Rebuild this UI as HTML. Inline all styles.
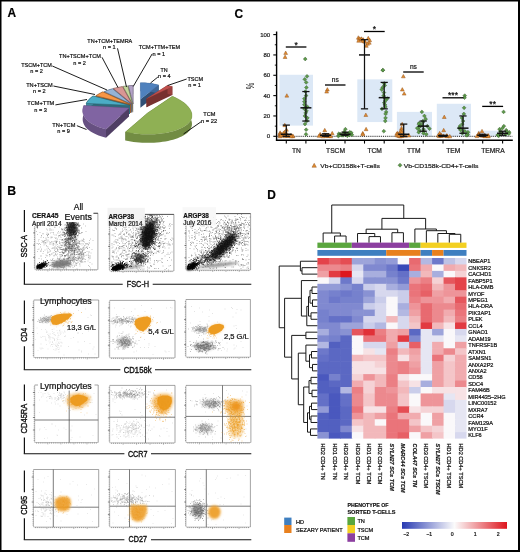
<!DOCTYPE html>
<html><head><meta charset="utf-8"><style>
html,body{margin:0;padding:0;background:#fff;width:520px;height:552px;overflow:hidden;font-family:"Liberation Sans",sans-serif;}
svg{display:block;will-change:transform}
</style></head><body>
<svg width="520" height="552" viewBox="0 0 520 552" font-family="Liberation Sans, sans-serif"><text x="7.5" y="17.4" font-size="11.9" font-weight="bold" fill="#000" stroke="#000" stroke-width="0.18">A</text>
<text x="7.3" y="195.1" font-size="12.3" font-weight="bold" fill="#000" stroke="#000" stroke-width="0.18">B</text>
<text x="234.6" y="17.9" font-size="11.9" font-weight="bold" fill="#000" stroke="#000" stroke-width="0.18">C</text>
<text x="267.3" y="199.2" font-size="11.9" font-weight="bold" fill="#000" stroke="#000" stroke-width="0.18">D</text>
<rect x="279.50" y="74.77" width="33.50" height="50.85" fill="#dce8f6"/>
<rect x="357.30" y="79.35" width="35.00" height="42.71" fill="#dce8f6"/>
<rect x="396.90" y="111.89" width="35.10" height="24.41" fill="#dce8f6"/>
<rect x="436.80" y="103.76" width="34.20" height="32.54" fill="#dce8f6"/>
<rect x="477.70" y="130.71" width="30.30" height="5.59" fill="#dce8f6"/>
<line x1="276.60" y1="136.30" x2="512.50" y2="136.30" stroke="#000" stroke-width="0.9" stroke-dasharray="1,0.9"/>
<line x1="276.60" y1="31.50" x2="276.60" y2="140.80" stroke="#000" stroke-width="1.4"/>
<line x1="273.30" y1="136.30" x2="276.60" y2="136.30" stroke="#000" stroke-width="1.1"/>
<text x="270.2" y="138.45000000000002" font-size="6" text-anchor="end" fill="#222" stroke="#222" stroke-width="0.22">0</text>
<line x1="273.30" y1="115.96" x2="276.60" y2="115.96" stroke="#000" stroke-width="1.1"/>
<text x="270.2" y="118.11000000000001" font-size="6" text-anchor="end" fill="#222" stroke="#222" stroke-width="0.22">20</text>
<line x1="273.30" y1="95.62" x2="276.60" y2="95.62" stroke="#000" stroke-width="1.1"/>
<text x="270.2" y="97.77000000000002" font-size="6" text-anchor="end" fill="#222" stroke="#222" stroke-width="0.22">40</text>
<line x1="273.30" y1="75.28" x2="276.60" y2="75.28" stroke="#000" stroke-width="1.1"/>
<text x="270.2" y="77.43000000000002" font-size="6" text-anchor="end" fill="#222" stroke="#222" stroke-width="0.22">60</text>
<line x1="273.30" y1="54.94" x2="276.60" y2="54.94" stroke="#000" stroke-width="1.1"/>
<text x="270.2" y="57.090000000000025" font-size="6" text-anchor="end" fill="#222" stroke="#222" stroke-width="0.22">80</text>
<line x1="273.30" y1="34.60" x2="276.60" y2="34.60" stroke="#000" stroke-width="1.1"/>
<text x="270.2" y="36.75000000000002" font-size="6" text-anchor="end" fill="#222" stroke="#222" stroke-width="0.22">100</text>
<line x1="274.80" y1="126.13" x2="276.60" y2="126.13" stroke="#000" stroke-width="0.9"/>
<line x1="274.80" y1="105.79" x2="276.60" y2="105.79" stroke="#000" stroke-width="0.9"/>
<line x1="274.80" y1="85.45" x2="276.60" y2="85.45" stroke="#000" stroke-width="0.9"/>
<line x1="274.80" y1="65.11" x2="276.60" y2="65.11" stroke="#000" stroke-width="0.9"/>
<line x1="274.80" y1="44.77" x2="276.60" y2="44.77" stroke="#000" stroke-width="0.9"/>
<text x="254.0" y="85.9" font-size="10.5" text-anchor="middle" textLength="6.6" lengthAdjust="spacingAndGlyphs" transform="rotate(-90 254.0 85.9)" fill="#222" stroke="#222" stroke-width="0.05">%</text>
<line x1="275.90" y1="140.30" x2="512.80" y2="140.30" stroke="#000" stroke-width="1.6"/>
<line x1="286.30" y1="140.30" x2="286.30" y2="143.60" stroke="#000" stroke-width="1.1"/>
<line x1="325.50" y1="140.30" x2="325.50" y2="143.60" stroke="#000" stroke-width="1.1"/>
<line x1="364.50" y1="140.30" x2="364.50" y2="143.60" stroke="#000" stroke-width="1.1"/>
<line x1="403.70" y1="140.30" x2="403.70" y2="143.60" stroke="#000" stroke-width="1.1"/>
<line x1="443.00" y1="140.30" x2="443.00" y2="143.60" stroke="#000" stroke-width="1.1"/>
<line x1="482.70" y1="140.30" x2="482.70" y2="143.60" stroke="#000" stroke-width="1.1"/>
<line x1="305.90" y1="140.30" x2="305.90" y2="143.60" stroke="#000" stroke-width="1.1"/>
<line x1="345.00" y1="140.30" x2="345.00" y2="143.60" stroke="#000" stroke-width="1.1"/>
<line x1="384.20" y1="140.30" x2="384.20" y2="143.60" stroke="#000" stroke-width="1.1"/>
<line x1="423.20" y1="140.30" x2="423.20" y2="143.60" stroke="#000" stroke-width="1.1"/>
<line x1="463.00" y1="140.30" x2="463.00" y2="143.60" stroke="#000" stroke-width="1.1"/>
<line x1="502.60" y1="140.30" x2="502.60" y2="143.60" stroke="#000" stroke-width="1.1"/>
<text x="296.40000000000003" y="153.2" font-size="6.7" text-anchor="middle" fill="#222" stroke="#222" stroke-width="0.22">TN</text>
<text x="335.55" y="153.2" font-size="6.7" text-anchor="middle" fill="#222" stroke="#222" stroke-width="0.22">TSCM</text>
<text x="374.65000000000003" y="153.2" font-size="6.7" text-anchor="middle" fill="#222" stroke="#222" stroke-width="0.22">TCM</text>
<text x="413.75" y="153.2" font-size="6.7" text-anchor="middle" fill="#222" stroke="#222" stroke-width="0.22">TTM</text>
<text x="453.3" y="153.2" font-size="6.7" text-anchor="middle" fill="#222" stroke="#222" stroke-width="0.22">TEM</text>
<text x="492.95" y="153.2" font-size="6.7" text-anchor="middle" fill="#222" stroke="#222" stroke-width="0.22">TEMRA</text>
<path d="M285.68,51.01L287.58,54.43L283.78,54.43Z" fill="#e08c30" stroke="#8f501c" stroke-width="0.45" fill-opacity="1"/>
<path d="M285.08,55.07L286.98,58.49L283.18,58.49Z" fill="#e08c30" stroke="#8f501c" stroke-width="0.45" fill-opacity="1"/>
<path d="M286.83,93.72L288.73,97.14L284.93,97.14Z" fill="#e08c30" stroke="#8f501c" stroke-width="0.45" fill-opacity="1"/>
<path d="M284.80,123.21L286.70,126.63L282.90,126.63Z" fill="#e08c30" stroke="#8f501c" stroke-width="0.45" fill-opacity="1"/>
<path d="M286.48,127.79L288.38,131.21L284.58,131.21Z" fill="#e08c30" stroke="#8f501c" stroke-width="0.45" fill-opacity="1"/>
<path d="M284.42,130.33L286.32,133.75L282.52,133.75Z" fill="#e08c30" stroke="#8f501c" stroke-width="0.45" fill-opacity="1"/>
<path d="M280.11,130.84L282.01,134.26L278.21,134.26Z" fill="#e08c30" stroke="#8f501c" stroke-width="0.45" fill-opacity="1"/>
<path d="M286.40,131.35L288.30,134.77L284.50,134.77Z" fill="#e08c30" stroke="#8f501c" stroke-width="0.45" fill-opacity="1"/>
<path d="M279.82,131.86L281.72,135.28L277.92,135.28Z" fill="#e08c30" stroke="#8f501c" stroke-width="0.45" fill-opacity="1"/>
<path d="M285.37,132.37L287.27,135.79L283.47,135.79Z" fill="#e08c30" stroke="#8f501c" stroke-width="0.45" fill-opacity="1"/>
<path d="M280.28,132.37L282.18,135.79L278.38,135.79Z" fill="#e08c30" stroke="#8f501c" stroke-width="0.45" fill-opacity="1"/>
<path d="M280.57,132.87L282.47,136.29L278.67,136.29Z" fill="#e08c30" stroke="#8f501c" stroke-width="0.45" fill-opacity="1"/>
<path d="M285.24,132.87L287.14,136.29L283.34,136.29Z" fill="#e08c30" stroke="#8f501c" stroke-width="0.45" fill-opacity="1"/>
<path d="M290.88,133.38L292.78,136.80L288.98,136.80Z" fill="#e08c30" stroke="#8f501c" stroke-width="0.45" fill-opacity="1"/>
<path d="M281.03,133.38L282.93,136.80L279.13,136.80Z" fill="#e08c30" stroke="#8f501c" stroke-width="0.45" fill-opacity="1"/>
<path d="M282.43,133.59L284.33,137.01L280.53,137.01Z" fill="#e08c30" stroke="#8f501c" stroke-width="0.45" fill-opacity="1"/>
<path d="M288.08,133.89L289.98,137.31L286.18,137.31Z" fill="#e08c30" stroke="#8f501c" stroke-width="0.45" fill-opacity="1"/>
<path d="M292.57,133.89L294.47,137.31L290.67,137.31Z" fill="#e08c30" stroke="#8f501c" stroke-width="0.45" fill-opacity="1"/>
<path d="M287.38,134.09L289.28,137.51L285.48,137.51Z" fill="#e08c30" stroke="#8f501c" stroke-width="0.45" fill-opacity="1"/>
<path d="M284.85,134.20L286.75,137.62L282.95,137.62Z" fill="#e08c30" stroke="#8f501c" stroke-width="0.45" fill-opacity="1"/>
<path d="M292.97,134.30L294.87,137.72L291.07,137.72Z" fill="#e08c30" stroke="#8f501c" stroke-width="0.45" fill-opacity="1"/>
<path d="M279.95,134.40L281.85,137.82L278.05,137.82Z" fill="#e08c30" stroke="#8f501c" stroke-width="0.45" fill-opacity="1"/>
<path d="M291.32,134.40L293.22,137.82L289.42,137.82Z" fill="#e08c30" stroke="#8f501c" stroke-width="0.45" fill-opacity="1"/>
<path d="M283.35,131.35L285.25,134.77L281.45,134.77Z" fill="#e08c30" stroke="#8f501c" stroke-width="0.45" fill-opacity="1"/>
<path d="M281.32,132.37L283.22,135.79L279.42,135.79Z" fill="#e08c30" stroke="#8f501c" stroke-width="0.45" fill-opacity="1"/>
<path d="M280.95,133.38L282.85,136.80L279.05,136.80Z" fill="#e08c30" stroke="#8f501c" stroke-width="0.45" fill-opacity="1"/>
<path d="M305.23,57.11L307.13,59.01L305.23,60.91L303.33,59.01Z" fill="#5c9a4a" stroke="#3a5a30" stroke-width="0.45" fill-opacity="1"/>
<path d="M307.01,74.40L308.91,76.30L307.01,78.20L305.11,76.30Z" fill="#5c9a4a" stroke="#3a5a30" stroke-width="0.45" fill-opacity="1"/>
<path d="M304.78,77.45L306.68,79.35L304.78,81.25L302.88,79.35Z" fill="#5c9a4a" stroke="#3a5a30" stroke-width="0.45" fill-opacity="1"/>
<path d="M306.19,80.50L308.09,82.40L306.19,84.30L304.29,82.40Z" fill="#5c9a4a" stroke="#3a5a30" stroke-width="0.45" fill-opacity="1"/>
<path d="M306.39,85.58L308.29,87.48L306.39,89.38L304.49,87.48Z" fill="#5c9a4a" stroke="#3a5a30" stroke-width="0.45" fill-opacity="1"/>
<path d="M305.45,89.65L307.35,91.55L305.45,93.45L303.55,91.55Z" fill="#5c9a4a" stroke="#3a5a30" stroke-width="0.45" fill-opacity="1"/>
<path d="M306.07,93.72L307.97,95.62L306.07,97.52L304.17,95.62Z" fill="#5c9a4a" stroke="#3a5a30" stroke-width="0.45" fill-opacity="1"/>
<path d="M304.37,96.77L306.27,98.67L304.37,100.57L302.47,98.67Z" fill="#5c9a4a" stroke="#3a5a30" stroke-width="0.45" fill-opacity="1"/>
<path d="M304.36,99.82L306.26,101.72L304.36,103.62L302.46,101.72Z" fill="#5c9a4a" stroke="#3a5a30" stroke-width="0.45" fill-opacity="1"/>
<path d="M304.43,102.87L306.33,104.77L304.43,106.67L302.53,104.77Z" fill="#5c9a4a" stroke="#3a5a30" stroke-width="0.45" fill-opacity="1"/>
<path d="M307.34,104.91L309.24,106.81L307.34,108.71L305.44,106.81Z" fill="#5c9a4a" stroke="#3a5a30" stroke-width="0.45" fill-opacity="1"/>
<path d="M305.43,105.92L307.33,107.82L305.43,109.72L303.53,107.82Z" fill="#5c9a4a" stroke="#3a5a30" stroke-width="0.45" fill-opacity="1"/>
<path d="M304.41,106.94L306.31,108.84L304.41,110.74L302.51,108.84Z" fill="#5c9a4a" stroke="#3a5a30" stroke-width="0.45" fill-opacity="1"/>
<path d="M306.46,108.98L308.36,110.88L306.46,112.78L304.56,110.88Z" fill="#5c9a4a" stroke="#3a5a30" stroke-width="0.45" fill-opacity="1"/>
<path d="M305.67,111.01L307.57,112.91L305.67,114.81L303.77,112.91Z" fill="#5c9a4a" stroke="#3a5a30" stroke-width="0.45" fill-opacity="1"/>
<path d="M304.90,114.06L306.80,115.96L304.90,117.86L303.00,115.96Z" fill="#5c9a4a" stroke="#3a5a30" stroke-width="0.45" fill-opacity="1"/>
<path d="M307.37,116.09L309.27,117.99L307.37,119.89L305.47,117.99Z" fill="#5c9a4a" stroke="#3a5a30" stroke-width="0.45" fill-opacity="1"/>
<path d="M306.60,119.15L308.50,121.05L306.60,122.95L304.70,121.05Z" fill="#5c9a4a" stroke="#3a5a30" stroke-width="0.45" fill-opacity="1"/>
<path d="M305.00,122.20L306.90,124.10L305.00,126.00L303.10,124.10Z" fill="#5c9a4a" stroke="#3a5a30" stroke-width="0.45" fill-opacity="1"/>
<path d="M306.16,127.79L308.06,129.69L306.16,131.59L304.26,129.69Z" fill="#5c9a4a" stroke="#3a5a30" stroke-width="0.45" fill-opacity="1"/>
<path d="M305.99,132.37L307.89,134.27L305.99,136.17L304.09,134.27Z" fill="#5c9a4a" stroke="#3a5a30" stroke-width="0.45" fill-opacity="1"/>
<path d="M327.38,87.62L329.28,91.04L325.48,91.04Z" fill="#e08c30" stroke="#8f501c" stroke-width="0.45" fill-opacity="1"/>
<path d="M326.65,89.65L328.55,93.07L324.75,93.07Z" fill="#e08c30" stroke="#8f501c" stroke-width="0.45" fill-opacity="1"/>
<path d="M324.76,128.30L326.66,131.72L322.86,131.72Z" fill="#e08c30" stroke="#8f501c" stroke-width="0.45" fill-opacity="1"/>
<path d="M332.22,131.35L334.12,134.77L330.32,134.77Z" fill="#e08c30" stroke="#8f501c" stroke-width="0.45" fill-opacity="1"/>
<path d="M320.15,132.37L322.05,135.79L318.25,135.79Z" fill="#e08c30" stroke="#8f501c" stroke-width="0.45" fill-opacity="1"/>
<path d="M324.35,132.87L326.25,136.29L322.45,136.29Z" fill="#e08c30" stroke="#8f501c" stroke-width="0.45" fill-opacity="1"/>
<path d="M329.10,133.38L331.00,136.80L327.20,136.80Z" fill="#e08c30" stroke="#8f501c" stroke-width="0.45" fill-opacity="1"/>
<path d="M320.63,133.38L322.53,136.80L318.73,136.80Z" fill="#e08c30" stroke="#8f501c" stroke-width="0.45" fill-opacity="1"/>
<path d="M325.35,133.59L327.25,137.01L323.45,137.01Z" fill="#e08c30" stroke="#8f501c" stroke-width="0.45" fill-opacity="1"/>
<path d="M319.05,133.89L320.95,137.31L317.15,137.31Z" fill="#e08c30" stroke="#8f501c" stroke-width="0.45" fill-opacity="1"/>
<path d="M327.86,133.89L329.76,137.31L325.96,137.31Z" fill="#e08c30" stroke="#8f501c" stroke-width="0.45" fill-opacity="1"/>
<path d="M329.20,134.09L331.10,137.51L327.30,137.51Z" fill="#e08c30" stroke="#8f501c" stroke-width="0.45" fill-opacity="1"/>
<path d="M326.52,134.20L328.42,137.62L324.62,137.62Z" fill="#e08c30" stroke="#8f501c" stroke-width="0.45" fill-opacity="1"/>
<path d="M330.76,134.30L332.66,137.72L328.86,137.72Z" fill="#e08c30" stroke="#8f501c" stroke-width="0.45" fill-opacity="1"/>
<path d="M322.89,134.40L324.79,137.82L320.99,137.82Z" fill="#e08c30" stroke="#8f501c" stroke-width="0.45" fill-opacity="1"/>
<path d="M328.23,133.79L330.13,137.21L326.33,137.21Z" fill="#e08c30" stroke="#8f501c" stroke-width="0.45" fill-opacity="1"/>
<path d="M326.82,133.18L328.72,136.60L324.92,136.60Z" fill="#e08c30" stroke="#8f501c" stroke-width="0.45" fill-opacity="1"/>
<path d="M345.40,127.28L347.30,129.18L345.40,131.08L343.50,129.18Z" fill="#5c9a4a" stroke="#3a5a30" stroke-width="0.45" fill-opacity="1"/>
<path d="M344.39,129.82L346.29,131.72L344.39,133.62L342.49,131.72Z" fill="#5c9a4a" stroke="#3a5a30" stroke-width="0.45" fill-opacity="1"/>
<path d="M349.76,130.33L351.66,132.23L349.76,134.13L347.86,132.23Z" fill="#5c9a4a" stroke="#3a5a30" stroke-width="0.45" fill-opacity="1"/>
<path d="M351.23,130.84L353.13,132.74L351.23,134.64L349.33,132.74Z" fill="#5c9a4a" stroke="#3a5a30" stroke-width="0.45" fill-opacity="1"/>
<path d="M344.64,131.35L346.54,133.25L344.64,135.15L342.74,133.25Z" fill="#5c9a4a" stroke="#3a5a30" stroke-width="0.45" fill-opacity="1"/>
<path d="M347.30,131.86L349.20,133.76L347.30,135.66L345.40,133.76Z" fill="#5c9a4a" stroke="#3a5a30" stroke-width="0.45" fill-opacity="1"/>
<path d="M338.85,131.86L340.75,133.76L338.85,135.66L336.95,133.76Z" fill="#5c9a4a" stroke="#3a5a30" stroke-width="0.45" fill-opacity="1"/>
<path d="M347.82,132.37L349.72,134.27L347.82,136.17L345.92,134.27Z" fill="#5c9a4a" stroke="#3a5a30" stroke-width="0.45" fill-opacity="1"/>
<path d="M347.06,132.37L348.96,134.27L347.06,136.17L345.16,134.27Z" fill="#5c9a4a" stroke="#3a5a30" stroke-width="0.45" fill-opacity="1"/>
<path d="M351.90,132.87L353.80,134.77L351.90,136.67L350.00,134.77Z" fill="#5c9a4a" stroke="#3a5a30" stroke-width="0.45" fill-opacity="1"/>
<path d="M349.51,132.87L351.41,134.77L349.51,136.67L347.61,134.77Z" fill="#5c9a4a" stroke="#3a5a30" stroke-width="0.45" fill-opacity="1"/>
<path d="M341.98,133.38L343.88,135.28L341.98,137.18L340.08,135.28Z" fill="#5c9a4a" stroke="#3a5a30" stroke-width="0.45" fill-opacity="1"/>
<path d="M343.40,133.38L345.30,135.28L343.40,137.18L341.50,135.28Z" fill="#5c9a4a" stroke="#3a5a30" stroke-width="0.45" fill-opacity="1"/>
<path d="M347.36,133.89L349.26,135.79L347.36,137.69L345.46,135.79Z" fill="#5c9a4a" stroke="#3a5a30" stroke-width="0.45" fill-opacity="1"/>
<path d="M338.32,134.09L340.22,135.99L338.32,137.89L336.42,135.99Z" fill="#5c9a4a" stroke="#3a5a30" stroke-width="0.45" fill-opacity="1"/>
<path d="M344.46,131.35L346.36,133.25L344.46,135.15L342.56,133.25Z" fill="#5c9a4a" stroke="#3a5a30" stroke-width="0.45" fill-opacity="1"/>
<path d="M340.35,132.37L342.25,134.27L340.35,136.17L338.45,134.27Z" fill="#5c9a4a" stroke="#3a5a30" stroke-width="0.45" fill-opacity="1"/>
<path d="M339.64,133.18L341.54,135.08L339.64,136.98L337.74,135.08Z" fill="#5c9a4a" stroke="#3a5a30" stroke-width="0.45" fill-opacity="1"/>
<path d="M358.33,35.75L360.23,39.17L356.43,39.17Z" fill="#e08c30" stroke="#8f501c" stroke-width="0.45" fill-opacity="1"/>
<path d="M368.26,36.26L370.16,39.68L366.36,39.68Z" fill="#e08c30" stroke="#8f501c" stroke-width="0.45" fill-opacity="1"/>
<path d="M359.31,36.77L361.21,40.19L357.41,40.19Z" fill="#e08c30" stroke="#8f501c" stroke-width="0.45" fill-opacity="1"/>
<path d="M360.97,37.28L362.87,40.70L359.07,40.70Z" fill="#e08c30" stroke="#8f501c" stroke-width="0.45" fill-opacity="1"/>
<path d="M362.97,37.79L364.87,41.21L361.07,41.21Z" fill="#e08c30" stroke="#8f501c" stroke-width="0.45" fill-opacity="1"/>
<path d="M369.70,38.29L371.60,41.71L367.80,41.71Z" fill="#e08c30" stroke="#8f501c" stroke-width="0.45" fill-opacity="1"/>
<path d="M358.63,38.80L360.53,42.22L356.73,42.22Z" fill="#e08c30" stroke="#8f501c" stroke-width="0.45" fill-opacity="1"/>
<path d="M363.79,39.31L365.69,42.73L361.89,42.73Z" fill="#e08c30" stroke="#8f501c" stroke-width="0.45" fill-opacity="1"/>
<path d="M365.19,39.82L367.09,43.24L363.29,43.24Z" fill="#e08c30" stroke="#8f501c" stroke-width="0.45" fill-opacity="1"/>
<path d="M369.29,40.84L371.19,44.26L367.39,44.26Z" fill="#e08c30" stroke="#8f501c" stroke-width="0.45" fill-opacity="1"/>
<path d="M367.53,41.85L369.43,45.27L365.63,45.27Z" fill="#e08c30" stroke="#8f501c" stroke-width="0.45" fill-opacity="1"/>
<path d="M366.32,43.89L368.22,47.31L364.42,47.31Z" fill="#e08c30" stroke="#8f501c" stroke-width="0.45" fill-opacity="1"/>
<path d="M361.40,36.77L363.30,40.19L359.50,40.19Z" fill="#e08c30" stroke="#8f501c" stroke-width="0.45" fill-opacity="1"/>
<path d="M363.31,37.79L365.21,41.21L361.41,41.21Z" fill="#e08c30" stroke="#8f501c" stroke-width="0.45" fill-opacity="1"/>
<path d="M362.52,38.80L364.42,42.22L360.62,42.22Z" fill="#e08c30" stroke="#8f501c" stroke-width="0.45" fill-opacity="1"/>
<path d="M365.84,113.04L367.74,116.46L363.94,116.46Z" fill="#e08c30" stroke="#8f501c" stroke-width="0.45" fill-opacity="1"/>
<path d="M366.10,127.28L368.00,130.70L364.20,130.70Z" fill="#e08c30" stroke="#8f501c" stroke-width="0.45" fill-opacity="1"/>
<path d="M362.75,131.35L364.65,134.77L360.85,134.77Z" fill="#e08c30" stroke="#8f501c" stroke-width="0.45" fill-opacity="1"/>
<path d="M362.88,132.37L364.78,135.79L360.98,135.79Z" fill="#e08c30" stroke="#8f501c" stroke-width="0.45" fill-opacity="1"/>
<path d="M382.86,68.30L384.76,70.20L382.86,72.10L380.96,70.20Z" fill="#5c9a4a" stroke="#3a5a30" stroke-width="0.45" fill-opacity="1"/>
<path d="M382.87,68.30L384.77,70.20L382.87,72.10L380.97,70.20Z" fill="#5c9a4a" stroke="#3a5a30" stroke-width="0.45" fill-opacity="1"/>
<path d="M384.12,81.52L386.02,83.42L384.12,85.32L382.22,83.42Z" fill="#5c9a4a" stroke="#3a5a30" stroke-width="0.45" fill-opacity="1"/>
<path d="M384.78,83.55L386.68,85.45L384.78,87.35L382.88,85.45Z" fill="#5c9a4a" stroke="#3a5a30" stroke-width="0.45" fill-opacity="1"/>
<path d="M382.66,85.58L384.56,87.48L382.66,89.38L380.76,87.48Z" fill="#5c9a4a" stroke="#3a5a30" stroke-width="0.45" fill-opacity="1"/>
<path d="M381.72,87.62L383.62,89.52L381.72,91.42L379.82,89.52Z" fill="#5c9a4a" stroke="#3a5a30" stroke-width="0.45" fill-opacity="1"/>
<path d="M383.92,90.67L385.82,92.57L383.92,94.47L382.02,92.57Z" fill="#5c9a4a" stroke="#3a5a30" stroke-width="0.45" fill-opacity="1"/>
<path d="M383.55,93.72L385.45,95.62L383.55,97.52L381.65,95.62Z" fill="#5c9a4a" stroke="#3a5a30" stroke-width="0.45" fill-opacity="1"/>
<path d="M384.63,95.75L386.53,97.65L384.63,99.55L382.73,97.65Z" fill="#5c9a4a" stroke="#3a5a30" stroke-width="0.45" fill-opacity="1"/>
<path d="M387.15,96.77L389.05,98.67L387.15,100.57L385.25,98.67Z" fill="#5c9a4a" stroke="#3a5a30" stroke-width="0.45" fill-opacity="1"/>
<path d="M385.44,98.81L387.34,100.71L385.44,102.61L383.54,100.71Z" fill="#5c9a4a" stroke="#3a5a30" stroke-width="0.45" fill-opacity="1"/>
<path d="M384.30,100.84L386.20,102.74L384.30,104.64L382.40,102.74Z" fill="#5c9a4a" stroke="#3a5a30" stroke-width="0.45" fill-opacity="1"/>
<path d="M384.96,102.87L386.86,104.77L384.96,106.67L383.06,104.77Z" fill="#5c9a4a" stroke="#3a5a30" stroke-width="0.45" fill-opacity="1"/>
<path d="M385.35,104.91L387.25,106.81L385.35,108.71L383.45,106.81Z" fill="#5c9a4a" stroke="#3a5a30" stroke-width="0.45" fill-opacity="1"/>
<path d="M381.97,106.94L383.87,108.84L381.97,110.74L380.07,108.84Z" fill="#5c9a4a" stroke="#3a5a30" stroke-width="0.45" fill-opacity="1"/>
<path d="M386.20,109.99L388.10,111.89L386.20,113.79L384.30,111.89Z" fill="#5c9a4a" stroke="#3a5a30" stroke-width="0.45" fill-opacity="1"/>
<path d="M385.60,112.03L387.50,113.93L385.60,115.83L383.70,113.93Z" fill="#5c9a4a" stroke="#3a5a30" stroke-width="0.45" fill-opacity="1"/>
<path d="M385.51,116.09L387.41,117.99L385.51,119.89L383.61,117.99Z" fill="#5c9a4a" stroke="#3a5a30" stroke-width="0.45" fill-opacity="1"/>
<path d="M385.24,119.15L387.14,121.05L385.24,122.95L383.34,121.05Z" fill="#5c9a4a" stroke="#3a5a30" stroke-width="0.45" fill-opacity="1"/>
<path d="M383.82,129.31L385.72,131.22L383.82,133.12L381.92,131.22Z" fill="#5c9a4a" stroke="#3a5a30" stroke-width="0.45" fill-opacity="1"/>
<path d="M403.35,74.40L405.25,77.82L401.45,77.82Z" fill="#e08c30" stroke="#8f501c" stroke-width="0.45" fill-opacity="1"/>
<path d="M402.31,87.62L404.21,91.04L400.41,91.04Z" fill="#e08c30" stroke="#8f501c" stroke-width="0.45" fill-opacity="1"/>
<path d="M404.17,91.69L406.07,95.11L402.27,95.11Z" fill="#e08c30" stroke="#8f501c" stroke-width="0.45" fill-opacity="1"/>
<path d="M402.17,122.20L404.07,125.62L400.27,125.62Z" fill="#e08c30" stroke="#8f501c" stroke-width="0.45" fill-opacity="1"/>
<path d="M401.54,126.26L403.44,129.68L399.64,129.68Z" fill="#e08c30" stroke="#8f501c" stroke-width="0.45" fill-opacity="1"/>
<path d="M401.37,128.30L403.27,131.72L399.47,131.72Z" fill="#e08c30" stroke="#8f501c" stroke-width="0.45" fill-opacity="1"/>
<path d="M400.49,129.31L402.39,132.74L398.59,132.74Z" fill="#e08c30" stroke="#8f501c" stroke-width="0.45" fill-opacity="1"/>
<path d="M401.70,130.33L403.60,133.75L399.80,133.75Z" fill="#e08c30" stroke="#8f501c" stroke-width="0.45" fill-opacity="1"/>
<path d="M397.44,131.35L399.34,134.77L395.54,134.77Z" fill="#e08c30" stroke="#8f501c" stroke-width="0.45" fill-opacity="1"/>
<path d="M396.70,131.86L398.60,135.28L394.80,135.28Z" fill="#e08c30" stroke="#8f501c" stroke-width="0.45" fill-opacity="1"/>
<path d="M398.82,132.37L400.72,135.79L396.92,135.79Z" fill="#e08c30" stroke="#8f501c" stroke-width="0.45" fill-opacity="1"/>
<path d="M398.12,132.87L400.02,136.29L396.22,136.29Z" fill="#e08c30" stroke="#8f501c" stroke-width="0.45" fill-opacity="1"/>
<path d="M401.79,133.38L403.69,136.80L399.89,136.80Z" fill="#e08c30" stroke="#8f501c" stroke-width="0.45" fill-opacity="1"/>
<path d="M397.06,133.38L398.96,136.80L395.16,136.80Z" fill="#e08c30" stroke="#8f501c" stroke-width="0.45" fill-opacity="1"/>
<path d="M408.94,133.59L410.84,137.01L407.04,137.01Z" fill="#e08c30" stroke="#8f501c" stroke-width="0.45" fill-opacity="1"/>
<path d="M405.30,133.89L407.20,137.31L403.40,137.31Z" fill="#e08c30" stroke="#8f501c" stroke-width="0.45" fill-opacity="1"/>
<path d="M398.78,134.09L400.68,137.51L396.88,137.51Z" fill="#e08c30" stroke="#8f501c" stroke-width="0.45" fill-opacity="1"/>
<path d="M400.23,134.40L402.13,137.82L398.33,137.82Z" fill="#e08c30" stroke="#8f501c" stroke-width="0.45" fill-opacity="1"/>
<path d="M401.56,134.20L403.46,137.62L399.66,137.62Z" fill="#e08c30" stroke="#8f501c" stroke-width="0.45" fill-opacity="1"/>
<path d="M401.80,133.79L403.70,137.21L399.90,137.21Z" fill="#e08c30" stroke="#8f501c" stroke-width="0.45" fill-opacity="1"/>
<path d="M421.88,109.99L423.78,111.89L421.88,113.79L419.98,111.89Z" fill="#5c9a4a" stroke="#3a5a30" stroke-width="0.45" fill-opacity="1"/>
<path d="M424.42,114.06L426.32,115.96L424.42,117.86L422.52,115.96Z" fill="#5c9a4a" stroke="#3a5a30" stroke-width="0.45" fill-opacity="1"/>
<path d="M425.67,117.11L427.57,119.01L425.67,120.91L423.77,119.01Z" fill="#5c9a4a" stroke="#3a5a30" stroke-width="0.45" fill-opacity="1"/>
<path d="M422.93,119.15L424.83,121.05L422.93,122.95L421.03,121.05Z" fill="#5c9a4a" stroke="#3a5a30" stroke-width="0.45" fill-opacity="1"/>
<path d="M423.07,120.16L424.97,122.06L423.07,123.96L421.17,122.06Z" fill="#5c9a4a" stroke="#3a5a30" stroke-width="0.45" fill-opacity="1"/>
<path d="M419.27,121.18L421.17,123.08L419.27,124.98L417.37,123.08Z" fill="#5c9a4a" stroke="#3a5a30" stroke-width="0.45" fill-opacity="1"/>
<path d="M418.82,122.20L420.72,124.10L418.82,126.00L416.92,124.10Z" fill="#5c9a4a" stroke="#3a5a30" stroke-width="0.45" fill-opacity="1"/>
<path d="M421.47,123.21L423.37,125.11L421.47,127.01L419.57,125.11Z" fill="#5c9a4a" stroke="#3a5a30" stroke-width="0.45" fill-opacity="1"/>
<path d="M420.26,124.23L422.16,126.13L420.26,128.03L418.36,126.13Z" fill="#5c9a4a" stroke="#3a5a30" stroke-width="0.45" fill-opacity="1"/>
<path d="M427.31,124.23L429.21,126.13L427.31,128.03L425.41,126.13Z" fill="#5c9a4a" stroke="#3a5a30" stroke-width="0.45" fill-opacity="1"/>
<path d="M418.97,125.25L420.87,127.15L418.97,129.05L417.07,127.15Z" fill="#5c9a4a" stroke="#3a5a30" stroke-width="0.45" fill-opacity="1"/>
<path d="M417.24,126.26L419.14,128.16L417.24,130.06L415.34,128.16Z" fill="#5c9a4a" stroke="#3a5a30" stroke-width="0.45" fill-opacity="1"/>
<path d="M429.51,126.77L431.41,128.67L429.51,130.57L427.61,128.67Z" fill="#5c9a4a" stroke="#3a5a30" stroke-width="0.45" fill-opacity="1"/>
<path d="M423.51,127.28L425.41,129.18L423.51,131.08L421.61,129.18Z" fill="#5c9a4a" stroke="#3a5a30" stroke-width="0.45" fill-opacity="1"/>
<path d="M419.31,128.30L421.21,130.20L419.31,132.10L417.41,130.20Z" fill="#5c9a4a" stroke="#3a5a30" stroke-width="0.45" fill-opacity="1"/>
<path d="M423.67,129.31L425.57,131.22L423.67,133.12L421.77,131.22Z" fill="#5c9a4a" stroke="#3a5a30" stroke-width="0.45" fill-opacity="1"/>
<path d="M418.71,130.33L420.61,132.23L418.71,134.13L416.81,132.23Z" fill="#5c9a4a" stroke="#3a5a30" stroke-width="0.45" fill-opacity="1"/>
<path d="M423.42,131.35L425.32,133.25L423.42,135.15L421.52,133.25Z" fill="#5c9a4a" stroke="#3a5a30" stroke-width="0.45" fill-opacity="1"/>
<path d="M426.31,132.37L428.21,134.27L426.31,136.17L424.41,134.27Z" fill="#5c9a4a" stroke="#3a5a30" stroke-width="0.45" fill-opacity="1"/>
<path d="M444.27,115.08L446.17,118.50L442.37,118.50Z" fill="#e08c30" stroke="#8f501c" stroke-width="0.45" fill-opacity="1"/>
<path d="M443.69,128.30L445.59,131.72L441.79,131.72Z" fill="#e08c30" stroke="#8f501c" stroke-width="0.45" fill-opacity="1"/>
<path d="M439.66,131.35L441.56,134.77L437.76,134.77Z" fill="#e08c30" stroke="#8f501c" stroke-width="0.45" fill-opacity="1"/>
<path d="M441.13,132.87L443.03,136.29L439.23,136.29Z" fill="#e08c30" stroke="#8f501c" stroke-width="0.45" fill-opacity="1"/>
<path d="M438.34,133.38L440.24,136.80L436.44,136.80Z" fill="#e08c30" stroke="#8f501c" stroke-width="0.45" fill-opacity="1"/>
<path d="M446.81,133.59L448.71,137.01L444.91,137.01Z" fill="#e08c30" stroke="#8f501c" stroke-width="0.45" fill-opacity="1"/>
<path d="M443.46,133.89L445.36,137.31L441.56,137.31Z" fill="#e08c30" stroke="#8f501c" stroke-width="0.45" fill-opacity="1"/>
<path d="M446.91,133.99L448.81,137.41L445.01,137.41Z" fill="#e08c30" stroke="#8f501c" stroke-width="0.45" fill-opacity="1"/>
<path d="M440.62,134.09L442.52,137.51L438.72,137.51Z" fill="#e08c30" stroke="#8f501c" stroke-width="0.45" fill-opacity="1"/>
<path d="M439.12,134.20L441.02,137.62L437.22,137.62Z" fill="#e08c30" stroke="#8f501c" stroke-width="0.45" fill-opacity="1"/>
<path d="M447.36,134.30L449.26,137.72L445.46,137.72Z" fill="#e08c30" stroke="#8f501c" stroke-width="0.45" fill-opacity="1"/>
<path d="M449.79,134.40L451.69,137.82L447.89,137.82Z" fill="#e08c30" stroke="#8f501c" stroke-width="0.45" fill-opacity="1"/>
<path d="M464.76,93.72L466.66,95.62L464.76,97.52L462.86,95.62Z" fill="#5c9a4a" stroke="#3a5a30" stroke-width="0.45" fill-opacity="1"/>
<path d="M464.53,95.75L466.43,97.65L464.53,99.55L462.63,97.65Z" fill="#5c9a4a" stroke="#3a5a30" stroke-width="0.45" fill-opacity="1"/>
<path d="M464.11,105.92L466.01,107.82L464.11,109.72L462.21,107.82Z" fill="#5c9a4a" stroke="#3a5a30" stroke-width="0.45" fill-opacity="1"/>
<path d="M463.84,112.03L465.74,113.93L463.84,115.83L461.94,113.93Z" fill="#5c9a4a" stroke="#3a5a30" stroke-width="0.45" fill-opacity="1"/>
<path d="M462.04,116.09L463.94,117.99L462.04,119.89L460.14,117.99Z" fill="#5c9a4a" stroke="#3a5a30" stroke-width="0.45" fill-opacity="1"/>
<path d="M463.06,119.15L464.96,121.05L463.06,122.95L461.16,121.05Z" fill="#5c9a4a" stroke="#3a5a30" stroke-width="0.45" fill-opacity="1"/>
<path d="M462.28,122.20L464.18,124.10L462.28,126.00L460.38,124.10Z" fill="#5c9a4a" stroke="#3a5a30" stroke-width="0.45" fill-opacity="1"/>
<path d="M459.94,124.23L461.84,126.13L459.94,128.03L458.04,126.13Z" fill="#5c9a4a" stroke="#3a5a30" stroke-width="0.45" fill-opacity="1"/>
<path d="M459.22,126.26L461.12,128.16L459.22,130.06L457.32,128.16Z" fill="#5c9a4a" stroke="#3a5a30" stroke-width="0.45" fill-opacity="1"/>
<path d="M461.24,127.28L463.14,129.18L461.24,131.08L459.34,129.18Z" fill="#5c9a4a" stroke="#3a5a30" stroke-width="0.45" fill-opacity="1"/>
<path d="M460.71,128.30L462.61,130.20L460.71,132.10L458.81,130.20Z" fill="#5c9a4a" stroke="#3a5a30" stroke-width="0.45" fill-opacity="1"/>
<path d="M464.83,129.31L466.73,131.22L464.83,133.12L462.93,131.22Z" fill="#5c9a4a" stroke="#3a5a30" stroke-width="0.45" fill-opacity="1"/>
<path d="M468.02,130.33L469.92,132.23L468.02,134.13L466.12,132.23Z" fill="#5c9a4a" stroke="#3a5a30" stroke-width="0.45" fill-opacity="1"/>
<path d="M462.42,131.35L464.32,133.25L462.42,135.15L460.52,133.25Z" fill="#5c9a4a" stroke="#3a5a30" stroke-width="0.45" fill-opacity="1"/>
<path d="M467.15,132.37L469.05,134.27L467.15,136.17L465.25,134.27Z" fill="#5c9a4a" stroke="#3a5a30" stroke-width="0.45" fill-opacity="1"/>
<path d="M467.64,132.87L469.54,134.77L467.64,136.67L465.74,134.77Z" fill="#5c9a4a" stroke="#3a5a30" stroke-width="0.45" fill-opacity="1"/>
<path d="M466.64,133.38L468.54,135.28L466.64,137.18L464.74,135.28Z" fill="#5c9a4a" stroke="#3a5a30" stroke-width="0.45" fill-opacity="1"/>
<path d="M482.02,129.31L483.92,132.74L480.12,132.74Z" fill="#e08c30" stroke="#8f501c" stroke-width="0.45" fill-opacity="1"/>
<path d="M478.79,131.35L480.69,134.77L476.89,134.77Z" fill="#e08c30" stroke="#8f501c" stroke-width="0.45" fill-opacity="1"/>
<path d="M478.88,132.37L480.78,135.79L476.98,135.79Z" fill="#e08c30" stroke="#8f501c" stroke-width="0.45" fill-opacity="1"/>
<path d="M478.45,132.87L480.35,136.29L476.55,136.29Z" fill="#e08c30" stroke="#8f501c" stroke-width="0.45" fill-opacity="1"/>
<path d="M478.56,133.38L480.46,136.80L476.66,136.80Z" fill="#e08c30" stroke="#8f501c" stroke-width="0.45" fill-opacity="1"/>
<path d="M484.44,133.38L486.34,136.80L482.54,136.80Z" fill="#e08c30" stroke="#8f501c" stroke-width="0.45" fill-opacity="1"/>
<path d="M488.30,133.59L490.20,137.01L486.40,137.01Z" fill="#e08c30" stroke="#8f501c" stroke-width="0.45" fill-opacity="1"/>
<path d="M487.47,133.79L489.37,137.21L485.57,137.21Z" fill="#e08c30" stroke="#8f501c" stroke-width="0.45" fill-opacity="1"/>
<path d="M482.41,133.89L484.31,137.31L480.51,137.31Z" fill="#e08c30" stroke="#8f501c" stroke-width="0.45" fill-opacity="1"/>
<path d="M484.84,133.99L486.74,137.41L482.94,137.41Z" fill="#e08c30" stroke="#8f501c" stroke-width="0.45" fill-opacity="1"/>
<path d="M486.90,134.09L488.80,137.51L485.00,137.51Z" fill="#e08c30" stroke="#8f501c" stroke-width="0.45" fill-opacity="1"/>
<path d="M476.89,134.20L478.79,137.62L474.99,137.62Z" fill="#e08c30" stroke="#8f501c" stroke-width="0.45" fill-opacity="1"/>
<path d="M484.95,134.30L486.85,137.72L483.05,137.72Z" fill="#e08c30" stroke="#8f501c" stroke-width="0.45" fill-opacity="1"/>
<path d="M488.44,134.40L490.34,137.82L486.54,137.82Z" fill="#e08c30" stroke="#8f501c" stroke-width="0.45" fill-opacity="1"/>
<path d="M503.59,109.99L505.49,111.89L503.59,113.79L501.69,111.89Z" fill="#5c9a4a" stroke="#3a5a30" stroke-width="0.45" fill-opacity="1"/>
<path d="M503.85,124.23L505.75,126.13L503.85,128.03L501.95,126.13Z" fill="#5c9a4a" stroke="#3a5a30" stroke-width="0.45" fill-opacity="1"/>
<path d="M502.42,126.26L504.32,128.16L502.42,130.06L500.52,128.16Z" fill="#5c9a4a" stroke="#3a5a30" stroke-width="0.45" fill-opacity="1"/>
<path d="M499.55,127.28L501.45,129.18L499.55,131.08L497.65,129.18Z" fill="#5c9a4a" stroke="#3a5a30" stroke-width="0.45" fill-opacity="1"/>
<path d="M506.21,128.30L508.11,130.20L506.21,132.10L504.31,130.20Z" fill="#5c9a4a" stroke="#3a5a30" stroke-width="0.45" fill-opacity="1"/>
<path d="M500.26,129.31L502.16,131.22L500.26,133.12L498.36,131.22Z" fill="#5c9a4a" stroke="#3a5a30" stroke-width="0.45" fill-opacity="1"/>
<path d="M506.81,129.82L508.71,131.72L506.81,133.62L504.91,131.72Z" fill="#5c9a4a" stroke="#3a5a30" stroke-width="0.45" fill-opacity="1"/>
<path d="M509.20,130.33L511.10,132.23L509.20,134.13L507.30,132.23Z" fill="#5c9a4a" stroke="#3a5a30" stroke-width="0.45" fill-opacity="1"/>
<path d="M501.14,130.84L503.04,132.74L501.14,134.64L499.24,132.74Z" fill="#5c9a4a" stroke="#3a5a30" stroke-width="0.45" fill-opacity="1"/>
<path d="M501.22,131.35L503.12,133.25L501.22,135.15L499.32,133.25Z" fill="#5c9a4a" stroke="#3a5a30" stroke-width="0.45" fill-opacity="1"/>
<path d="M508.86,131.86L510.76,133.76L508.86,135.66L506.96,133.76Z" fill="#5c9a4a" stroke="#3a5a30" stroke-width="0.45" fill-opacity="1"/>
<path d="M505.75,132.37L507.65,134.27L505.75,136.17L503.85,134.27Z" fill="#5c9a4a" stroke="#3a5a30" stroke-width="0.45" fill-opacity="1"/>
<path d="M497.98,132.87L499.88,134.77L497.98,136.67L496.08,134.77Z" fill="#5c9a4a" stroke="#3a5a30" stroke-width="0.45" fill-opacity="1"/>
<path d="M497.94,133.38L499.84,135.28L497.94,137.18L496.04,135.28Z" fill="#5c9a4a" stroke="#3a5a30" stroke-width="0.45" fill-opacity="1"/>
<path d="M498.76,133.89L500.66,135.79L498.76,137.69L496.86,135.79Z" fill="#5c9a4a" stroke="#3a5a30" stroke-width="0.45" fill-opacity="1"/>
<line x1="286.30" y1="125.11" x2="286.30" y2="136.30" stroke="#111" stroke-width="1.25"/>
<line x1="282.70" y1="125.11" x2="289.90" y2="125.11" stroke="#111" stroke-width="1.25"/>
<line x1="282.70" y1="136.30" x2="289.90" y2="136.30" stroke="#111" stroke-width="1.25"/>
<line x1="280.80" y1="134.27" x2="291.80" y2="134.27" stroke="#111" stroke-width="1.5"/>
<line x1="305.90" y1="91.55" x2="305.90" y2="121.05" stroke="#111" stroke-width="1.25"/>
<line x1="302.30" y1="91.55" x2="309.50" y2="91.55" stroke="#111" stroke-width="1.25"/>
<line x1="302.30" y1="121.05" x2="309.50" y2="121.05" stroke="#111" stroke-width="1.25"/>
<line x1="300.40" y1="107.82" x2="311.40" y2="107.82" stroke="#111" stroke-width="1.5"/>
<line x1="325.50" y1="133.76" x2="325.50" y2="136.30" stroke="#111" stroke-width="1.25"/>
<line x1="321.90" y1="133.76" x2="329.10" y2="133.76" stroke="#111" stroke-width="1.25"/>
<line x1="321.90" y1="136.30" x2="329.10" y2="136.30" stroke="#111" stroke-width="1.25"/>
<line x1="320.00" y1="135.28" x2="331.00" y2="135.28" stroke="#111" stroke-width="1.5"/>
<line x1="345.00" y1="132.23" x2="345.00" y2="135.28" stroke="#111" stroke-width="1.25"/>
<line x1="341.40" y1="132.23" x2="348.60" y2="132.23" stroke="#111" stroke-width="1.25"/>
<line x1="341.40" y1="135.28" x2="348.60" y2="135.28" stroke="#111" stroke-width="1.25"/>
<line x1="339.50" y1="134.27" x2="350.50" y2="134.27" stroke="#111" stroke-width="1.5"/>
<line x1="364.50" y1="39.69" x2="364.50" y2="108.84" stroke="#111" stroke-width="1.25"/>
<line x1="360.90" y1="39.69" x2="368.10" y2="39.69" stroke="#111" stroke-width="1.25"/>
<line x1="360.90" y1="108.84" x2="368.10" y2="108.84" stroke="#111" stroke-width="1.25"/>
<line x1="359.00" y1="54.94" x2="370.00" y2="54.94" stroke="#111" stroke-width="1.5"/>
<line x1="384.20" y1="82.40" x2="384.20" y2="108.84" stroke="#111" stroke-width="1.25"/>
<line x1="380.60" y1="82.40" x2="387.80" y2="82.40" stroke="#111" stroke-width="1.25"/>
<line x1="380.60" y1="108.84" x2="387.80" y2="108.84" stroke="#111" stroke-width="1.25"/>
<line x1="378.70" y1="97.65" x2="389.70" y2="97.65" stroke="#111" stroke-width="1.5"/>
<line x1="403.70" y1="124.10" x2="403.70" y2="136.30" stroke="#111" stroke-width="1.25"/>
<line x1="400.10" y1="124.10" x2="407.30" y2="124.10" stroke="#111" stroke-width="1.25"/>
<line x1="400.10" y1="136.30" x2="407.30" y2="136.30" stroke="#111" stroke-width="1.25"/>
<line x1="398.20" y1="134.27" x2="409.20" y2="134.27" stroke="#111" stroke-width="1.5"/>
<line x1="423.20" y1="121.05" x2="423.20" y2="131.22" stroke="#111" stroke-width="1.25"/>
<line x1="419.60" y1="121.05" x2="426.80" y2="121.05" stroke="#111" stroke-width="1.25"/>
<line x1="419.60" y1="131.22" x2="426.80" y2="131.22" stroke="#111" stroke-width="1.25"/>
<line x1="417.70" y1="126.13" x2="428.70" y2="126.13" stroke="#111" stroke-width="1.5"/>
<line x1="443.00" y1="135.28" x2="443.00" y2="136.30" stroke="#111" stroke-width="1.25"/>
<line x1="439.00" y1="135.28" x2="447.00" y2="135.28" stroke="#111" stroke-width="1.25"/>
<line x1="439.00" y1="136.30" x2="447.00" y2="136.30" stroke="#111" stroke-width="1.25"/>
<line x1="438.00" y1="135.79" x2="448.00" y2="135.79" stroke="#111" stroke-width="1.5"/>
<line x1="463.00" y1="115.96" x2="463.00" y2="133.25" stroke="#111" stroke-width="1.25"/>
<line x1="459.40" y1="115.96" x2="466.60" y2="115.96" stroke="#111" stroke-width="1.25"/>
<line x1="459.40" y1="133.25" x2="466.60" y2="133.25" stroke="#111" stroke-width="1.25"/>
<line x1="457.50" y1="128.16" x2="468.50" y2="128.16" stroke="#111" stroke-width="1.5"/>
<line x1="482.70" y1="134.27" x2="482.70" y2="136.30" stroke="#111" stroke-width="1.25"/>
<line x1="479.10" y1="134.27" x2="486.30" y2="134.27" stroke="#111" stroke-width="1.25"/>
<line x1="479.10" y1="136.30" x2="486.30" y2="136.30" stroke="#111" stroke-width="1.25"/>
<line x1="477.20" y1="135.28" x2="488.20" y2="135.28" stroke="#111" stroke-width="1.5"/>
<line x1="502.60" y1="131.22" x2="502.60" y2="135.28" stroke="#111" stroke-width="1.25"/>
<line x1="499.00" y1="131.22" x2="506.20" y2="131.22" stroke="#111" stroke-width="1.25"/>
<line x1="499.00" y1="135.28" x2="506.20" y2="135.28" stroke="#111" stroke-width="1.25"/>
<line x1="497.10" y1="133.25" x2="508.10" y2="133.25" stroke="#111" stroke-width="1.5"/>
<line x1="285.80" y1="47.00" x2="306.40" y2="47.00" stroke="#000" stroke-width="1.3"/>
<text x="296.1" y="47.6" font-size="8.5" text-anchor="middle" fill="#111" stroke="#111" stroke-width="0.22">*</text>
<line x1="325.00" y1="85.00" x2="345.50" y2="85.00" stroke="#000" stroke-width="1.3"/>
<text x="335.25" y="81.7" font-size="6.6" text-anchor="middle" fill="#222" stroke="#222" stroke-width="0.22">ns</text>
<line x1="364.00" y1="31.50" x2="384.70" y2="31.50" stroke="#000" stroke-width="1.3"/>
<text x="374.35" y="32.1" font-size="8.5" text-anchor="middle" fill="#111" stroke="#111" stroke-width="0.22">*</text>
<line x1="403.20" y1="72.00" x2="423.70" y2="72.00" stroke="#000" stroke-width="1.3"/>
<text x="413.45" y="68.7" font-size="6.6" text-anchor="middle" fill="#222" stroke="#222" stroke-width="0.22">ns</text>
<line x1="442.50" y1="97.80" x2="463.50" y2="97.80" stroke="#000" stroke-width="1.3"/>
<text x="453.0" y="98.39999999999999" font-size="8.5" text-anchor="middle" fill="#111" stroke="#111" stroke-width="0.22">***</text>
<line x1="482.20" y1="106.40" x2="503.10" y2="106.40" stroke="#000" stroke-width="1.3"/>
<text x="492.65" y="107.0" font-size="8.5" text-anchor="middle" fill="#111" stroke="#111" stroke-width="0.22">**</text>
<path d="M314.20,163.30L316.40,167.26L312.00,167.26Z" fill="#e08c30" stroke="#8f501c" stroke-width="0.45" fill-opacity="1"/>
<text x="320.3" y="167.6" font-size="6.2" textLength="59.5" lengthAdjust="spacingAndGlyphs" fill="#222" stroke="#222" stroke-width="0.22">Vb+CD158k+T-cells</text>
<path d="M400.00,163.20L402.00,165.20L400.00,167.20L398.00,165.20Z" fill="#5c9a4a" stroke="#3a5a30" stroke-width="0.45" fill-opacity="1"/>
<text x="403.8" y="167.6" font-size="6.2" textLength="74.5" lengthAdjust="spacingAndGlyphs" fill="#222" stroke="#222" stroke-width="0.22">Vb-CD158k-CD4+T-cells</text>
<rect x="317.40" y="258.00" width="12.07" height="7.05" fill="#e4434a"/>
<rect x="328.87" y="258.00" width="12.07" height="7.05" fill="#e76066"/>
<rect x="340.34" y="258.00" width="12.07" height="7.05" fill="#e54d53"/>
<rect x="351.81" y="258.00" width="12.07" height="7.05" fill="#9da4da"/>
<rect x="363.28" y="258.00" width="12.07" height="7.05" fill="#9da4da"/>
<rect x="374.75" y="258.00" width="12.07" height="7.05" fill="#8992d3"/>
<rect x="386.22" y="258.00" width="12.07" height="7.05" fill="#939bd7"/>
<rect x="397.68" y="258.00" width="12.07" height="7.05" fill="#faf8fa"/>
<rect x="409.15" y="258.00" width="12.07" height="7.05" fill="#e86a70"/>
<rect x="420.62" y="258.00" width="12.07" height="7.05" fill="#b3b8e2"/>
<rect x="432.09" y="258.00" width="12.07" height="7.05" fill="#6d78ca"/>
<rect x="443.56" y="258.00" width="12.07" height="7.05" fill="#bec2e5"/>
<rect x="455.03" y="258.00" width="11.47" height="7.05" fill="#d7d8ee"/>
<rect x="317.40" y="264.45" width="12.07" height="7.05" fill="#ec898e"/>
<rect x="328.87" y="264.45" width="12.07" height="7.05" fill="#ec898e"/>
<rect x="340.34" y="264.45" width="12.07" height="7.05" fill="#eb7f84"/>
<rect x="351.81" y="264.45" width="12.07" height="7.05" fill="#d7d8ee"/>
<rect x="363.28" y="264.45" width="12.07" height="7.05" fill="#8089d0"/>
<rect x="374.75" y="264.45" width="12.07" height="7.05" fill="#8089d0"/>
<rect x="386.22" y="264.45" width="12.07" height="7.05" fill="#6d78ca"/>
<rect x="397.68" y="264.45" width="12.07" height="7.05" fill="#3949b8"/>
<rect x="409.15" y="264.45" width="12.07" height="7.05" fill="#ea747a"/>
<rect x="420.62" y="264.45" width="12.07" height="7.05" fill="#f1abaf"/>
<rect x="432.09" y="264.45" width="12.07" height="7.05" fill="#faf8fa"/>
<rect x="443.56" y="264.45" width="12.07" height="7.05" fill="#f1abaf"/>
<rect x="455.03" y="264.45" width="11.47" height="7.05" fill="#f2b8bb"/>
<rect x="317.40" y="270.90" width="12.07" height="7.05" fill="#efa0a4"/>
<rect x="328.87" y="270.90" width="12.07" height="7.05" fill="#e23a41"/>
<rect x="340.34" y="270.90" width="12.07" height="7.05" fill="#de161e"/>
<rect x="351.81" y="270.90" width="12.07" height="7.05" fill="#e6e6f3"/>
<rect x="363.28" y="270.90" width="12.07" height="7.05" fill="#a8aede"/>
<rect x="374.75" y="270.90" width="12.07" height="7.05" fill="#a8aede"/>
<rect x="386.22" y="270.90" width="12.07" height="7.05" fill="#7681cd"/>
<rect x="397.68" y="270.90" width="12.07" height="7.05" fill="#6470c7"/>
<rect x="409.15" y="270.90" width="12.07" height="7.05" fill="#a8aede"/>
<rect x="420.62" y="270.90" width="12.07" height="7.05" fill="#f2b8bb"/>
<rect x="432.09" y="270.90" width="12.07" height="7.05" fill="#a8aede"/>
<rect x="443.56" y="270.90" width="12.07" height="7.05" fill="#faf8fa"/>
<rect x="455.03" y="270.90" width="11.47" height="7.05" fill="#f5d2d5"/>
<rect x="317.40" y="277.35" width="12.07" height="7.05" fill="#faf8fa"/>
<rect x="328.87" y="277.35" width="12.07" height="7.05" fill="#d7d8ee"/>
<rect x="340.34" y="277.35" width="12.07" height="7.05" fill="#6d78ca"/>
<rect x="351.81" y="277.35" width="12.07" height="7.05" fill="#d7d8ee"/>
<rect x="363.28" y="277.35" width="12.07" height="7.05" fill="#8992d3"/>
<rect x="374.75" y="277.35" width="12.07" height="7.05" fill="#8992d3"/>
<rect x="386.22" y="277.35" width="12.07" height="7.05" fill="#8992d3"/>
<rect x="397.68" y="277.35" width="12.07" height="7.05" fill="#6d78ca"/>
<rect x="409.15" y="277.35" width="12.07" height="7.05" fill="#ee9499"/>
<rect x="420.62" y="277.35" width="12.07" height="7.05" fill="#eb7f84"/>
<rect x="432.09" y="277.35" width="12.07" height="7.05" fill="#f5d2d5"/>
<rect x="443.56" y="277.35" width="12.07" height="7.05" fill="#e6565d"/>
<rect x="455.03" y="277.35" width="11.47" height="7.05" fill="#e4434a"/>
<rect x="317.40" y="283.80" width="12.07" height="7.05" fill="#939bd7"/>
<rect x="328.87" y="283.80" width="12.07" height="7.05" fill="#939bd7"/>
<rect x="340.34" y="283.80" width="12.07" height="7.05" fill="#8992d3"/>
<rect x="351.81" y="283.80" width="12.07" height="7.05" fill="#7681cd"/>
<rect x="363.28" y="283.80" width="12.07" height="7.05" fill="#cacdea"/>
<rect x="374.75" y="283.80" width="12.07" height="7.05" fill="#d7d8ee"/>
<rect x="386.22" y="283.80" width="12.07" height="7.05" fill="#a8aede"/>
<rect x="397.68" y="283.80" width="12.07" height="7.05" fill="#939bd7"/>
<rect x="409.15" y="283.80" width="12.07" height="7.05" fill="#ea747a"/>
<rect x="420.62" y="283.80" width="12.07" height="7.05" fill="#e86a70"/>
<rect x="432.09" y="283.80" width="12.07" height="7.05" fill="#f2b8bb"/>
<rect x="443.56" y="283.80" width="12.07" height="7.05" fill="#ee9499"/>
<rect x="455.03" y="283.80" width="11.47" height="7.05" fill="#e4434a"/>
<rect x="317.40" y="290.25" width="12.07" height="7.05" fill="#8089d0"/>
<rect x="328.87" y="290.25" width="12.07" height="7.05" fill="#7681cd"/>
<rect x="340.34" y="290.25" width="12.07" height="7.05" fill="#6d78ca"/>
<rect x="351.81" y="290.25" width="12.07" height="7.05" fill="#7681cd"/>
<rect x="363.28" y="290.25" width="12.07" height="7.05" fill="#8992d3"/>
<rect x="374.75" y="290.25" width="12.07" height="7.05" fill="#d7d8ee"/>
<rect x="386.22" y="290.25" width="12.07" height="7.05" fill="#d7d8ee"/>
<rect x="397.68" y="290.25" width="12.07" height="7.05" fill="#cacdea"/>
<rect x="409.15" y="290.25" width="12.07" height="7.05" fill="#ea747a"/>
<rect x="420.62" y="290.25" width="12.07" height="7.05" fill="#e76066"/>
<rect x="432.09" y="290.25" width="12.07" height="7.05" fill="#efa0a4"/>
<rect x="443.56" y="290.25" width="12.07" height="7.05" fill="#ee9499"/>
<rect x="455.03" y="290.25" width="11.47" height="7.05" fill="#ee9499"/>
<rect x="317.40" y="296.70" width="12.07" height="7.05" fill="#8089d0"/>
<rect x="328.87" y="296.70" width="12.07" height="7.05" fill="#6d78ca"/>
<rect x="340.34" y="296.70" width="12.07" height="7.05" fill="#7681cd"/>
<rect x="351.81" y="296.70" width="12.07" height="7.05" fill="#7681cd"/>
<rect x="363.28" y="296.70" width="12.07" height="7.05" fill="#9da4da"/>
<rect x="374.75" y="296.70" width="12.07" height="7.05" fill="#cacdea"/>
<rect x="386.22" y="296.70" width="12.07" height="7.05" fill="#faf8fa"/>
<rect x="397.68" y="296.70" width="12.07" height="7.05" fill="#cacdea"/>
<rect x="409.15" y="296.70" width="12.07" height="7.05" fill="#eb7f84"/>
<rect x="420.62" y="296.70" width="12.07" height="7.05" fill="#ee9499"/>
<rect x="432.09" y="296.70" width="12.07" height="7.05" fill="#ee9499"/>
<rect x="443.56" y="296.70" width="12.07" height="7.05" fill="#f1abaf"/>
<rect x="455.03" y="296.70" width="11.47" height="7.05" fill="#e6565d"/>
<rect x="317.40" y="303.15" width="12.07" height="7.05" fill="#8089d0"/>
<rect x="328.87" y="303.15" width="12.07" height="7.05" fill="#8089d0"/>
<rect x="340.34" y="303.15" width="12.07" height="7.05" fill="#8089d0"/>
<rect x="351.81" y="303.15" width="12.07" height="7.05" fill="#8089d0"/>
<rect x="363.28" y="303.15" width="12.07" height="7.05" fill="#cacdea"/>
<rect x="374.75" y="303.15" width="12.07" height="7.05" fill="#d7d8ee"/>
<rect x="386.22" y="303.15" width="12.07" height="7.05" fill="#faf8fa"/>
<rect x="397.68" y="303.15" width="12.07" height="7.05" fill="#a8aede"/>
<rect x="409.15" y="303.15" width="12.07" height="7.05" fill="#ee9499"/>
<rect x="420.62" y="303.15" width="12.07" height="7.05" fill="#e86a70"/>
<rect x="432.09" y="303.15" width="12.07" height="7.05" fill="#ec898e"/>
<rect x="443.56" y="303.15" width="12.07" height="7.05" fill="#ec898e"/>
<rect x="455.03" y="303.15" width="11.47" height="7.05" fill="#e86a70"/>
<rect x="317.40" y="309.60" width="12.07" height="7.05" fill="#7681cd"/>
<rect x="328.87" y="309.60" width="12.07" height="7.05" fill="#8089d0"/>
<rect x="340.34" y="309.60" width="12.07" height="7.05" fill="#8089d0"/>
<rect x="351.81" y="309.60" width="12.07" height="7.05" fill="#8992d3"/>
<rect x="363.28" y="309.60" width="12.07" height="7.05" fill="#8992d3"/>
<rect x="374.75" y="309.60" width="12.07" height="7.05" fill="#d7d8ee"/>
<rect x="386.22" y="309.60" width="12.07" height="7.05" fill="#faf8fa"/>
<rect x="397.68" y="309.60" width="12.07" height="7.05" fill="#b3b8e2"/>
<rect x="409.15" y="309.60" width="12.07" height="7.05" fill="#efa0a4"/>
<rect x="420.62" y="309.60" width="12.07" height="7.05" fill="#e86a70"/>
<rect x="432.09" y="309.60" width="12.07" height="7.05" fill="#ec898e"/>
<rect x="443.56" y="309.60" width="12.07" height="7.05" fill="#f1abaf"/>
<rect x="455.03" y="309.60" width="11.47" height="7.05" fill="#ea747a"/>
<rect x="317.40" y="316.05" width="12.07" height="7.05" fill="#7681cd"/>
<rect x="328.87" y="316.05" width="12.07" height="7.05" fill="#6470c7"/>
<rect x="340.34" y="316.05" width="12.07" height="7.05" fill="#6470c7"/>
<rect x="351.81" y="316.05" width="12.07" height="7.05" fill="#8089d0"/>
<rect x="363.28" y="316.05" width="12.07" height="7.05" fill="#d7d8ee"/>
<rect x="374.75" y="316.05" width="12.07" height="7.05" fill="#d7d8ee"/>
<rect x="386.22" y="316.05" width="12.07" height="7.05" fill="#f2b8bb"/>
<rect x="397.68" y="316.05" width="12.07" height="7.05" fill="#d7d8ee"/>
<rect x="409.15" y="316.05" width="12.07" height="7.05" fill="#f2b8bb"/>
<rect x="420.62" y="316.05" width="12.07" height="7.05" fill="#e86a70"/>
<rect x="432.09" y="316.05" width="12.07" height="7.05" fill="#ec898e"/>
<rect x="443.56" y="316.05" width="12.07" height="7.05" fill="#f2b8bb"/>
<rect x="455.03" y="316.05" width="11.47" height="7.05" fill="#eb7f84"/>
<rect x="317.40" y="322.50" width="12.07" height="7.05" fill="#8089d0"/>
<rect x="328.87" y="322.50" width="12.07" height="7.05" fill="#8089d0"/>
<rect x="340.34" y="322.50" width="12.07" height="7.05" fill="#9da4da"/>
<rect x="351.81" y="322.50" width="12.07" height="7.05" fill="#9da4da"/>
<rect x="363.28" y="322.50" width="12.07" height="7.05" fill="#cacdea"/>
<rect x="374.75" y="322.50" width="12.07" height="7.05" fill="#b3b8e2"/>
<rect x="386.22" y="322.50" width="12.07" height="7.05" fill="#faf8fa"/>
<rect x="397.68" y="322.50" width="12.07" height="7.05" fill="#d7d8ee"/>
<rect x="409.15" y="322.50" width="12.07" height="7.05" fill="#f4c5c8"/>
<rect x="420.62" y="322.50" width="12.07" height="7.05" fill="#e23a41"/>
<rect x="432.09" y="322.50" width="12.07" height="7.05" fill="#f2b8bb"/>
<rect x="443.56" y="322.50" width="12.07" height="7.05" fill="#f7e2e5"/>
<rect x="455.03" y="322.50" width="11.47" height="7.05" fill="#e23a41"/>
<rect x="317.40" y="328.95" width="12.07" height="7.05" fill="#a8aede"/>
<rect x="328.87" y="328.95" width="12.07" height="7.05" fill="#8089d0"/>
<rect x="340.34" y="328.95" width="12.07" height="7.05" fill="#8992d3"/>
<rect x="351.81" y="328.95" width="12.07" height="7.05" fill="#e6565d"/>
<rect x="363.28" y="328.95" width="12.07" height="7.05" fill="#e13138"/>
<rect x="374.75" y="328.95" width="12.07" height="7.05" fill="#eb7f84"/>
<rect x="386.22" y="328.95" width="12.07" height="7.05" fill="#f1abaf"/>
<rect x="397.68" y="328.95" width="12.07" height="7.05" fill="#efa0a4"/>
<rect x="409.15" y="328.95" width="12.07" height="7.05" fill="#5b68c3"/>
<rect x="420.62" y="328.95" width="12.07" height="7.05" fill="#e6e6f3"/>
<rect x="432.09" y="328.95" width="12.07" height="7.05" fill="#9da4da"/>
<rect x="443.56" y="328.95" width="12.07" height="7.05" fill="#faf8fa"/>
<rect x="455.03" y="328.95" width="11.47" height="7.05" fill="#d7d8ee"/>
<rect x="317.40" y="335.40" width="12.07" height="7.05" fill="#8089d0"/>
<rect x="328.87" y="335.40" width="12.07" height="7.05" fill="#7681cd"/>
<rect x="340.34" y="335.40" width="12.07" height="7.05" fill="#5b68c3"/>
<rect x="351.81" y="335.40" width="12.07" height="7.05" fill="#faf8fa"/>
<rect x="363.28" y="335.40" width="12.07" height="7.05" fill="#ea747a"/>
<rect x="374.75" y="335.40" width="12.07" height="7.05" fill="#ea747a"/>
<rect x="386.22" y="335.40" width="12.07" height="7.05" fill="#f1abaf"/>
<rect x="397.68" y="335.40" width="12.07" height="7.05" fill="#e23a41"/>
<rect x="409.15" y="335.40" width="12.07" height="7.05" fill="#8089d0"/>
<rect x="420.62" y="335.40" width="12.07" height="7.05" fill="#e6e6f3"/>
<rect x="432.09" y="335.40" width="12.07" height="7.05" fill="#e6e6f3"/>
<rect x="443.56" y="335.40" width="12.07" height="7.05" fill="#faf8fa"/>
<rect x="455.03" y="335.40" width="11.47" height="7.05" fill="#e6e6f3"/>
<rect x="317.40" y="341.85" width="12.07" height="7.05" fill="#b3b8e2"/>
<rect x="328.87" y="341.85" width="12.07" height="7.05" fill="#5260c0"/>
<rect x="340.34" y="341.85" width="12.07" height="7.05" fill="#5b68c3"/>
<rect x="351.81" y="341.85" width="12.07" height="7.05" fill="#faf8fa"/>
<rect x="363.28" y="341.85" width="12.07" height="7.05" fill="#d7d8ee"/>
<rect x="374.75" y="341.85" width="12.07" height="7.05" fill="#d7d8ee"/>
<rect x="386.22" y="341.85" width="12.07" height="7.05" fill="#efa0a4"/>
<rect x="397.68" y="341.85" width="12.07" height="7.05" fill="#d7d8ee"/>
<rect x="409.15" y="341.85" width="12.07" height="7.05" fill="#e76066"/>
<rect x="420.62" y="341.85" width="12.07" height="7.05" fill="#e6e6f3"/>
<rect x="432.09" y="341.85" width="12.07" height="7.05" fill="#f1abaf"/>
<rect x="443.56" y="341.85" width="12.07" height="7.05" fill="#faf8fa"/>
<rect x="455.03" y="341.85" width="11.47" height="7.05" fill="#efa0a4"/>
<rect x="317.40" y="348.30" width="12.07" height="7.05" fill="#6d78ca"/>
<rect x="328.87" y="348.30" width="12.07" height="7.05" fill="#5b68c3"/>
<rect x="340.34" y="348.30" width="12.07" height="7.05" fill="#5b68c3"/>
<rect x="351.81" y="348.30" width="12.07" height="7.05" fill="#faf8fa"/>
<rect x="363.28" y="348.30" width="12.07" height="7.05" fill="#f7e2e5"/>
<rect x="374.75" y="348.30" width="12.07" height="7.05" fill="#e6e6f3"/>
<rect x="386.22" y="348.30" width="12.07" height="7.05" fill="#eb7f84"/>
<rect x="397.68" y="348.30" width="12.07" height="7.05" fill="#f2b8bb"/>
<rect x="409.15" y="348.30" width="12.07" height="7.05" fill="#efa0a4"/>
<rect x="420.62" y="348.30" width="12.07" height="7.05" fill="#e6e6f3"/>
<rect x="432.09" y="348.30" width="12.07" height="7.05" fill="#f1abaf"/>
<rect x="443.56" y="348.30" width="12.07" height="7.05" fill="#ec898e"/>
<rect x="455.03" y="348.30" width="11.47" height="7.05" fill="#f4c5c8"/>
<rect x="317.40" y="354.75" width="12.07" height="7.05" fill="#6470c7"/>
<rect x="328.87" y="354.75" width="12.07" height="7.05" fill="#5b68c3"/>
<rect x="340.34" y="354.75" width="12.07" height="7.05" fill="#5b68c3"/>
<rect x="351.81" y="354.75" width="12.07" height="7.05" fill="#f2b8bb"/>
<rect x="363.28" y="354.75" width="12.07" height="7.05" fill="#f4c5c8"/>
<rect x="374.75" y="354.75" width="12.07" height="7.05" fill="#f4c5c8"/>
<rect x="386.22" y="354.75" width="12.07" height="7.05" fill="#ec898e"/>
<rect x="397.68" y="354.75" width="12.07" height="7.05" fill="#f7e2e5"/>
<rect x="409.15" y="354.75" width="12.07" height="7.05" fill="#f1abaf"/>
<rect x="420.62" y="354.75" width="12.07" height="7.05" fill="#e6e6f3"/>
<rect x="432.09" y="354.75" width="12.07" height="7.05" fill="#ea747a"/>
<rect x="443.56" y="354.75" width="12.07" height="7.05" fill="#f5d2d5"/>
<rect x="455.03" y="354.75" width="11.47" height="7.05" fill="#f1abaf"/>
<rect x="317.40" y="361.20" width="12.07" height="7.05" fill="#5b68c3"/>
<rect x="328.87" y="361.20" width="12.07" height="7.05" fill="#5b68c3"/>
<rect x="340.34" y="361.20" width="12.07" height="7.05" fill="#5b68c3"/>
<rect x="351.81" y="361.20" width="12.07" height="7.05" fill="#f7e2e5"/>
<rect x="363.28" y="361.20" width="12.07" height="7.05" fill="#f7e2e5"/>
<rect x="374.75" y="361.20" width="12.07" height="7.05" fill="#f5d2d5"/>
<rect x="386.22" y="361.20" width="12.07" height="7.05" fill="#ec898e"/>
<rect x="397.68" y="361.20" width="12.07" height="7.05" fill="#eb7f84"/>
<rect x="409.15" y="361.20" width="12.07" height="7.05" fill="#efa0a4"/>
<rect x="420.62" y="361.20" width="12.07" height="7.05" fill="#e6e6f3"/>
<rect x="432.09" y="361.20" width="12.07" height="7.05" fill="#efa0a4"/>
<rect x="443.56" y="361.20" width="12.07" height="7.05" fill="#f4c5c8"/>
<rect x="455.03" y="361.20" width="11.47" height="7.05" fill="#f1abaf"/>
<rect x="317.40" y="367.65" width="12.07" height="7.05" fill="#5b68c3"/>
<rect x="328.87" y="367.65" width="12.07" height="7.05" fill="#5b68c3"/>
<rect x="340.34" y="367.65" width="12.07" height="7.05" fill="#5b68c3"/>
<rect x="351.81" y="367.65" width="12.07" height="7.05" fill="#f7e2e5"/>
<rect x="363.28" y="367.65" width="12.07" height="7.05" fill="#f7e2e5"/>
<rect x="374.75" y="367.65" width="12.07" height="7.05" fill="#f7e2e5"/>
<rect x="386.22" y="367.65" width="12.07" height="7.05" fill="#ec898e"/>
<rect x="397.68" y="367.65" width="12.07" height="7.05" fill="#eb7f84"/>
<rect x="409.15" y="367.65" width="12.07" height="7.05" fill="#ee9499"/>
<rect x="420.62" y="367.65" width="12.07" height="7.05" fill="#e6e6f3"/>
<rect x="432.09" y="367.65" width="12.07" height="7.05" fill="#efa0a4"/>
<rect x="443.56" y="367.65" width="12.07" height="7.05" fill="#f4c5c8"/>
<rect x="455.03" y="367.65" width="11.47" height="7.05" fill="#f1abaf"/>
<rect x="317.40" y="374.10" width="12.07" height="7.05" fill="#4a58be"/>
<rect x="328.87" y="374.10" width="12.07" height="7.05" fill="#7681cd"/>
<rect x="340.34" y="374.10" width="12.07" height="7.05" fill="#5b68c3"/>
<rect x="351.81" y="374.10" width="12.07" height="7.05" fill="#f5d2d5"/>
<rect x="363.28" y="374.10" width="12.07" height="7.05" fill="#ee9499"/>
<rect x="374.75" y="374.10" width="12.07" height="7.05" fill="#f2b8bb"/>
<rect x="386.22" y="374.10" width="12.07" height="7.05" fill="#eb7f84"/>
<rect x="397.68" y="374.10" width="12.07" height="7.05" fill="#f7e2e5"/>
<rect x="409.15" y="374.10" width="12.07" height="7.05" fill="#faf8fa"/>
<rect x="420.62" y="374.10" width="12.07" height="7.05" fill="#faf8fa"/>
<rect x="432.09" y="374.10" width="12.07" height="7.05" fill="#efa0a4"/>
<rect x="443.56" y="374.10" width="12.07" height="7.05" fill="#f4c5c8"/>
<rect x="455.03" y="374.10" width="11.47" height="7.05" fill="#f1abaf"/>
<rect x="317.40" y="380.55" width="12.07" height="7.05" fill="#5260c0"/>
<rect x="328.87" y="380.55" width="12.07" height="7.05" fill="#5b68c3"/>
<rect x="340.34" y="380.55" width="12.07" height="7.05" fill="#5b68c3"/>
<rect x="351.81" y="380.55" width="12.07" height="7.05" fill="#f1abaf"/>
<rect x="363.28" y="380.55" width="12.07" height="7.05" fill="#f5d2d5"/>
<rect x="374.75" y="380.55" width="12.07" height="7.05" fill="#f2b8bb"/>
<rect x="386.22" y="380.55" width="12.07" height="7.05" fill="#eb7f84"/>
<rect x="397.68" y="380.55" width="12.07" height="7.05" fill="#f4c5c8"/>
<rect x="409.15" y="380.55" width="12.07" height="7.05" fill="#f7e2e5"/>
<rect x="420.62" y="380.55" width="12.07" height="7.05" fill="#a8aede"/>
<rect x="432.09" y="380.55" width="12.07" height="7.05" fill="#efa0a4"/>
<rect x="443.56" y="380.55" width="12.07" height="7.05" fill="#f4c5c8"/>
<rect x="455.03" y="380.55" width="11.47" height="7.05" fill="#ec898e"/>
<rect x="317.40" y="387.00" width="12.07" height="7.05" fill="#5260c0"/>
<rect x="328.87" y="387.00" width="12.07" height="7.05" fill="#5260c0"/>
<rect x="340.34" y="387.00" width="12.07" height="7.05" fill="#b3b8e2"/>
<rect x="351.81" y="387.00" width="12.07" height="7.05" fill="#eb7f84"/>
<rect x="363.28" y="387.00" width="12.07" height="7.05" fill="#f5d2d5"/>
<rect x="374.75" y="387.00" width="12.07" height="7.05" fill="#ec898e"/>
<rect x="386.22" y="387.00" width="12.07" height="7.05" fill="#ee9499"/>
<rect x="397.68" y="387.00" width="12.07" height="7.05" fill="#f2b8bb"/>
<rect x="409.15" y="387.00" width="12.07" height="7.05" fill="#cacdea"/>
<rect x="420.62" y="387.00" width="12.07" height="7.05" fill="#faf8fa"/>
<rect x="432.09" y="387.00" width="12.07" height="7.05" fill="#f7e2e5"/>
<rect x="443.56" y="387.00" width="12.07" height="7.05" fill="#f7e2e5"/>
<rect x="455.03" y="387.00" width="11.47" height="7.05" fill="#f7e2e5"/>
<rect x="317.40" y="393.45" width="12.07" height="7.05" fill="#6470c7"/>
<rect x="328.87" y="393.45" width="12.07" height="7.05" fill="#4a58be"/>
<rect x="340.34" y="393.45" width="12.07" height="7.05" fill="#6470c7"/>
<rect x="351.81" y="393.45" width="12.07" height="7.05" fill="#ec898e"/>
<rect x="363.28" y="393.45" width="12.07" height="7.05" fill="#f4c5c8"/>
<rect x="374.75" y="393.45" width="12.07" height="7.05" fill="#ec898e"/>
<rect x="386.22" y="393.45" width="12.07" height="7.05" fill="#ec898e"/>
<rect x="397.68" y="393.45" width="12.07" height="7.05" fill="#f4c5c8"/>
<rect x="409.15" y="393.45" width="12.07" height="7.05" fill="#faf8fa"/>
<rect x="420.62" y="393.45" width="12.07" height="7.05" fill="#ee9499"/>
<rect x="432.09" y="393.45" width="12.07" height="7.05" fill="#ee9499"/>
<rect x="443.56" y="393.45" width="12.07" height="7.05" fill="#e6e6f3"/>
<rect x="455.03" y="393.45" width="11.47" height="7.05" fill="#f7e2e5"/>
<rect x="317.40" y="399.90" width="12.07" height="7.05" fill="#6470c7"/>
<rect x="328.87" y="399.90" width="12.07" height="7.05" fill="#4a58be"/>
<rect x="340.34" y="399.90" width="12.07" height="7.05" fill="#6470c7"/>
<rect x="351.81" y="399.90" width="12.07" height="7.05" fill="#ec898e"/>
<rect x="363.28" y="399.90" width="12.07" height="7.05" fill="#f4c5c8"/>
<rect x="374.75" y="399.90" width="12.07" height="7.05" fill="#ec898e"/>
<rect x="386.22" y="399.90" width="12.07" height="7.05" fill="#ec898e"/>
<rect x="397.68" y="399.90" width="12.07" height="7.05" fill="#f4c5c8"/>
<rect x="409.15" y="399.90" width="12.07" height="7.05" fill="#faf8fa"/>
<rect x="420.62" y="399.90" width="12.07" height="7.05" fill="#ee9499"/>
<rect x="432.09" y="399.90" width="12.07" height="7.05" fill="#ee9499"/>
<rect x="443.56" y="399.90" width="12.07" height="7.05" fill="#d7d8ee"/>
<rect x="455.03" y="399.90" width="11.47" height="7.05" fill="#e6e6f3"/>
<rect x="317.40" y="406.35" width="12.07" height="7.05" fill="#939bd7"/>
<rect x="328.87" y="406.35" width="12.07" height="7.05" fill="#4a58be"/>
<rect x="340.34" y="406.35" width="12.07" height="7.05" fill="#5b68c3"/>
<rect x="351.81" y="406.35" width="12.07" height="7.05" fill="#ea747a"/>
<rect x="363.28" y="406.35" width="12.07" height="7.05" fill="#f7e2e5"/>
<rect x="374.75" y="406.35" width="12.07" height="7.05" fill="#f7e2e5"/>
<rect x="386.22" y="406.35" width="12.07" height="7.05" fill="#eb7f84"/>
<rect x="397.68" y="406.35" width="12.07" height="7.05" fill="#e54d53"/>
<rect x="409.15" y="406.35" width="12.07" height="7.05" fill="#f7e2e5"/>
<rect x="420.62" y="406.35" width="12.07" height="7.05" fill="#f5d2d5"/>
<rect x="432.09" y="406.35" width="12.07" height="7.05" fill="#f5d2d5"/>
<rect x="443.56" y="406.35" width="12.07" height="7.05" fill="#d7d8ee"/>
<rect x="455.03" y="406.35" width="11.47" height="7.05" fill="#e6e6f3"/>
<rect x="317.40" y="412.80" width="12.07" height="7.05" fill="#5260c0"/>
<rect x="328.87" y="412.80" width="12.07" height="7.05" fill="#4a58be"/>
<rect x="340.34" y="412.80" width="12.07" height="7.05" fill="#5b68c3"/>
<rect x="351.81" y="412.80" width="12.07" height="7.05" fill="#ee9499"/>
<rect x="363.28" y="412.80" width="12.07" height="7.05" fill="#f2b8bb"/>
<rect x="374.75" y="412.80" width="12.07" height="7.05" fill="#efa0a4"/>
<rect x="386.22" y="412.80" width="12.07" height="7.05" fill="#ea747a"/>
<rect x="397.68" y="412.80" width="12.07" height="7.05" fill="#f1abaf"/>
<rect x="409.15" y="412.80" width="12.07" height="7.05" fill="#f1abaf"/>
<rect x="420.62" y="412.80" width="12.07" height="7.05" fill="#faf8fa"/>
<rect x="432.09" y="412.80" width="12.07" height="7.05" fill="#efa0a4"/>
<rect x="443.56" y="412.80" width="12.07" height="7.05" fill="#faf8fa"/>
<rect x="455.03" y="412.80" width="11.47" height="7.05" fill="#e6e6f3"/>
<rect x="317.40" y="419.25" width="12.07" height="7.05" fill="#5260c0"/>
<rect x="328.87" y="419.25" width="12.07" height="7.05" fill="#5260c0"/>
<rect x="340.34" y="419.25" width="12.07" height="7.05" fill="#5b68c3"/>
<rect x="351.81" y="419.25" width="12.07" height="7.05" fill="#f4c5c8"/>
<rect x="363.28" y="419.25" width="12.07" height="7.05" fill="#f2b8bb"/>
<rect x="374.75" y="419.25" width="12.07" height="7.05" fill="#faf8fa"/>
<rect x="386.22" y="419.25" width="12.07" height="7.05" fill="#ea747a"/>
<rect x="397.68" y="419.25" width="12.07" height="7.05" fill="#ea747a"/>
<rect x="409.15" y="419.25" width="12.07" height="7.05" fill="#f4c5c8"/>
<rect x="420.62" y="419.25" width="12.07" height="7.05" fill="#faf8fa"/>
<rect x="432.09" y="419.25" width="12.07" height="7.05" fill="#efa0a4"/>
<rect x="443.56" y="419.25" width="12.07" height="7.05" fill="#faf8fa"/>
<rect x="455.03" y="419.25" width="11.47" height="7.05" fill="#e6e6f3"/>
<rect x="317.40" y="425.70" width="12.07" height="7.05" fill="#5260c0"/>
<rect x="328.87" y="425.70" width="12.07" height="7.05" fill="#5260c0"/>
<rect x="340.34" y="425.70" width="12.07" height="7.05" fill="#8089d0"/>
<rect x="351.81" y="425.70" width="12.07" height="7.05" fill="#f7e2e5"/>
<rect x="363.28" y="425.70" width="12.07" height="7.05" fill="#f2b8bb"/>
<rect x="374.75" y="425.70" width="12.07" height="7.05" fill="#f2b8bb"/>
<rect x="386.22" y="425.70" width="12.07" height="7.05" fill="#ea747a"/>
<rect x="397.68" y="425.70" width="12.07" height="7.05" fill="#ea747a"/>
<rect x="409.15" y="425.70" width="12.07" height="7.05" fill="#efa0a4"/>
<rect x="420.62" y="425.70" width="12.07" height="7.05" fill="#f4c5c8"/>
<rect x="432.09" y="425.70" width="12.07" height="7.05" fill="#f5d2d5"/>
<rect x="443.56" y="425.70" width="12.07" height="7.05" fill="#faf8fa"/>
<rect x="455.03" y="425.70" width="11.47" height="7.05" fill="#e6e6f3"/>
<rect x="317.40" y="432.15" width="12.07" height="6.45" fill="#8992d3"/>
<rect x="328.87" y="432.15" width="12.07" height="6.45" fill="#4a58be"/>
<rect x="340.34" y="432.15" width="12.07" height="6.45" fill="#5260c0"/>
<rect x="351.81" y="432.15" width="12.07" height="6.45" fill="#faf8fa"/>
<rect x="363.28" y="432.15" width="12.07" height="6.45" fill="#f2b8bb"/>
<rect x="374.75" y="432.15" width="12.07" height="6.45" fill="#f2b8bb"/>
<rect x="386.22" y="432.15" width="12.07" height="6.45" fill="#ea747a"/>
<rect x="397.68" y="432.15" width="12.07" height="6.45" fill="#e76066"/>
<rect x="409.15" y="432.15" width="12.07" height="6.45" fill="#faf8fa"/>
<rect x="420.62" y="432.15" width="12.07" height="6.45" fill="#efa0a4"/>
<rect x="432.09" y="432.15" width="12.07" height="6.45" fill="#f4c5c8"/>
<rect x="443.56" y="432.15" width="12.07" height="6.45" fill="#faf8fa"/>
<rect x="455.03" y="432.15" width="11.47" height="6.45" fill="#d7d8ee"/>
<rect x="317.40" y="242.60" width="34.41" height="5.30" fill="#5aa63e"/>
<rect x="351.81" y="242.60" width="57.35" height="5.30" fill="#8c3fa0"/>
<rect x="409.15" y="242.60" width="11.47" height="5.30" fill="#5aa63e"/>
<rect x="420.62" y="242.60" width="45.88" height="5.30" fill="#f3d022"/>
<rect x="317.40" y="250.00" width="68.82" height="5.80" fill="#3f7fc0"/>
<rect x="386.22" y="250.00" width="34.41" height="5.80" fill="#e8801e"/>
<rect x="420.62" y="250.00" width="11.47" height="5.80" fill="#3f7fc0"/>
<rect x="432.09" y="250.00" width="11.47" height="5.80" fill="#e8801e"/>
<rect x="443.56" y="250.00" width="22.94" height="5.80" fill="#3f7fc0"/>
<text x="468.3" y="263.32500000000005" font-size="5.6" fill="#111" stroke="#111" stroke-width="0.22">NBEAP1</text>
<text x="468.3" y="269.77500000000003" font-size="5.6" fill="#111" stroke="#111" stroke-width="0.22">CNKSR2</text>
<text x="468.3" y="276.225" font-size="5.6" fill="#111" stroke="#111" stroke-width="0.22">CACHD1</text>
<text x="468.3" y="282.675" font-size="5.6" fill="#111" stroke="#111" stroke-width="0.22">FABP5P1</text>
<text x="468.3" y="289.125" font-size="5.6" fill="#111" stroke="#111" stroke-width="0.22">HLA-DMB</text>
<text x="468.3" y="295.57500000000005" font-size="5.6" fill="#111" stroke="#111" stroke-width="0.22">MYOF</text>
<text x="468.3" y="302.02500000000003" font-size="5.6" fill="#111" stroke="#111" stroke-width="0.22">MPEG1</text>
<text x="468.3" y="308.475" font-size="5.6" fill="#111" stroke="#111" stroke-width="0.22">HLA-DRA</text>
<text x="468.3" y="314.925" font-size="5.6" fill="#111" stroke="#111" stroke-width="0.22">PIK3AP1</text>
<text x="468.3" y="321.37500000000006" font-size="5.6" fill="#111" stroke="#111" stroke-width="0.22">PLEK</text>
<text x="468.3" y="327.82500000000005" font-size="5.6" fill="#111" stroke="#111" stroke-width="0.22">CCL4</text>
<text x="468.3" y="334.27500000000003" font-size="5.6" fill="#111" stroke="#111" stroke-width="0.22">GNAO1</text>
<text x="468.3" y="340.725" font-size="5.6" fill="#111" stroke="#111" stroke-width="0.22">ADAM19</text>
<text x="468.3" y="347.17500000000007" font-size="5.6" fill="#111" stroke="#111" stroke-width="0.22">TNFRSF1B</text>
<text x="468.3" y="353.62500000000006" font-size="5.6" fill="#111" stroke="#111" stroke-width="0.22">ATXN1</text>
<text x="468.3" y="360.07500000000005" font-size="5.6" fill="#111" stroke="#111" stroke-width="0.22">SAMSN1</text>
<text x="468.3" y="366.52500000000003" font-size="5.6" fill="#111" stroke="#111" stroke-width="0.22">ANXA2P2</text>
<text x="468.3" y="372.975" font-size="5.6" fill="#111" stroke="#111" stroke-width="0.22">ANXA2</text>
<text x="468.3" y="379.42500000000007" font-size="5.6" fill="#111" stroke="#111" stroke-width="0.22">CD58</text>
<text x="468.3" y="385.87500000000006" font-size="5.6" fill="#111" stroke="#111" stroke-width="0.22">SDC4</text>
<text x="468.3" y="392.32500000000005" font-size="5.6" fill="#111" stroke="#111" stroke-width="0.22">FAM46B</text>
<text x="468.3" y="398.77500000000003" font-size="5.6" fill="#111" stroke="#111" stroke-width="0.22">MIR4435–2HG</text>
<text x="468.3" y="405.225" font-size="5.6" fill="#111" stroke="#111" stroke-width="0.22">LINC00152</text>
<text x="468.3" y="411.67500000000007" font-size="5.6" fill="#111" stroke="#111" stroke-width="0.22">MXRA7</text>
<text x="468.3" y="418.12500000000006" font-size="5.6" fill="#111" stroke="#111" stroke-width="0.22">CCR4</text>
<text x="468.3" y="424.57500000000005" font-size="5.6" fill="#111" stroke="#111" stroke-width="0.22">FAM129A</text>
<text x="468.3" y="431.0250000000001" font-size="5.6" fill="#111" stroke="#111" stroke-width="0.22">MYO1F</text>
<text x="468.3" y="437.475" font-size="5.6" fill="#111" stroke="#111" stroke-width="0.22">KLF6</text>
<text x="321.13461538461536" y="443.6" font-size="5.6" transform="rotate(90 321.13461538461536 443.6)" fill="#111" stroke="#111" stroke-width="0.22">HD2 CD4+ TN</text>
<text x="332.6038461538461" y="443.6" font-size="5.6" transform="rotate(90 332.6038461538461 443.6)" fill="#111" stroke="#111" stroke-width="0.22">HD1 CD4+ TN</text>
<text x="344.0730769230769" y="443.6" font-size="5.6" transform="rotate(90 344.0730769230769 443.6)" fill="#111" stroke="#111" stroke-width="0.22">HD3 CD4+ TN</text>
<text x="355.54230769230765" y="443.6" font-size="5.6" transform="rotate(90 355.54230769230765 443.6)" fill="#111" stroke="#111" stroke-width="0.22">HD3 CD4+ TCM</text>
<text x="367.01153846153846" y="443.6" font-size="5.6" transform="rotate(90 367.01153846153846 443.6)" fill="#111" stroke="#111" stroke-width="0.22">HD1 CD4+ TCM</text>
<text x="378.4807692307692" y="443.6" font-size="5.6" transform="rotate(90 378.4807692307692 443.6)" fill="#111" stroke="#111" stroke-width="0.22">HD2 CD4+ TCM</text>
<text x="389.95" y="443.6" font-size="5.6" font-weight="bold" font-style="italic" transform="rotate(90 389.95 443.6)" fill="#111" stroke="#111" stroke-width="0.18">SYLN27 SCs TCM</text>
<text x="401.41923076923075" y="443.6" font-size="5.6" font-weight="bold" font-style="italic" transform="rotate(90 401.41923076923075 443.6)" fill="#111" stroke="#111" stroke-width="0.18">MARC44 SCs TCM</text>
<text x="412.8884615384615" y="443.6" font-size="5.6" font-weight="bold" font-style="italic" transform="rotate(90 412.8884615384615 443.6)" fill="#111" stroke="#111" stroke-width="0.18">COLA47 SCs TN</text>
<text x="424.35769230769233" y="443.6" font-size="5.6" transform="rotate(90 424.35769230769233 443.6)" fill="#111" stroke="#111" stroke-width="0.22">HD3 CD4+ TSCM</text>
<text x="435.8269230769231" y="443.6" font-size="5.6" font-weight="bold" font-style="italic" transform="rotate(90 435.8269230769231 443.6)" fill="#111" stroke="#111" stroke-width="0.18">SYLN27 SCs TSCM</text>
<text x="447.29615384615386" y="443.6" font-size="5.6" transform="rotate(90 447.29615384615386 443.6)" fill="#111" stroke="#111" stroke-width="0.22">HD1 CD4+ TSCM</text>
<text x="458.7653846153846" y="443.6" font-size="5.6" transform="rotate(90 458.7653846153846 443.6)" fill="#111" stroke="#111" stroke-width="0.22">HD2 CD4+ TSCM</text>
<line x1="334.60" y1="242.60" x2="334.60" y2="236.00" stroke="#1a1a1a" stroke-width="1.0"/>
<line x1="346.07" y1="242.60" x2="346.07" y2="236.00" stroke="#1a1a1a" stroke-width="1.0"/>
<line x1="334.60" y1="236.00" x2="346.07" y2="236.00" stroke="#1a1a1a" stroke-width="1.0"/>
<line x1="323.13" y1="242.60" x2="323.13" y2="233.00" stroke="#1a1a1a" stroke-width="1.0"/>
<line x1="340.34" y1="236.00" x2="340.34" y2="233.00" stroke="#1a1a1a" stroke-width="1.0"/>
<line x1="323.13" y1="233.00" x2="340.34" y2="233.00" stroke="#1a1a1a" stroke-width="1.0"/>
<line x1="369.01" y1="242.60" x2="369.01" y2="236.60" stroke="#1a1a1a" stroke-width="1.0"/>
<line x1="380.48" y1="242.60" x2="380.48" y2="236.60" stroke="#1a1a1a" stroke-width="1.0"/>
<line x1="369.01" y1="236.60" x2="380.48" y2="236.60" stroke="#1a1a1a" stroke-width="1.0"/>
<line x1="357.54" y1="242.60" x2="357.54" y2="233.50" stroke="#1a1a1a" stroke-width="1.0"/>
<line x1="374.75" y1="236.60" x2="374.75" y2="233.50" stroke="#1a1a1a" stroke-width="1.0"/>
<line x1="357.54" y1="233.50" x2="374.75" y2="233.50" stroke="#1a1a1a" stroke-width="1.0"/>
<line x1="391.95" y1="242.60" x2="391.95" y2="232.70" stroke="#1a1a1a" stroke-width="1.0"/>
<line x1="403.42" y1="242.60" x2="403.42" y2="232.70" stroke="#1a1a1a" stroke-width="1.0"/>
<line x1="391.95" y1="232.70" x2="403.42" y2="232.70" stroke="#1a1a1a" stroke-width="1.0"/>
<line x1="366.14" y1="233.50" x2="366.14" y2="229.20" stroke="#1a1a1a" stroke-width="1.0"/>
<line x1="397.68" y1="232.70" x2="397.68" y2="229.20" stroke="#1a1a1a" stroke-width="1.0"/>
<line x1="366.14" y1="229.20" x2="397.68" y2="229.20" stroke="#1a1a1a" stroke-width="1.0"/>
<line x1="449.30" y1="242.60" x2="449.30" y2="234.30" stroke="#1a1a1a" stroke-width="1.0"/>
<line x1="460.77" y1="242.60" x2="460.77" y2="234.30" stroke="#1a1a1a" stroke-width="1.0"/>
<line x1="449.30" y1="234.30" x2="460.77" y2="234.30" stroke="#1a1a1a" stroke-width="1.0"/>
<line x1="437.83" y1="242.60" x2="437.83" y2="233.50" stroke="#1a1a1a" stroke-width="1.0"/>
<line x1="455.03" y1="234.30" x2="455.03" y2="233.50" stroke="#1a1a1a" stroke-width="1.0"/>
<line x1="437.83" y1="233.50" x2="455.03" y2="233.50" stroke="#1a1a1a" stroke-width="1.0"/>
<line x1="426.36" y1="242.60" x2="426.36" y2="230.70" stroke="#1a1a1a" stroke-width="1.0"/>
<line x1="446.43" y1="233.50" x2="446.43" y2="230.70" stroke="#1a1a1a" stroke-width="1.0"/>
<line x1="426.36" y1="230.70" x2="446.43" y2="230.70" stroke="#1a1a1a" stroke-width="1.0"/>
<line x1="414.89" y1="242.60" x2="414.89" y2="229.00" stroke="#1a1a1a" stroke-width="1.0"/>
<line x1="436.39" y1="230.70" x2="436.39" y2="229.00" stroke="#1a1a1a" stroke-width="1.0"/>
<line x1="414.89" y1="229.00" x2="436.39" y2="229.00" stroke="#1a1a1a" stroke-width="1.0"/>
<line x1="381.91" y1="229.20" x2="381.91" y2="218.40" stroke="#1a1a1a" stroke-width="1.0"/>
<line x1="425.64" y1="229.00" x2="425.64" y2="218.40" stroke="#1a1a1a" stroke-width="1.0"/>
<line x1="381.91" y1="218.40" x2="425.64" y2="218.40" stroke="#1a1a1a" stroke-width="1.0"/>
<line x1="331.74" y1="233.00" x2="331.74" y2="205.00" stroke="#1a1a1a" stroke-width="1.0"/>
<line x1="403.78" y1="218.40" x2="403.78" y2="205.00" stroke="#1a1a1a" stroke-width="1.0"/>
<line x1="331.74" y1="205.00" x2="403.78" y2="205.00" stroke="#1a1a1a" stroke-width="1.0"/>
<line x1="317.40" y1="267.68" x2="302.00" y2="267.68" stroke="#1a1a1a" stroke-width="1.0"/>
<line x1="317.40" y1="274.12" x2="302.00" y2="274.12" stroke="#1a1a1a" stroke-width="1.0"/>
<line x1="302.00" y1="267.68" x2="302.00" y2="274.12" stroke="#1a1a1a" stroke-width="1.0"/>
<line x1="317.40" y1="261.23" x2="300.40" y2="261.23" stroke="#1a1a1a" stroke-width="1.0"/>
<line x1="302.00" y1="270.90" x2="300.40" y2="270.90" stroke="#1a1a1a" stroke-width="1.0"/>
<line x1="300.40" y1="261.23" x2="300.40" y2="270.90" stroke="#1a1a1a" stroke-width="1.0"/>
<line x1="317.40" y1="287.02" x2="312.00" y2="287.02" stroke="#1a1a1a" stroke-width="1.0"/>
<line x1="317.40" y1="293.48" x2="312.00" y2="293.48" stroke="#1a1a1a" stroke-width="1.0"/>
<line x1="312.00" y1="287.02" x2="312.00" y2="293.48" stroke="#1a1a1a" stroke-width="1.0"/>
<line x1="317.40" y1="299.93" x2="312.50" y2="299.93" stroke="#1a1a1a" stroke-width="1.0"/>
<line x1="317.40" y1="306.38" x2="312.50" y2="306.38" stroke="#1a1a1a" stroke-width="1.0"/>
<line x1="312.50" y1="299.93" x2="312.50" y2="306.38" stroke="#1a1a1a" stroke-width="1.0"/>
<line x1="312.00" y1="290.25" x2="310.00" y2="290.25" stroke="#1a1a1a" stroke-width="1.0"/>
<line x1="312.50" y1="303.15" x2="310.00" y2="303.15" stroke="#1a1a1a" stroke-width="1.0"/>
<line x1="310.00" y1="290.25" x2="310.00" y2="303.15" stroke="#1a1a1a" stroke-width="1.0"/>
<line x1="317.40" y1="312.82" x2="311.00" y2="312.82" stroke="#1a1a1a" stroke-width="1.0"/>
<line x1="317.40" y1="319.28" x2="311.00" y2="319.28" stroke="#1a1a1a" stroke-width="1.0"/>
<line x1="311.00" y1="312.82" x2="311.00" y2="319.28" stroke="#1a1a1a" stroke-width="1.0"/>
<line x1="310.00" y1="296.70" x2="308.50" y2="296.70" stroke="#1a1a1a" stroke-width="1.0"/>
<line x1="311.00" y1="316.05" x2="308.50" y2="316.05" stroke="#1a1a1a" stroke-width="1.0"/>
<line x1="308.50" y1="296.70" x2="308.50" y2="316.05" stroke="#1a1a1a" stroke-width="1.0"/>
<line x1="308.50" y1="306.38" x2="306.80" y2="306.38" stroke="#1a1a1a" stroke-width="1.0"/>
<line x1="317.40" y1="325.73" x2="306.80" y2="325.73" stroke="#1a1a1a" stroke-width="1.0"/>
<line x1="306.80" y1="306.38" x2="306.80" y2="325.73" stroke="#1a1a1a" stroke-width="1.0"/>
<line x1="317.40" y1="280.57" x2="301.40" y2="280.57" stroke="#1a1a1a" stroke-width="1.0"/>
<line x1="306.80" y1="316.05" x2="301.40" y2="316.05" stroke="#1a1a1a" stroke-width="1.0"/>
<line x1="301.40" y1="280.57" x2="301.40" y2="316.05" stroke="#1a1a1a" stroke-width="1.0"/>
<line x1="317.40" y1="332.18" x2="305.90" y2="332.18" stroke="#1a1a1a" stroke-width="1.0"/>
<line x1="317.40" y1="338.62" x2="305.90" y2="338.62" stroke="#1a1a1a" stroke-width="1.0"/>
<line x1="305.90" y1="332.18" x2="305.90" y2="338.62" stroke="#1a1a1a" stroke-width="1.0"/>
<line x1="317.40" y1="351.53" x2="311.50" y2="351.53" stroke="#1a1a1a" stroke-width="1.0"/>
<line x1="317.40" y1="357.98" x2="311.50" y2="357.98" stroke="#1a1a1a" stroke-width="1.0"/>
<line x1="311.50" y1="351.53" x2="311.50" y2="357.98" stroke="#1a1a1a" stroke-width="1.0"/>
<line x1="317.40" y1="364.43" x2="312.50" y2="364.43" stroke="#1a1a1a" stroke-width="1.0"/>
<line x1="317.40" y1="370.88" x2="312.50" y2="370.88" stroke="#1a1a1a" stroke-width="1.0"/>
<line x1="312.50" y1="364.43" x2="312.50" y2="370.88" stroke="#1a1a1a" stroke-width="1.0"/>
<line x1="311.50" y1="354.75" x2="309.50" y2="354.75" stroke="#1a1a1a" stroke-width="1.0"/>
<line x1="312.50" y1="367.65" x2="309.50" y2="367.65" stroke="#1a1a1a" stroke-width="1.0"/>
<line x1="309.50" y1="354.75" x2="309.50" y2="367.65" stroke="#1a1a1a" stroke-width="1.0"/>
<line x1="317.40" y1="345.08" x2="305.90" y2="345.08" stroke="#1a1a1a" stroke-width="1.0"/>
<line x1="309.50" y1="361.20" x2="305.90" y2="361.20" stroke="#1a1a1a" stroke-width="1.0"/>
<line x1="305.90" y1="345.08" x2="305.90" y2="361.20" stroke="#1a1a1a" stroke-width="1.0"/>
<line x1="317.40" y1="377.33" x2="311.00" y2="377.33" stroke="#1a1a1a" stroke-width="1.0"/>
<line x1="317.40" y1="383.78" x2="311.00" y2="383.78" stroke="#1a1a1a" stroke-width="1.0"/>
<line x1="311.00" y1="377.33" x2="311.00" y2="383.78" stroke="#1a1a1a" stroke-width="1.0"/>
<line x1="317.40" y1="390.23" x2="312.00" y2="390.23" stroke="#1a1a1a" stroke-width="1.0"/>
<line x1="317.40" y1="396.68" x2="312.00" y2="396.68" stroke="#1a1a1a" stroke-width="1.0"/>
<line x1="312.00" y1="390.23" x2="312.00" y2="396.68" stroke="#1a1a1a" stroke-width="1.0"/>
<line x1="311.00" y1="380.55" x2="309.00" y2="380.55" stroke="#1a1a1a" stroke-width="1.0"/>
<line x1="312.00" y1="393.45" x2="309.00" y2="393.45" stroke="#1a1a1a" stroke-width="1.0"/>
<line x1="309.00" y1="380.55" x2="309.00" y2="393.45" stroke="#1a1a1a" stroke-width="1.0"/>
<line x1="317.40" y1="403.12" x2="311.50" y2="403.12" stroke="#1a1a1a" stroke-width="1.0"/>
<line x1="317.40" y1="409.58" x2="311.50" y2="409.58" stroke="#1a1a1a" stroke-width="1.0"/>
<line x1="311.50" y1="403.12" x2="311.50" y2="409.58" stroke="#1a1a1a" stroke-width="1.0"/>
<line x1="317.40" y1="416.03" x2="311.00" y2="416.03" stroke="#1a1a1a" stroke-width="1.0"/>
<line x1="317.40" y1="422.48" x2="311.00" y2="422.48" stroke="#1a1a1a" stroke-width="1.0"/>
<line x1="311.00" y1="416.03" x2="311.00" y2="422.48" stroke="#1a1a1a" stroke-width="1.0"/>
<line x1="311.50" y1="406.35" x2="309.50" y2="406.35" stroke="#1a1a1a" stroke-width="1.0"/>
<line x1="311.00" y1="419.25" x2="309.50" y2="419.25" stroke="#1a1a1a" stroke-width="1.0"/>
<line x1="309.50" y1="406.35" x2="309.50" y2="419.25" stroke="#1a1a1a" stroke-width="1.0"/>
<line x1="317.40" y1="428.93" x2="310.50" y2="428.93" stroke="#1a1a1a" stroke-width="1.0"/>
<line x1="317.40" y1="435.38" x2="310.50" y2="435.38" stroke="#1a1a1a" stroke-width="1.0"/>
<line x1="310.50" y1="428.93" x2="310.50" y2="435.38" stroke="#1a1a1a" stroke-width="1.0"/>
<line x1="309.50" y1="412.80" x2="307.50" y2="412.80" stroke="#1a1a1a" stroke-width="1.0"/>
<line x1="310.50" y1="432.15" x2="307.50" y2="432.15" stroke="#1a1a1a" stroke-width="1.0"/>
<line x1="307.50" y1="412.80" x2="307.50" y2="432.15" stroke="#1a1a1a" stroke-width="1.0"/>
<line x1="309.00" y1="387.00" x2="303.70" y2="387.00" stroke="#1a1a1a" stroke-width="1.0"/>
<line x1="307.50" y1="422.48" x2="303.70" y2="422.48" stroke="#1a1a1a" stroke-width="1.0"/>
<line x1="303.70" y1="387.00" x2="303.70" y2="422.48" stroke="#1a1a1a" stroke-width="1.0"/>
<line x1="305.90" y1="353.14" x2="298.30" y2="353.14" stroke="#1a1a1a" stroke-width="1.0"/>
<line x1="303.70" y1="404.74" x2="298.30" y2="404.74" stroke="#1a1a1a" stroke-width="1.0"/>
<line x1="298.30" y1="353.14" x2="298.30" y2="404.74" stroke="#1a1a1a" stroke-width="1.0"/>
<line x1="305.90" y1="335.40" x2="291.70" y2="335.40" stroke="#1a1a1a" stroke-width="1.0"/>
<line x1="298.30" y1="378.94" x2="291.70" y2="378.94" stroke="#1a1a1a" stroke-width="1.0"/>
<line x1="291.70" y1="335.40" x2="291.70" y2="378.94" stroke="#1a1a1a" stroke-width="1.0"/>
<line x1="301.40" y1="298.31" x2="284.60" y2="298.31" stroke="#1a1a1a" stroke-width="1.0"/>
<line x1="291.70" y1="357.17" x2="284.60" y2="357.17" stroke="#1a1a1a" stroke-width="1.0"/>
<line x1="284.60" y1="298.31" x2="284.60" y2="357.17" stroke="#1a1a1a" stroke-width="1.0"/>
<line x1="300.40" y1="266.06" x2="279.20" y2="266.06" stroke="#1a1a1a" stroke-width="1.0"/>
<line x1="284.60" y1="327.74" x2="279.20" y2="327.74" stroke="#1a1a1a" stroke-width="1.0"/>
<line x1="279.20" y1="266.06" x2="279.20" y2="327.74" stroke="#1a1a1a" stroke-width="1.0"/>
<rect x="284.20" y="517.60" width="7.30" height="7.40" fill="#3f7fc0"/>
<rect x="284.20" y="525.00" width="7.30" height="8.00" fill="#e8801e"/>
<text x="296.0" y="523.8" font-size="5.6" fill="#111" stroke="#111" stroke-width="0.22">HD</text>
<text x="296.0" y="532.2" font-size="5.6" textLength="46.8" lengthAdjust="spacingAndGlyphs" fill="#111" stroke="#111" stroke-width="0.22">SEZARY PATIENT</text>
<text x="347.4" y="506.8" font-size="5.6" font-weight="bold" textLength="41.1" lengthAdjust="spacingAndGlyphs" fill="#111" stroke="#111" stroke-width="0.18">PHENOTYPE OF</text>
<text x="347.4" y="513.8" font-size="5.6" font-weight="bold" textLength="48.1" lengthAdjust="spacingAndGlyphs" fill="#111" stroke="#111" stroke-width="0.18">SORTED T-CELLS</text>
<rect x="347.40" y="517.00" width="7.60" height="8.00" fill="#5aa63e"/>
<rect x="347.40" y="525.00" width="7.60" height="8.30" fill="#f3d022"/>
<rect x="347.40" y="533.30" width="7.60" height="8.50" fill="#8c3fa0"/>
<text x="357.4" y="523.2" font-size="5.6" fill="#111" stroke="#111" stroke-width="0.22">TN</text>
<text x="357.4" y="531.6" font-size="5.6" fill="#111" stroke="#111" stroke-width="0.22">TSCM</text>
<text x="357.4" y="539.7" font-size="5.6" fill="#111" stroke="#111" stroke-width="0.22">TCM</text>
<defs><linearGradient id="cb" x1="0" x2="1" y1="0" y2="0"><stop offset="0" stop-color="#283ab2"/><stop offset="0.5" stop-color="#fbfbfb"/><stop offset="1" stop-color="#de161e"/></linearGradient></defs>
<rect x="402.00" y="522.00" width="105.00" height="6.80" fill="url(#cb)"/>
<text x="406.2" y="535.8" font-size="5.2" text-anchor="middle" fill="#111" stroke="#111" stroke-width="0.22">−2</text>
<text x="429.2" y="535.8" font-size="5.2" text-anchor="middle" fill="#111" stroke="#111" stroke-width="0.22">−1</text>
<text x="452.2" y="535.8" font-size="5.2" text-anchor="middle" fill="#111" stroke="#111" stroke-width="0.22">0</text>
<text x="475.2" y="535.8" font-size="5.2" text-anchor="middle" fill="#111" stroke="#111" stroke-width="0.22">1</text>
<text x="498.2" y="535.8" font-size="5.2" text-anchor="middle" fill="#111" stroke="#111" stroke-width="0.22">2</text>
<defs><filter id="bl1" x="-50%" y="-50%" width="200%" height="200%"><feGaussianBlur stdDeviation="0.5"/></filter><filter id="bl2" x="-50%" y="-50%" width="200%" height="200%"><feGaussianBlur stdDeviation="1.0"/></filter><filter id="bl3" x="-50%" y="-50%" width="200%" height="200%"><feGaussianBlur stdDeviation="1.5"/></filter><filter id="bl4" x="-50%" y="-50%" width="200%" height="200%"><feGaussianBlur stdDeviation="2.0"/></filter><filter id="bl5" x="-50%" y="-50%" width="200%" height="200%"><feGaussianBlur stdDeviation="2.5"/></filter></defs>
<line x1="34.90" y1="213.30" x2="34.90" y2="269.60" stroke="#888" stroke-width="0.5"/>
<line x1="34.90" y1="269.60" x2="97.90" y2="269.60" stroke="#888" stroke-width="0.5"/>
<line x1="97.90" y1="213.30" x2="97.90" y2="269.60" stroke="#666" stroke-width="0.6"/>
<line x1="93.30" y1="213.30" x2="97.90" y2="213.30" stroke="#222" stroke-width="0.8"/>
<line x1="33.10" y1="257.36" x2="34.90" y2="257.36" stroke="#333" stroke-width="0.55"/>
<line x1="33.10" y1="245.12" x2="34.90" y2="245.12" stroke="#333" stroke-width="0.55"/>
<line x1="33.10" y1="232.88" x2="34.90" y2="232.88" stroke="#333" stroke-width="0.55"/>
<line x1="33.10" y1="220.64" x2="34.90" y2="220.64" stroke="#333" stroke-width="0.55"/>
<line x1="33.90" y1="267.72" x2="34.90" y2="267.72" stroke="#333" stroke-width="0.45"/>
<line x1="33.90" y1="265.85" x2="34.90" y2="265.85" stroke="#333" stroke-width="0.45"/>
<line x1="33.90" y1="263.97" x2="34.90" y2="263.97" stroke="#333" stroke-width="0.45"/>
<line x1="33.90" y1="262.09" x2="34.90" y2="262.09" stroke="#333" stroke-width="0.45"/>
<line x1="33.90" y1="260.22" x2="34.90" y2="260.22" stroke="#333" stroke-width="0.45"/>
<line x1="33.90" y1="258.34" x2="34.90" y2="258.34" stroke="#333" stroke-width="0.45"/>
<line x1="33.90" y1="256.46" x2="34.90" y2="256.46" stroke="#333" stroke-width="0.45"/>
<line x1="33.90" y1="254.59" x2="34.90" y2="254.59" stroke="#333" stroke-width="0.45"/>
<line x1="33.90" y1="252.71" x2="34.90" y2="252.71" stroke="#333" stroke-width="0.45"/>
<line x1="33.90" y1="250.83" x2="34.90" y2="250.83" stroke="#333" stroke-width="0.45"/>
<line x1="33.90" y1="248.96" x2="34.90" y2="248.96" stroke="#333" stroke-width="0.45"/>
<line x1="33.90" y1="247.08" x2="34.90" y2="247.08" stroke="#333" stroke-width="0.45"/>
<line x1="33.90" y1="245.20" x2="34.90" y2="245.20" stroke="#333" stroke-width="0.45"/>
<line x1="33.90" y1="243.33" x2="34.90" y2="243.33" stroke="#333" stroke-width="0.45"/>
<line x1="33.90" y1="241.45" x2="34.90" y2="241.45" stroke="#333" stroke-width="0.45"/>
<line x1="33.90" y1="239.57" x2="34.90" y2="239.57" stroke="#333" stroke-width="0.45"/>
<line x1="33.90" y1="237.70" x2="34.90" y2="237.70" stroke="#333" stroke-width="0.45"/>
<line x1="33.90" y1="235.82" x2="34.90" y2="235.82" stroke="#333" stroke-width="0.45"/>
<line x1="33.90" y1="233.94" x2="34.90" y2="233.94" stroke="#333" stroke-width="0.45"/>
<line x1="33.90" y1="232.07" x2="34.90" y2="232.07" stroke="#333" stroke-width="0.45"/>
<line x1="33.90" y1="230.19" x2="34.90" y2="230.19" stroke="#333" stroke-width="0.45"/>
<line x1="33.90" y1="228.31" x2="34.90" y2="228.31" stroke="#333" stroke-width="0.45"/>
<line x1="33.90" y1="226.44" x2="34.90" y2="226.44" stroke="#333" stroke-width="0.45"/>
<line x1="33.90" y1="224.56" x2="34.90" y2="224.56" stroke="#333" stroke-width="0.45"/>
<line x1="33.90" y1="222.68" x2="34.90" y2="222.68" stroke="#333" stroke-width="0.45"/>
<line x1="33.90" y1="220.81" x2="34.90" y2="220.81" stroke="#333" stroke-width="0.45"/>
<line x1="33.90" y1="218.93" x2="34.90" y2="218.93" stroke="#333" stroke-width="0.45"/>
<line x1="33.90" y1="217.05" x2="34.90" y2="217.05" stroke="#333" stroke-width="0.45"/>
<line x1="33.90" y1="215.18" x2="34.90" y2="215.18" stroke="#333" stroke-width="0.45"/>
<line x1="36.75" y1="269.60" x2="36.75" y2="270.70" stroke="#333" stroke-width="0.45"/>
<line x1="38.61" y1="269.60" x2="38.61" y2="270.70" stroke="#333" stroke-width="0.45"/>
<line x1="40.46" y1="269.60" x2="40.46" y2="270.70" stroke="#333" stroke-width="0.45"/>
<line x1="42.31" y1="269.60" x2="42.31" y2="270.70" stroke="#333" stroke-width="0.45"/>
<line x1="44.16" y1="269.60" x2="44.16" y2="270.70" stroke="#333" stroke-width="0.45"/>
<line x1="46.02" y1="269.60" x2="46.02" y2="270.70" stroke="#333" stroke-width="0.45"/>
<line x1="47.87" y1="269.60" x2="47.87" y2="271.40" stroke="#333" stroke-width="0.45"/>
<line x1="49.72" y1="269.60" x2="49.72" y2="270.70" stroke="#333" stroke-width="0.45"/>
<line x1="51.58" y1="269.60" x2="51.58" y2="270.70" stroke="#333" stroke-width="0.45"/>
<line x1="53.43" y1="269.60" x2="53.43" y2="270.70" stroke="#333" stroke-width="0.45"/>
<line x1="55.28" y1="269.60" x2="55.28" y2="270.70" stroke="#333" stroke-width="0.45"/>
<line x1="57.14" y1="269.60" x2="57.14" y2="270.70" stroke="#333" stroke-width="0.45"/>
<line x1="58.99" y1="269.60" x2="58.99" y2="270.70" stroke="#333" stroke-width="0.45"/>
<line x1="60.84" y1="269.60" x2="60.84" y2="271.40" stroke="#333" stroke-width="0.45"/>
<line x1="62.69" y1="269.60" x2="62.69" y2="270.70" stroke="#333" stroke-width="0.45"/>
<line x1="64.55" y1="269.60" x2="64.55" y2="270.70" stroke="#333" stroke-width="0.45"/>
<line x1="66.40" y1="269.60" x2="66.40" y2="270.70" stroke="#333" stroke-width="0.45"/>
<line x1="68.25" y1="269.60" x2="68.25" y2="270.70" stroke="#333" stroke-width="0.45"/>
<line x1="70.11" y1="269.60" x2="70.11" y2="270.70" stroke="#333" stroke-width="0.45"/>
<line x1="71.96" y1="269.60" x2="71.96" y2="270.70" stroke="#333" stroke-width="0.45"/>
<line x1="73.81" y1="269.60" x2="73.81" y2="271.40" stroke="#333" stroke-width="0.45"/>
<line x1="75.66" y1="269.60" x2="75.66" y2="270.70" stroke="#333" stroke-width="0.45"/>
<line x1="77.52" y1="269.60" x2="77.52" y2="270.70" stroke="#333" stroke-width="0.45"/>
<line x1="79.37" y1="269.60" x2="79.37" y2="270.70" stroke="#333" stroke-width="0.45"/>
<line x1="81.22" y1="269.60" x2="81.22" y2="270.70" stroke="#333" stroke-width="0.45"/>
<line x1="83.08" y1="269.60" x2="83.08" y2="270.70" stroke="#333" stroke-width="0.45"/>
<line x1="84.93" y1="269.60" x2="84.93" y2="270.70" stroke="#333" stroke-width="0.45"/>
<line x1="86.78" y1="269.60" x2="86.78" y2="271.40" stroke="#333" stroke-width="0.45"/>
<line x1="88.64" y1="269.60" x2="88.64" y2="270.70" stroke="#333" stroke-width="0.45"/>
<line x1="90.49" y1="269.60" x2="90.49" y2="270.70" stroke="#333" stroke-width="0.45"/>
<line x1="92.34" y1="269.60" x2="92.34" y2="270.70" stroke="#333" stroke-width="0.45"/>
<line x1="94.19" y1="269.60" x2="94.19" y2="270.70" stroke="#333" stroke-width="0.45"/>
<line x1="96.05" y1="269.60" x2="96.05" y2="270.70" stroke="#333" stroke-width="0.45"/>
<line x1="109.80" y1="214.40" x2="109.80" y2="271.00" stroke="#888" stroke-width="0.5"/>
<line x1="109.80" y1="271.00" x2="173.90" y2="271.00" stroke="#888" stroke-width="0.5"/>
<line x1="173.90" y1="214.40" x2="173.90" y2="271.00" stroke="#666" stroke-width="0.6"/>
<line x1="144.80" y1="214.40" x2="173.90" y2="214.40" stroke="#222" stroke-width="0.8"/>
<line x1="108.00" y1="258.70" x2="109.80" y2="258.70" stroke="#333" stroke-width="0.55"/>
<line x1="108.00" y1="246.39" x2="109.80" y2="246.39" stroke="#333" stroke-width="0.55"/>
<line x1="108.00" y1="234.09" x2="109.80" y2="234.09" stroke="#333" stroke-width="0.55"/>
<line x1="108.00" y1="221.78" x2="109.80" y2="221.78" stroke="#333" stroke-width="0.55"/>
<line x1="108.80" y1="269.11" x2="109.80" y2="269.11" stroke="#333" stroke-width="0.45"/>
<line x1="108.80" y1="267.23" x2="109.80" y2="267.23" stroke="#333" stroke-width="0.45"/>
<line x1="108.80" y1="265.34" x2="109.80" y2="265.34" stroke="#333" stroke-width="0.45"/>
<line x1="108.80" y1="263.45" x2="109.80" y2="263.45" stroke="#333" stroke-width="0.45"/>
<line x1="108.80" y1="261.57" x2="109.80" y2="261.57" stroke="#333" stroke-width="0.45"/>
<line x1="108.80" y1="259.68" x2="109.80" y2="259.68" stroke="#333" stroke-width="0.45"/>
<line x1="108.80" y1="257.79" x2="109.80" y2="257.79" stroke="#333" stroke-width="0.45"/>
<line x1="108.80" y1="255.91" x2="109.80" y2="255.91" stroke="#333" stroke-width="0.45"/>
<line x1="108.80" y1="254.02" x2="109.80" y2="254.02" stroke="#333" stroke-width="0.45"/>
<line x1="108.80" y1="252.13" x2="109.80" y2="252.13" stroke="#333" stroke-width="0.45"/>
<line x1="108.80" y1="250.25" x2="109.80" y2="250.25" stroke="#333" stroke-width="0.45"/>
<line x1="108.80" y1="248.36" x2="109.80" y2="248.36" stroke="#333" stroke-width="0.45"/>
<line x1="108.80" y1="246.47" x2="109.80" y2="246.47" stroke="#333" stroke-width="0.45"/>
<line x1="108.80" y1="244.59" x2="109.80" y2="244.59" stroke="#333" stroke-width="0.45"/>
<line x1="108.80" y1="242.70" x2="109.80" y2="242.70" stroke="#333" stroke-width="0.45"/>
<line x1="108.80" y1="240.81" x2="109.80" y2="240.81" stroke="#333" stroke-width="0.45"/>
<line x1="108.80" y1="238.93" x2="109.80" y2="238.93" stroke="#333" stroke-width="0.45"/>
<line x1="108.80" y1="237.04" x2="109.80" y2="237.04" stroke="#333" stroke-width="0.45"/>
<line x1="108.80" y1="235.15" x2="109.80" y2="235.15" stroke="#333" stroke-width="0.45"/>
<line x1="108.80" y1="233.27" x2="109.80" y2="233.27" stroke="#333" stroke-width="0.45"/>
<line x1="108.80" y1="231.38" x2="109.80" y2="231.38" stroke="#333" stroke-width="0.45"/>
<line x1="108.80" y1="229.49" x2="109.80" y2="229.49" stroke="#333" stroke-width="0.45"/>
<line x1="108.80" y1="227.61" x2="109.80" y2="227.61" stroke="#333" stroke-width="0.45"/>
<line x1="108.80" y1="225.72" x2="109.80" y2="225.72" stroke="#333" stroke-width="0.45"/>
<line x1="108.80" y1="223.83" x2="109.80" y2="223.83" stroke="#333" stroke-width="0.45"/>
<line x1="108.80" y1="221.95" x2="109.80" y2="221.95" stroke="#333" stroke-width="0.45"/>
<line x1="108.80" y1="220.06" x2="109.80" y2="220.06" stroke="#333" stroke-width="0.45"/>
<line x1="108.80" y1="218.17" x2="109.80" y2="218.17" stroke="#333" stroke-width="0.45"/>
<line x1="108.80" y1="216.29" x2="109.80" y2="216.29" stroke="#333" stroke-width="0.45"/>
<line x1="111.69" y1="271.00" x2="111.69" y2="272.10" stroke="#333" stroke-width="0.45"/>
<line x1="113.57" y1="271.00" x2="113.57" y2="272.10" stroke="#333" stroke-width="0.45"/>
<line x1="115.46" y1="271.00" x2="115.46" y2="272.10" stroke="#333" stroke-width="0.45"/>
<line x1="117.34" y1="271.00" x2="117.34" y2="272.10" stroke="#333" stroke-width="0.45"/>
<line x1="119.23" y1="271.00" x2="119.23" y2="272.10" stroke="#333" stroke-width="0.45"/>
<line x1="121.11" y1="271.00" x2="121.11" y2="272.10" stroke="#333" stroke-width="0.45"/>
<line x1="123.00" y1="271.00" x2="123.00" y2="272.80" stroke="#333" stroke-width="0.45"/>
<line x1="124.88" y1="271.00" x2="124.88" y2="272.10" stroke="#333" stroke-width="0.45"/>
<line x1="126.77" y1="271.00" x2="126.77" y2="272.10" stroke="#333" stroke-width="0.45"/>
<line x1="128.65" y1="271.00" x2="128.65" y2="272.10" stroke="#333" stroke-width="0.45"/>
<line x1="130.54" y1="271.00" x2="130.54" y2="272.10" stroke="#333" stroke-width="0.45"/>
<line x1="132.42" y1="271.00" x2="132.42" y2="272.10" stroke="#333" stroke-width="0.45"/>
<line x1="134.31" y1="271.00" x2="134.31" y2="272.10" stroke="#333" stroke-width="0.45"/>
<line x1="136.19" y1="271.00" x2="136.19" y2="272.80" stroke="#333" stroke-width="0.45"/>
<line x1="138.08" y1="271.00" x2="138.08" y2="272.10" stroke="#333" stroke-width="0.45"/>
<line x1="139.96" y1="271.00" x2="139.96" y2="272.10" stroke="#333" stroke-width="0.45"/>
<line x1="141.85" y1="271.00" x2="141.85" y2="272.10" stroke="#333" stroke-width="0.45"/>
<line x1="143.74" y1="271.00" x2="143.74" y2="272.10" stroke="#333" stroke-width="0.45"/>
<line x1="145.62" y1="271.00" x2="145.62" y2="272.10" stroke="#333" stroke-width="0.45"/>
<line x1="147.51" y1="271.00" x2="147.51" y2="272.10" stroke="#333" stroke-width="0.45"/>
<line x1="149.39" y1="271.00" x2="149.39" y2="272.80" stroke="#333" stroke-width="0.45"/>
<line x1="151.28" y1="271.00" x2="151.28" y2="272.10" stroke="#333" stroke-width="0.45"/>
<line x1="153.16" y1="271.00" x2="153.16" y2="272.10" stroke="#333" stroke-width="0.45"/>
<line x1="155.05" y1="271.00" x2="155.05" y2="272.10" stroke="#333" stroke-width="0.45"/>
<line x1="156.93" y1="271.00" x2="156.93" y2="272.10" stroke="#333" stroke-width="0.45"/>
<line x1="158.82" y1="271.00" x2="158.82" y2="272.10" stroke="#333" stroke-width="0.45"/>
<line x1="160.70" y1="271.00" x2="160.70" y2="272.10" stroke="#333" stroke-width="0.45"/>
<line x1="162.59" y1="271.00" x2="162.59" y2="272.80" stroke="#333" stroke-width="0.45"/>
<line x1="164.47" y1="271.00" x2="164.47" y2="272.10" stroke="#333" stroke-width="0.45"/>
<line x1="166.36" y1="271.00" x2="166.36" y2="272.10" stroke="#333" stroke-width="0.45"/>
<line x1="168.24" y1="271.00" x2="168.24" y2="272.10" stroke="#333" stroke-width="0.45"/>
<line x1="170.13" y1="271.00" x2="170.13" y2="272.10" stroke="#333" stroke-width="0.45"/>
<line x1="172.01" y1="271.00" x2="172.01" y2="272.10" stroke="#333" stroke-width="0.45"/>
<line x1="186.20" y1="213.60" x2="186.20" y2="270.00" stroke="#888" stroke-width="0.5"/>
<line x1="186.20" y1="270.00" x2="250.60" y2="270.00" stroke="#888" stroke-width="0.5"/>
<line x1="250.60" y1="213.60" x2="250.60" y2="270.00" stroke="#666" stroke-width="0.6"/>
<line x1="216.00" y1="213.60" x2="250.60" y2="213.60" stroke="#222" stroke-width="0.8"/>
<line x1="184.40" y1="257.74" x2="186.20" y2="257.74" stroke="#333" stroke-width="0.55"/>
<line x1="184.40" y1="245.48" x2="186.20" y2="245.48" stroke="#333" stroke-width="0.55"/>
<line x1="184.40" y1="233.22" x2="186.20" y2="233.22" stroke="#333" stroke-width="0.55"/>
<line x1="184.40" y1="220.96" x2="186.20" y2="220.96" stroke="#333" stroke-width="0.55"/>
<line x1="185.20" y1="268.12" x2="186.20" y2="268.12" stroke="#333" stroke-width="0.45"/>
<line x1="185.20" y1="266.24" x2="186.20" y2="266.24" stroke="#333" stroke-width="0.45"/>
<line x1="185.20" y1="264.36" x2="186.20" y2="264.36" stroke="#333" stroke-width="0.45"/>
<line x1="185.20" y1="262.48" x2="186.20" y2="262.48" stroke="#333" stroke-width="0.45"/>
<line x1="185.20" y1="260.60" x2="186.20" y2="260.60" stroke="#333" stroke-width="0.45"/>
<line x1="185.20" y1="258.72" x2="186.20" y2="258.72" stroke="#333" stroke-width="0.45"/>
<line x1="185.20" y1="256.84" x2="186.20" y2="256.84" stroke="#333" stroke-width="0.45"/>
<line x1="185.20" y1="254.96" x2="186.20" y2="254.96" stroke="#333" stroke-width="0.45"/>
<line x1="185.20" y1="253.08" x2="186.20" y2="253.08" stroke="#333" stroke-width="0.45"/>
<line x1="185.20" y1="251.20" x2="186.20" y2="251.20" stroke="#333" stroke-width="0.45"/>
<line x1="185.20" y1="249.32" x2="186.20" y2="249.32" stroke="#333" stroke-width="0.45"/>
<line x1="185.20" y1="247.44" x2="186.20" y2="247.44" stroke="#333" stroke-width="0.45"/>
<line x1="185.20" y1="245.56" x2="186.20" y2="245.56" stroke="#333" stroke-width="0.45"/>
<line x1="185.20" y1="243.68" x2="186.20" y2="243.68" stroke="#333" stroke-width="0.45"/>
<line x1="185.20" y1="241.80" x2="186.20" y2="241.80" stroke="#333" stroke-width="0.45"/>
<line x1="185.20" y1="239.92" x2="186.20" y2="239.92" stroke="#333" stroke-width="0.45"/>
<line x1="185.20" y1="238.04" x2="186.20" y2="238.04" stroke="#333" stroke-width="0.45"/>
<line x1="185.20" y1="236.16" x2="186.20" y2="236.16" stroke="#333" stroke-width="0.45"/>
<line x1="185.20" y1="234.28" x2="186.20" y2="234.28" stroke="#333" stroke-width="0.45"/>
<line x1="185.20" y1="232.40" x2="186.20" y2="232.40" stroke="#333" stroke-width="0.45"/>
<line x1="185.20" y1="230.52" x2="186.20" y2="230.52" stroke="#333" stroke-width="0.45"/>
<line x1="185.20" y1="228.64" x2="186.20" y2="228.64" stroke="#333" stroke-width="0.45"/>
<line x1="185.20" y1="226.76" x2="186.20" y2="226.76" stroke="#333" stroke-width="0.45"/>
<line x1="185.20" y1="224.88" x2="186.20" y2="224.88" stroke="#333" stroke-width="0.45"/>
<line x1="185.20" y1="223.00" x2="186.20" y2="223.00" stroke="#333" stroke-width="0.45"/>
<line x1="185.20" y1="221.12" x2="186.20" y2="221.12" stroke="#333" stroke-width="0.45"/>
<line x1="185.20" y1="219.24" x2="186.20" y2="219.24" stroke="#333" stroke-width="0.45"/>
<line x1="185.20" y1="217.36" x2="186.20" y2="217.36" stroke="#333" stroke-width="0.45"/>
<line x1="185.20" y1="215.48" x2="186.20" y2="215.48" stroke="#333" stroke-width="0.45"/>
<line x1="188.09" y1="270.00" x2="188.09" y2="271.10" stroke="#333" stroke-width="0.45"/>
<line x1="189.99" y1="270.00" x2="189.99" y2="271.10" stroke="#333" stroke-width="0.45"/>
<line x1="191.88" y1="270.00" x2="191.88" y2="271.10" stroke="#333" stroke-width="0.45"/>
<line x1="193.78" y1="270.00" x2="193.78" y2="271.10" stroke="#333" stroke-width="0.45"/>
<line x1="195.67" y1="270.00" x2="195.67" y2="271.10" stroke="#333" stroke-width="0.45"/>
<line x1="197.56" y1="270.00" x2="197.56" y2="271.10" stroke="#333" stroke-width="0.45"/>
<line x1="199.46" y1="270.00" x2="199.46" y2="271.80" stroke="#333" stroke-width="0.45"/>
<line x1="201.35" y1="270.00" x2="201.35" y2="271.10" stroke="#333" stroke-width="0.45"/>
<line x1="203.25" y1="270.00" x2="203.25" y2="271.10" stroke="#333" stroke-width="0.45"/>
<line x1="205.14" y1="270.00" x2="205.14" y2="271.10" stroke="#333" stroke-width="0.45"/>
<line x1="207.04" y1="270.00" x2="207.04" y2="271.10" stroke="#333" stroke-width="0.45"/>
<line x1="208.93" y1="270.00" x2="208.93" y2="271.10" stroke="#333" stroke-width="0.45"/>
<line x1="210.82" y1="270.00" x2="210.82" y2="271.10" stroke="#333" stroke-width="0.45"/>
<line x1="212.72" y1="270.00" x2="212.72" y2="271.80" stroke="#333" stroke-width="0.45"/>
<line x1="214.61" y1="270.00" x2="214.61" y2="271.10" stroke="#333" stroke-width="0.45"/>
<line x1="216.51" y1="270.00" x2="216.51" y2="271.10" stroke="#333" stroke-width="0.45"/>
<line x1="218.40" y1="270.00" x2="218.40" y2="271.10" stroke="#333" stroke-width="0.45"/>
<line x1="220.29" y1="270.00" x2="220.29" y2="271.10" stroke="#333" stroke-width="0.45"/>
<line x1="222.19" y1="270.00" x2="222.19" y2="271.10" stroke="#333" stroke-width="0.45"/>
<line x1="224.08" y1="270.00" x2="224.08" y2="271.10" stroke="#333" stroke-width="0.45"/>
<line x1="225.98" y1="270.00" x2="225.98" y2="271.80" stroke="#333" stroke-width="0.45"/>
<line x1="227.87" y1="270.00" x2="227.87" y2="271.10" stroke="#333" stroke-width="0.45"/>
<line x1="229.76" y1="270.00" x2="229.76" y2="271.10" stroke="#333" stroke-width="0.45"/>
<line x1="231.66" y1="270.00" x2="231.66" y2="271.10" stroke="#333" stroke-width="0.45"/>
<line x1="233.55" y1="270.00" x2="233.55" y2="271.10" stroke="#333" stroke-width="0.45"/>
<line x1="235.45" y1="270.00" x2="235.45" y2="271.10" stroke="#333" stroke-width="0.45"/>
<line x1="237.34" y1="270.00" x2="237.34" y2="271.10" stroke="#333" stroke-width="0.45"/>
<line x1="239.24" y1="270.00" x2="239.24" y2="271.80" stroke="#333" stroke-width="0.45"/>
<line x1="241.13" y1="270.00" x2="241.13" y2="271.10" stroke="#333" stroke-width="0.45"/>
<line x1="243.02" y1="270.00" x2="243.02" y2="271.10" stroke="#333" stroke-width="0.45"/>
<line x1="244.92" y1="270.00" x2="244.92" y2="271.10" stroke="#333" stroke-width="0.45"/>
<line x1="246.81" y1="270.00" x2="246.81" y2="271.10" stroke="#333" stroke-width="0.45"/>
<line x1="248.71" y1="270.00" x2="248.71" y2="271.10" stroke="#333" stroke-width="0.45"/>
<path transform="scale(.5)" d="M121 495h2M172 487h2M127 498h2M92 491h2M140 517h2M82 472h2M82 518h2M147 448h2M178 533h2M143 501h2M89 445h2M129 449h2M93 466h2M75 487h2M120 522h2M128 503h2M126 505h2M121 470h2M180 536h2M163 509h2M106 465h2M103 450h2M155 481h2M163 480h2M175 522h2M72 463h2M170 487h2M178 481h2M80 502h2M156 469h2M81 475h2M176 514h2M85 467h2M83 450h2M158 460h2M132 485h2M93 511h2M86 503h2M85 483h2M95 469h2M177 518h2M105 525h2M95 480h2M164 503h2M83 535h2M95 468h2M155 474h2M104 451h2M82 498h2M98 499h2M112 486h2M176 489h2M134 524h2M92 458h2M170 519h2M99 461h2M152 531h2M93 531h2M167 500h2M118 454h2M76 533h2M98 509h2M100 520h2M136 471h2M91 510h2M79 465h2M132 522h2M138 470h2M171 463h2M74 469h2M120 450h2M91 478h2M134 456h2M111 526h2M178 504h2M147 498h2M87 447h2M74 528h2M148 533h2M74 503h2M124 511h2M106 536h2M80 494h2M152 527h2M152 509h2M158 528h2M110 507h2M169 524h2M117 517h2M165 497h2M139 479h2M135 500h2M81 503h2M179 525h2M151 480h2M151 497h2M120 521h2M81 513h2M75 499h2M124 465h2M147 490h2M138 529h2M100 445h2M105 506h2M94 460h2M170 505h2M120 526h2M107 505h2M93 484h2M159 528h2M167 479h2M135 473h2M87 490h2M162 522h2M149 531h2M102 460h2M121 469h2M95 482h2M140 489h2M106 521h2M178 486h2M80 447h2M166 448h2M149 496h2M105 517h2M74 457h2M121 446h2M162 466h2M87 448h2M140 485h2M140 504h2M159 532h2M146 462h2M123 460h2M73 487h2M149 460h2M101 476h2M147 492h2M138 514h2M114 517h2M170 452h2M173 510h2M86 486h2M140 528h2M113 496h2M167 517h2M174 487h2M142 463h2M150 519h2M141 510h2" stroke="#777" stroke-width="1.6" stroke-opacity="0.5" fill="none"/>
<path transform="scale(.5)" d="M120 532h2M165 483h2M76 482h2M91 530h2M121 475h2M129 501h2M77 479h2M105 490h2M113 483h2M114 478h2M92 520h2M117 499h2M78 487h2M126 464h2M132 482h2M118 487h2M114 514h2M102 521h2M94 471h2M124 469h2M103 508h2M134 455h2M120 528h2M134 485h2M98 484h2M87 485h2M106 487h2M134 485h2M81 511h2M89 481h2M107 483h2M90 485h2M154 478h2M107 512h2M125 505h2M127 451h2M93 493h2M120 516h2M119 485h2M111 486h2M115 503h2M103 474h2M93 512h2M136 510h2M127 507h2M110 503h2M89 486h2M95 505h2M98 488h2M118 517h2M94 471h2M126 468h2M119 479h2M108 454h2M124 480h2M92 532h2M118 483h2M112 522h2M109 499h2M120 472h2M113 480h2M85 507h2M123 491h2M92 450h2M120 488h2M76 489h2M80 489h2M113 497h2M114 493h2M87 482h2M100 485h2M115 502h2M143 439h2M118 486h2M156 509h2M77 498h2M100 510h2M89 488h2M107 488h2M98 453h2M119 510h2M109 470h2M114 501h2M106 490h2M138 468h2M99 452h2M96 475h2M91 476h2M146 486h2M108 534h2M109 455h2M118 471h2M143 465h2M98 458h2M112 470h2M109 482h2M98 509h2M129 491h2M92 469h2M115 538h2M101 474h2M96 468h2M91 486h2M139 490h2M100 458h2M114 489h2M85 468h2M109 510h2M123 494h2M104 496h2M110 533h2M87 483h2M135 485h2M138 489h2M113 483h2M82 471h2M154 503h2M122 509h2M121 510h2M105 486h2M130 483h2M83 485h2M99 502h2M96 469h2M103 521h2M109 493h2M110 496h2M129 518h2M77 517h2M110 484h2M158 487h2M149 509h2M89 500h2M125 487h2M106 468h2M147 485h2M102 484h2M94 474h2M112 496h2M100 488h2M82 500h2M95 494h2M92 480h2M114 466h2M159 489h2M109 475h2M142 518h2M116 463h2M100 502h2M100 466h2M86 475h2M110 477h2M145 469h2M117 492h2M107 511h2M103 483h2M103 488h2M136 506h2M83 481h2M94 506h2M114 508h2M109 452h2M119 495h2M120 464h2M112 476h2M96 497h2M117 472h2M76 441h2M98 512h2M109 445h2M93 498h2M143 513h2M117 494h2M89 481h2M103 475h2M111 482h2M117 519h2M125 498h2M105 460h2M108 501h2M90 515h2M103 497h2M103 465h2M151 467h2M128 479h2M116 474h2M102 508h2M149 473h2M110 509h2M97 504h2M94 502h2M119 514h2M117 466h2M123 468h2M125 520h2M122 479h2M134 493h2M85 483h2M138 484h2M112 483h2" stroke="#666" stroke-width="1.6" stroke-opacity="0.45" fill="none"/>
<ellipse cx="71.5" cy="228.5" rx="7.5" ry="4.5" transform="rotate(-84 71.5 228.5)" fill="#222" fill-opacity="0.8" filter="url(#bl2)"/>
<path transform="scale(.5)" d="M138 476h2M145 454h2M128 458h2M149 445h2M153 448h2M138 462h2M155 456h2M140 476h2M146 466h2M143 442h2M142 472h2M132 460h2M140 448h2M135 450h2M135 445h2M132 445h2M142 443h2M140 475h2M137 454h2M144 464h2M122 458h2M145 463h2M150 455h2M159 467h2M146 449h2M151 447h2M139 456h2M147 447h2M133 478h2M144 453h2M148 455h2M154 458h2M140 464h2M148 455h2M154 450h2M150 464h2M136 452h2M157 461h2M141 449h2M135 484h2M143 466h2M151 433h2M137 454h2M140 471h2M163 465h2M138 462h2M145 446h2M150 472h2M134 460h2M147 455h2M147 462h2M138 448h2M124 479h2M151 460h2M154 448h2M145 438h2M134 445h2M146 451h2M140 459h2M143 470h2M142 444h2M139 452h2M136 455h2M142 454h2M139 454h2M139 471h2M155 448h2M148 462h2M147 450h2M143 475h2M150 469h2M148 450h2M144 486h2M135 449h2M145 447h2M138 459h2M139 469h2M139 455h2M139 464h2M148 468h2M149 462h2M148 471h2M147 459h2M137 459h2M141 444h2M137 459h2M141 455h2M146 455h2M133 465h2M150 454h2M136 450h2M146 452h2M146 455h2M144 462h2M141 448h2M141 474h2M131 455h2M146 466h2M143 460h2M148 472h2M144 439h2M134 465h2M145 448h2M150 468h2M148 450h2M140 477h2M135 450h2M154 449h2M139 446h2M149 466h2M152 448h2M144 445h2M130 461h2M159 451h2M139 463h2M146 451h2M137 472h2M155 471h2M148 466h2M158 438h2M156 444h2M139 471h2M140 466h2M135 428h2M135 451h2M153 444h2M156 465h2M152 458h2M140 454h2M142 462h2M145 451h2M144 432h2M138 463h2M132 465h2M148 469h2M142 457h2M151 455h2M149 452h2M141 464h2M141 466h2M140 467h2M141 460h2M139 461h2M142 443h2M143 469h2M134 469h2M132 456h2M141 493h2M133 445h2M146 468h2M135 479h2M140 471h2M147 480h2M145 460h2M128 460h2M134 459h2M137 457h2M141 461h2M149 450h2M142 469h2M148 442h2M141 466h2M149 462h2M146 458h2M136 433h2M130 468h2M147 476h2M154 456h2M135 479h2M152 443h2M150 449h2M143 458h2M149 458h2M145 460h2M137 441h2M146 467h2M142 461h2M148 435h2M150 463h2M138 430h2M143 465h2M157 467h2M141 452h2M138 452h2M143 465h2M131 430h2M153 454h2M157 451h2M145 453h2M137 459h2M137 439h2M139 459h2M127 465h2M143 462h2M149 457h2M138 459h2M148 455h2M132 467h2M149 470h2M138 446h2M149 457h2M140 443h2M152 462h2M156 433h2M145 471h2M142 461h2M139 465h2M155 459h2M147 451h2M138 457h2M151 461h2M157 450h2M143 455h2M144 476h2M151 478h2M142 465h2M138 472h2M150 469h2M135 454h2M140 479h2M135 463h2M142 451h2M139 456h2M139 464h2M145 476h2M132 452h2M151 458h2M152 456h2M143 461h2M135 472h2M135 477h2M147 456h2M145 445h2M145 469h2M155 461h2M152 437h2M138 470h2M138 455h2M148 453h2M146 449h2M136 467h2M152 460h2M151 441h2M148 455h2M153 450h2M134 448h2M147 448h2M146 463h2M143 455h2M142 477h2M143 452h2M144 476h2M145 450h2M141 453h2M146 466h2M144 462h2M132 455h2M148 457h2M141 466h2M144 483h2M147 465h2M143 443h2M146 447h2M141 460h2M151 468h2M137 448h2M139 448h2M149 475h2M150 473h2M149 456h2M151 453h2M147 455h2M151 456h2M149 463h2M144 441h2M140 453h2M144 461h2M137 461h2M144 458h2M148 455h2M151 478h2M138 459h2M146 462h2M142 448h2M132 455h2M142 456h2M148 463h2M152 439h2M152 468h2M142 462h2M145 465h2M145 452h2M142 460h2M149 463h2M141 464h2M138 460h2M133 459h2M147 454h2M153 462h2M146 467h2M140 452h2M149 461h2M145 458h2M146 443h2M136 476h2M143 449h2M128 468h2M153 456h2M127 470h2M140 452h2M140 461h2M145 468h2M147 448h2M149 465h2M147 460h2M146 469h2M153 451h2M146 458h2M148 465h2M151 450h2M134 461h2M142 459h2M146 467h2M147 448h2M147 446h2M138 468h2M147 462h2M145 448h2M139 446h2M153 460h2M151 454h2M130 477h2M149 468h2M141 440h2M135 468h2M146 468h2M155 463h2M139 450h2M142 455h2M150 450h2M149 462h2M143 452h2M148 456h2M138 461h2M144 444h2M145 465h2M142 474h2M139 472h2M136 477h2M143 448h2M153 472h2M152 466h2M133 463h2M142 438h2M152 451h2M142 472h2M146 465h2M135 457h2M148 458h2M146 462h2M142 464h2M144 454h2M151 445h2M149 449h2M136 455h2M156 448h2M142 455h2M151 459h2M137 454h2M138 459h2M137 459h2M152 468h2M134 446h2M139 468h2M133 461h2M133 447h2M148 451h2M138 461h2M144 457h2M132 479h2M143 452h2M136 462h2M137 465h2M148 442h2M145 456h2M153 463h2M143 452h2M144 459h2M140 470h2M146 465h2M131 450h2M149 461h2M134 471h2M143 447h2M135 462h2M140 456h2M146 456h2M142 450h2M143 464h2M144 459h2M141 463h2M139 464h2M151 457h2M146 464h2M144 454h2M140 450h2M146 452h2M141 496h2M157 453h2M143 469h2M137 453h2M147 445h2M134 466h2M158 464h2M129 433h2M145 478h2M139 459h2M144 452h2M145 455h2M151 470h2M150 464h2M144 451h2M143 456h2M139 477h2M133 452h2M149 475h2M134 448h2M143 453h2M142 447h2M138 460h2M142 456h2M140 465h2M146 466h2M132 468h2M149 469h2M147 464h2M140 450h2M147 450h2M138 458h2M134 458h2M139 460h2M146 453h2M148 465h2M145 445h2M146 466h2M136 484h2M157 453h2M152 467h2M158 434h2M148 484h2" stroke="#1a1a1a" stroke-width="1.6" stroke-opacity="0.6" fill="none"/>
<path transform="scale(.5)" d="M148 482h2M133 486h2M152 488h2M138 472h2M147 479h2M139 476h2M132 492h2M134 489h2M124 504h2M130 471h2M137 502h2M152 465h2M129 489h2M130 491h2M142 492h2M131 498h2M138 488h2M131 494h2M131 499h2M138 477h2M140 528h2M131 484h2M112 485h2M147 508h2M162 456h2M138 494h2M129 472h2M135 459h2M129 478h2M139 479h2M130 468h2M155 486h2M140 501h2M135 477h2M151 489h2M146 469h2M129 479h2M155 484h2M128 468h2M130 512h2M134 481h2M142 489h2M142 472h2M128 465h2M143 478h2M148 506h2M124 505h2M155 448h2M152 480h2M131 467h2M152 479h2M139 486h2M145 491h2M133 491h2M129 500h2M144 481h2M129 488h2M143 480h2M136 466h2M143 490h2M141 463h2M130 484h2M147 490h2M150 473h2M144 508h2M143 497h2M135 517h2M149 498h2M151 484h2M156 492h2M155 492h2M129 490h2M137 471h2M127 484h2M140 489h2M142 494h2M144 517h2M152 491h2M133 488h2M141 491h2M136 475h2M142 496h2M124 471h2M131 498h2M153 461h2M145 473h2M148 501h2M131 489h2M129 455h2M143 465h2M139 497h2M139 496h2M127 492h2M138 446h2M140 470h2M129 473h2M108 496h2M145 470h2M145 501h2M166 478h2M148 482h2M147 476h2M135 484h2M151 475h2M127 499h2M155 486h2M123 485h2M147 473h2M144 457h2M135 455h2M142 471h2M135 501h2M151 466h2M149 490h2M149 472h2M142 480h2M137 496h2M133 482h2M140 488h2M149 482h2M134 498h2M136 480h2M135 479h2M139 467h2M144 501h2M124 459h2M139 486h2M154 471h2M125 485h2M149 475h2M140 477h2M160 498h2M124 499h2M143 470h2M143 475h2M154 462h2M147 493h2M122 499h2M137 467h2M136 514h2M143 494h2M132 484h2M145 495h2M139 497h2M142 498h2M147 459h2M145 469h2M135 497h2M143 483h2M144 493h2M139 494h2M129 483h2M141 470h2M139 482h2M123 512h2M147 497h2M144 493h2M130 498h2M148 492h2M135 507h2M141 478h2M146 485h2M130 479h2M133 474h2M152 490h2M156 451h2M133 477h2M153 496h2M127 478h2M147 462h2M145 466h2M129 513h2M137 486h2M135 462h2M138 485h2M130 484h2M114 499h2M138 479h2M130 480h2M130 483h2M141 498h2M145 476h2M136 484h2M152 465h2M128 492h2M142 479h2M158 499h2M128 512h2M148 481h2M132 510h2M154 465h2M139 488h2M141 497h2M119 497h2M137 505h2M147 503h2M150 467h2M150 476h2M147 481h2M147 478h2M132 498h2M145 499h2M133 476h2M132 497h2M139 472h2M132 487h2M153 487h2M135 493h2M148 461h2M147 501h2M142 502h2M126 518h2M135 470h2M138 494h2M135 483h2M154 495h2M144 463h2M133 500h2M143 488h2M137 461h2M135 481h2M133 481h2M150 480h2M136 489h2M127 481h2M130 457h2M131 488h2M137 462h2M155 493h2M132 485h2M141 484h2M136 494h2M145 488h2M148 474h2M146 486h2M149 488h2M136 478h2M127 465h2M130 497h2M128 485h2M120 499h2M132 482h2M149 454h2M149 501h2M149 483h2M148 501h2M137 468h2M134 495h2M161 482h2M155 460h2M136 487h2M137 478h2M137 490h2M140 472h2M137 480h2M136 486h2M143 466h2M140 463h2M128 468h2M138 489h2M137 493h2M136 497h2M138 493h2M130 487h2M139 490h2M138 502h2M139 466h2M145 477h2M150 496h2M134 448h2M136 453h2M125 462h2M142 468h2M130 501h2M129 498h2M138 478h2M133 519h2M141 477h2M125 458h2M140 481h2M128 473h2M136 502h2M123 481h2M140 479h2M117 471h2M132 476h2M145 491h2M143 460h2M151 487h2M136 496h2M129 490h2M158 483h2M144 481h2M149 485h2M131 481h2M152 484h2M150 486h2M157 487h2M145 481h2M146 489h2" stroke="#333" stroke-width="1.6" stroke-opacity="0.5" fill="none"/>
<path transform="scale(.5)" d="M122 504h2M126 498h2M153 488h2M148 505h2M153 538h2M147 513h2M126 470h2M143 510h2M121 495h2M156 518h2M145 512h2M126 518h2M139 526h2M144 490h2M142 508h2M138 498h2M164 501h2M138 476h2M160 523h2M157 495h2M139 496h2M155 495h2M130 488h2M138 491h2M144 509h2M167 513h2M144 498h2M143 507h2M147 508h2M152 495h2M134 518h2M126 500h2M139 499h2M145 504h2M157 515h2M136 490h2M150 500h2M134 512h2M111 490h2M141 520h2M130 495h2M168 498h2M140 501h2M128 501h2M143 498h2M159 498h2M142 504h2M161 504h2M137 521h2M140 512h2M143 494h2M144 496h2M131 511h2M140 521h2M149 510h2M132 491h2M145 518h2M141 515h2M137 496h2M135 481h2M136 498h2M132 538h2M147 507h2M131 504h2M135 509h2M138 494h2M153 491h2M151 515h2M136 531h2M137 515h2M143 490h2M155 509h2M129 511h2M149 494h2M139 521h2M140 494h2M141 509h2M132 500h2M123 491h2M165 509h2M137 516h2M126 529h2M138 518h2M161 514h2M138 515h2M148 503h2M123 490h2M141 477h2M119 509h2M118 505h2M133 500h2M131 498h2M167 508h2M144 490h2M155 519h2M120 521h2M136 487h2M150 489h2M166 482h2M134 496h2M158 500h2M106 496h2M135 508h2M136 504h2M127 488h2M117 495h2M124 528h2M128 511h2M146 514h2M142 497h2M132 500h2M121 513h2M126 507h2M148 509h2M157 500h2M112 510h2M161 521h2M136 495h2M138 487h2M139 483h2M147 510h2M136 517h2M149 482h2M135 517h2M131 503h2M156 502h2M151 505h2M142 501h2M150 515h2M137 487h2M144 515h2M154 505h2M139 498h2M144 522h2M125 500h2M115 518h2M136 496h2M137 511h2M136 503h2M154 497h2M158 510h2M129 504h2M123 499h2M127 505h2M141 510h2M140 534h2M138 500h2M146 496h2M127 506h2M150 497h2M128 520h2M147 520h2M124 508h2M148 487h2M143 502h2M140 506h2M147 494h2M140 510h2M137 481h2M139 520h2M169 523h2M148 498h2M164 504h2M137 516h2M151 526h2M161 509h2M127 505h2M148 514h2M141 514h2M130 511h2M158 514h2M141 518h2M133 493h2M155 525h2M141 483h2M148 520h2M130 503h2M111 504h2M124 511h2M144 521h2M161 504h2M126 535h2M154 517h2M143 492h2M131 501h2M133 509h2M166 500h2M148 490h2M121 491h2M148 518h2M120 505h2M124 502h2M158 507h2M132 517h2M141 498h2M130 500h2M111 503h2M155 509h2M135 517h2M156 498h2" stroke="#555" stroke-width="1.6" stroke-opacity="0.5" fill="none"/>
<path transform="scale(.5)" d="M172 495h2M153 527h2M152 509h2M148 498h2M122 499h2M131 493h2M146 522h2M167 511h2M151 489h2M164 496h2M156 517h2M155 505h2M146 518h2M164 514h2M177 486h2M158 514h2M162 509h2M163 487h2M157 520h2M157 503h2M168 484h2M163 524h2M155 496h2M164 500h2M148 508h2M137 514h2M143 499h2M167 505h2M161 522h2M176 531h2M151 517h2M138 515h2M174 497h2M163 516h2M156 498h2M176 490h2M160 517h2M161 525h2M176 511h2M179 515h2M143 502h2M161 508h2M137 534h2M139 492h2M163 508h2M176 508h2M162 515h2M149 490h2M152 518h2M154 521h2M151 515h2M158 516h2M158 508h2M152 521h2M157 512h2M166 495h2M148 505h2M173 493h2M145 494h2M153 493h2M148 512h2M145 506h2M143 503h2M164 481h2M158 509h2M157 509h2M163 490h2M156 514h2M173 489h2M151 489h2M158 493h2M146 515h2M185 481h2M178 495h2M166 510h2M173 503h2M148 505h2M167 495h2M163 506h2M160 506h2M165 516h2M154 502h2M132 495h2M139 514h2M145 497h2M164 518h2M173 495h2M161 519h2M148 503h2M143 498h2M166 507h2M153 499h2M176 515h2M143 532h2M153 504h2M152 499h2M166 488h2M158 502h2M179 511h2M163 512h2M165 507h2M128 511h2M154 514h2M162 499h2M147 494h2M161 505h2M147 501h2M162 498h2M156 499h2M126 507h2M159 516h2M174 497h2M165 509h2M159 516h2M168 491h2M176 504h2M150 498h2M155 492h2M171 511h2M147 516h2M161 507h2M169 505h2M155 512h2M136 491h2M164 519h2M138 506h2M150 502h2M165 524h2M179 517h2M166 508h2M135 511h2M143 492h2M159 487h2M179 513h2M162 512h2M161 507h2M166 498h2M161 508h2M167 493h2M161 504h2M165 512h2M160 511h2M163 522h2M162 512h2M147 503h2M167 519h2M146 505h2M155 507h2M152 501h2M157 507h2M170 496h2M146 515h2M164 504h2M144 519h2M145 520h2M161 504h2M156 516h2M158 485h2M149 480h2M163 517h2M170 490h2M183 528h2M157 482h2M147 518h2M183 499h2M136 494h2M181 506h2M141 481h2M166 516h2M152 504h2M159 502h2M151 499h2M151 521h2M163 518h2M180 478h2M157 517h2M155 499h2M163 500h2M148 502h2M159 506h2" stroke="#666" stroke-width="1.6" stroke-opacity="0.45" fill="none"/>
<ellipse cx="61" cy="263.8" rx="9.5" ry="3.8" transform="rotate(-8 61 263.8)" fill="#6e6e6e" fill-opacity="0.85" filter="url(#bl2)"/>
<path transform="scale(.5)" d="M134 527h2M119 527h2M120 525h2M100 531h2M141 518h2M111 531h2M113 531h2M121 523h2M119 526h2M128 516h2M128 533h2M124 529h2M115 530h2M119 523h2M104 520h2M128 528h2M137 527h2M131 521h2M96 528h2M117 530h2M120 527h2M123 529h2M125 529h2M115 528h2M101 525h2M118 530h2M111 523h2M135 523h2M97 526h2M104 519h2M117 536h2M111 525h2M138 527h2M121 534h2M105 529h2M129 528h2M105 526h2M147 525h2M119 533h2M97 530h2M98 537h2M108 530h2M109 530h2M126 528h2M118 530h2M118 526h2M131 531h2M103 526h2M111 530h2M103 537h2M123 529h2M134 523h2M127 529h2M139 521h2M141 529h2M126 532h2M118 528h2M133 525h2M138 532h2M125 528h2M113 525h2M141 521h2M123 529h2M109 526h2M128 534h2M151 529h2M140 524h2M113 535h2M142 521h2M138 528h2M134 531h2M148 523h2M123 534h2M119 531h2M120 521h2M115 533h2M114 522h2M115 529h2M129 529h2M129 523h2M113 526h2M116 531h2M141 525h2M137 531h2M106 526h2M124 522h2M147 517h2M106 533h2M112 532h2M109 534h2M115 532h2M136 520h2M109 522h2M107 534h2M122 532h2M143 531h2M132 525h2M117 530h2M135 532h2M126 526h2M122 535h2M127 536h2M113 533h2M126 531h2M112 531h2M121 527h2M105 524h2M118 531h2M126 529h2M126 522h2M137 527h2M112 527h2M136 527h2M103 538h2M134 522h2M140 532h2M137 529h2M127 529h2M115 530h2M140 526h2M149 518h2M122 522h2M98 532h2M118 526h2M108 529h2M100 530h2M115 523h2M127 519h2M129 529h2M130 528h2M133 526h2M108 531h2M111 528h2M124 524h2M136 520h2M140 526h2M147 530h2M132 528h2M124 522h2M114 525h2M113 529h2M112 530h2M119 526h2M128 530h2M104 529h2M163 524h2M129 524h2M137 533h2M131 527h2M122 520h2M131 526h2M128 529h2M126 537h2M135 524h2M131 530h2M124 534h2M117 521h2M108 531h2M109 530h2M102 532h2M119 525h2M115 528h2M135 528h2M120 529h2M135 529h2M147 522h2M134 527h2M114 532h2M135 531h2M129 524h2M125 530h2M146 526h2M125 535h2M123 526h2M127 531h2M124 521h2M117 533h2M113 533h2M125 524h2M133 518h2M93 524h2M130 526h2M131 527h2M124 526h2M118 533h2M133 521h2M131 536h2M133 523h2M133 528h2M119 533h2M139 524h2M124 526h2M123 535h2M117 531h2M126 528h2M107 532h2M108 533h2M121 529h2M116 525h2M108 530h2M122 529h2M119 532h2M125 528h2M119 528h2M131 524h2M106 532h2M128 528h2M125 522h2M109 530h2M122 523h2M128 519h2M139 522h2M114 524h2M104 529h2M96 529h2M125 527h2M122 522h2M97 525h2M137 528h2M132 532h2M137 532h2M99 531h2M113 538h2M132 527h2M118 519h2M124 524h2M141 529h2M121 527h2M137 524h2M138 527h2M119 530h2M146 519h2M133 530h2M120 535h2M132 529h2M109 532h2M105 532h2M152 521h2M143 521h2M124 531h2M103 532h2M112 527h2M134 527h2M128 528h2M128 534h2M124 527h2M123 531h2M128 518h2M122 530h2M158 522h2M118 524h2M121 521h2M111 529h2M102 529h2M114 535h2M145 535h2M125 531h2M155 522h2M145 522h2M136 520h2M117 528h2M118 520h2M124 527h2M143 528h2M93 532h2M137 526h2M112 523h2M117 525h2M119 527h2M140 522h2M127 523h2M127 532h2M114 524h2M123 528h2M114 531h2M124 531h2M104 533h2M140 523h2M150 526h2M104 525h2M112 526h2M119 530h2M119 527h2M108 521h2M112 524h2M134 516h2M137 514h2M120 528h2M107 525h2M134 522h2M121 528h2M131 522h2M141 526h2M136 520h2M137 526h2M133 524h2M134 527h2M113 531h2M120 526h2M118 533h2" stroke="#777" stroke-width="1.6" stroke-opacity="0.5" fill="none"/>
<ellipse cx="40.5" cy="266.0" rx="4.8" ry="2.0" transform="rotate(-26 40.5 266.0)" fill="#000" fill-opacity="0.95" filter="url(#bl1)"/>
<path transform="scale(.5)" d="M88 532h2M85 534h2M81 532h2M81 535h2M76 534h2M79 533h2M79 535h2M83 526h2M77 530h2M86 526h2M84 531h2M79 528h2M91 527h2M86 533h2M74 532h2M93 532h2M76 534h2M86 529h2M89 530h2M82 534h2M80 536h2M79 537h2M94 521h2M89 524h2M83 536h2M88 531h2M84 531h2M84 530h2M78 530h2M91 527h2M93 528h2M83 528h2M80 533h2M80 532h2M79 532h2M78 529h2M78 538h2M75 533h2M76 534h2M79 534h2M96 525h2M78 525h2M79 532h2M82 532h2M74 533h2M85 529h2M82 533h2M82 532h2M75 535h2M78 533h2M89 529h2M82 531h2M79 531h2M75 530h2M80 531h2M92 533h2M91 524h2M79 533h2M86 531h2M93 528h2M80 533h2M79 534h2M74 537h2M79 532h2M79 533h2M82 537h2M82 534h2M81 532h2M74 534h2M75 528h2M79 531h2M84 534h2M81 536h2M89 530h2M80 533h2M93 531h2M86 525h2M87 533h2M84 530h2M84 531h2M91 530h2M75 533h2M88 531h2M83 532h2M73 533h2M82 526h2M85 532h2M86 532h2M93 527h2M75 530h2M85 526h2M82 530h2M80 533h2M80 529h2M86 530h2M90 527h2M89 524h2M81 536h2M90 529h2M87 528h2M87 532h2M87 530h2M87 531h2M83 527h2M84 528h2M79 533h2M81 528h2M79 534h2M79 533h2M83 532h2M78 534h2M83 527h2M85 527h2M84 532h2M84 527h2M75 532h2M85 531h2M88 527h2M81 533h2M75 534h2M84 530h2M81 532h2M92 528h2M83 530h2M89 529h2M83 535h2M88 526h2M81 536h2M80 537h2M83 537h2M74 530h2M77 533h2M77 532h2M82 532h2M77 532h2M90 530h2M89 532h2M81 535h2M90 525h2M86 522h2M74 533h2M79 535h2M77 533h2M72 532h2M79 531h2M87 530h2M74 534h2M74 533h2M76 531h2M77 533h2M86 532h2M90 523h2M80 536h2M75 535h2M87 534h2M85 531h2M81 534h2M82 532h2M77 533h2M75 532h2M75 532h2M77 533h2M73 537h2M85 535h2M75 533h2M81 530h2M78 536h2M78 529h2M89 535h2M88 528h2M89 528h2M79 534h2M89 529h2M78 530h2M81 529h2M79 529h2M75 532h2M76 531h2M89 530h2M78 530h2" stroke="#000" stroke-width="1.6" stroke-opacity="0.8" fill="none"/>
<path transform="scale(.5)" d="M340 490h2M242 493h2M266 460h2M330 461h2M309 460h2M285 540h2M233 526h2M223 538h2M333 487h2M300 488h2M242 478h2M276 527h2M236 496h2M280 497h2M319 502h2M261 536h2M295 470h2M289 527h2M228 506h2M281 472h2M241 466h2M275 485h2M295 470h2M298 489h2M319 521h2M251 538h2M289 476h2M253 512h2M275 510h2M253 527h2M254 528h2M275 482h2M292 494h2M289 498h2M338 515h2M233 539h2M224 449h2M322 470h2M226 461h2M282 525h2M224 460h2M224 449h2M260 491h2M340 506h2M326 501h2M333 509h2M251 480h2M281 455h2M335 490h2M246 491h2M320 470h2M294 453h2M251 462h2M284 510h2M250 510h2M293 516h2M343 476h2M344 488h2M284 461h2M232 506h2M235 447h2M232 496h2M246 469h2M316 487h2M240 509h2M343 504h2M276 496h2M308 524h2M318 468h2M317 454h2M238 493h2M245 498h2M257 535h2M275 522h2M337 487h2M316 491h2M271 456h2M302 532h2M306 474h2M286 478h2M270 518h2M223 490h2M284 458h2M311 468h2M271 468h2M295 485h2M305 485h2M318 497h2M235 491h2M253 473h2M338 490h2M312 459h2M299 455h2M249 456h2M225 531h2M340 479h2M224 514h2M303 448h2M316 450h2M250 519h2M316 466h2M284 521h2M296 494h2M245 451h2M245 494h2M295 488h2M300 498h2M301 483h2M325 495h2M329 539h2M323 518h2M306 497h2M252 454h2M303 468h2M297 497h2M296 485h2M251 473h2M307 529h2M261 474h2M277 485h2M299 517h2M316 522h2M311 537h2M277 487h2M301 474h2M323 484h2M290 494h2M266 445h2M256 490h2M338 457h2M332 537h2M319 471h2M224 529h2M230 473h2M337 509h2M322 524h2M244 492h2M234 480h2M282 522h2M257 508h2M239 469h2M229 500h2M294 512h2M273 534h2M310 499h2M329 461h2M258 497h2M295 536h2M305 448h2M337 489h2M247 517h2M299 526h2M289 469h2M279 489h2M265 500h2M240 468h2M236 447h2M286 515h2M271 531h2M296 507h2M257 530h2M264 525h2M252 535h2M305 461h2M311 459h2M269 480h2M263 479h2M242 482h2M233 520h2M265 512h2M274 538h2M329 512h2M325 532h2M336 484h2M294 451h2M266 475h2M298 445h2M314 451h2M274 491h2M325 505h2M240 508h2M251 503h2M272 536h2M277 470h2M260 536h2M265 467h2M287 508h2M337 452h2M262 513h2M282 510h2M304 453h2M228 461h2M259 461h2M257 455h2M225 494h2M314 459h2M233 514h2M232 457h2M282 473h2M318 493h2M286 480h2M225 523h2M270 523h2M235 485h2M288 459h2M231 534h2M336 540h2M288 514h2M295 490h2M243 506h2M276 509h2M227 472h2M236 517h2M280 471h2M317 494h2M257 482h2M222 450h2M226 536h2M329 496h2M337 496h2M305 454h2M275 503h2M272 507h2M264 507h2M247 491h2M274 495h2M229 467h2M309 460h2M280 539h2M296 514h2M316 537h2M269 482h2M314 446h2M279 470h2M290 514h2M327 493h2M306 452h2M302 533h2M297 491h2M284 484h2M244 463h2M319 494h2M227 503h2M323 507h2M244 535h2M244 493h2M278 460h2M255 462h2M242 448h2M301 508h2M253 535h2M274 488h2M335 506h2M279 516h2M312 474h2M231 514h2M313 502h2M236 515h2M243 521h2M298 505h2M231 479h2M311 455h2M227 484h2M326 504h2M250 452h2M324 525h2M308 464h2M314 445h2M243 475h2M339 447h2M242 514h2M315 470h2M231 526h2M340 531h2M291 452h2M312 506h2M323 517h2M283 538h2M278 487h2M300 520h2M294 534h2M255 530h2M329 477h2M225 502h2M298 536h2M290 514h2M315 460h2M303 486h2M248 470h2M266 515h2M289 475h2M229 520h2M314 524h2M318 450h2M256 488h2M258 523h2M247 445h2M277 449h2M225 502h2M296 496h2M231 498h2M286 473h2M249 459h2M281 479h2M293 509h2M256 502h2M254 516h2M247 501h2M312 521h2M287 532h2M342 520h2M266 470h2M298 456h2M244 453h2M301 481h2M334 521h2M287 477h2M261 449h2M236 528h2M258 445h2M342 481h2M317 487h2M340 452h2M280 506h2M225 532h2M263 509h2M232 452h2M233 520h2M337 532h2M287 453h2M317 493h2M317 505h2M291 460h2M239 452h2M275 472h2M338 449h2M315 456h2M235 533h2M249 501h2M293 482h2M265 457h2M307 480h2M295 523h2M231 485h2M265 533h2M298 463h2M278 445h2M285 451h2M239 493h2M288 464h2M293 474h2M308 449h2M325 487h2M243 472h2M299 453h2M333 465h2M272 451h2M278 536h2M245 461h2M289 505h2" stroke="#666" stroke-width="1.6" stroke-opacity="0.55" fill="none"/>
<path transform="scale(.5)" d="M277 509h2M252 485h2M302 502h2M295 464h2M276 483h2M254 526h2M241 474h2M249 490h2M267 506h2M296 507h2M308 521h2M279 493h2M299 489h2M290 497h2M253 512h2M282 503h2M292 499h2M249 498h2M310 473h2M223 496h2M242 528h2M270 474h2M265 474h2M278 518h2M295 521h2M266 524h2M278 466h2M298 475h2M252 459h2M246 446h2M237 476h2M238 487h2M285 489h2M276 522h2M252 531h2M265 495h2M275 528h2M237 518h2M255 498h2M242 436h2M294 514h2M241 474h2M237 495h2M315 493h2M226 514h2M244 458h2M275 496h2M270 513h2M289 446h2M270 523h2M296 471h2M223 470h2M275 491h2M285 492h2M236 470h2M260 516h2M301 472h2M277 494h2M238 468h2M303 486h2M264 507h2M275 512h2M247 487h2M272 504h2M249 455h2M287 516h2M289 493h2M223 487h2M314 503h2M272 457h2M251 519h2M274 493h2M296 513h2M279 492h2M276 521h2M273 466h2M262 489h2M276 526h2M264 486h2M284 507h2M247 507h2M271 504h2M230 449h2M230 456h2M289 520h2M235 531h2M239 477h2M317 465h2M283 516h2M292 512h2M272 533h2M264 498h2M276 488h2M263 525h2M305 510h2M263 484h2M257 487h2M256 494h2M261 522h2M232 486h2M285 486h2M256 509h2M264 473h2M270 511h2M226 518h2M225 513h2M235 502h2M265 521h2M264 486h2M248 501h2M260 517h2M276 526h2M283 500h2M265 511h2M284 464h2M276 488h2M274 515h2M290 455h2M272 497h2M253 518h2M288 497h2M300 531h2M271 516h2M287 538h2M286 513h2M269 514h2M304 495h2M264 474h2M328 487h2M255 483h2M295 505h2M310 496h2M261 492h2M277 458h2M263 492h2M285 488h2M270 466h2M237 498h2M306 474h2M229 525h2M276 516h2M263 503h2M265 497h2M309 487h2M258 497h2M263 537h2M263 506h2M238 510h2M282 513h2M229 482h2M265 536h2M313 521h2M252 492h2M286 450h2M300 532h2M288 490h2M276 459h2M244 486h2M249 537h2M278 439h2M294 509h2M261 480h2M316 503h2M273 459h2M253 518h2M270 486h2M260 459h2M232 459h2M274 519h2M259 523h2M306 471h2M305 490h2M265 486h2M243 511h2M307 528h2M254 509h2M292 511h2M249 477h2M270 502h2M253 465h2M238 497h2M222 524h2M282 502h2M272 476h2M253 518h2M254 535h2M291 513h2M261 475h2M263 474h2M258 488h2M253 524h2M246 479h2M295 503h2M279 482h2M275 528h2M267 507h2M296 511h2M296 468h2M225 470h2M277 481h2M298 484h2M251 480h2M284 508h2M270 530h2M247 468h2M267 496h2M269 507h2M230 535h2M224 505h2M275 516h2M272 477h2M262 464h2M263 491h2M252 510h2M298 496h2M257 470h2M249 479h2M263 516h2M271 533h2M276 502h2M273 461h2M265 480h2M261 496h2M260 495h2M275 504h2M251 518h2M268 505h2M308 537h2M319 491h2M277 508h2M269 493h2M287 524h2M319 484h2M278 479h2M260 440h2M318 458h2M269 454h2M259 472h2M261 494h2M259 469h2M303 480h2M272 533h2M268 494h2M290 486h2M268 493h2M257 514h2M273 530h2M276 463h2M276 490h2M260 520h2M276 458h2M315 493h2M227 489h2M278 470h2M246 454h2M273 484h2M303 503h2M272 482h2M290 463h2M273 508h2M248 468h2M294 540h2M276 540h2M277 492h2M257 467h2M288 483h2M251 505h2M278 479h2M271 493h2M270 493h2M256 438h2M252 525h2M258 501h2M281 472h2M268 490h2M275 511h2M268 491h2M289 499h2M231 526h2M277 482h2M265 473h2M270 461h2M290 508h2M242 508h2M231 483h2M242 513h2M283 464h2M271 508h2M229 528h2M302 488h2M239 525h2M232 496h2M252 465h2M280 524h2M233 512h2M268 480h2M253 509h2M293 489h2M276 449h2M254 496h2M259 503h2M245 511h2M252 493h2M282 529h2M241 494h2M241 497h2M252 467h2M293 504h2M266 528h2M226 505h2M305 487h2M245 477h2M295 521h2M274 518h2M250 487h2M286 473h2M271 495h2M245 501h2M235 480h2M244 504h2M266 465h2M267 505h2M293 461h2M244 478h2M262 510h2M223 512h2M275 467h2M245 482h2M304 471h2M256 476h2M265 471h2M256 469h2M229 456h2M287 479h2M237 521h2M261 487h2M247 495h2M257 484h2M261 513h2M260 526h2M288 470h2M241 464h2M246 512h2M257 483h2M267 442h2M272 490h2M281 487h2M289 520h2M257 508h2M243 477h2" stroke="#555" stroke-width="1.6" stroke-opacity="0.5" fill="none"/>
<path transform="scale(.5)" d="M281 459h2M279 443h2M295 436h2M308 446h2M295 457h2M315 474h2M295 452h2M313 460h2M282 465h2M309 462h2M300 490h2M290 477h2M324 494h2M280 472h2M301 506h2M319 481h2M318 473h2M282 503h2M272 477h2M312 466h2M315 463h2M312 467h2M287 481h2M290 474h2M282 467h2M308 484h2M281 453h2M299 444h2M309 506h2M310 474h2M286 473h2M308 499h2M293 485h2M293 458h2M292 468h2M275 456h2M323 430h2M313 477h2M292 449h2M318 457h2M304 459h2M281 482h2M310 446h2M317 440h2M279 479h2M292 463h2M325 443h2M309 456h2M301 459h2M286 464h2M284 463h2M284 458h2M301 438h2M298 476h2M301 480h2M283 474h2M299 479h2M298 464h2M297 460h2M282 451h2M264 501h2M299 467h2M309 472h2M298 435h2M280 494h2M306 475h2M282 454h2M303 449h2M318 449h2M292 442h2M305 487h2M303 463h2M293 478h2M299 495h2M295 456h2M303 465h2M273 442h2M282 457h2M283 477h2M318 451h2M300 444h2M320 443h2M286 463h2M286 512h2M296 459h2M283 462h2M289 455h2M315 452h2M306 452h2M315 449h2M284 459h2M319 456h2M285 460h2M288 468h2M288 469h2M314 472h2M323 469h2M329 486h2M295 477h2M287 459h2M298 449h2M304 462h2M331 477h2M295 451h2M291 451h2M287 463h2M278 458h2M307 453h2M281 454h2M313 449h2M324 433h2M286 474h2M321 459h2M273 458h2M285 451h2M293 452h2M298 466h2M295 431h2M300 455h2M284 501h2M326 487h2M303 454h2M307 492h2M298 460h2M290 462h2M312 447h2M316 466h2M335 467h2M319 445h2M338 465h2M298 490h2M302 441h2M309 473h2M299 455h2M274 493h2M292 470h2M291 450h2M304 447h2M314 434h2M309 484h2M292 467h2M312 455h2M296 460h2M343 449h2M297 455h2M291 447h2M289 466h2M318 492h2M279 446h2M299 446h2M287 459h2M290 448h2M303 449h2M295 469h2M311 467h2M317 466h2M276 490h2M345 478h2M325 483h2M292 475h2M288 453h2M308 465h2M289 438h2M312 463h2M302 448h2M287 463h2M270 485h2M300 483h2M315 453h2M308 443h2M285 487h2M291 450h2M307 464h2M315 441h2M295 444h2M300 459h2M285 432h2M278 480h2M294 444h2M302 443h2M314 479h2M300 453h2M271 472h2M332 467h2M291 478h2M293 442h2M298 474h2M270 482h2M325 463h2M292 438h2M308 459h2M319 491h2M319 467h2M271 487h2M292 455h2M317 472h2M283 458h2M295 461h2M281 490h2M297 475h2M316 502h2M311 451h2M293 479h2M326 437h2M330 454h2M297 456h2M309 460h2M299 447h2M323 470h2M299 502h2M310 488h2M295 466h2M297 479h2M304 433h2M309 460h2M304 481h2M295 475h2M300 462h2M292 462h2M295 478h2M263 474h2M299 445h2M312 463h2M309 488h2M303 435h2M274 463h2M281 502h2M298 432h2M265 454h2M261 472h2M263 479h2M292 484h2M281 456h2M317 435h2M310 490h2M284 461h2M326 490h2M326 462h2M294 461h2M294 479h2M313 473h2M289 478h2M308 468h2M319 457h2M302 484h2M288 480h2M312 491h2M321 454h2M328 456h2M281 459h2M294 448h2M316 473h2M310 439h2M329 472h2M319 470h2M306 478h2M303 489h2M294 464h2M307 466h2M307 472h2M297 474h2M309 450h2M272 468h2M308 483h2M318 469h2M319 454h2M293 488h2M281 464h2M283 443h2M334 433h2M328 456h2M288 435h2M304 475h2M309 448h2M326 468h2M308 475h2M309 458h2M306 451h2M304 447h2M278 454h2M298 452h2M295 454h2M301 495h2M309 479h2M316 480h2M307 479h2M317 461h2M296 464h2M299 472h2M293 457h2M304 473h2M299 438h2M296 479h2M297 486h2M292 460h2M313 485h2M296 490h2M303 471h2M329 479h2M297 463h2" stroke="#444" stroke-width="1.6" stroke-opacity="0.5" fill="none"/>
<ellipse cx="148.0" cy="235" rx="13.5" ry="6.2" transform="rotate(-76 148.0 235)" fill="#111" fill-opacity="0.9" filter="url(#bl2)"/>
<path transform="scale(.5)" d="M302 487h2M314 468h2M301 450h2M291 479h2M300 449h2M311 454h2M304 446h2M288 455h2M298 464h2M285 451h2M315 480h2M293 466h2M296 468h2M300 476h2M307 468h2M313 431h2M310 467h2M306 496h2M288 487h2M285 466h2M295 480h2M286 460h2M290 519h2M293 497h2M305 464h2M289 477h2M281 483h2M310 477h2M291 456h2M285 491h2M299 471h2M308 464h2M278 488h2M301 472h2M296 479h2M306 474h2M291 472h2M307 464h2M293 480h2M284 479h2M292 474h2M292 483h2M299 472h2M282 476h2M302 473h2M301 449h2M289 472h2M297 444h2M294 478h2M296 474h2M313 467h2M302 462h2M309 498h2M306 463h2M294 475h2M293 475h2M301 478h2M300 452h2M302 476h2M300 474h2M306 483h2M299 478h2M307 443h2M302 476h2M283 440h2M293 476h2M287 452h2M300 457h2M290 458h2M324 454h2M302 469h2M268 481h2M294 470h2M300 459h2M272 487h2M309 454h2M294 471h2M295 457h2M302 493h2M287 491h2M306 450h2M314 455h2M284 463h2M270 493h2M287 454h2M297 472h2M297 464h2M304 449h2M300 452h2M298 470h2M305 463h2M300 479h2M298 459h2M290 472h2M294 489h2M307 485h2M313 468h2M284 465h2M300 463h2M279 450h2M309 472h2M279 464h2M302 464h2M307 448h2M303 489h2M310 461h2M305 475h2M276 501h2M313 463h2M300 461h2M292 471h2M285 447h2M311 468h2M270 492h2M292 486h2M294 459h2M295 456h2M299 498h2M291 468h2M267 491h2M298 489h2M281 482h2M298 484h2M310 462h2M306 487h2M307 444h2M315 456h2M290 461h2M302 462h2M322 464h2M295 468h2M302 449h2M294 491h2M286 449h2M320 446h2M294 489h2M303 464h2M304 466h2M291 482h2M300 472h2M312 439h2M295 488h2M322 442h2M304 442h2M301 457h2M292 488h2M284 473h2M292 471h2M302 475h2M293 487h2M301 464h2M298 465h2M272 491h2M291 478h2M286 483h2M310 480h2M303 473h2M301 459h2M295 452h2M285 470h2M304 474h2M292 484h2M295 474h2M297 477h2M292 490h2M294 439h2M294 455h2M310 483h2M305 460h2M309 444h2M276 466h2M314 461h2M284 474h2M295 499h2M290 510h2M296 455h2M290 486h2M293 441h2M298 484h2M305 483h2M283 479h2M288 494h2M301 451h2M280 476h2M291 464h2M279 489h2M302 468h2M308 468h2M294 457h2M296 440h2M298 466h2M301 451h2M280 460h2M297 471h2M287 441h2M299 491h2M307 431h2M272 501h2M287 474h2M308 464h2M291 455h2M292 481h2M303 464h2M304 479h2M297 457h2M311 470h2M296 458h2M303 477h2M299 464h2M291 481h2M312 471h2M292 491h2M280 482h2M310 452h2M299 462h2M301 471h2M303 464h2M285 455h2M291 491h2M284 467h2M305 455h2M307 467h2M298 459h2M304 482h2M288 476h2M298 487h2M296 465h2M293 452h2M295 455h2M294 472h2M309 469h2M303 482h2M300 449h2M284 478h2M321 477h2M297 473h2M296 486h2M306 467h2M314 437h2M292 483h2M287 490h2M300 496h2M293 507h2M283 464h2M311 459h2M301 440h2M301 458h2M302 446h2M292 449h2M284 478h2M284 470h2M292 466h2M293 493h2M305 452h2M296 463h2M282 469h2M290 433h2M283 482h2M293 488h2M288 481h2M287 461h2M296 489h2M278 474h2M286 457h2M296 470h2M300 466h2M294 477h2M292 498h2M295 503h2M301 484h2M300 472h2M292 477h2M304 463h2M270 470h2M303 469h2M299 448h2M269 444h2M289 475h2M303 435h2M289 476h2M294 484h2M288 465h2M313 443h2M299 476h2M291 472h2M287 483h2M318 444h2M293 471h2M293 449h2M286 454h2M304 465h2M314 459h2M297 449h2M270 488h2M290 487h2M319 486h2M302 463h2M295 467h2M308 466h2M305 471h2M304 446h2M302 459h2M309 452h2M308 468h2M304 450h2M307 494h2M304 467h2M295 465h2M292 489h2M300 474h2M295 474h2M300 457h2M298 480h2M286 472h2M284 485h2M274 474h2M285 492h2M293 476h2M289 457h2M306 445h2M286 510h2M297 487h2M291 437h2M287 465h2M296 496h2M294 454h2M284 474h2M291 480h2M302 474h2M297 466h2M302 469h2M287 457h2M299 474h2M280 480h2M281 484h2M294 473h2M281 456h2M305 464h2M284 453h2M315 455h2M292 464h2M294 442h2M294 437h2M301 462h2M292 465h2M304 490h2M290 460h2M298 493h2M301 447h2M300 478h2M309 464h2M289 471h2M284 468h2M287 487h2M296 473h2M287 493h2M289 433h2M290 475h2M292 457h2M301 430h2M299 466h2M306 447h2M291 493h2M304 483h2M302 462h2M289 470h2M309 454h2M303 431h2M291 448h2M299 460h2M286 486h2M295 467h2M292 474h2M292 469h2M290 499h2M302 440h2M289 465h2M284 481h2M291 492h2M295 486h2M284 465h2M302 432h2M293 467h2M291 489h2M280 456h2M297 470h2M286 435h2M303 484h2M299 484h2M282 484h2M294 456h2M292 488h2M300 450h2M306 443h2M306 457h2M292 474h2M284 491h2M302 484h2M297 478h2M316 476h2M284 481h2M283 455h2M287 467h2M291 484h2M312 437h2M304 457h2M292 460h2M296 467h2M306 461h2M280 486h2M292 443h2M326 456h2M303 453h2M297 472h2M326 461h2M298 455h2M303 443h2M304 449h2M304 468h2M290 471h2M296 471h2M301 478h2M300 465h2M297 476h2M296 458h2M297 475h2M292 465h2M303 457h2M294 436h2M293 492h2M312 440h2M290 468h2M293 464h2M293 484h2M290 481h2M291 482h2M298 462h2M288 463h2M289 494h2M302 472h2M298 495h2M286 470h2M289 479h2M298 447h2M289 463h2M284 491h2M286 497h2M310 478h2M304 481h2M306 461h2M295 467h2M308 465h2M281 481h2M281 477h2M291 477h2M291 482h2M301 450h2M299 451h2M284 465h2M304 450h2M301 446h2M311 485h2M274 484h2M290 455h2M293 490h2M308 488h2M324 440h2M302 481h2M288 480h2M293 474h2M294 464h2M289 444h2M283 460h2M308 464h2M308 446h2M291 466h2M296 477h2M281 480h2M306 450h2M294 462h2M295 458h2M298 463h2M290 468h2M292 457h2M311 446h2M299 475h2M300 456h2M294 489h2M293 475h2M305 436h2M296 495h2M293 451h2M290 469h2M307 468h2M309 470h2M303 476h2M321 488h2M299 485h2M312 445h2M311 445h2M303 471h2M302 456h2M297 454h2M305 487h2M311 470h2M300 437h2M307 443h2M283 459h2M292 476h2M283 477h2M290 498h2M305 465h2M276 490h2M303 435h2M305 474h2M290 488h2M303 457h2M296 455h2M290 442h2M285 506h2M296 468h2M276 502h2M302 478h2M316 454h2M286 489h2M278 496h2M290 490h2M295 485h2M299 446h2M294 477h2M293 473h2M294 481h2M298 480h2M306 469h2M303 462h2M292 470h2M291 458h2M312 467h2M299 483h2M299 460h2M297 451h2M296 491h2M301 463h2M290 453h2M308 488h2M304 477h2M281 459h2M318 485h2M303 468h2M290 491h2M289 487h2M290 466h2M296 494h2M294 459h2M301 483h2M306 475h2M296 458h2M284 449h2M293 485h2M307 456h2M291 459h2M312 475h2M308 461h2M286 465h2M306 479h2M304 485h2M283 458h2M292 468h2M308 476h2M276 489h2M296 476h2M298 466h2M291 484h2M309 436h2M303 457h2M284 463h2M320 467h2M294 500h2M297 492h2M297 464h2M286 489h2M299 447h2M301 472h2M292 479h2M308 499h2M303 467h2M285 477h2M295 457h2M287 467h2M304 433h2M305 466h2M293 489h2M283 489h2M310 458h2M290 460h2M302 473h2M292 476h2M304 468h2M280 477h2M292 479h2M298 474h2M300 452h2M292 462h2M300 473h2M300 491h2M290 483h2M303 462h2M291 467h2M303 438h2M297 470h2M294 467h2M285 477h2M297 490h2M304 443h2M295 467h2M311 480h2M301 468h2M275 447h2M298 459h2M297 469h2M304 460h2M299 442h2M306 465h2M292 479h2M301 460h2M298 472h2M293 488h2M283 498h2M299 504h2M297 457h2M277 504h2M317 493h2M290 495h2M304 458h2M290 475h2M298 453h2M283 495h2M306 483h2M280 469h2M302 478h2M287 484h2M293 491h2M291 468h2M301 469h2M293 481h2M296 459h2M294 498h2M299 472h2M310 470h2M307 497h2M304 464h2M293 485h2M299 473h2M289 497h2M306 507h2M287 480h2M299 480h2M305 456h2M286 498h2M298 467h2M295 456h2M277 471h2M301 473h2M289 466h2M296 471h2M287 484h2M302 469h2M296 436h2M302 477h2M301 480h2M303 505h2M301 455h2M287 491h2M305 486h2M296 479h2M295 460h2M274 476h2M312 460h2M289 465h2M296 462h2M282 515h2M285 503h2M298 491h2M291 496h2M282 469h2M290 468h2M279 484h2M290 469h2M295 473h2M300 446h2M308 472h2M304 481h2M281 458h2M301 446h2M289 489h2M298 468h2M289 432h2M292 464h2M290 477h2M307 486h2" stroke="#111" stroke-width="1.6" stroke-opacity="0.7" fill="none"/>
<path transform="scale(.5)" d="M304 441h2M290 436h2M298 442h2M315 453h2M310 442h2M304 447h2M310 444h2M309 442h2M307 449h2M309 440h2M306 445h2M307 443h2M299 441h2M304 446h2M278 445h2M300 442h2M310 442h2M302 439h2M288 437h2M296 436h2M307 449h2M294 445h2M293 442h2M294 433h2M314 446h2M326 445h2M309 435h2M307 453h2M315 435h2M311 439h2M307 444h2M305 439h2M298 430h2M301 431h2M299 449h2M300 448h2M317 440h2M299 431h2M317 442h2M322 438h2M295 439h2M320 454h2M305 445h2M294 444h2M320 434h2M310 442h2M301 447h2M312 449h2M301 431h2M308 457h2M289 436h2M290 440h2M327 443h2M297 439h2M301 447h2M318 444h2M305 442h2M293 448h2M303 440h2M308 445h2M314 439h2M290 443h2M303 452h2M308 442h2M315 439h2M322 436h2M305 443h2M291 446h2M293 440h2M299 430h2M314 446h2M318 442h2M309 450h2M308 446h2M293 450h2M308 445h2M293 448h2M295 455h2M287 454h2M297 450h2M313 442h2M309 447h2M310 444h2M313 436h2M308 457h2M281 439h2M302 438h2M283 447h2M308 439h2M306 437h2M305 442h2M319 433h2M314 449h2M311 449h2M284 450h2M310 436h2M287 441h2M297 445h2M307 437h2M293 455h2M295 449h2M312 454h2M304 433h2M293 446h2M325 448h2M310 436h2M300 432h2M307 447h2M313 454h2M291 443h2M303 434h2M317 448h2M309 432h2M319 445h2M288 434h2M313 441h2M321 438h2M291 442h2M296 453h2M305 447h2M302 452h2M311 442h2M311 432h2M298 438h2M314 442h2M319 449h2M312 444h2M312 457h2M299 442h2M307 441h2M290 444h2M312 441h2M302 440h2M285 439h2M296 444h2M282 438h2M297 451h2M287 453h2M304 430h2M303 446h2M303 450h2M293 443h2M311 443h2M291 439h2M298 440h2M305 446h2M313 441h2M327 451h2M313 436h2M318 431h2" stroke="#333" stroke-width="1.6" stroke-opacity="0.5" fill="none"/>
<ellipse cx="139" cy="258.5" rx="4.5" ry="3.6" transform="rotate(0 139 258.5)" fill="#333" fill-opacity="0.6" filter="url(#bl2)"/>
<path transform="scale(.5)" d="M291 525h2M275 523h2M287 522h2M289 521h2M272 516h2M271 509h2M294 523h2M288 509h2M285 514h2M284 522h2M288 512h2M288 524h2M281 510h2M268 507h2M265 522h2M265 512h2M281 514h2M282 525h2M274 521h2M287 517h2M286 517h2M280 523h2M277 516h2M283 524h2M270 524h2M280 519h2M289 511h2M271 510h2M280 520h2M267 520h2M269 519h2M295 524h2M279 523h2M285 502h2M272 522h2M283 511h2M282 520h2M278 517h2M294 522h2M286 507h2M276 523h2M280 516h2M271 519h2M278 507h2M299 516h2M264 508h2M274 514h2M272 517h2M290 511h2M287 523h2M270 508h2M284 524h2M285 521h2M273 522h2M270 521h2M286 522h2M289 522h2M287 519h2M292 517h2M290 513h2M269 519h2M278 514h2M272 523h2M282 523h2M275 520h2M271 513h2M285 523h2M280 525h2M273 526h2M278 517h2M271 526h2M271 526h2M290 506h2M278 510h2M275 517h2M276 522h2M282 506h2M269 509h2M268 521h2M277 518h2M262 515h2M261 517h2M273 520h2M283 523h2M277 520h2M270 532h2M280 510h2M279 524h2M272 525h2M276 526h2M279 512h2M280 525h2M263 511h2M281 510h2M264 517h2M274 516h2M275 519h2M271 507h2M276 515h2M277 518h2M273 507h2M282 527h2M282 518h2M283 515h2M267 505h2M279 510h2M271 520h2M286 526h2M265 516h2M272 518h2M278 520h2M276 510h2M262 529h2M273 522h2M279 522h2M278 525h2M270 520h2M282 512h2M271 512h2M288 514h2M285 514h2M280 521h2M280 514h2M274 529h2M290 521h2M274 520h2M293 513h2M279 520h2M275 516h2M285 515h2M277 519h2M268 518h2M287 524h2M263 516h2M292 511h2M271 519h2M273 512h2M272 518h2M280 519h2M266 506h2M284 516h2M279 520h2M290 524h2M274 522h2M282 526h2M285 532h2M296 519h2M271 521h2M272 517h2M286 513h2M262 513h2M270 507h2M283 521h2M280 524h2M277 531h2M280 523h2M272 520h2M276 510h2M280 511h2M286 507h2M263 526h2M283 515h2M263 513h2M280 530h2M273 528h2M264 528h2M284 513h2M289 518h2M272 515h2M285 514h2M272 516h2M277 509h2M290 529h2M277 520h2M277 510h2M281 511h2M266 514h2M281 514h2M285 522h2M286 526h2M274 522h2M283 520h2M274 521h2M280 522h2M277 514h2M266 517h2M293 519h2M278 512h2M281 518h2M280 516h2M270 512h2M273 511h2M269 519h2M278 514h2M277 524h2M269 521h2M262 527h2M282 531h2M293 518h2M283 520h2M262 523h2M284 523h2M280 510h2M273 493h2M280 512h2M273 524h2M278 499h2M286 508h2M268 511h2M288 509h2M281 521h2M261 526h2M272 528h2M275 527h2M295 503h2M268 513h2M286 528h2M279 520h2M284 511h2M273 518h2M289 512h2M283 512h2M268 518h2M279 518h2M272 514h2M285 508h2M273 510h2M279 525h2M275 513h2M275 518h2M274 511h2M281 527h2M280 513h2M289 517h2M281 516h2M282 509h2M278 516h2M276 518h2M300 511h2M275 509h2M279 514h2M286 516h2M277 517h2M294 524h2M281 524h2M276 507h2M267 521h2M281 513h2M270 523h2M274 509h2" stroke="#222" stroke-width="1.6" stroke-opacity="0.6" fill="none"/>
<ellipse cx="132" cy="266.8" rx="11" ry="2.0" transform="rotate(-5 132 266.8)" fill="#999" fill-opacity="0.75" filter="url(#bl2)"/>
<ellipse cx="117.5" cy="267.5" rx="6" ry="2.6" transform="rotate(-15 117.5 267.5)" fill="#000" fill-opacity="0.95" filter="url(#bl1)"/>
<path transform="scale(.5)" d="M243 533h2M230 533h2M229 534h2M249 529h2M242 530h2M248 536h2M245 539h2M236 526h2M224 535h2M243 533h2M239 534h2M233 535h2M231 535h2M244 539h2M248 530h2M231 534h2M244 534h2M237 537h2M246 537h2M260 532h2M238 540h2M235 535h2M231 535h2M237 531h2M247 533h2M225 534h2M235 533h2M248 527h2M236 534h2M235 537h2M241 531h2M232 537h2M235 532h2M222 539h2M233 537h2M230 535h2M232 528h2M237 535h2M235 535h2M246 523h2M226 534h2M228 534h2M224 536h2M239 530h2M243 536h2M243 533h2M239 522h2M241 530h2M243 538h2M234 530h2M240 528h2M236 534h2M244 525h2M243 526h2M241 534h2M230 535h2M240 532h2M245 538h2M235 534h2M241 532h2M253 534h2M237 532h2M255 529h2M245 523h2M226 541h2M244 526h2M221 533h2M235 525h2M250 526h2M240 536h2M235 534h2M246 531h2M232 535h2M233 540h2M239 529h2M224 540h2M240 536h2M237 535h2M235 530h2M245 535h2M235 540h2M240 530h2M243 527h2M261 532h2M235 533h2M245 538h2M239 532h2M222 532h2M224 529h2M239 531h2M253 534h2M244 531h2M236 531h2M232 535h2M232 533h2M234 535h2M248 530h2M233 537h2M237 529h2M234 534h2M230 539h2M239 531h2M247 533h2M237 535h2M244 535h2M230 537h2M235 533h2M234 539h2M232 539h2M246 530h2M238 538h2M252 529h2M235 536h2M242 531h2M244 534h2M236 530h2M240 524h2M226 529h2M233 534h2M232 532h2M241 525h2M223 539h2M247 533h2M224 530h2M242 534h2M235 528h2M253 533h2M241 535h2M234 533h2M236 531h2M238 528h2M248 527h2M244 534h2M245 533h2M235 539h2M244 527h2M236 533h2M227 537h2M231 527h2M253 530h2M235 535h2M227 533h2M251 528h2M222 539h2M243 529h2M232 541h2M243 527h2M232 533h2M233 529h2M233 530h2M243 533h2M231 534h2M233 539h2M241 535h2M235 532h2M250 530h2M234 531h2M244 532h2M231 541h2M241 534h2M235 533h2M229 534h2M232 539h2M245 529h2M227 529h2M244 535h2M251 531h2M239 532h2M226 539h2M233 535h2M230 538h2M246 534h2M228 537h2M240 537h2M247 535h2M237 537h2M243 538h2M244 525h2M224 537h2M230 540h2M251 536h2M228 538h2M245 535h2M244 534h2M241 534h2M233 535h2M227 532h2M236 530h2M230 533h2M223 526h2M243 538h2M237 531h2M246 533h2M224 537h2M236 530h2M239 527h2M237 537h2M243 529h2M226 536h2M236 533h2M232 530h2M245 535h2M242 531h2M230 533h2M236 528h2M239 535h2M232 539h2M240 524h2M232 534h2M245 534h2M236 540h2M237 535h2M241 537h2M240 539h2M238 533h2M230 536h2M231 537h2M236 531h2M242 532h2M234 540h2M240 535h2M231 541h2M240 528h2M235 540h2M244 531h2M238 534h2M248 528h2M238 537h2M239 537h2M236 533h2M230 535h2M223 532h2M236 530h2M237 533h2M235 536h2M231 531h2M233 534h2M249 535h2M223 530h2M226 539h2M234 539h2M237 530h2M233 536h2M246 530h2M231 536h2M230 538h2M240 537h2M230 540h2M262 533h2M237 533h2M223 539h2M254 531h2M239 533h2M236 534h2M228 537h2M237 532h2M235 533h2M228 533h2M258 523h2M240 527h2M229 540h2M224 540h2M248 530h2M244 536h2M233 539h2M231 530h2M224 537h2M237 536h2M227 538h2M234 530h2M241 531h2M240 530h2M251 532h2M234 535h2M227 541h2M239 539h2M239 539h2M250 531h2M239 537h2M240 533h2M258 533h2M239 528h2M226 536h2M225 531h2M242 535h2M231 535h2M247 535h2M252 529h2M234 538h2M252 529h2M233 534h2M247 536h2M229 541h2M244 537h2M232 535h2M241 535h2M228 539h2M241 532h2M241 537h2M236 534h2" stroke="#000" stroke-width="1.6" stroke-opacity="0.8" fill="none"/>
<path transform="scale(.5)" d="M438 483h2M455 492h2M385 485h2M387 451h2M481 529h2M493 513h2M451 491h2M440 474h2M482 488h2M487 478h2M406 504h2M462 490h2M403 452h2M453 457h2M479 487h2M464 469h2M487 467h2M497 450h2M466 472h2M491 501h2M466 495h2M469 471h2M422 506h2M383 471h2M400 461h2M407 446h2M444 484h2M466 534h2M449 506h2M485 534h2M430 525h2M428 487h2M407 514h2M407 474h2M430 446h2M476 444h2M392 528h2M470 446h2M403 483h2M378 466h2M418 536h2M382 510h2M402 503h2M377 515h2M489 450h2M495 525h2M414 489h2M377 461h2M383 476h2M407 451h2M384 461h2M383 457h2M478 484h2M387 525h2M397 465h2M381 523h2M431 499h2M438 524h2M486 519h2M441 510h2M402 525h2M439 446h2M416 533h2M412 455h2M496 484h2M446 478h2M408 474h2M490 490h2M463 502h2M406 529h2M488 457h2M382 512h2M394 526h2M435 492h2M410 496h2M414 446h2M441 526h2M457 488h2M480 449h2M402 479h2M379 452h2M474 488h2M456 461h2M487 531h2M417 463h2M418 471h2M423 508h2M470 529h2M451 521h2M455 451h2M397 466h2M389 468h2M458 514h2M431 495h2M454 508h2M428 478h2M440 499h2M393 487h2M437 516h2M411 534h2M464 502h2M437 460h2M418 473h2M434 451h2M379 538h2M377 472h2M425 537h2M418 471h2M435 503h2M483 509h2M385 529h2M487 454h2M476 530h2M479 532h2M413 504h2M471 522h2M450 527h2M457 480h2M491 483h2M389 530h2M421 519h2M484 517h2M460 475h2M438 481h2M475 473h2M430 517h2M390 518h2M444 508h2M459 467h2M484 502h2M420 454h2M401 447h2M411 457h2M380 449h2M389 464h2M388 473h2M389 459h2M447 479h2M459 466h2M455 470h2M428 468h2M387 538h2M408 444h2M451 449h2M388 465h2M401 479h2M417 473h2M471 480h2M486 510h2M484 485h2M417 499h2M498 451h2M459 522h2M443 456h2M498 475h2M488 489h2M390 494h2M412 473h2M485 529h2M446 506h2M457 486h2M470 501h2M497 519h2M484 447h2M433 458h2M413 451h2M482 487h2M444 522h2M470 526h2M380 454h2M434 499h2M496 477h2M393 467h2M391 514h2M443 467h2M468 480h2M400 451h2M471 522h2M463 534h2M494 445h2M392 491h2M439 477h2M402 469h2M495 490h2M427 514h2M465 519h2M472 473h2M406 491h2M466 469h2M487 455h2M404 480h2M398 456h2M414 445h2M449 496h2M393 514h2M426 495h2M484 491h2M389 475h2M395 527h2M405 451h2M431 476h2M471 446h2M403 474h2M389 492h2M485 531h2M448 445h2M454 458h2M441 502h2M491 497h2M407 452h2M468 477h2M414 495h2M458 501h2M377 523h2M457 526h2M458 506h2M409 477h2M490 474h2M487 468h2M432 535h2M454 493h2M377 481h2M392 497h2M495 468h2M489 531h2M397 527h2M463 460h2M394 502h2M482 472h2M470 504h2M391 510h2M411 460h2M432 447h2M483 447h2M496 537h2M485 500h2M496 448h2M421 489h2M396 509h2M476 486h2M383 475h2M481 537h2M423 445h2M482 510h2M381 491h2M420 537h2M446 531h2M427 477h2M441 452h2M425 474h2M398 523h2M446 512h2M450 465h2M410 461h2M453 473h2M392 521h2M392 536h2M416 507h2M496 467h2M483 475h2M441 487h2M442 508h2M470 480h2M461 526h2M438 488h2M433 461h2M450 469h2M421 531h2M411 475h2M456 501h2M480 456h2M408 461h2M393 481h2M470 522h2M400 511h2M399 487h2M391 466h2M475 511h2M436 527h2M390 472h2M458 456h2M431 484h2M397 470h2M408 495h2M417 497h2M416 512h2M483 502h2M478 488h2M386 528h2M400 451h2M467 453h2M438 484h2M382 487h2M390 510h2M479 483h2M444 481h2M449 535h2M405 500h2M378 530h2M383 484h2M421 495h2M407 461h2M440 521h2M494 483h2M406 474h2M390 526h2M474 457h2M487 491h2M448 503h2M467 464h2M419 496h2M453 512h2M403 462h2M458 484h2M495 534h2M493 536h2M484 519h2M382 519h2M478 460h2M390 529h2M397 449h2M419 477h2M413 462h2M432 523h2M380 489h2M491 520h2M379 497h2M400 458h2M482 530h2M498 445h2M378 476h2M422 454h2M488 488h2M496 448h2M433 454h2M495 528h2M390 477h2M495 500h2M425 501h2M433 523h2M387 498h2M487 447h2M414 483h2M449 522h2M442 452h2M492 461h2M474 454h2M389 506h2M425 524h2M383 454h2M386 486h2M396 459h2M431 517h2M472 482h2M418 468h2M460 479h2M462 455h2M403 495h2M377 528h2M479 485h2M388 479h2M418 477h2M429 457h2M383 451h2M393 462h2M427 458h2M394 499h2M445 470h2M462 494h2M401 525h2M445 457h2M437 448h2M414 527h2M424 491h2M380 485h2M482 530h2M432 537h2M495 454h2M476 467h2M450 489h2M403 462h2M496 526h2M426 521h2M461 479h2M476 523h2M417 530h2M420 464h2M485 519h2M403 494h2M395 516h2M389 538h2M486 478h2M487 487h2M450 529h2M379 445h2M414 495h2M466 463h2M385 444h2M377 463h2M491 483h2M408 461h2M430 467h2M402 487h2M427 536h2M428 448h2M383 511h2M440 500h2M493 472h2M398 483h2M492 528h2M445 514h2M413 487h2M402 500h2M472 497h2M481 467h2M472 511h2M482 496h2M413 480h2M464 471h2M495 510h2" stroke="#555" stroke-width="1.6" stroke-opacity="0.55" fill="none"/>
<path transform="scale(.5)" d="M472 452h2M428 493h2M462 460h2M455 487h2M486 461h2M447 487h2M488 482h2M497 441h2M477 467h2M460 473h2M466 464h2M469 458h2M463 491h2M463 444h2M456 448h2M454 454h2M454 482h2M453 491h2M480 440h2M451 484h2M436 453h2M497 450h2M473 462h2M461 481h2M454 482h2M445 482h2M407 505h2M465 463h2M469 470h2M478 435h2M409 530h2M461 465h2M489 476h2M451 452h2M461 448h2M421 478h2M441 451h2M458 479h2M438 518h2M487 435h2M453 466h2M414 516h2M432 489h2M430 473h2M433 466h2M438 517h2M452 496h2M465 453h2M459 468h2M471 465h2M453 472h2M463 442h2M406 468h2M464 485h2M482 429h2M449 455h2M457 464h2M481 464h2M465 462h2M469 452h2M496 466h2M492 476h2M454 484h2M453 455h2M461 461h2M467 463h2M465 453h2M469 479h2M480 450h2M442 506h2M454 445h2M408 479h2M455 515h2M449 473h2M487 475h2M459 465h2M490 469h2M455 457h2M452 495h2M436 476h2M409 486h2M460 451h2M467 454h2M461 488h2M455 462h2M469 433h2M440 486h2M434 445h2M450 470h2M447 484h2M430 506h2M449 500h2M425 460h2M447 458h2M438 467h2M462 459h2M467 465h2M465 462h2M447 495h2M452 475h2M461 468h2M440 471h2M439 478h2M457 446h2M483 485h2M436 491h2M459 460h2M458 486h2M458 473h2M455 501h2M484 435h2M457 455h2M481 455h2M460 463h2M445 486h2M440 440h2M436 443h2M482 446h2M455 451h2M490 445h2M457 464h2M440 476h2M437 458h2M455 432h2M479 477h2M466 469h2M438 462h2M450 448h2M474 468h2M475 450h2M454 464h2M457 467h2M467 453h2M483 499h2M441 487h2M482 449h2M482 460h2M446 502h2M434 454h2M452 448h2M458 474h2M444 501h2M470 458h2M470 453h2M475 439h2M469 473h2M445 441h2M467 487h2M431 457h2M452 449h2M469 441h2M405 489h2M432 476h2M462 464h2M461 444h2M454 480h2M475 471h2M436 493h2M470 468h2M455 476h2M418 482h2M463 440h2M489 490h2M419 480h2M462 470h2M461 468h2M434 483h2M458 440h2M453 471h2M462 446h2M481 451h2M458 461h2M432 463h2M468 456h2M479 465h2M445 483h2M423 455h2M473 454h2M473 482h2M454 500h2M453 480h2M447 456h2M448 503h2M455 479h2M452 478h2M453 470h2M490 476h2M434 476h2M458 458h2M465 479h2M444 455h2M472 457h2M465 463h2M444 512h2M460 494h2M439 488h2M454 456h2M470 468h2M456 484h2M466 475h2M437 472h2M443 469h2M457 481h2M453 453h2M460 477h2M441 475h2M438 463h2M431 474h2M462 453h2M455 455h2M427 484h2M471 456h2M452 480h2M450 462h2M451 481h2M431 455h2M446 448h2M412 478h2M439 516h2M465 485h2M457 459h2M440 498h2M451 470h2M452 505h2M447 485h2M477 489h2M487 449h2M467 486h2M450 434h2M449 459h2M496 468h2M440 476h2M451 488h2M452 436h2M440 500h2M450 454h2M477 476h2M487 452h2M458 488h2M458 454h2M497 463h2M492 436h2M450 471h2M448 456h2M458 511h2M474 462h2M466 445h2M450 470h2M477 445h2M456 458h2M471 468h2M453 463h2M455 488h2M430 471h2M476 472h2M488 484h2M437 484h2M452 508h2M451 479h2M454 476h2M461 481h2M469 448h2M453 465h2M465 500h2M405 475h2M447 509h2M480 472h2M438 484h2M408 481h2M463 483h2M468 453h2M461 462h2M468 491h2M456 464h2M460 470h2M478 474h2M463 474h2M446 466h2M482 433h2M457 470h2M458 467h2M457 489h2M440 459h2M476 461h2M431 462h2M474 454h2M446 462h2M457 503h2M454 452h2M470 462h2M438 444h2M474 468h2M447 491h2M457 474h2M451 493h2M456 467h2M449 450h2M486 482h2M467 458h2M446 484h2M453 465h2M448 474h2M468 459h2M466 466h2M450 535h2M467 455h2M470 480h2M485 478h2M437 492h2M450 482h2M468 468h2M452 491h2M475 455h2M478 485h2M466 448h2M481 456h2M435 474h2M419 486h2M469 479h2M451 463h2M445 464h2M473 496h2M445 453h2M448 461h2M430 474h2M474 429h2M443 478h2M472 464h2M450 471h2M470 438h2M456 446h2M454 468h2M448 432h2M434 491h2M469 476h2M448 502h2M464 456h2M471 440h2M491 468h2M458 472h2M453 477h2M459 455h2M461 473h2M439 488h2M479 485h2M461 457h2M464 477h2M448 489h2M457 493h2M464 442h2M480 465h2M435 482h2M468 481h2M462 493h2M472 450h2M456 475h2M471 468h2M429 483h2M449 505h2M469 452h2M454 445h2M464 474h2M434 493h2M452 498h2M451 465h2M454 496h2M453 459h2M439 467h2M470 445h2M480 437h2M440 479h2M465 479h2M450 441h2M433 488h2M491 488h2M475 455h2M436 516h2M432 480h2M443 497h2M491 441h2M463 446h2M443 491h2M421 483h2M447 454h2M493 489h2M488 472h2M442 478h2M463 475h2M431 477h2M481 460h2M456 454h2M436 466h2M484 467h2M474 439h2M470 442h2M451 460h2M467 463h2M431 439h2M476 473h2M457 438h2M442 516h2M453 463h2M432 476h2M431 476h2M442 439h2M499 458h2M432 498h2M471 477h2M425 532h2M473 438h2M462 486h2M484 485h2M422 471h2M455 472h2M457 484h2M453 486h2M460 507h2M472 457h2M440 476h2M424 465h2M456 498h2M464 486h2M453 460h2M434 482h2M448 458h2M432 465h2M449 446h2M474 497h2M450 485h2M462 508h2M495 467h2M425 460h2M418 468h2M478 453h2M443 461h2M459 458h2M451 480h2M421 466h2M495 474h2M433 505h2M425 484h2M462 486h2M448 514h2M477 490h2M415 454h2M454 443h2M499 434h2M459 439h2M457 473h2M410 479h2M465 472h2M474 501h2M431 463h2M432 479h2M429 503h2M493 466h2M433 498h2M458 455h2M492 449h2M478 449h2M476 468h2M418 462h2M444 455h2M457 440h2M447 444h2M490 440h2M437 487h2M426 435h2M442 490h2M437 477h2M494 461h2M464 471h2M486 448h2M435 495h2M426 478h2M456 467h2M464 480h2M455 475h2M461 451h2M448 469h2M427 476h2M464 463h2M442 501h2M479 469h2M477 451h2M462 457h2M438 483h2M466 465h2M437 469h2M441 473h2M458 480h2M426 442h2M461 451h2M469 450h2M436 451h2M472 440h2M476 457h2M488 441h2M450 462h2M435 500h2" stroke="#444" stroke-width="1.6" stroke-opacity="0.55" fill="none"/>
<ellipse cx="223" cy="247" rx="17.5" ry="4.8" transform="rotate(-44 223 247)" fill="#111" fill-opacity="0.85" filter="url(#bl3)"/>
<path transform="scale(.5)" d="M441 508h2M464 479h2M479 466h2M454 480h2M455 485h2M466 475h2M420 528h2M456 473h2M447 496h2M453 479h2M433 503h2M436 498h2M442 485h2M447 484h2M435 498h2M458 484h2M440 503h2M433 509h2M449 492h2M430 513h2M455 489h2M444 505h2M476 476h2M457 498h2M427 496h2M431 502h2M437 502h2M449 489h2M430 506h2M448 483h2M424 511h2M456 514h2M447 488h2M438 496h2M466 495h2M449 486h2M461 504h2M431 503h2M437 499h2M409 520h2M445 502h2M427 502h2M435 492h2M420 520h2M448 488h2M454 491h2M455 483h2M450 485h2M452 496h2M471 473h2M437 498h2M433 513h2M459 474h2M439 499h2M420 508h2M450 484h2M455 488h2M462 473h2M463 473h2M452 500h2M434 495h2M454 484h2M430 521h2M440 507h2M441 491h2M441 486h2M457 475h2M458 505h2M442 497h2M435 519h2M450 492h2M424 511h2M442 494h2M427 493h2M441 519h2M455 493h2M435 516h2M437 499h2M447 491h2M450 481h2M442 487h2M471 456h2M470 482h2M442 497h2M446 498h2M456 489h2M458 486h2M437 509h2M433 497h2M450 488h2M414 532h2M448 496h2M427 510h2M437 502h2M457 475h2M439 497h2M443 482h2M452 483h2M470 481h2M438 495h2M436 497h2M468 491h2M425 507h2M449 493h2M446 483h2M455 482h2M453 485h2M431 517h2M440 494h2M425 510h2M468 484h2M453 482h2M449 493h2M436 500h2M444 487h2M437 492h2M435 500h2M454 492h2M437 504h2M456 465h2M437 489h2M465 480h2M454 489h2M429 522h2M441 497h2M426 514h2M416 509h2M477 462h2M484 471h2M454 468h2M469 473h2M447 512h2M462 487h2M430 507h2M454 485h2M420 521h2M444 493h2M448 487h2M456 468h2M438 506h2M467 489h2M454 475h2M456 481h2M470 480h2M433 504h2M443 486h2M423 512h2M462 491h2M453 489h2M446 506h2M429 515h2M467 486h2M430 500h2M444 503h2M452 488h2M458 482h2M451 505h2M442 501h2M438 506h2M441 505h2M443 497h2M481 467h2M457 480h2M445 502h2M460 485h2M452 469h2M452 498h2M460 491h2M435 509h2M428 497h2M473 474h2M464 470h2M442 492h2M461 475h2M436 500h2M436 498h2M466 465h2M428 499h2M458 475h2M463 491h2M460 497h2M449 514h2M451 476h2M453 484h2M460 468h2M452 474h2M446 478h2M414 529h2M435 516h2M444 490h2M469 489h2M437 496h2M441 488h2M436 494h2M462 468h2M470 481h2M441 498h2M440 514h2M439 503h2M440 500h2M456 488h2M461 480h2M447 479h2M432 490h2M458 482h2M425 508h2M458 496h2M440 503h2M440 522h2M433 514h2M440 492h2M472 487h2M460 481h2M457 478h2M435 494h2M438 498h2M445 488h2M427 489h2M471 478h2M454 488h2M422 505h2M438 497h2M448 486h2M416 529h2M440 504h2M447 500h2M453 483h2M450 491h2M440 487h2M437 503h2M432 488h2M456 484h2M438 494h2M435 504h2M470 482h2M446 494h2M452 495h2M464 484h2M450 499h2M414 515h2M456 492h2M439 509h2M442 496h2M443 493h2M458 478h2M440 507h2M430 509h2M434 504h2M422 513h2M424 517h2M443 487h2M422 509h2M440 513h2M452 481h2M457 485h2M421 503h2M430 498h2M432 502h2M442 481h2M470 466h2M428 504h2M437 513h2M422 494h2M437 507h2M429 509h2M468 481h2M433 514h2M444 492h2M469 464h2M453 483h2M429 497h2M453 489h2M465 468h2M461 475h2M429 513h2M456 481h2M470 486h2M468 475h2M442 513h2M448 488h2M432 512h2M473 472h2M434 507h2M442 501h2M462 462h2M448 488h2M448 489h2M439 513h2M439 496h2M464 483h2M457 477h2M445 502h2M432 498h2M429 504h2M423 510h2M442 505h2M430 507h2M435 496h2M430 509h2M454 486h2M431 518h2M446 493h2M424 512h2M472 471h2M454 505h2M461 477h2M428 502h2M440 493h2M450 482h2M454 475h2M428 521h2M433 508h2M454 487h2M465 482h2M446 494h2M464 476h2M462 485h2M440 505h2M481 451h2M449 473h2M440 496h2M453 488h2M422 506h2M441 492h2M443 498h2M452 501h2M452 492h2M441 511h2M462 480h2M445 498h2M466 484h2M441 507h2M443 491h2M445 502h2M469 468h2M439 501h2M434 493h2M458 473h2M441 499h2M446 500h2M425 502h2M449 490h2M433 513h2M442 483h2M451 493h2M452 481h2M443 496h2M449 484h2M443 494h2M440 492h2M455 494h2M464 476h2M451 490h2M446 484h2M429 523h2M478 456h2M459 483h2M459 472h2M458 501h2M471 459h2M445 492h2M477 472h2M438 507h2M438 489h2M443 505h2M425 529h2M460 489h2M422 522h2M427 498h2M437 506h2M458 507h2M468 486h2M457 486h2M459 505h2M436 493h2M452 487h2M441 487h2M435 504h2M442 501h2M467 477h2M450 486h2M429 514h2M443 491h2M439 508h2M454 486h2M450 476h2M451 502h2M442 500h2M444 499h2M426 500h2M460 484h2M455 477h2M448 490h2M411 515h2M460 495h2M447 509h2M434 511h2M436 493h2M455 480h2M456 492h2M433 500h2M444 495h2M473 473h2M438 503h2M443 496h2M461 484h2M445 502h2M462 484h2M445 509h2M463 470h2M461 486h2M456 490h2M442 496h2M437 523h2M457 484h2M465 488h2M450 494h2M461 471h2M428 515h2M465 472h2M450 486h2M445 494h2M468 458h2M432 496h2M460 499h2M405 508h2M454 485h2M445 496h2M444 493h2M441 500h2M436 499h2M458 488h2M465 486h2M459 499h2M454 488h2M422 527h2M451 488h2M423 513h2M432 507h2M449 490h2M443 495h2M470 462h2M450 482h2M447 504h2M432 507h2M437 516h2M454 493h2M450 500h2M431 514h2M422 529h2M436 500h2M464 476h2M451 484h2M445 504h2M435 500h2M453 485h2M424 513h2M465 469h2M429 518h2M437 498h2M476 467h2M433 511h2M453 512h2M450 487h2M439 500h2M440 507h2M465 458h2M448 497h2M451 499h2M460 481h2M442 507h2M434 500h2M444 498h2M437 500h2M454 496h2M432 499h2M426 510h2M451 494h2M434 494h2M433 515h2M459 489h2M459 482h2M434 495h2M445 492h2M428 506h2M430 514h2M454 499h2M446 492h2M458 486h2M417 522h2M421 506h2M437 514h2M468 469h2M457 490h2M459 499h2M441 494h2M423 508h2M436 486h2M452 472h2M425 509h2M438 498h2M449 507h2M443 503h2M439 515h2M444 498h2M425 506h2M439 488h2M453 489h2M405 535h2M454 478h2M458 497h2M444 495h2M469 475h2M461 471h2M446 498h2M458 491h2M457 481h2M440 497h2M460 488h2M438 506h2M439 495h2M452 497h2M437 494h2M483 481h2M433 503h2M446 495h2M441 497h2M444 483h2M443 510h2M447 504h2M439 496h2M431 512h2M436 477h2M445 509h2M461 485h2M435 507h2M434 505h2M462 490h2M428 521h2M467 466h2M451 498h2M449 499h2M451 496h2M491 462h2M440 493h2M447 484h2M425 509h2M446 490h2M444 487h2M461 481h2M440 492h2M442 494h2M436 490h2M455 486h2M474 477h2M424 508h2M454 489h2M448 491h2M460 492h2M429 510h2M424 503h2M438 510h2M473 483h2M448 489h2M447 497h2M439 500h2M432 503h2M448 493h2M458 494h2M459 488h2M440 508h2M474 464h2M408 514h2M466 483h2M446 492h2M463 473h2M454 484h2M463 490h2M461 490h2M445 500h2M464 494h2M451 492h2M440 503h2M423 514h2M462 473h2M446 501h2M437 506h2M430 506h2M457 472h2M413 511h2M452 483h2M458 468h2M440 479h2M480 468h2M439 496h2M436 485h2M412 515h2M433 496h2M455 465h2M449 481h2M439 494h2M451 494h2M435 516h2M426 499h2M447 501h2M449 488h2M461 469h2M442 513h2M461 476h2M445 490h2M449 490h2M425 502h2M441 492h2M437 499h2M452 504h2M447 487h2M446 483h2M434 507h2M429 501h2M475 482h2M454 477h2M418 513h2M425 507h2M441 502h2M471 460h2M435 490h2M470 479h2M447 486h2M445 498h2M415 524h2M448 482h2M460 475h2M457 491h2M449 480h2M453 493h2M434 496h2M450 496h2M472 482h2M444 480h2M443 493h2M468 479h2M422 504h2M443 487h2M414 509h2M466 478h2M429 508h2M434 497h2M466 486h2M459 478h2M457 470h2M417 515h2M442 505h2M431 509h2M451 492h2M437 499h2M433 505h2M437 507h2M449 490h2M448 493h2M462 489h2M426 525h2M455 493h2M459 478h2M438 510h2M468 468h2M427 520h2M458 481h2M439 518h2M443 499h2M444 509h2M456 496h2M461 486h2M442 495h2M436 501h2M430 515h2M461 480h2M405 526h2M417 519h2M460 468h2M438 501h2M447 497h2M461 483h2M434 491h2M444 490h2M449 493h2M435 505h2M438 487h2M444 502h2M419 520h2M458 473h2M434 492h2M468 475h2M449 492h2M451 497h2M441 485h2M465 500h2M463 479h2M447 489h2M436 498h2M443 497h2M439 489h2M440 502h2M458 488h2M440 506h2M452 499h2M445 508h2M445 497h2M447 493h2M436 509h2M446 505h2M439 490h2M415 514h2M457 484h2M463 484h2M449 480h2M443 488h2M463 473h2M448 488h2M458 496h2M457 497h2M407 524h2M431 511h2M438 517h2M450 494h2M476 458h2M445 500h2M440 504h2M429 514h2M432 512h2M437 513h2M439 505h2M434 511h2M402 506h2M439 509h2M464 491h2M443 486h2M449 496h2M440 504h2M452 481h2M465 468h2M440 499h2M440 491h2M465 475h2M435 496h2M453 489h2M439 504h2M472 469h2M429 515h2M467 472h2M439 506h2" stroke="#111" stroke-width="1.6" stroke-opacity="0.65" fill="none"/>
<path transform="scale(.5)" d="M411 523h2M417 515h2M409 523h2M413 512h2M416 510h2M428 508h2M413 520h2M403 518h2M426 519h2M415 502h2M414 522h2M403 522h2M412 524h2M425 514h2M411 518h2M395 521h2M423 504h2M417 519h2M413 526h2M399 521h2M414 504h2M407 521h2M419 518h2M410 521h2M428 509h2M398 526h2M439 498h2M405 524h2M407 513h2M418 522h2M419 520h2M410 512h2M425 509h2M429 513h2M418 514h2M401 505h2M408 516h2M410 522h2M405 514h2M418 505h2M424 512h2M427 519h2M431 510h2M418 527h2M415 516h2M407 515h2M431 515h2M422 501h2M417 503h2M397 534h2M421 525h2M429 497h2M397 536h2M400 521h2M422 519h2M418 505h2M413 516h2M428 504h2M431 514h2M411 515h2M433 517h2M393 514h2M413 520h2M404 510h2M405 525h2M402 528h2M415 514h2M381 519h2M413 518h2M425 519h2M412 515h2M422 521h2M413 526h2M417 492h2M424 522h2M417 522h2M414 518h2M410 518h2M392 519h2M404 528h2M426 511h2M419 505h2M408 523h2M395 514h2M391 538h2M411 517h2M420 522h2M393 520h2M413 530h2M391 518h2M410 513h2M427 509h2M416 525h2M385 521h2M422 501h2M405 517h2M436 505h2M420 519h2M404 528h2M410 501h2M396 517h2M422 514h2M431 511h2M386 517h2M400 523h2M385 521h2M410 509h2M413 516h2M393 531h2M424 508h2M415 515h2M413 504h2M409 512h2M401 512h2M404 512h2M429 502h2M401 527h2M426 506h2M418 513h2M409 518h2M421 513h2M411 514h2M432 514h2M401 523h2M423 509h2M418 525h2M412 508h2M404 515h2M410 519h2M414 513h2M393 521h2M420 511h2M410 515h2M432 504h2M417 511h2M419 506h2M419 516h2M407 517h2M425 524h2M430 506h2M428 500h2M418 521h2M410 521h2M424 508h2M417 497h2M412 518h2M401 515h2M410 518h2M412 516h2M420 515h2M425 516h2M437 502h2M462 494h2M409 510h2M415 523h2M436 507h2M405 525h2M395 516h2M431 502h2M428 502h2M412 508h2M428 518h2M412 514h2M395 516h2M427 504h2M402 527h2M410 519h2M399 526h2M391 528h2M413 520h2M399 523h2M464 496h2M386 520h2M425 506h2M412 519h2M414 520h2M401 526h2M427 501h2M399 518h2M430 496h2M404 511h2M417 518h2M424 503h2M405 529h2M415 516h2M385 528h2M378 534h2M417 517h2M414 522h2M426 507h2M426 519h2M434 494h2M426 518h2M421 504h2M416 514h2M414 515h2M396 523h2M418 518h2M427 509h2M415 510h2M412 516h2M398 530h2M407 531h2M430 506h2M418 513h2M409 504h2M407 511h2M420 511h2M402 525h2M427 508h2M395 529h2M429 511h2M438 497h2M401 525h2M400 525h2M414 520h2M419 512h2M401 517h2M421 513h2M411 516h2M408 525h2M408 524h2M432 506h2M411 519h2M394 516h2M430 508h2M415 523h2M413 506h2M410 514h2M423 506h2M413 521h2M403 519h2M426 511h2M418 511h2M398 524h2M424 501h2M413 519h2M416 515h2M425 519h2M402 518h2M421 505h2M410 533h2M424 502h2M416 519h2M431 512h2M400 519h2M425 510h2M404 524h2M414 509h2M405 521h2M423 512h2M398 510h2M398 514h2M408 511h2M413 506h2M419 521h2M407 512h2M421 525h2M403 512h2M428 508h2M392 522h2M422 501h2M406 528h2M402 512h2M414 522h2M394 533h2M416 517h2M420 511h2M388 528h2M426 523h2M402 514h2M419 504h2M405 515h2M403 518h2M406 508h2M403 524h2M409 511h2M407 524h2M411 501h2M427 514h2M408 521h2M424 526h2M399 502h2M414 516h2M378 533h2M421 513h2M408 515h2M409 522h2M425 509h2M402 520h2M398 523h2M423 509h2M417 501h2M442 503h2M402 520h2M397 524h2M405 529h2M423 513h2M404 514h2M406 529h2" stroke="#1a1a1a" stroke-width="1.6" stroke-opacity="0.6" fill="none"/>
<ellipse cx="218" cy="265.0" rx="21" ry="1.9" transform="rotate(-6 218 265.0)" fill="#8a8a8a" fill-opacity="0.85" filter="url(#bl2)"/>
<ellipse cx="191.5" cy="266.2" rx="5.5" ry="2.8" transform="rotate(-35 191.5 266.2)" fill="#000" fill-opacity="0.95" filter="url(#bl2)"/>
<path transform="scale(.5)" d="M375 539h2M380 534h2M388 533h2M388 529h2M376 533h2M381 536h2M389 529h2M389 529h2M376 533h2M392 528h2M384 531h2M386 531h2M380 535h2M378 533h2M381 528h2M387 528h2M386 525h2M393 527h2M394 528h2M387 531h2M395 529h2M376 538h2M383 536h2M388 527h2M386 536h2M382 530h2M385 538h2M384 533h2M384 534h2M385 537h2M393 527h2M385 532h2M379 521h2M393 538h2M394 527h2M380 531h2M395 528h2M376 531h2M386 528h2M398 527h2M386 534h2M383 528h2M389 534h2M379 533h2M385 530h2M393 530h2M390 529h2M386 537h2M387 532h2M390 524h2M388 534h2M381 532h2M379 535h2M384 539h2M399 521h2M383 531h2M383 529h2M381 531h2M381 531h2M385 526h2M392 527h2M375 531h2M384 535h2M384 531h2M396 526h2M375 538h2M375 537h2M387 536h2M383 529h2M385 533h2M379 535h2M396 536h2M385 528h2M387 526h2M378 535h2M385 531h2M385 526h2M387 529h2M379 537h2M385 535h2M379 537h2M376 534h2M374 537h2M388 532h2M396 529h2M393 528h2M377 533h2M390 532h2M385 533h2M374 537h2M387 528h2M388 523h2M394 526h2M379 533h2M387 525h2M375 538h2M387 529h2M384 537h2M383 532h2M398 530h2M375 533h2M386 529h2M380 531h2M387 534h2M389 530h2M381 533h2M380 533h2M377 535h2M380 529h2M383 532h2M384 534h2M392 536h2M385 534h2M382 535h2M380 534h2M397 525h2M379 530h2M385 535h2M383 535h2M383 538h2M380 530h2M388 532h2M386 531h2M378 529h2M383 532h2M380 537h2M376 532h2M392 528h2M392 531h2M388 536h2M392 520h2M378 533h2M380 532h2M384 531h2M387 529h2M381 535h2M376 536h2M385 529h2M388 528h2M383 534h2M384 532h2M394 516h2M378 533h2M383 528h2M380 532h2M391 527h2M382 532h2M376 530h2M385 535h2M388 537h2M393 527h2M381 530h2M385 536h2M377 539h2M377 535h2M383 533h2M377 534h2M382 532h2M382 534h2M391 530h2M384 532h2M374 536h2M387 520h2M381 534h2M387 534h2M377 533h2M379 538h2M392 528h2M384 535h2M391 534h2M391 528h2M381 535h2M396 521h2M382 536h2M379 537h2M378 538h2M390 528h2M395 526h2M381 530h2M383 530h2M386 533h2M385 526h2M379 527h2M387 527h2M375 533h2M380 538h2M374 533h2M386 522h2M381 534h2M383 537h2M381 535h2M389 535h2M385 528h2M383 534h2M377 529h2M382 531h2M385 530h2M383 527h2M376 537h2M385 527h2M376 532h2M376 529h2M386 531h2M397 526h2M390 529h2M395 525h2M388 530h2M376 530h2M392 529h2M392 522h2M374 535h2M378 537h2M394 527h2M390 534h2M377 537h2M389 516h2M388 531h2M382 536h2M384 529h2M386 529h2M390 530h2M382 535h2M384 537h2M377 533h2M383 525h2M384 535h2M390 520h2M388 533h2M383 539h2M380 537h2M394 530h2M376 530h2M379 533h2M377 533h2M382 536h2M393 531h2M388 519h2M393 538h2M392 530h2M389 528h2M380 532h2M379 534h2M389 533h2M395 526h2M388 526h2M387 533h2M382 531h2M392 527h2M385 536h2M376 530h2M391 532h2M380 536h2M384 533h2M390 528h2M390 532h2M382 535h2M381 534h2M390 524h2M388 529h2M381 535h2" stroke="#000" stroke-width="1.6" stroke-opacity="0.8" fill="none"/>
<rect x="31.50" y="207.80" width="32.50" height="18.70" fill="#fff" fill-opacity="0.85"/>
<rect x="107.50" y="207.80" width="37.30" height="18.30" fill="#f2f2f2" fill-opacity="0.9"/>
<rect x="182.50" y="207.20" width="33.50" height="18.50" fill="#f7f7f7" fill-opacity="0.9"/>
<text x="32.0" y="217.6" font-size="6.6" font-weight="bold" textLength="26.5" lengthAdjust="spacingAndGlyphs" fill="#111" stroke="#111" stroke-width="0.18">CERA45</text>
<text x="32.0" y="225.6" font-size="6.6" textLength="29.6" lengthAdjust="spacingAndGlyphs" fill="#222" stroke="#222" stroke-width="0.22">April 2014</text>
<text x="108.5" y="218.6" font-size="6.4" font-weight="bold" textLength="25.5" lengthAdjust="spacingAndGlyphs" fill="#111" stroke="#111" stroke-width="0.18">ARGP38</text>
<text x="108.5" y="225.5" font-size="6.4" textLength="34.0" lengthAdjust="spacingAndGlyphs" fill="#222" stroke="#222" stroke-width="0.22">March 2014</text>
<text x="183.3" y="218.2" font-size="6.4" font-weight="bold" textLength="25.5" lengthAdjust="spacingAndGlyphs" fill="#111" stroke="#111" stroke-width="0.18">ARGP38</text>
<text x="183.3" y="225.0" font-size="6.4" textLength="28.0" lengthAdjust="spacingAndGlyphs" fill="#222" stroke="#222" stroke-width="0.22">July 2016</text>
<rect x="64.00" y="200.50" width="29.30" height="21.50" fill="#fff"/>
<text x="78.5" y="209.5" font-size="8.6" text-anchor="middle" textLength="9.4" lengthAdjust="spacingAndGlyphs" fill="#111" stroke="#111" stroke-width="0.22">All</text>
<text x="78.25" y="220.2" font-size="8.9" text-anchor="middle" textLength="27.3" lengthAdjust="spacingAndGlyphs" fill="#111" stroke="#111" stroke-width="0.22">Events</text>
<line x1="93.50" y1="213.30" x2="97.90" y2="213.30" stroke="#555" stroke-width="0.6"/>
<line x1="24.40" y1="210.00" x2="24.40" y2="231.90" stroke="#111" stroke-width="1.2"/>
<line x1="24.40" y1="262.30" x2="24.40" y2="284.20" stroke="#111" stroke-width="1.2"/>
<text x="27.0" y="246.35" font-size="9.2" text-anchor="middle" textLength="22.5" lengthAdjust="spacingAndGlyphs" transform="rotate(-90 27.0 246.35)" fill="#111" stroke="#111" stroke-width="0.38">SSC-A</text>
<line x1="23.80" y1="284.20" x2="122.70" y2="284.20" stroke="#111" stroke-width="1.1"/>
<line x1="152.70" y1="284.20" x2="251.30" y2="284.20" stroke="#111" stroke-width="1.1"/>
<text x="137.95" y="287.1" font-size="9.5" text-anchor="middle" textLength="22.5" lengthAdjust="spacingAndGlyphs" fill="#111" stroke="#111" stroke-width="0.38">FSC-H</text>
<line x1="33.80" y1="300.00" x2="33.80" y2="357.50" stroke="#888" stroke-width="0.5"/>
<line x1="33.80" y1="357.50" x2="98.70" y2="357.50" stroke="#888" stroke-width="0.5"/>
<line x1="98.70" y1="300.00" x2="98.70" y2="357.50" stroke="#666" stroke-width="0.6"/>
<line x1="33.80" y1="300.00" x2="98.70" y2="300.00" stroke="#666" stroke-width="0.6"/>
<line x1="32.00" y1="345.00" x2="33.80" y2="345.00" stroke="#333" stroke-width="0.55"/>
<line x1="32.00" y1="332.50" x2="33.80" y2="332.50" stroke="#333" stroke-width="0.55"/>
<line x1="32.00" y1="320.00" x2="33.80" y2="320.00" stroke="#333" stroke-width="0.55"/>
<line x1="32.00" y1="307.50" x2="33.80" y2="307.50" stroke="#333" stroke-width="0.55"/>
<line x1="32.80" y1="355.58" x2="33.80" y2="355.58" stroke="#333" stroke-width="0.45"/>
<line x1="32.80" y1="353.67" x2="33.80" y2="353.67" stroke="#333" stroke-width="0.45"/>
<line x1="32.80" y1="351.75" x2="33.80" y2="351.75" stroke="#333" stroke-width="0.45"/>
<line x1="32.80" y1="349.83" x2="33.80" y2="349.83" stroke="#333" stroke-width="0.45"/>
<line x1="32.80" y1="347.92" x2="33.80" y2="347.92" stroke="#333" stroke-width="0.45"/>
<line x1="32.80" y1="346.00" x2="33.80" y2="346.00" stroke="#333" stroke-width="0.45"/>
<line x1="32.80" y1="344.08" x2="33.80" y2="344.08" stroke="#333" stroke-width="0.45"/>
<line x1="32.80" y1="342.17" x2="33.80" y2="342.17" stroke="#333" stroke-width="0.45"/>
<line x1="32.80" y1="340.25" x2="33.80" y2="340.25" stroke="#333" stroke-width="0.45"/>
<line x1="32.80" y1="338.33" x2="33.80" y2="338.33" stroke="#333" stroke-width="0.45"/>
<line x1="32.80" y1="336.42" x2="33.80" y2="336.42" stroke="#333" stroke-width="0.45"/>
<line x1="32.80" y1="334.50" x2="33.80" y2="334.50" stroke="#333" stroke-width="0.45"/>
<line x1="32.80" y1="332.58" x2="33.80" y2="332.58" stroke="#333" stroke-width="0.45"/>
<line x1="32.80" y1="330.67" x2="33.80" y2="330.67" stroke="#333" stroke-width="0.45"/>
<line x1="32.80" y1="328.75" x2="33.80" y2="328.75" stroke="#333" stroke-width="0.45"/>
<line x1="32.80" y1="326.83" x2="33.80" y2="326.83" stroke="#333" stroke-width="0.45"/>
<line x1="32.80" y1="324.92" x2="33.80" y2="324.92" stroke="#333" stroke-width="0.45"/>
<line x1="32.80" y1="323.00" x2="33.80" y2="323.00" stroke="#333" stroke-width="0.45"/>
<line x1="32.80" y1="321.08" x2="33.80" y2="321.08" stroke="#333" stroke-width="0.45"/>
<line x1="32.80" y1="319.17" x2="33.80" y2="319.17" stroke="#333" stroke-width="0.45"/>
<line x1="32.80" y1="317.25" x2="33.80" y2="317.25" stroke="#333" stroke-width="0.45"/>
<line x1="32.80" y1="315.33" x2="33.80" y2="315.33" stroke="#333" stroke-width="0.45"/>
<line x1="32.80" y1="313.42" x2="33.80" y2="313.42" stroke="#333" stroke-width="0.45"/>
<line x1="32.80" y1="311.50" x2="33.80" y2="311.50" stroke="#333" stroke-width="0.45"/>
<line x1="32.80" y1="309.58" x2="33.80" y2="309.58" stroke="#333" stroke-width="0.45"/>
<line x1="32.80" y1="307.67" x2="33.80" y2="307.67" stroke="#333" stroke-width="0.45"/>
<line x1="32.80" y1="305.75" x2="33.80" y2="305.75" stroke="#333" stroke-width="0.45"/>
<line x1="32.80" y1="303.83" x2="33.80" y2="303.83" stroke="#333" stroke-width="0.45"/>
<line x1="32.80" y1="301.92" x2="33.80" y2="301.92" stroke="#333" stroke-width="0.45"/>
<line x1="35.71" y1="357.50" x2="35.71" y2="358.60" stroke="#333" stroke-width="0.45"/>
<line x1="37.62" y1="357.50" x2="37.62" y2="358.60" stroke="#333" stroke-width="0.45"/>
<line x1="39.53" y1="357.50" x2="39.53" y2="358.60" stroke="#333" stroke-width="0.45"/>
<line x1="41.44" y1="357.50" x2="41.44" y2="358.60" stroke="#333" stroke-width="0.45"/>
<line x1="43.34" y1="357.50" x2="43.34" y2="358.60" stroke="#333" stroke-width="0.45"/>
<line x1="45.25" y1="357.50" x2="45.25" y2="358.60" stroke="#333" stroke-width="0.45"/>
<line x1="47.16" y1="357.50" x2="47.16" y2="359.30" stroke="#333" stroke-width="0.45"/>
<line x1="49.07" y1="357.50" x2="49.07" y2="358.60" stroke="#333" stroke-width="0.45"/>
<line x1="50.98" y1="357.50" x2="50.98" y2="358.60" stroke="#333" stroke-width="0.45"/>
<line x1="52.89" y1="357.50" x2="52.89" y2="358.60" stroke="#333" stroke-width="0.45"/>
<line x1="54.80" y1="357.50" x2="54.80" y2="358.60" stroke="#333" stroke-width="0.45"/>
<line x1="56.71" y1="357.50" x2="56.71" y2="358.60" stroke="#333" stroke-width="0.45"/>
<line x1="58.61" y1="357.50" x2="58.61" y2="358.60" stroke="#333" stroke-width="0.45"/>
<line x1="60.52" y1="357.50" x2="60.52" y2="359.30" stroke="#333" stroke-width="0.45"/>
<line x1="62.43" y1="357.50" x2="62.43" y2="358.60" stroke="#333" stroke-width="0.45"/>
<line x1="64.34" y1="357.50" x2="64.34" y2="358.60" stroke="#333" stroke-width="0.45"/>
<line x1="66.25" y1="357.50" x2="66.25" y2="358.60" stroke="#333" stroke-width="0.45"/>
<line x1="68.16" y1="357.50" x2="68.16" y2="358.60" stroke="#333" stroke-width="0.45"/>
<line x1="70.07" y1="357.50" x2="70.07" y2="358.60" stroke="#333" stroke-width="0.45"/>
<line x1="71.98" y1="357.50" x2="71.98" y2="358.60" stroke="#333" stroke-width="0.45"/>
<line x1="73.89" y1="357.50" x2="73.89" y2="359.30" stroke="#333" stroke-width="0.45"/>
<line x1="75.79" y1="357.50" x2="75.79" y2="358.60" stroke="#333" stroke-width="0.45"/>
<line x1="77.70" y1="357.50" x2="77.70" y2="358.60" stroke="#333" stroke-width="0.45"/>
<line x1="79.61" y1="357.50" x2="79.61" y2="358.60" stroke="#333" stroke-width="0.45"/>
<line x1="81.52" y1="357.50" x2="81.52" y2="358.60" stroke="#333" stroke-width="0.45"/>
<line x1="83.43" y1="357.50" x2="83.43" y2="358.60" stroke="#333" stroke-width="0.45"/>
<line x1="85.34" y1="357.50" x2="85.34" y2="358.60" stroke="#333" stroke-width="0.45"/>
<line x1="87.25" y1="357.50" x2="87.25" y2="359.30" stroke="#333" stroke-width="0.45"/>
<line x1="89.16" y1="357.50" x2="89.16" y2="358.60" stroke="#333" stroke-width="0.45"/>
<line x1="91.06" y1="357.50" x2="91.06" y2="358.60" stroke="#333" stroke-width="0.45"/>
<line x1="92.97" y1="357.50" x2="92.97" y2="358.60" stroke="#333" stroke-width="0.45"/>
<line x1="94.88" y1="357.50" x2="94.88" y2="358.60" stroke="#333" stroke-width="0.45"/>
<line x1="96.79" y1="357.50" x2="96.79" y2="358.60" stroke="#333" stroke-width="0.45"/>
<line x1="109.70" y1="300.40" x2="109.70" y2="357.80" stroke="#888" stroke-width="0.5"/>
<line x1="109.70" y1="357.80" x2="175.00" y2="357.80" stroke="#888" stroke-width="0.5"/>
<line x1="175.00" y1="300.40" x2="175.00" y2="357.80" stroke="#666" stroke-width="0.6"/>
<line x1="109.70" y1="300.40" x2="175.00" y2="300.40" stroke="#666" stroke-width="0.6"/>
<line x1="107.90" y1="345.32" x2="109.70" y2="345.32" stroke="#333" stroke-width="0.55"/>
<line x1="107.90" y1="332.84" x2="109.70" y2="332.84" stroke="#333" stroke-width="0.55"/>
<line x1="107.90" y1="320.37" x2="109.70" y2="320.37" stroke="#333" stroke-width="0.55"/>
<line x1="107.90" y1="307.89" x2="109.70" y2="307.89" stroke="#333" stroke-width="0.55"/>
<line x1="108.70" y1="355.89" x2="109.70" y2="355.89" stroke="#333" stroke-width="0.45"/>
<line x1="108.70" y1="353.97" x2="109.70" y2="353.97" stroke="#333" stroke-width="0.45"/>
<line x1="108.70" y1="352.06" x2="109.70" y2="352.06" stroke="#333" stroke-width="0.45"/>
<line x1="108.70" y1="350.15" x2="109.70" y2="350.15" stroke="#333" stroke-width="0.45"/>
<line x1="108.70" y1="348.23" x2="109.70" y2="348.23" stroke="#333" stroke-width="0.45"/>
<line x1="108.70" y1="346.32" x2="109.70" y2="346.32" stroke="#333" stroke-width="0.45"/>
<line x1="108.70" y1="344.41" x2="109.70" y2="344.41" stroke="#333" stroke-width="0.45"/>
<line x1="108.70" y1="342.49" x2="109.70" y2="342.49" stroke="#333" stroke-width="0.45"/>
<line x1="108.70" y1="340.58" x2="109.70" y2="340.58" stroke="#333" stroke-width="0.45"/>
<line x1="108.70" y1="338.67" x2="109.70" y2="338.67" stroke="#333" stroke-width="0.45"/>
<line x1="108.70" y1="336.75" x2="109.70" y2="336.75" stroke="#333" stroke-width="0.45"/>
<line x1="108.70" y1="334.84" x2="109.70" y2="334.84" stroke="#333" stroke-width="0.45"/>
<line x1="108.70" y1="332.93" x2="109.70" y2="332.93" stroke="#333" stroke-width="0.45"/>
<line x1="108.70" y1="331.01" x2="109.70" y2="331.01" stroke="#333" stroke-width="0.45"/>
<line x1="108.70" y1="329.10" x2="109.70" y2="329.10" stroke="#333" stroke-width="0.45"/>
<line x1="108.70" y1="327.19" x2="109.70" y2="327.19" stroke="#333" stroke-width="0.45"/>
<line x1="108.70" y1="325.27" x2="109.70" y2="325.27" stroke="#333" stroke-width="0.45"/>
<line x1="108.70" y1="323.36" x2="109.70" y2="323.36" stroke="#333" stroke-width="0.45"/>
<line x1="108.70" y1="321.45" x2="109.70" y2="321.45" stroke="#333" stroke-width="0.45"/>
<line x1="108.70" y1="319.53" x2="109.70" y2="319.53" stroke="#333" stroke-width="0.45"/>
<line x1="108.70" y1="317.62" x2="109.70" y2="317.62" stroke="#333" stroke-width="0.45"/>
<line x1="108.70" y1="315.71" x2="109.70" y2="315.71" stroke="#333" stroke-width="0.45"/>
<line x1="108.70" y1="313.79" x2="109.70" y2="313.79" stroke="#333" stroke-width="0.45"/>
<line x1="108.70" y1="311.88" x2="109.70" y2="311.88" stroke="#333" stroke-width="0.45"/>
<line x1="108.70" y1="309.97" x2="109.70" y2="309.97" stroke="#333" stroke-width="0.45"/>
<line x1="108.70" y1="308.05" x2="109.70" y2="308.05" stroke="#333" stroke-width="0.45"/>
<line x1="108.70" y1="306.14" x2="109.70" y2="306.14" stroke="#333" stroke-width="0.45"/>
<line x1="108.70" y1="304.23" x2="109.70" y2="304.23" stroke="#333" stroke-width="0.45"/>
<line x1="108.70" y1="302.31" x2="109.70" y2="302.31" stroke="#333" stroke-width="0.45"/>
<line x1="111.62" y1="357.80" x2="111.62" y2="358.90" stroke="#333" stroke-width="0.45"/>
<line x1="113.54" y1="357.80" x2="113.54" y2="358.90" stroke="#333" stroke-width="0.45"/>
<line x1="115.46" y1="357.80" x2="115.46" y2="358.90" stroke="#333" stroke-width="0.45"/>
<line x1="117.38" y1="357.80" x2="117.38" y2="358.90" stroke="#333" stroke-width="0.45"/>
<line x1="119.30" y1="357.80" x2="119.30" y2="358.90" stroke="#333" stroke-width="0.45"/>
<line x1="121.22" y1="357.80" x2="121.22" y2="358.90" stroke="#333" stroke-width="0.45"/>
<line x1="123.14" y1="357.80" x2="123.14" y2="359.60" stroke="#333" stroke-width="0.45"/>
<line x1="125.06" y1="357.80" x2="125.06" y2="358.90" stroke="#333" stroke-width="0.45"/>
<line x1="126.99" y1="357.80" x2="126.99" y2="358.90" stroke="#333" stroke-width="0.45"/>
<line x1="128.91" y1="357.80" x2="128.91" y2="358.90" stroke="#333" stroke-width="0.45"/>
<line x1="130.83" y1="357.80" x2="130.83" y2="358.90" stroke="#333" stroke-width="0.45"/>
<line x1="132.75" y1="357.80" x2="132.75" y2="358.90" stroke="#333" stroke-width="0.45"/>
<line x1="134.67" y1="357.80" x2="134.67" y2="358.90" stroke="#333" stroke-width="0.45"/>
<line x1="136.59" y1="357.80" x2="136.59" y2="359.60" stroke="#333" stroke-width="0.45"/>
<line x1="138.51" y1="357.80" x2="138.51" y2="358.90" stroke="#333" stroke-width="0.45"/>
<line x1="140.43" y1="357.80" x2="140.43" y2="358.90" stroke="#333" stroke-width="0.45"/>
<line x1="142.35" y1="357.80" x2="142.35" y2="358.90" stroke="#333" stroke-width="0.45"/>
<line x1="144.27" y1="357.80" x2="144.27" y2="358.90" stroke="#333" stroke-width="0.45"/>
<line x1="146.19" y1="357.80" x2="146.19" y2="358.90" stroke="#333" stroke-width="0.45"/>
<line x1="148.11" y1="357.80" x2="148.11" y2="358.90" stroke="#333" stroke-width="0.45"/>
<line x1="150.03" y1="357.80" x2="150.03" y2="359.60" stroke="#333" stroke-width="0.45"/>
<line x1="151.95" y1="357.80" x2="151.95" y2="358.90" stroke="#333" stroke-width="0.45"/>
<line x1="153.87" y1="357.80" x2="153.87" y2="358.90" stroke="#333" stroke-width="0.45"/>
<line x1="155.79" y1="357.80" x2="155.79" y2="358.90" stroke="#333" stroke-width="0.45"/>
<line x1="157.71" y1="357.80" x2="157.71" y2="358.90" stroke="#333" stroke-width="0.45"/>
<line x1="159.64" y1="357.80" x2="159.64" y2="358.90" stroke="#333" stroke-width="0.45"/>
<line x1="161.56" y1="357.80" x2="161.56" y2="358.90" stroke="#333" stroke-width="0.45"/>
<line x1="163.48" y1="357.80" x2="163.48" y2="359.60" stroke="#333" stroke-width="0.45"/>
<line x1="165.40" y1="357.80" x2="165.40" y2="358.90" stroke="#333" stroke-width="0.45"/>
<line x1="167.32" y1="357.80" x2="167.32" y2="358.90" stroke="#333" stroke-width="0.45"/>
<line x1="169.24" y1="357.80" x2="169.24" y2="358.90" stroke="#333" stroke-width="0.45"/>
<line x1="171.16" y1="357.80" x2="171.16" y2="358.90" stroke="#333" stroke-width="0.45"/>
<line x1="173.08" y1="357.80" x2="173.08" y2="358.90" stroke="#333" stroke-width="0.45"/>
<line x1="185.90" y1="299.50" x2="185.90" y2="357.10" stroke="#888" stroke-width="0.5"/>
<line x1="185.90" y1="357.10" x2="250.40" y2="357.10" stroke="#888" stroke-width="0.5"/>
<line x1="250.40" y1="299.50" x2="250.40" y2="357.10" stroke="#666" stroke-width="0.6"/>
<line x1="185.90" y1="299.50" x2="250.40" y2="299.50" stroke="#666" stroke-width="0.6"/>
<line x1="184.10" y1="344.58" x2="185.90" y2="344.58" stroke="#333" stroke-width="0.55"/>
<line x1="184.10" y1="332.06" x2="185.90" y2="332.06" stroke="#333" stroke-width="0.55"/>
<line x1="184.10" y1="319.53" x2="185.90" y2="319.53" stroke="#333" stroke-width="0.55"/>
<line x1="184.10" y1="307.01" x2="185.90" y2="307.01" stroke="#333" stroke-width="0.55"/>
<line x1="184.90" y1="355.18" x2="185.90" y2="355.18" stroke="#333" stroke-width="0.45"/>
<line x1="184.90" y1="353.26" x2="185.90" y2="353.26" stroke="#333" stroke-width="0.45"/>
<line x1="184.90" y1="351.34" x2="185.90" y2="351.34" stroke="#333" stroke-width="0.45"/>
<line x1="184.90" y1="349.42" x2="185.90" y2="349.42" stroke="#333" stroke-width="0.45"/>
<line x1="184.90" y1="347.50" x2="185.90" y2="347.50" stroke="#333" stroke-width="0.45"/>
<line x1="184.90" y1="345.58" x2="185.90" y2="345.58" stroke="#333" stroke-width="0.45"/>
<line x1="184.90" y1="343.66" x2="185.90" y2="343.66" stroke="#333" stroke-width="0.45"/>
<line x1="184.90" y1="341.74" x2="185.90" y2="341.74" stroke="#333" stroke-width="0.45"/>
<line x1="184.90" y1="339.82" x2="185.90" y2="339.82" stroke="#333" stroke-width="0.45"/>
<line x1="184.90" y1="337.90" x2="185.90" y2="337.90" stroke="#333" stroke-width="0.45"/>
<line x1="184.90" y1="335.98" x2="185.90" y2="335.98" stroke="#333" stroke-width="0.45"/>
<line x1="184.90" y1="334.06" x2="185.90" y2="334.06" stroke="#333" stroke-width="0.45"/>
<line x1="184.90" y1="332.14" x2="185.90" y2="332.14" stroke="#333" stroke-width="0.45"/>
<line x1="184.90" y1="330.22" x2="185.90" y2="330.22" stroke="#333" stroke-width="0.45"/>
<line x1="184.90" y1="328.30" x2="185.90" y2="328.30" stroke="#333" stroke-width="0.45"/>
<line x1="184.90" y1="326.38" x2="185.90" y2="326.38" stroke="#333" stroke-width="0.45"/>
<line x1="184.90" y1="324.46" x2="185.90" y2="324.46" stroke="#333" stroke-width="0.45"/>
<line x1="184.90" y1="322.54" x2="185.90" y2="322.54" stroke="#333" stroke-width="0.45"/>
<line x1="184.90" y1="320.62" x2="185.90" y2="320.62" stroke="#333" stroke-width="0.45"/>
<line x1="184.90" y1="318.70" x2="185.90" y2="318.70" stroke="#333" stroke-width="0.45"/>
<line x1="184.90" y1="316.78" x2="185.90" y2="316.78" stroke="#333" stroke-width="0.45"/>
<line x1="184.90" y1="314.86" x2="185.90" y2="314.86" stroke="#333" stroke-width="0.45"/>
<line x1="184.90" y1="312.94" x2="185.90" y2="312.94" stroke="#333" stroke-width="0.45"/>
<line x1="184.90" y1="311.02" x2="185.90" y2="311.02" stroke="#333" stroke-width="0.45"/>
<line x1="184.90" y1="309.10" x2="185.90" y2="309.10" stroke="#333" stroke-width="0.45"/>
<line x1="184.90" y1="307.18" x2="185.90" y2="307.18" stroke="#333" stroke-width="0.45"/>
<line x1="184.90" y1="305.26" x2="185.90" y2="305.26" stroke="#333" stroke-width="0.45"/>
<line x1="184.90" y1="303.34" x2="185.90" y2="303.34" stroke="#333" stroke-width="0.45"/>
<line x1="184.90" y1="301.42" x2="185.90" y2="301.42" stroke="#333" stroke-width="0.45"/>
<line x1="187.80" y1="357.10" x2="187.80" y2="358.20" stroke="#333" stroke-width="0.45"/>
<line x1="189.69" y1="357.10" x2="189.69" y2="358.20" stroke="#333" stroke-width="0.45"/>
<line x1="191.59" y1="357.10" x2="191.59" y2="358.20" stroke="#333" stroke-width="0.45"/>
<line x1="193.49" y1="357.10" x2="193.49" y2="358.20" stroke="#333" stroke-width="0.45"/>
<line x1="195.39" y1="357.10" x2="195.39" y2="358.20" stroke="#333" stroke-width="0.45"/>
<line x1="197.28" y1="357.10" x2="197.28" y2="358.20" stroke="#333" stroke-width="0.45"/>
<line x1="199.18" y1="357.10" x2="199.18" y2="358.90" stroke="#333" stroke-width="0.45"/>
<line x1="201.08" y1="357.10" x2="201.08" y2="358.20" stroke="#333" stroke-width="0.45"/>
<line x1="202.97" y1="357.10" x2="202.97" y2="358.20" stroke="#333" stroke-width="0.45"/>
<line x1="204.87" y1="357.10" x2="204.87" y2="358.20" stroke="#333" stroke-width="0.45"/>
<line x1="206.77" y1="357.10" x2="206.77" y2="358.20" stroke="#333" stroke-width="0.45"/>
<line x1="208.66" y1="357.10" x2="208.66" y2="358.20" stroke="#333" stroke-width="0.45"/>
<line x1="210.56" y1="357.10" x2="210.56" y2="358.20" stroke="#333" stroke-width="0.45"/>
<line x1="212.46" y1="357.10" x2="212.46" y2="358.90" stroke="#333" stroke-width="0.45"/>
<line x1="214.36" y1="357.10" x2="214.36" y2="358.20" stroke="#333" stroke-width="0.45"/>
<line x1="216.25" y1="357.10" x2="216.25" y2="358.20" stroke="#333" stroke-width="0.45"/>
<line x1="218.15" y1="357.10" x2="218.15" y2="358.20" stroke="#333" stroke-width="0.45"/>
<line x1="220.05" y1="357.10" x2="220.05" y2="358.20" stroke="#333" stroke-width="0.45"/>
<line x1="221.94" y1="357.10" x2="221.94" y2="358.20" stroke="#333" stroke-width="0.45"/>
<line x1="223.84" y1="357.10" x2="223.84" y2="358.20" stroke="#333" stroke-width="0.45"/>
<line x1="225.74" y1="357.10" x2="225.74" y2="358.90" stroke="#333" stroke-width="0.45"/>
<line x1="227.64" y1="357.10" x2="227.64" y2="358.20" stroke="#333" stroke-width="0.45"/>
<line x1="229.53" y1="357.10" x2="229.53" y2="358.20" stroke="#333" stroke-width="0.45"/>
<line x1="231.43" y1="357.10" x2="231.43" y2="358.20" stroke="#333" stroke-width="0.45"/>
<line x1="233.33" y1="357.10" x2="233.33" y2="358.20" stroke="#333" stroke-width="0.45"/>
<line x1="235.22" y1="357.10" x2="235.22" y2="358.20" stroke="#333" stroke-width="0.45"/>
<line x1="237.12" y1="357.10" x2="237.12" y2="358.20" stroke="#333" stroke-width="0.45"/>
<line x1="239.02" y1="357.10" x2="239.02" y2="358.90" stroke="#333" stroke-width="0.45"/>
<line x1="240.91" y1="357.10" x2="240.91" y2="358.20" stroke="#333" stroke-width="0.45"/>
<line x1="242.81" y1="357.10" x2="242.81" y2="358.20" stroke="#333" stroke-width="0.45"/>
<line x1="244.71" y1="357.10" x2="244.71" y2="358.20" stroke="#333" stroke-width="0.45"/>
<line x1="246.61" y1="357.10" x2="246.61" y2="358.20" stroke="#333" stroke-width="0.45"/>
<line x1="248.50" y1="357.10" x2="248.50" y2="358.20" stroke="#333" stroke-width="0.45"/>
<path transform="scale(.5)" d="M155 684h2M87 673h2M155 666h2M113 698h2M144 656h2M176 708h2M146 675h2M157 700h2M164 667h2M128 673h2M124 652h2M112 693h2M128 662h2M116 691h2M136 693h2M170 618h2M156 621h2M122 627h2M81 698h2M175 635h2M130 641h2M111 692h2M104 685h2M107 665h2M117 704h2M129 664h2M142 611h2M176 662h2M168 683h2M123 686h2M179 687h2M182 631h2M81 688h2M187 694h2M185 698h2M83 696h2M121 692h2M100 650h2M140 644h2M116 699h2M162 704h2M81 643h2M189 708h2M180 630h2M127 710h2M114 647h2M162 702h2M106 649h2M90 678h2M155 666h2" stroke="#aaa" stroke-width="1.6" stroke-opacity="0.4" fill="none"/>
<ellipse cx="46.5" cy="319.5" rx="6" ry="2.6" transform="rotate(-5 46.5 319.5)" fill="#999" fill-opacity="0.5" filter="url(#bl2)"/>
<path transform="scale(.5)" d="M97 635h2M106 637h2M101 640h2M102 640h2M98 639h2M86 635h2M78 644h2M87 641h2M76 639h2M115 644h2M100 639h2M101 646h2M83 640h2M88 630h2M95 643h2M88 636h2M106 636h2M91 638h2M91 640h2M102 640h2M113 634h2M96 638h2M115 632h2M93 642h2M86 640h2M95 641h2M95 635h2M101 631h2M84 637h2M92 640h2M126 641h2M93 640h2M107 640h2M91 633h2M74 643h2M104 638h2M117 638h2M83 642h2M84 644h2M90 638h2M93 644h2M80 645h2M109 641h2M94 642h2M89 637h2M104 633h2M97 637h2M90 639h2M89 644h2M86 636h2M81 640h2M95 639h2M94 635h2M97 642h2M80 640h2M93 638h2M86 638h2M84 645h2M81 637h2M79 641h2M84 642h2M94 640h2M100 638h2M89 640h2M102 635h2M91 645h2M97 643h2M99 633h2M89 635h2M96 639h2M100 639h2M90 643h2M80 635h2M102 640h2M99 636h2M100 641h2M94 639h2M92 641h2M81 645h2M84 637h2M105 638h2M78 641h2M88 641h2M82 640h2M90 645h2M84 643h2M102 640h2M91 641h2M86 643h2M78 645h2M89 638h2M96 645h2M93 646h2M92 641h2M81 640h2M92 637h2M80 638h2M97 641h2M109 631h2M110 641h2M93 643h2M96 634h2M99 634h2M100 634h2M78 644h2M88 637h2M110 638h2M108 637h2M92 633h2M105 637h2M102 636h2M76 642h2M102 631h2M82 644h2M108 637h2M96 641h2M97 635h2M104 644h2M95 639h2M88 641h2" stroke="#888" stroke-width="1.6" stroke-opacity="0.45" fill="none"/>
<path transform="scale(.5)" d="M116 670h2M82 659h2M114 679h2M101 650h2M85 697h2M92 664h2M121 692h2M99 679h2M113 682h2M99 677h2M114 695h2M112 654h2M92 665h2M117 695h2M113 661h2M101 675h2M119 679h2M117 671h2M134 661h2M104 689h2M118 662h2M96 672h2M118 687h2M84 673h2M109 689h2M115 692h2M100 668h2M108 680h2M141 677h2M104 663h2M109 670h2M115 675h2M94 664h2M97 676h2M104 659h2M115 672h2M115 679h2M100 692h2M118 661h2M103 659h2M97 674h2M98 673h2M113 690h2M114 688h2M97 671h2M120 669h2M113 677h2M114 690h2M108 669h2M95 698h2M119 660h2M85 647h2M106 668h2M70 679h2M106 699h2M107 658h2M107 677h2M90 659h2M97 675h2M121 667h2M111 697h2M92 662h2M97 682h2M92 689h2M97 668h2M111 686h2M100 674h2M118 698h2M98 686h2M121 684h2M108 679h2M90 674h2M94 669h2M109 700h2M110 671h2M123 664h2M119 666h2M111 700h2M104 667h2M104 683h2M75 701h2M91 681h2M115 666h2M102 689h2M100 684h2M105 675h2M108 680h2M102 689h2M107 677h2M73 656h2M117 684h2M110 691h2M80 674h2M116 686h2M121 685h2M104 693h2M96 671h2M130 672h2M126 666h2M106 688h2M82 675h2M74 667h2M104 676h2M120 664h2M130 672h2M91 680h2M116 686h2M114 666h2M79 696h2M108 681h2" stroke="#c4c4c4" stroke-width="1.6" stroke-opacity="0.4" fill="none"/>
<path d="M51.8,316.6L56.9,314.5L64.0,313.5L70.6,313.4L72.3,315.0L68.4,318.8L62.6,322.4L56.9,325.0L52.5,324.6L50.8,321.0Z" fill="#f3b75a" fill-opacity="0.55" filter="url(#bl3)"/>
<path d="M51.8,316.6L56.9,314.5L64.0,313.5L70.6,313.4L72.3,315.0L68.4,318.8L62.6,322.4L56.9,325.0L52.5,324.6L50.8,321.0Z" fill="#ec9a1e" fill-opacity="0.97" filter="url(#bl1)"/>
<path transform="scale(.5)" d="M134 639h2M108 633h2M102 636h2M128 636h2M120 633h2M122 636h2M122 641h2M123 641h2M122 645h2M139 631h2M123 637h2M119 645h2M120 625h2M135 638h2M108 643h2M119 640h2M126 651h2M136 646h2M132 633h2M137 643h2M119 642h2M130 639h2M127 626h2M134 640h2M122 647h2M127 648h2M126 640h2M130 638h2M134 631h2M114 637h2M131 633h2M125 635h2M113 638h2M120 635h2M136 637h2M130 637h2M119 629h2M121 634h2M130 635h2M121 629h2M130 637h2M99 643h2M115 642h2M146 627h2M140 638h2M116 634h2M115 642h2M122 642h2M125 637h2M123 641h2M116 640h2M115 642h2M130 640h2M120 634h2M118 643h2M117 641h2M127 641h2M116 648h2M110 648h2M128 643h2M120 641h2M114 638h2M107 644h2M120 646h2M138 627h2M136 636h2M109 633h2M122 636h2M132 632h2M136 626h2M124 640h2M140 637h2M119 642h2M127 639h2M117 637h2M109 636h2M126 640h2M118 644h2M110 639h2M116 634h2M112 643h2M119 639h2M120 634h2M134 633h2M142 645h2M133 632h2M162 625h2M128 632h2M102 643h2M127 637h2M137 638h2M134 646h2M121 642h2M132 634h2M129 643h2M109 644h2M128 642h2M126 640h2M132 644h2M123 640h2M120 644h2M114 632h2M110 639h2M112 639h2M123 639h2M118 647h2M131 637h2M132 634h2M126 643h2M128 637h2M108 641h2M117 644h2M124 639h2M108 645h2M130 644h2M129 624h2M143 643h2M134 636h2M118 634h2M124 645h2" stroke="#ec9a1e" stroke-width="1.6" stroke-opacity="0.5" fill="none"/>
<path transform="scale(.5)" d="M232 629h2M320 644h2M280 695h2M283 658h2M336 663h2M282 652h2M289 623h2M343 616h2M246 695h2M305 709h2M309 693h2M268 688h2M282 611h2M260 654h2M329 702h2M343 659h2M296 695h2M247 617h2M269 669h2M262 623h2M285 663h2M331 704h2M340 615h2M238 652h2M230 654h2M272 702h2M337 703h2M266 631h2M281 674h2M228 616h2M256 650h2M256 674h2M306 635h2M237 666h2M297 690h2M256 642h2M302 617h2M256 672h2M288 695h2M273 649h2M237 699h2M332 616h2M340 665h2M268 649h2M241 667h2M288 679h2M269 618h2M317 659h2M297 687h2M267 704h2" stroke="#aaa" stroke-width="1.6" stroke-opacity="0.4" fill="none"/>
<path transform="scale(.5)" d="M246 634h2M229 642h2M259 647h2M258 637h2M253 637h2M251 641h2M269 639h2M265 644h2M225 636h2M249 643h2M224 643h2M230 643h2M237 644h2M257 635h2M252 642h2M233 644h2M253 645h2M239 641h2M274 643h2M265 639h2M239 638h2M241 641h2M264 639h2M266 639h2M277 640h2M235 642h2M244 639h2M260 644h2M263 636h2M263 634h2M250 640h2M234 643h2M229 639h2M231 645h2M263 641h2M247 639h2M264 644h2M236 638h2M267 637h2M256 645h2M221 643h2M256 645h2M270 639h2M254 643h2M268 643h2M255 637h2M253 642h2M253 637h2M235 642h2M234 645h2M259 640h2M269 643h2M255 643h2M277 639h2M263 644h2M233 644h2M244 639h2M241 642h2M237 638h2M247 641h2M233 638h2M229 639h2M262 643h2M231 641h2M242 643h2M252 635h2M226 642h2M241 644h2M233 634h2M288 648h2M239 647h2M237 638h2M259 633h2M227 636h2M271 637h2M247 642h2M250 643h2M262 643h2M238 642h2M251 643h2M266 641h2M237 633h2M255 641h2M260 638h2M243 639h2M231 637h2M242 639h2M259 643h2M257 640h2M255 641h2M223 638h2M244 644h2M225 648h2M245 639h2M248 640h2M248 636h2M255 643h2M284 641h2M252 647h2M234 645h2M250 639h2M231 650h2M247 644h2M253 634h2M245 640h2M270 645h2M226 641h2M242 645h2M263 638h2M253 641h2M244 641h2M243 646h2M241 650h2M242 639h2M246 638h2M280 640h2M250 637h2M227 647h2M227 641h2M253 641h2M260 645h2M243 644h2M266 642h2M273 638h2M272 639h2M251 644h2M261 652h2M244 646h2M228 645h2M245 641h2M241 637h2M230 642h2M241 641h2M235 645h2M239 645h2M225 642h2M256 643h2M241 637h2M269 636h2M272 649h2M231 644h2M267 636h2M233 647h2M263 646h2M238 640h2M233 634h2M244 648h2M251 646h2M241 637h2M233 634h2M231 634h2M246 647h2M238 642h2M244 641h2M240 642h2M222 642h2M247 643h2M233 640h2M245 639h2M230 645h2M238 642h2M238 638h2M272 639h2M247 642h2M254 643h2M221 642h2M226 641h2M257 634h2M257 643h2M223 646h2M262 639h2M227 644h2M234 634h2M234 642h2M265 639h2M242 641h2M242 640h2M259 643h2M264 635h2M263 638h2M229 642h2M253 645h2M228 642h2M263 637h2M274 641h2M258 640h2M257 643h2M241 636h2M251 637h2M254 643h2M244 643h2M251 639h2M243 648h2M235 639h2M229 641h2M243 641h2M246 633h2M250 638h2M246 644h2M239 639h2" stroke="#888" stroke-width="1.6" stroke-opacity="0.5" fill="none"/>
<ellipse cx="124" cy="342" rx="7" ry="4.5" transform="rotate(0 124 342)" fill="#888" fill-opacity="0.5" filter="url(#bl3)"/>
<path transform="scale(.5)" d="M243 667h2M251 687h2M241 684h2M243 682h2M254 681h2M273 688h2M235 688h2M257 668h2M256 679h2M246 681h2M232 681h2M248 683h2M235 683h2M248 676h2M258 685h2M258 682h2M251 694h2M253 683h2M245 690h2M250 680h2M243 689h2M240 684h2M252 670h2M259 682h2M242 690h2M248 685h2M256 690h2M251 688h2M238 679h2M258 683h2M241 693h2M261 688h2M248 694h2M245 677h2M250 682h2M252 679h2M265 684h2M255 690h2M277 681h2M245 688h2M255 687h2M253 693h2M261 691h2M226 682h2M240 680h2M244 698h2M253 676h2M251 690h2M264 684h2M246 678h2M248 683h2M235 678h2M268 692h2M233 695h2M258 673h2M247 687h2M224 680h2M244 691h2M243 686h2M253 675h2M234 689h2M255 690h2M247 679h2M229 698h2M229 684h2M250 672h2M247 688h2M253 679h2M241 682h2M250 684h2M241 681h2M253 677h2M229 684h2M252 689h2M260 688h2M249 692h2M255 670h2M270 686h2M247 680h2M244 676h2M254 680h2M252 673h2M258 689h2M259 688h2M256 685h2M253 691h2M250 675h2M250 686h2M269 687h2M236 680h2M247 699h2M256 682h2M241 691h2M250 687h2M243 685h2M265 694h2M251 680h2M246 674h2M254 676h2M251 682h2M255 692h2M252 688h2M248 673h2M250 692h2M259 684h2M264 676h2M260 686h2M251 687h2M266 678h2M261 687h2M248 684h2M239 683h2M256 689h2M246 693h2M244 685h2M261 679h2M250 690h2M262 690h2M233 694h2M242 691h2M245 687h2M235 698h2M246 697h2M255 689h2M232 680h2M258 686h2M249 696h2M251 681h2M246 678h2M251 687h2M246 683h2M248 686h2M257 684h2M243 679h2M245 681h2M252 680h2M245 695h2M243 675h2M242 683h2M248 688h2M254 687h2M236 694h2M242 682h2M248 687h2M249 675h2M259 677h2M238 684h2M248 684h2M241 680h2M241 681h2M253 689h2M258 690h2M226 679h2M238 686h2M237 686h2M262 680h2M248 691h2M240 681h2M257 682h2M258 676h2M253 687h2M234 680h2M242 688h2M242 685h2M236 696h2M258 687h2M244 685h2M233 684h2M225 679h2M249 696h2M258 691h2M267 685h2M256 682h2M254 685h2M225 683h2M265 677h2M254 695h2M246 686h2M243 678h2M258 683h2M243 690h2M256 690h2M271 682h2M250 680h2M244 690h2M254 686h2M258 680h2M243 686h2M245 664h2M252 690h2M243 672h2M262 686h2M250 686h2M250 679h2M245 688h2M242 682h2M254 683h2M248 680h2M260 680h2M233 674h2M249 683h2M250 686h2M256 695h2M246 681h2M238 693h2M221 683h2M265 673h2M241 685h2M256 691h2M244 687h2M252 683h2M251 681h2M248 685h2M256 681h2M248 685h2M243 686h2M245 688h2M247 687h2M244 683h2M234 672h2M264 695h2M244 689h2M225 687h2M246 676h2M256 691h2M245 686h2M249 675h2M238 671h2M240 681h2M241 678h2M249 685h2M247 683h2M245 679h2M265 683h2M251 691h2M235 682h2M256 682h2M255 690h2M249 693h2M260 684h2" stroke="#777" stroke-width="1.6" stroke-opacity="0.5" fill="none"/>
<path d="M135.0,320.4L138.1,318.1L142.7,316.9L147.3,316.5L150.8,318.1L151.2,321.2L149.6,325.0L146.5,328.8L143.5,331.2L139.6,330.4L136.5,328.1L134.6,324.2Z" fill="#f3b75a" fill-opacity="0.55" filter="url(#bl3)"/>
<path d="M135.0,320.4L138.1,318.1L142.7,316.9L147.3,316.5L150.8,318.1L151.2,321.2L149.6,325.0L146.5,328.8L143.5,331.2L139.6,330.4L136.5,328.1L134.6,324.2Z" fill="#ec9a1e" fill-opacity="0.97" filter="url(#bl1)"/>
<path transform="scale(.5)" d="M296 657h2M285 637h2M289 655h2M276 637h2M290 655h2M287 649h2M281 645h2M300 632h2M278 656h2M292 648h2M283 651h2M288 647h2M278 644h2M314 645h2M312 646h2M289 653h2M279 651h2M293 639h2M281 640h2M294 645h2M294 654h2M280 645h2M271 660h2M288 642h2M290 652h2M291 638h2M293 649h2M297 653h2M271 644h2M274 651h2M285 651h2M300 634h2M291 660h2M286 645h2M288 639h2M291 658h2M292 640h2M292 646h2M287 643h2M304 639h2M285 663h2M287 651h2M300 651h2M297 650h2M281 649h2M279 645h2M289 643h2M267 646h2M288 642h2M284 642h2M291 646h2M295 652h2M276 649h2M285 649h2M286 635h2M281 665h2M284 652h2M288 650h2M285 646h2M298 657h2M285 644h2M271 667h2M293 641h2M275 631h2M275 650h2M285 640h2M297 646h2M274 647h2M280 675h2M296 662h2M291 657h2M296 638h2M280 645h2M281 652h2M274 652h2M292 650h2M305 642h2M285 662h2M293 633h2M283 649h2M279 641h2M273 654h2M282 657h2M298 640h2M288 642h2M277 652h2M294 643h2M287 667h2M287 653h2M288 656h2M280 652h2M287 634h2M294 663h2M288 646h2M290 638h2M274 663h2M290 647h2M287 647h2M281 649h2M298 653h2" stroke="#ec9a1e" stroke-width="1.6" stroke-opacity="0.5" fill="none"/>
<path transform="scale(.5)" d="M388 623h2M431 652h2M462 615h2M454 698h2M478 664h2M404 702h2M472 657h2M424 627h2M472 692h2M382 613h2M417 642h2M471 626h2M467 690h2M420 673h2M395 691h2M481 683h2M387 685h2M453 702h2M467 698h2M380 646h2M413 661h2M417 633h2M442 701h2M448 698h2M418 620h2M444 680h2M471 651h2M437 698h2M404 624h2M399 660h2M469 696h2M399 643h2M402 671h2M481 620h2M453 686h2M396 675h2M473 619h2M449 618h2M465 634h2M398 616h2M379 698h2M464 617h2M434 644h2M417 674h2M425 660h2M485 695h2M421 690h2M407 699h2M467 652h2M488 675h2" stroke="#aaa" stroke-width="1.6" stroke-opacity="0.4" fill="none"/>
<ellipse cx="201" cy="329.5" rx="6" ry="2.6" transform="rotate(0 201 329.5)" fill="#999" fill-opacity="0.5" filter="url(#bl2)"/>
<path transform="scale(.5)" d="M412 663h2M419 660h2M399 653h2M392 661h2M414 653h2M401 659h2M395 650h2M392 661h2M408 660h2M409 654h2M385 655h2M419 654h2M400 656h2M411 654h2M398 653h2M406 659h2M399 658h2M400 656h2M424 663h2M410 660h2M389 662h2M407 660h2M405 664h2M424 656h2M407 659h2M400 658h2M395 661h2M409 668h2M384 659h2M398 671h2M404 658h2M393 654h2M386 654h2M411 666h2M376 658h2M398 661h2M383 655h2M407 663h2M396 651h2M399 662h2M398 657h2M406 659h2M388 664h2M407 656h2M415 664h2M430 666h2M403 656h2M405 661h2M407 657h2M388 655h2M405 662h2M400 663h2M405 657h2M405 657h2M394 658h2M402 662h2M399 649h2M405 661h2M398 659h2M390 653h2M412 660h2M409 657h2M412 660h2M387 657h2M399 659h2M393 655h2M391 659h2M410 662h2M416 665h2M402 656h2M399 656h2M396 656h2M401 653h2M395 667h2M399 659h2M398 658h2M409 657h2M395 659h2M396 659h2M407 661h2M403 653h2M407 664h2M397 661h2M409 663h2M410 660h2M410 655h2M409 658h2M393 653h2M391 660h2M384 657h2M395 659h2M390 660h2M393 660h2M409 655h2M406 660h2M413 648h2M409 656h2M409 659h2M404 657h2M406 668h2M395 660h2M406 666h2M400 661h2M390 662h2M398 653h2M401 661h2M393 656h2M399 657h2M406 655h2M408 656h2M424 654h2M411 656h2M404 658h2M399 655h2M406 663h2M391 653h2M419 655h2M392 660h2M404 665h2M403 665h2M407 660h2M389 661h2M383 662h2M421 661h2M412 660h2M392 660h2M386 662h2M394 658h2M392 666h2M402 661h2M399 659h2M396 656h2M396 664h2M397 659h2M421 661h2M412 658h2M408 663h2M399 664h2M414 650h2M423 663h2M417 668h2M411 660h2M414 656h2M386 658h2M408 656h2M413 654h2M397 667h2M398 663h2M389 657h2M415 652h2" stroke="#888" stroke-width="1.6" stroke-opacity="0.5" fill="none"/>
<ellipse cx="204" cy="346.5" rx="9.5" ry="4.0" transform="rotate(0 204 346.5)" fill="#808080" fill-opacity="0.6" filter="url(#bl3)"/>
<path transform="scale(.5)" d="M404 685h2M408 685h2M400 690h2M394 694h2M420 692h2M399 703h2M425 691h2M409 690h2M404 692h2M406 683h2M388 694h2M400 695h2M391 699h2M411 689h2M405 697h2M402 693h2M421 693h2M415 688h2M413 693h2M413 708h2M413 692h2M399 700h2M392 690h2M422 685h2M395 691h2M420 699h2M413 689h2M426 698h2M430 697h2M401 696h2M396 704h2M406 683h2M399 696h2M407 698h2M400 691h2M416 691h2M411 688h2M412 700h2M410 707h2M392 686h2M409 683h2M400 694h2M396 692h2M391 698h2M412 684h2M421 690h2M415 682h2M391 699h2M421 697h2M397 695h2M434 691h2M416 691h2M404 696h2M396 699h2M421 692h2M406 685h2M413 697h2M406 690h2M403 691h2M445 695h2M392 699h2M406 684h2M438 687h2M404 694h2M426 692h2M428 691h2M403 690h2M399 691h2M430 691h2M413 694h2M407 691h2M413 693h2M380 690h2M382 699h2M403 691h2M424 687h2M396 687h2M415 694h2M405 697h2M429 686h2M410 689h2M406 694h2M392 682h2M421 691h2M419 688h2M419 693h2M422 691h2M395 686h2M408 696h2M396 696h2M415 686h2M403 694h2M416 696h2M403 692h2M417 698h2M408 700h2M415 689h2M420 694h2M418 699h2M421 698h2M431 694h2M394 687h2M379 683h2M402 691h2M407 699h2M415 701h2M412 689h2M417 698h2M393 692h2M414 690h2M431 696h2M420 692h2M406 683h2M402 697h2M402 692h2M382 689h2M408 692h2M400 691h2M418 698h2M417 700h2M395 697h2M414 692h2M411 697h2M397 704h2M409 701h2M397 693h2M405 685h2M421 684h2M418 692h2M415 689h2M408 696h2M398 694h2M411 689h2M410 696h2M406 685h2M400 689h2M412 687h2M417 687h2M414 686h2M407 695h2M404 704h2M404 684h2M408 701h2M398 694h2M411 697h2M408 699h2M394 693h2M393 691h2M388 690h2M398 703h2M410 705h2M408 695h2M416 699h2M398 691h2M424 690h2M408 685h2M391 691h2M401 693h2M424 685h2M407 690h2M408 693h2M395 689h2M380 703h2M398 701h2M393 689h2M390 698h2M406 694h2M375 693h2M411 690h2M413 692h2M424 697h2M392 690h2M412 688h2M411 696h2M402 694h2M403 696h2M407 690h2M425 684h2M411 687h2M389 691h2M385 691h2M439 697h2M412 684h2M380 690h2M393 695h2M391 690h2M437 687h2M418 696h2M439 685h2M400 691h2M414 692h2M426 695h2M395 695h2M429 694h2M406 699h2M399 695h2M425 695h2M409 699h2M429 695h2M439 690h2M390 694h2M409 698h2M436 697h2M411 698h2M389 692h2M407 700h2M417 695h2M412 689h2M395 692h2M407 696h2M419 692h2M410 686h2M423 682h2M404 691h2M400 698h2M412 704h2M409 686h2M426 692h2M415 702h2M429 698h2M400 696h2M414 684h2M399 694h2M420 691h2M406 678h2M436 685h2M412 703h2M392 699h2M397 691h2M391 692h2M410 695h2M420 693h2M393 692h2M386 685h2M403 697h2M399 693h2M416 692h2M401 697h2M411 697h2M395 693h2M414 689h2M415 698h2M396 696h2M410 701h2M386 692h2M418 699h2M411 693h2M403 702h2M416 697h2M414 689h2M428 696h2M417 687h2M425 698h2M424 689h2M380 691h2M410 688h2M403 685h2M408 689h2M396 695h2M397 699h2M403 691h2M404 703h2M411 695h2M405 691h2M383 693h2M427 694h2M414 696h2M414 686h2M416 692h2M411 696h2M412 690h2M395 687h2M435 700h2M431 682h2M403 692h2M400 696h2M394 689h2M418 686h2M396 691h2M417 694h2M407 691h2M407 695h2M432 685h2M410 684h2M430 682h2M408 697h2M413 693h2M406 692h2M388 694h2M400 702h2M411 696h2M407 697h2M405 689h2M406 691h2M412 697h2M413 689h2M412 694h2M402 691h2M406 690h2M396 702h2M405 692h2M390 686h2M394 698h2M406 699h2M401 691h2M402 703h2M400 696h2M393 702h2M407 695h2M424 687h2M410 700h2M416 693h2M399 701h2M420 686h2M411 695h2M414 698h2M415 686h2M402 686h2M401 684h2M416 686h2" stroke="#6a6a6a" stroke-width="1.6" stroke-opacity="0.5" fill="none"/>
<path d="M208.5,328.5L211.2,325.8L215.0,324.2L219.6,323.8L223.5,325.0L224.2,327.3L221.9,330.4L218.1,333.1L214.2,334.6L210.4,333.8L208.5,331.5Z" fill="#f3b75a" fill-opacity="0.55" filter="url(#bl3)"/>
<path d="M208.5,328.5L211.2,325.8L215.0,324.2L219.6,323.8L223.5,325.0L224.2,327.3L221.9,330.4L218.1,333.1L214.2,334.6L210.4,333.8L208.5,331.5Z" fill="#ec9a1e" fill-opacity="0.97" filter="url(#bl1)"/>
<path transform="scale(.5)" d="M418 671h2M428 667h2M420 658h2M431 666h2M428 660h2M419 662h2M427 658h2M430 672h2M413 676h2M427 671h2M423 668h2M415 665h2M441 660h2M420 665h2M428 664h2M419 663h2M428 676h2M426 657h2M424 654h2M415 664h2M427 669h2M414 671h2M426 670h2M420 669h2M431 666h2M422 666h2M430 654h2M422 669h2M431 665h2M427 667h2M421 673h2M414 665h2M421 669h2M412 666h2M419 669h2M413 661h2M431 665h2M421 664h2M427 663h2M416 667h2M428 669h2M431 664h2M430 656h2M425 676h2M426 673h2M415 677h2M432 676h2M429 656h2M416 662h2M439 664h2M429 672h2M424 653h2M425 657h2M430 664h2M421 663h2M428 671h2M424 663h2M431 661h2M417 660h2M417 665h2" stroke="#ec9a1e" stroke-width="1.6" stroke-opacity="0.4" fill="none"/>
<text x="40.0" y="304.1" font-size="8.8" textLength="51.8" lengthAdjust="spacingAndGlyphs" fill="#111" stroke="#111" stroke-width="0.22">Lymphocytes</text>
<text x="67.0" y="329.6" font-size="7.6" textLength="29.0" lengthAdjust="spacingAndGlyphs" fill="#111" stroke="#111" stroke-width="0.22">13,3 G/L</text>
<text x="148.3" y="334.4" font-size="7.6" textLength="25.4" lengthAdjust="spacingAndGlyphs" fill="#111" stroke="#111" stroke-width="0.22">5,4 G/L</text>
<text x="224.0" y="339.3" font-size="7.6" textLength="24.7" lengthAdjust="spacingAndGlyphs" fill="#111" stroke="#111" stroke-width="0.22">2,5 G/L</text>
<line x1="24.40" y1="300.40" x2="24.40" y2="324.00" stroke="#111" stroke-width="1.2"/>
<line x1="24.40" y1="346.20" x2="24.40" y2="369.80" stroke="#111" stroke-width="1.2"/>
<text x="26.7" y="334.9" font-size="8.6" text-anchor="middle" textLength="13.8" lengthAdjust="spacingAndGlyphs" transform="rotate(-90 26.7 334.9)" fill="#111" stroke="#111" stroke-width="0.38">CD4</text>
<line x1="23.80" y1="369.80" x2="120.40" y2="369.80" stroke="#111" stroke-width="1.1"/>
<line x1="155.00" y1="369.80" x2="251.30" y2="369.80" stroke="#111" stroke-width="1.1"/>
<text x="137.65" y="372.6" font-size="8.8" text-anchor="middle" textLength="27.7" lengthAdjust="spacingAndGlyphs" fill="#111" stroke="#111" stroke-width="0.38">CD158k</text>
<line x1="34.70" y1="385.00" x2="34.70" y2="442.50" stroke="#888" stroke-width="0.5"/>
<line x1="34.70" y1="442.50" x2="98.20" y2="442.50" stroke="#888" stroke-width="0.5"/>
<line x1="98.20" y1="385.00" x2="98.20" y2="442.50" stroke="#666" stroke-width="0.6"/>
<line x1="34.70" y1="385.00" x2="98.20" y2="385.00" stroke="#666" stroke-width="0.6"/>
<line x1="32.90" y1="430.00" x2="34.70" y2="430.00" stroke="#333" stroke-width="0.55"/>
<line x1="32.90" y1="417.50" x2="34.70" y2="417.50" stroke="#333" stroke-width="0.55"/>
<line x1="32.90" y1="405.00" x2="34.70" y2="405.00" stroke="#333" stroke-width="0.55"/>
<line x1="32.90" y1="392.50" x2="34.70" y2="392.50" stroke="#333" stroke-width="0.55"/>
<line x1="33.70" y1="440.58" x2="34.70" y2="440.58" stroke="#333" stroke-width="0.45"/>
<line x1="33.70" y1="438.67" x2="34.70" y2="438.67" stroke="#333" stroke-width="0.45"/>
<line x1="33.70" y1="436.75" x2="34.70" y2="436.75" stroke="#333" stroke-width="0.45"/>
<line x1="33.70" y1="434.83" x2="34.70" y2="434.83" stroke="#333" stroke-width="0.45"/>
<line x1="33.70" y1="432.92" x2="34.70" y2="432.92" stroke="#333" stroke-width="0.45"/>
<line x1="33.70" y1="431.00" x2="34.70" y2="431.00" stroke="#333" stroke-width="0.45"/>
<line x1="33.70" y1="429.08" x2="34.70" y2="429.08" stroke="#333" stroke-width="0.45"/>
<line x1="33.70" y1="427.17" x2="34.70" y2="427.17" stroke="#333" stroke-width="0.45"/>
<line x1="33.70" y1="425.25" x2="34.70" y2="425.25" stroke="#333" stroke-width="0.45"/>
<line x1="33.70" y1="423.33" x2="34.70" y2="423.33" stroke="#333" stroke-width="0.45"/>
<line x1="33.70" y1="421.42" x2="34.70" y2="421.42" stroke="#333" stroke-width="0.45"/>
<line x1="33.70" y1="419.50" x2="34.70" y2="419.50" stroke="#333" stroke-width="0.45"/>
<line x1="33.70" y1="417.58" x2="34.70" y2="417.58" stroke="#333" stroke-width="0.45"/>
<line x1="33.70" y1="415.67" x2="34.70" y2="415.67" stroke="#333" stroke-width="0.45"/>
<line x1="33.70" y1="413.75" x2="34.70" y2="413.75" stroke="#333" stroke-width="0.45"/>
<line x1="33.70" y1="411.83" x2="34.70" y2="411.83" stroke="#333" stroke-width="0.45"/>
<line x1="33.70" y1="409.92" x2="34.70" y2="409.92" stroke="#333" stroke-width="0.45"/>
<line x1="33.70" y1="408.00" x2="34.70" y2="408.00" stroke="#333" stroke-width="0.45"/>
<line x1="33.70" y1="406.08" x2="34.70" y2="406.08" stroke="#333" stroke-width="0.45"/>
<line x1="33.70" y1="404.17" x2="34.70" y2="404.17" stroke="#333" stroke-width="0.45"/>
<line x1="33.70" y1="402.25" x2="34.70" y2="402.25" stroke="#333" stroke-width="0.45"/>
<line x1="33.70" y1="400.33" x2="34.70" y2="400.33" stroke="#333" stroke-width="0.45"/>
<line x1="33.70" y1="398.42" x2="34.70" y2="398.42" stroke="#333" stroke-width="0.45"/>
<line x1="33.70" y1="396.50" x2="34.70" y2="396.50" stroke="#333" stroke-width="0.45"/>
<line x1="33.70" y1="394.58" x2="34.70" y2="394.58" stroke="#333" stroke-width="0.45"/>
<line x1="33.70" y1="392.67" x2="34.70" y2="392.67" stroke="#333" stroke-width="0.45"/>
<line x1="33.70" y1="390.75" x2="34.70" y2="390.75" stroke="#333" stroke-width="0.45"/>
<line x1="33.70" y1="388.83" x2="34.70" y2="388.83" stroke="#333" stroke-width="0.45"/>
<line x1="33.70" y1="386.92" x2="34.70" y2="386.92" stroke="#333" stroke-width="0.45"/>
<line x1="36.57" y1="442.50" x2="36.57" y2="443.60" stroke="#333" stroke-width="0.45"/>
<line x1="38.44" y1="442.50" x2="38.44" y2="443.60" stroke="#333" stroke-width="0.45"/>
<line x1="40.30" y1="442.50" x2="40.30" y2="443.60" stroke="#333" stroke-width="0.45"/>
<line x1="42.17" y1="442.50" x2="42.17" y2="443.60" stroke="#333" stroke-width="0.45"/>
<line x1="44.04" y1="442.50" x2="44.04" y2="443.60" stroke="#333" stroke-width="0.45"/>
<line x1="45.91" y1="442.50" x2="45.91" y2="443.60" stroke="#333" stroke-width="0.45"/>
<line x1="47.77" y1="442.50" x2="47.77" y2="444.30" stroke="#333" stroke-width="0.45"/>
<line x1="49.64" y1="442.50" x2="49.64" y2="443.60" stroke="#333" stroke-width="0.45"/>
<line x1="51.51" y1="442.50" x2="51.51" y2="443.60" stroke="#333" stroke-width="0.45"/>
<line x1="53.38" y1="442.50" x2="53.38" y2="443.60" stroke="#333" stroke-width="0.45"/>
<line x1="55.24" y1="442.50" x2="55.24" y2="443.60" stroke="#333" stroke-width="0.45"/>
<line x1="57.11" y1="442.50" x2="57.11" y2="443.60" stroke="#333" stroke-width="0.45"/>
<line x1="58.98" y1="442.50" x2="58.98" y2="443.60" stroke="#333" stroke-width="0.45"/>
<line x1="60.85" y1="442.50" x2="60.85" y2="444.30" stroke="#333" stroke-width="0.45"/>
<line x1="62.71" y1="442.50" x2="62.71" y2="443.60" stroke="#333" stroke-width="0.45"/>
<line x1="64.58" y1="442.50" x2="64.58" y2="443.60" stroke="#333" stroke-width="0.45"/>
<line x1="66.45" y1="442.50" x2="66.45" y2="443.60" stroke="#333" stroke-width="0.45"/>
<line x1="68.32" y1="442.50" x2="68.32" y2="443.60" stroke="#333" stroke-width="0.45"/>
<line x1="70.19" y1="442.50" x2="70.19" y2="443.60" stroke="#333" stroke-width="0.45"/>
<line x1="72.05" y1="442.50" x2="72.05" y2="443.60" stroke="#333" stroke-width="0.45"/>
<line x1="73.92" y1="442.50" x2="73.92" y2="444.30" stroke="#333" stroke-width="0.45"/>
<line x1="75.79" y1="442.50" x2="75.79" y2="443.60" stroke="#333" stroke-width="0.45"/>
<line x1="77.66" y1="442.50" x2="77.66" y2="443.60" stroke="#333" stroke-width="0.45"/>
<line x1="79.52" y1="442.50" x2="79.52" y2="443.60" stroke="#333" stroke-width="0.45"/>
<line x1="81.39" y1="442.50" x2="81.39" y2="443.60" stroke="#333" stroke-width="0.45"/>
<line x1="83.26" y1="442.50" x2="83.26" y2="443.60" stroke="#333" stroke-width="0.45"/>
<line x1="85.13" y1="442.50" x2="85.13" y2="443.60" stroke="#333" stroke-width="0.45"/>
<line x1="86.99" y1="442.50" x2="86.99" y2="444.30" stroke="#333" stroke-width="0.45"/>
<line x1="88.86" y1="442.50" x2="88.86" y2="443.60" stroke="#333" stroke-width="0.45"/>
<line x1="90.73" y1="442.50" x2="90.73" y2="443.60" stroke="#333" stroke-width="0.45"/>
<line x1="92.60" y1="442.50" x2="92.60" y2="443.60" stroke="#333" stroke-width="0.45"/>
<line x1="94.46" y1="442.50" x2="94.46" y2="443.60" stroke="#333" stroke-width="0.45"/>
<line x1="96.33" y1="442.50" x2="96.33" y2="443.60" stroke="#333" stroke-width="0.45"/>
<line x1="69.20" y1="385.00" x2="69.20" y2="442.50" stroke="#444" stroke-width="0.7"/>
<line x1="34.70" y1="420.00" x2="98.20" y2="420.00" stroke="#444" stroke-width="0.7"/>
<line x1="109.70" y1="385.40" x2="109.70" y2="442.80" stroke="#888" stroke-width="0.5"/>
<line x1="109.70" y1="442.80" x2="175.00" y2="442.80" stroke="#888" stroke-width="0.5"/>
<line x1="175.00" y1="385.40" x2="175.00" y2="442.80" stroke="#666" stroke-width="0.6"/>
<line x1="109.70" y1="385.40" x2="175.00" y2="385.40" stroke="#666" stroke-width="0.6"/>
<line x1="107.90" y1="430.32" x2="109.70" y2="430.32" stroke="#333" stroke-width="0.55"/>
<line x1="107.90" y1="417.84" x2="109.70" y2="417.84" stroke="#333" stroke-width="0.55"/>
<line x1="107.90" y1="405.37" x2="109.70" y2="405.37" stroke="#333" stroke-width="0.55"/>
<line x1="107.90" y1="392.89" x2="109.70" y2="392.89" stroke="#333" stroke-width="0.55"/>
<line x1="108.70" y1="440.89" x2="109.70" y2="440.89" stroke="#333" stroke-width="0.45"/>
<line x1="108.70" y1="438.97" x2="109.70" y2="438.97" stroke="#333" stroke-width="0.45"/>
<line x1="108.70" y1="437.06" x2="109.70" y2="437.06" stroke="#333" stroke-width="0.45"/>
<line x1="108.70" y1="435.15" x2="109.70" y2="435.15" stroke="#333" stroke-width="0.45"/>
<line x1="108.70" y1="433.23" x2="109.70" y2="433.23" stroke="#333" stroke-width="0.45"/>
<line x1="108.70" y1="431.32" x2="109.70" y2="431.32" stroke="#333" stroke-width="0.45"/>
<line x1="108.70" y1="429.41" x2="109.70" y2="429.41" stroke="#333" stroke-width="0.45"/>
<line x1="108.70" y1="427.49" x2="109.70" y2="427.49" stroke="#333" stroke-width="0.45"/>
<line x1="108.70" y1="425.58" x2="109.70" y2="425.58" stroke="#333" stroke-width="0.45"/>
<line x1="108.70" y1="423.67" x2="109.70" y2="423.67" stroke="#333" stroke-width="0.45"/>
<line x1="108.70" y1="421.75" x2="109.70" y2="421.75" stroke="#333" stroke-width="0.45"/>
<line x1="108.70" y1="419.84" x2="109.70" y2="419.84" stroke="#333" stroke-width="0.45"/>
<line x1="108.70" y1="417.93" x2="109.70" y2="417.93" stroke="#333" stroke-width="0.45"/>
<line x1="108.70" y1="416.01" x2="109.70" y2="416.01" stroke="#333" stroke-width="0.45"/>
<line x1="108.70" y1="414.10" x2="109.70" y2="414.10" stroke="#333" stroke-width="0.45"/>
<line x1="108.70" y1="412.19" x2="109.70" y2="412.19" stroke="#333" stroke-width="0.45"/>
<line x1="108.70" y1="410.27" x2="109.70" y2="410.27" stroke="#333" stroke-width="0.45"/>
<line x1="108.70" y1="408.36" x2="109.70" y2="408.36" stroke="#333" stroke-width="0.45"/>
<line x1="108.70" y1="406.45" x2="109.70" y2="406.45" stroke="#333" stroke-width="0.45"/>
<line x1="108.70" y1="404.53" x2="109.70" y2="404.53" stroke="#333" stroke-width="0.45"/>
<line x1="108.70" y1="402.62" x2="109.70" y2="402.62" stroke="#333" stroke-width="0.45"/>
<line x1="108.70" y1="400.71" x2="109.70" y2="400.71" stroke="#333" stroke-width="0.45"/>
<line x1="108.70" y1="398.79" x2="109.70" y2="398.79" stroke="#333" stroke-width="0.45"/>
<line x1="108.70" y1="396.88" x2="109.70" y2="396.88" stroke="#333" stroke-width="0.45"/>
<line x1="108.70" y1="394.97" x2="109.70" y2="394.97" stroke="#333" stroke-width="0.45"/>
<line x1="108.70" y1="393.05" x2="109.70" y2="393.05" stroke="#333" stroke-width="0.45"/>
<line x1="108.70" y1="391.14" x2="109.70" y2="391.14" stroke="#333" stroke-width="0.45"/>
<line x1="108.70" y1="389.23" x2="109.70" y2="389.23" stroke="#333" stroke-width="0.45"/>
<line x1="108.70" y1="387.31" x2="109.70" y2="387.31" stroke="#333" stroke-width="0.45"/>
<line x1="111.62" y1="442.80" x2="111.62" y2="443.90" stroke="#333" stroke-width="0.45"/>
<line x1="113.54" y1="442.80" x2="113.54" y2="443.90" stroke="#333" stroke-width="0.45"/>
<line x1="115.46" y1="442.80" x2="115.46" y2="443.90" stroke="#333" stroke-width="0.45"/>
<line x1="117.38" y1="442.80" x2="117.38" y2="443.90" stroke="#333" stroke-width="0.45"/>
<line x1="119.30" y1="442.80" x2="119.30" y2="443.90" stroke="#333" stroke-width="0.45"/>
<line x1="121.22" y1="442.80" x2="121.22" y2="443.90" stroke="#333" stroke-width="0.45"/>
<line x1="123.14" y1="442.80" x2="123.14" y2="444.60" stroke="#333" stroke-width="0.45"/>
<line x1="125.06" y1="442.80" x2="125.06" y2="443.90" stroke="#333" stroke-width="0.45"/>
<line x1="126.99" y1="442.80" x2="126.99" y2="443.90" stroke="#333" stroke-width="0.45"/>
<line x1="128.91" y1="442.80" x2="128.91" y2="443.90" stroke="#333" stroke-width="0.45"/>
<line x1="130.83" y1="442.80" x2="130.83" y2="443.90" stroke="#333" stroke-width="0.45"/>
<line x1="132.75" y1="442.80" x2="132.75" y2="443.90" stroke="#333" stroke-width="0.45"/>
<line x1="134.67" y1="442.80" x2="134.67" y2="443.90" stroke="#333" stroke-width="0.45"/>
<line x1="136.59" y1="442.80" x2="136.59" y2="444.60" stroke="#333" stroke-width="0.45"/>
<line x1="138.51" y1="442.80" x2="138.51" y2="443.90" stroke="#333" stroke-width="0.45"/>
<line x1="140.43" y1="442.80" x2="140.43" y2="443.90" stroke="#333" stroke-width="0.45"/>
<line x1="142.35" y1="442.80" x2="142.35" y2="443.90" stroke="#333" stroke-width="0.45"/>
<line x1="144.27" y1="442.80" x2="144.27" y2="443.90" stroke="#333" stroke-width="0.45"/>
<line x1="146.19" y1="442.80" x2="146.19" y2="443.90" stroke="#333" stroke-width="0.45"/>
<line x1="148.11" y1="442.80" x2="148.11" y2="443.90" stroke="#333" stroke-width="0.45"/>
<line x1="150.03" y1="442.80" x2="150.03" y2="444.60" stroke="#333" stroke-width="0.45"/>
<line x1="151.95" y1="442.80" x2="151.95" y2="443.90" stroke="#333" stroke-width="0.45"/>
<line x1="153.87" y1="442.80" x2="153.87" y2="443.90" stroke="#333" stroke-width="0.45"/>
<line x1="155.79" y1="442.80" x2="155.79" y2="443.90" stroke="#333" stroke-width="0.45"/>
<line x1="157.71" y1="442.80" x2="157.71" y2="443.90" stroke="#333" stroke-width="0.45"/>
<line x1="159.64" y1="442.80" x2="159.64" y2="443.90" stroke="#333" stroke-width="0.45"/>
<line x1="161.56" y1="442.80" x2="161.56" y2="443.90" stroke="#333" stroke-width="0.45"/>
<line x1="163.48" y1="442.80" x2="163.48" y2="444.60" stroke="#333" stroke-width="0.45"/>
<line x1="165.40" y1="442.80" x2="165.40" y2="443.90" stroke="#333" stroke-width="0.45"/>
<line x1="167.32" y1="442.80" x2="167.32" y2="443.90" stroke="#333" stroke-width="0.45"/>
<line x1="169.24" y1="442.80" x2="169.24" y2="443.90" stroke="#333" stroke-width="0.45"/>
<line x1="171.16" y1="442.80" x2="171.16" y2="443.90" stroke="#333" stroke-width="0.45"/>
<line x1="173.08" y1="442.80" x2="173.08" y2="443.90" stroke="#333" stroke-width="0.45"/>
<line x1="145.50" y1="385.40" x2="145.50" y2="442.80" stroke="#444" stroke-width="0.7"/>
<line x1="109.70" y1="417.20" x2="175.00" y2="417.20" stroke="#444" stroke-width="0.7"/>
<line x1="186.00" y1="385.40" x2="186.00" y2="442.50" stroke="#888" stroke-width="0.5"/>
<line x1="186.00" y1="442.50" x2="250.90" y2="442.50" stroke="#888" stroke-width="0.5"/>
<line x1="250.90" y1="385.40" x2="250.90" y2="442.50" stroke="#666" stroke-width="0.6"/>
<line x1="186.00" y1="385.40" x2="250.90" y2="385.40" stroke="#666" stroke-width="0.6"/>
<line x1="184.20" y1="430.09" x2="186.00" y2="430.09" stroke="#333" stroke-width="0.55"/>
<line x1="184.20" y1="417.67" x2="186.00" y2="417.67" stroke="#333" stroke-width="0.55"/>
<line x1="184.20" y1="405.26" x2="186.00" y2="405.26" stroke="#333" stroke-width="0.55"/>
<line x1="184.20" y1="392.85" x2="186.00" y2="392.85" stroke="#333" stroke-width="0.55"/>
<line x1="185.00" y1="440.60" x2="186.00" y2="440.60" stroke="#333" stroke-width="0.45"/>
<line x1="185.00" y1="438.69" x2="186.00" y2="438.69" stroke="#333" stroke-width="0.45"/>
<line x1="185.00" y1="436.79" x2="186.00" y2="436.79" stroke="#333" stroke-width="0.45"/>
<line x1="185.00" y1="434.89" x2="186.00" y2="434.89" stroke="#333" stroke-width="0.45"/>
<line x1="185.00" y1="432.98" x2="186.00" y2="432.98" stroke="#333" stroke-width="0.45"/>
<line x1="185.00" y1="431.08" x2="186.00" y2="431.08" stroke="#333" stroke-width="0.45"/>
<line x1="185.00" y1="429.18" x2="186.00" y2="429.18" stroke="#333" stroke-width="0.45"/>
<line x1="185.00" y1="427.27" x2="186.00" y2="427.27" stroke="#333" stroke-width="0.45"/>
<line x1="185.00" y1="425.37" x2="186.00" y2="425.37" stroke="#333" stroke-width="0.45"/>
<line x1="185.00" y1="423.47" x2="186.00" y2="423.47" stroke="#333" stroke-width="0.45"/>
<line x1="185.00" y1="421.56" x2="186.00" y2="421.56" stroke="#333" stroke-width="0.45"/>
<line x1="185.00" y1="419.66" x2="186.00" y2="419.66" stroke="#333" stroke-width="0.45"/>
<line x1="185.00" y1="417.76" x2="186.00" y2="417.76" stroke="#333" stroke-width="0.45"/>
<line x1="185.00" y1="415.85" x2="186.00" y2="415.85" stroke="#333" stroke-width="0.45"/>
<line x1="185.00" y1="413.95" x2="186.00" y2="413.95" stroke="#333" stroke-width="0.45"/>
<line x1="185.00" y1="412.05" x2="186.00" y2="412.05" stroke="#333" stroke-width="0.45"/>
<line x1="185.00" y1="410.14" x2="186.00" y2="410.14" stroke="#333" stroke-width="0.45"/>
<line x1="185.00" y1="408.24" x2="186.00" y2="408.24" stroke="#333" stroke-width="0.45"/>
<line x1="185.00" y1="406.34" x2="186.00" y2="406.34" stroke="#333" stroke-width="0.45"/>
<line x1="185.00" y1="404.43" x2="186.00" y2="404.43" stroke="#333" stroke-width="0.45"/>
<line x1="185.00" y1="402.53" x2="186.00" y2="402.53" stroke="#333" stroke-width="0.45"/>
<line x1="185.00" y1="400.63" x2="186.00" y2="400.63" stroke="#333" stroke-width="0.45"/>
<line x1="185.00" y1="398.72" x2="186.00" y2="398.72" stroke="#333" stroke-width="0.45"/>
<line x1="185.00" y1="396.82" x2="186.00" y2="396.82" stroke="#333" stroke-width="0.45"/>
<line x1="185.00" y1="394.92" x2="186.00" y2="394.92" stroke="#333" stroke-width="0.45"/>
<line x1="185.00" y1="393.01" x2="186.00" y2="393.01" stroke="#333" stroke-width="0.45"/>
<line x1="185.00" y1="391.11" x2="186.00" y2="391.11" stroke="#333" stroke-width="0.45"/>
<line x1="185.00" y1="389.21" x2="186.00" y2="389.21" stroke="#333" stroke-width="0.45"/>
<line x1="185.00" y1="387.30" x2="186.00" y2="387.30" stroke="#333" stroke-width="0.45"/>
<line x1="187.91" y1="442.50" x2="187.91" y2="443.60" stroke="#333" stroke-width="0.45"/>
<line x1="189.82" y1="442.50" x2="189.82" y2="443.60" stroke="#333" stroke-width="0.45"/>
<line x1="191.73" y1="442.50" x2="191.73" y2="443.60" stroke="#333" stroke-width="0.45"/>
<line x1="193.64" y1="442.50" x2="193.64" y2="443.60" stroke="#333" stroke-width="0.45"/>
<line x1="195.54" y1="442.50" x2="195.54" y2="443.60" stroke="#333" stroke-width="0.45"/>
<line x1="197.45" y1="442.50" x2="197.45" y2="443.60" stroke="#333" stroke-width="0.45"/>
<line x1="199.36" y1="442.50" x2="199.36" y2="444.30" stroke="#333" stroke-width="0.45"/>
<line x1="201.27" y1="442.50" x2="201.27" y2="443.60" stroke="#333" stroke-width="0.45"/>
<line x1="203.18" y1="442.50" x2="203.18" y2="443.60" stroke="#333" stroke-width="0.45"/>
<line x1="205.09" y1="442.50" x2="205.09" y2="443.60" stroke="#333" stroke-width="0.45"/>
<line x1="207.00" y1="442.50" x2="207.00" y2="443.60" stroke="#333" stroke-width="0.45"/>
<line x1="208.91" y1="442.50" x2="208.91" y2="443.60" stroke="#333" stroke-width="0.45"/>
<line x1="210.81" y1="442.50" x2="210.81" y2="443.60" stroke="#333" stroke-width="0.45"/>
<line x1="212.72" y1="442.50" x2="212.72" y2="444.30" stroke="#333" stroke-width="0.45"/>
<line x1="214.63" y1="442.50" x2="214.63" y2="443.60" stroke="#333" stroke-width="0.45"/>
<line x1="216.54" y1="442.50" x2="216.54" y2="443.60" stroke="#333" stroke-width="0.45"/>
<line x1="218.45" y1="442.50" x2="218.45" y2="443.60" stroke="#333" stroke-width="0.45"/>
<line x1="220.36" y1="442.50" x2="220.36" y2="443.60" stroke="#333" stroke-width="0.45"/>
<line x1="222.27" y1="442.50" x2="222.27" y2="443.60" stroke="#333" stroke-width="0.45"/>
<line x1="224.18" y1="442.50" x2="224.18" y2="443.60" stroke="#333" stroke-width="0.45"/>
<line x1="226.09" y1="442.50" x2="226.09" y2="444.30" stroke="#333" stroke-width="0.45"/>
<line x1="227.99" y1="442.50" x2="227.99" y2="443.60" stroke="#333" stroke-width="0.45"/>
<line x1="229.90" y1="442.50" x2="229.90" y2="443.60" stroke="#333" stroke-width="0.45"/>
<line x1="231.81" y1="442.50" x2="231.81" y2="443.60" stroke="#333" stroke-width="0.45"/>
<line x1="233.72" y1="442.50" x2="233.72" y2="443.60" stroke="#333" stroke-width="0.45"/>
<line x1="235.63" y1="442.50" x2="235.63" y2="443.60" stroke="#333" stroke-width="0.45"/>
<line x1="237.54" y1="442.50" x2="237.54" y2="443.60" stroke="#333" stroke-width="0.45"/>
<line x1="239.45" y1="442.50" x2="239.45" y2="444.30" stroke="#333" stroke-width="0.45"/>
<line x1="241.36" y1="442.50" x2="241.36" y2="443.60" stroke="#333" stroke-width="0.45"/>
<line x1="243.26" y1="442.50" x2="243.26" y2="443.60" stroke="#333" stroke-width="0.45"/>
<line x1="245.17" y1="442.50" x2="245.17" y2="443.60" stroke="#333" stroke-width="0.45"/>
<line x1="247.08" y1="442.50" x2="247.08" y2="443.60" stroke="#333" stroke-width="0.45"/>
<line x1="248.99" y1="442.50" x2="248.99" y2="443.60" stroke="#333" stroke-width="0.45"/>
<line x1="222.50" y1="385.40" x2="222.50" y2="442.50" stroke="#444" stroke-width="0.7"/>
<line x1="186.00" y1="416.40" x2="250.90" y2="416.40" stroke="#444" stroke-width="0.7"/>
<path transform="scale(.5)" d="M116 860h2M113 870h2M102 848h2M169 841h2M168 830h2M114 871h2M94 876h2M162 798h2M150 783h2M88 855h2M95 786h2M141 879h2M127 856h2M92 795h2M76 785h2M85 792h2M183 800h2M78 781h2M131 859h2M143 852h2M104 848h2M125 797h2M191 829h2M185 871h2M181 794h2M91 859h2M187 787h2M180 805h2M141 862h2M140 821h2M79 858h2M143 806h2M78 825h2M88 877h2M81 785h2M159 874h2M123 794h2M110 852h2M109 804h2M183 805h2M130 798h2M99 793h2M141 860h2M78 860h2M143 875h2" stroke="#bbb" stroke-width="1.6" stroke-opacity="0.4" fill="none"/>
<path transform="scale(.5)" d="M126 794h2M127 801h2M85 788h2M122 788h2M121 794h2M121 790h2M78 800h2M116 796h2M116 799h2M99 794h2M103 796h2M127 784h2M137 798h2M125 797h2M102 794h2M98 797h2M146 791h2M111 796h2M114 798h2M134 804h2M118 791h2M120 790h2M145 797h2M89 787h2M115 798h2M126 791h2M97 789h2M128 795h2M124 803h2M102 806h2M126 790h2M122 790h2M123 792h2M155 795h2M93 802h2M144 806h2M118 786h2M103 798h2M127 795h2M123 788h2M127 791h2M126 802h2M119 812h2M120 791h2M108 798h2M134 798h2M109 795h2M112 801h2M114 793h2M128 786h2M99 797h2M115 800h2M110 808h2M114 785h2M121 787h2M110 798h2M107 787h2M130 802h2M116 796h2M119 790h2M122 798h2M140 796h2M151 790h2M121 794h2M82 794h2M118 786h2M117 798h2M116 795h2M98 793h2M95 793h2M133 793h2M139 791h2M100 793h2M134 804h2M119 796h2M120 794h2M115 808h2M116 790h2M100 792h2M130 789h2" stroke="#aaa" stroke-width="1.6" stroke-opacity="0.4" fill="none"/>
<path d="M66.0,400.0L69.0,395.0L76.0,393.0L84.0,393.5L90.5,396.5L90.0,401.0L86.0,405.5L80.0,408.5L74.0,409.0L68.5,406.0Z" fill="#ec9a1e" fill-opacity="0.55" filter="url(#bl3)"/>
<path d="M70.3,398.1L73.4,395.8L78.0,394.6L83.4,395.4L88.0,397.7L87.2,400.4L84.2,402.7L80.3,405.4L76.5,406.2L72.6,404.6L70.3,401.9Z" fill="#f3b75a" fill-opacity="0.55" filter="url(#bl3)"/>
<path d="M70.3,398.1L73.4,395.8L78.0,394.6L83.4,395.4L88.0,397.7L87.2,400.4L84.2,402.7L80.3,405.4L76.5,406.2L72.6,404.6L70.3,401.9Z" fill="#ec9a1e" fill-opacity="0.97" filter="url(#bl1)"/>
<path transform="scale(.5)" d="M171 807h2M151 800h2M147 808h2M151 810h2M157 816h2M155 798h2M157 808h2M161 819h2M170 802h2M145 791h2M139 788h2M158 807h2M134 810h2M141 799h2M150 812h2M151 794h2M166 801h2M132 822h2M166 787h2M134 807h2M148 805h2M149 806h2M133 796h2M146 798h2M140 799h2M141 814h2M163 807h2M125 801h2M139 804h2M153 798h2M144 808h2M174 812h2M141 803h2M139 810h2M135 801h2M139 805h2M143 808h2M180 794h2M164 796h2M156 792h2M159 791h2M173 826h2M138 805h2M142 797h2M141 800h2M145 819h2M155 809h2M159 793h2M144 800h2M172 798h2M150 794h2M158 809h2M138 799h2M158 813h2M142 796h2M160 812h2M161 796h2M148 811h2M168 801h2M169 800h2M153 800h2M134 791h2M154 800h2M149 803h2M164 815h2M143 799h2M159 790h2M151 817h2M153 803h2M137 809h2M167 795h2M161 797h2M136 817h2M161 796h2M134 799h2M135 800h2M152 797h2M177 799h2M161 815h2M159 798h2M161 800h2M141 810h2M161 825h2M159 812h2M143 808h2M158 812h2M165 789h2M135 806h2M142 809h2M161 802h2M150 809h2M157 787h2M179 805h2M150 796h2M157 805h2M168 803h2M159 805h2M157 807h2M162 814h2M176 812h2M127 806h2M165 814h2M141 798h2M141 805h2M173 805h2M158 812h2M145 804h2M146 801h2M164 802h2M156 802h2M150 804h2M154 791h2M157 795h2M169 806h2M170 787h2M149 796h2M163 809h2M155 811h2M166 807h2M148 807h2" stroke="#ec9a1e" stroke-width="1.6" stroke-opacity="0.4" fill="none"/>
<path transform="scale(.5)" d="M321 858h2M344 846h2M307 788h2M303 858h2M330 842h2M241 781h2M319 873h2M229 805h2M325 815h2M290 811h2M278 862h2M225 802h2M282 853h2M292 788h2M268 799h2M299 803h2M251 874h2M250 874h2M248 785h2M270 783h2M341 802h2M280 825h2M337 872h2M271 862h2M327 856h2M271 863h2M240 827h2M269 819h2M318 871h2M247 870h2M239 796h2M262 874h2M333 863h2M229 798h2M236 877h2M261 797h2M285 786h2M290 870h2M314 809h2M290 840h2M315 808h2M332 780h2M301 806h2M238 822h2M268 786h2M307 854h2M333 857h2M251 865h2M241 823h2M325 792h2" stroke="#aaa" stroke-width="1.6" stroke-opacity="0.4" fill="none"/>
<path transform="scale(.5)" d="M263 792h2M245 794h2M224 785h2M270 791h2M263 788h2M239 790h2M245 793h2M246 792h2M309 790h2M270 781h2M249 784h2M229 786h2M233 795h2M243 792h2M252 792h2M270 792h2M239 793h2M274 798h2M296 789h2M242 790h2M239 789h2M265 783h2M272 785h2M278 791h2M267 781h2M262 786h2M240 785h2M258 787h2M267 794h2M244 798h2M256 781h2M241 794h2M250 786h2M250 792h2M265 783h2M247 787h2M247 795h2M258 791h2M222 784h2M270 788h2M260 790h2M244 792h2M268 789h2M275 782h2M283 779h2M239 795h2M274 789h2M286 789h2M247 792h2M240 790h2M248 785h2M271 792h2M272 791h2M256 789h2M252 779h2M268 794h2M268 789h2M257 790h2M274 789h2M237 793h2M251 785h2M240 790h2M267 792h2M232 796h2M289 788h2M266 789h2M256 793h2M273 777h2M228 794h2M241 796h2M238 790h2M249 788h2M229 784h2M248 786h2M253 790h2M285 791h2M258 787h2M248 796h2M254 783h2M248 785h2M261 794h2M269 787h2M246 791h2M235 786h2M283 787h2M252 789h2M228 784h2M282 780h2M268 790h2M262 781h2M251 786h2M260 785h2M283 786h2M232 793h2M264 791h2M268 789h2M293 794h2M240 790h2M267 790h2M253 794h2M261 784h2M260 789h2M254 791h2M246 784h2M271 796h2M254 789h2M251 791h2M272 784h2M255 787h2M261 790h2M233 787h2M247 784h2M252 790h2M277 785h2M255 786h2M221 781h2M231 786h2M255 789h2M275 790h2M260 782h2M277 795h2M282 794h2M245 786h2M265 792h2M262 788h2M267 783h2M259 784h2M254 787h2M249 788h2M309 791h2M245 786h2M281 790h2M270 792h2M283 785h2M238 784h2M258 789h2M239 784h2M253 789h2M274 788h2M258 792h2M249 792h2M241 790h2M267 796h2M262 788h2M276 788h2M268 794h2M254 786h2M257 795h2M264 792h2M260 787h2M280 776h2M259 795h2M236 790h2M263 786h2M277 785h2M252 786h2M264 786h2M277 790h2M264 781h2M263 794h2M254 788h2M263 792h2M288 788h2M249 789h2M225 790h2M243 776h2M238 792h2M237 792h2M231 791h2M284 788h2M262 789h2M232 786h2M279 787h2M238 785h2M274 791h2M222 789h2M274 790h2M239 787h2M240 788h2M263 795h2M252 788h2M231 789h2M288 783h2M251 782h2M232 789h2M249 782h2M262 788h2M267 788h2M249 788h2M247 790h2M266 789h2M278 779h2M237 788h2M269 796h2M252 780h2M265 798h2M253 794h2M271 784h2M299 784h2M260 786h2M249 790h2M256 789h2M249 787h2M246 788h2M229 791h2M258 790h2M296 784h2M261 787h2M258 780h2M290 790h2M254 793h2M258 793h2M291 782h2M250 784h2M264 790h2M269 794h2M246 786h2M279 793h2M241 790h2M237 790h2M261 793h2M251 787h2M225 798h2M279 784h2M251 786h2M235 791h2M266 783h2M291 794h2M251 790h2M236 785h2M272 788h2M239 794h2M245 788h2M278 786h2M266 789h2M253 791h2M306 786h2M258 779h2M259 788h2M262 794h2" stroke="#888" stroke-width="1.6" stroke-opacity="0.5" fill="none"/>
<path transform="scale(.5)" d="M278 854h2M246 852h2M270 851h2M223 870h2M258 861h2M233 852h2M268 850h2M254 864h2M293 851h2M256 867h2M262 847h2M266 855h2M263 860h2M255 854h2M266 858h2M280 837h2M281 850h2M253 873h2M262 849h2M255 860h2M232 849h2M256 863h2M249 865h2M290 856h2M266 859h2M245 856h2M269 860h2M240 864h2M237 852h2M232 854h2M265 858h2M264 856h2M272 861h2M276 855h2M264 849h2M296 878h2M278 848h2M225 858h2M267 869h2M300 861h2M224 862h2M271 865h2M239 862h2M233 852h2M266 842h2M257 862h2M255 857h2M260 855h2M252 852h2M249 847h2M279 865h2M251 863h2M276 851h2M237 869h2M240 860h2M258 855h2M239 862h2M273 872h2M242 860h2M276 845h2M269 868h2M239 856h2M243 830h2M253 858h2M277 866h2M253 845h2M240 873h2M273 856h2M264 852h2M225 869h2M282 851h2M270 857h2M256 855h2M252 843h2M234 843h2M263 861h2M256 852h2M262 864h2M233 874h2M233 857h2M265 851h2M261 851h2M298 850h2M259 862h2M267 852h2M271 857h2M275 862h2M261 851h2M234 840h2M254 860h2M257 874h2M246 865h2M242 851h2M272 854h2M266 850h2M254 863h2M252 854h2M257 865h2M247 855h2M271 851h2M249 854h2M280 866h2M265 868h2M262 863h2M257 847h2M273 844h2M264 846h2M250 868h2M249 860h2M272 857h2M245 859h2M259 844h2M269 858h2M275 857h2M267 843h2M251 847h2M280 873h2M270 850h2M253 854h2M255 857h2M266 859h2M237 851h2M293 866h2M272 850h2M269 854h2M269 858h2M249 849h2M272 847h2M278 853h2M263 866h2M255 865h2M272 839h2M290 845h2M258 853h2M263 862h2M270 850h2M227 843h2M255 871h2M246 854h2M232 869h2M246 865h2M276 857h2M250 854h2M260 851h2M268 848h2M297 852h2M263 856h2M296 860h2M262 856h2M233 849h2M283 831h2M240 856h2M247 872h2M268 858h2M274 869h2M265 847h2M260 866h2M272 858h2M288 873h2M269 864h2M291 878h2M288 841h2M255 868h2M275 844h2M249 849h2M257 870h2M251 857h2M266 854h2M233 860h2M287 855h2M284 870h2M237 865h2M282 850h2M261 861h2M280 859h2M266 873h2M264 853h2M255 855h2M269 866h2M251 861h2" stroke="#aaa" stroke-width="1.6" stroke-opacity="0.45" fill="none"/>
<path d="M151.5,402.0L154.0,396.5L160.0,393.8L167.7,393.8L172.5,396.3L173.0,402.5L171.0,408.0L167.5,412.5L163.5,414.5L159.0,412.5L155.0,408.0Z" fill="#ec9a1e" fill-opacity="0.6" filter="url(#bl3)"/>
<path d="M157.7,397.3L162.3,395.4L167.7,395.4L171.5,397.3L171.9,401.9L170.0,406.5L166.9,409.6L163.1,410.4L160.0,408.1L157.3,403.5Z" fill="#f3b75a" fill-opacity="0.55" filter="url(#bl3)"/>
<path d="M157.7,397.3L162.3,395.4L167.7,395.4L171.5,397.3L171.9,401.9L170.0,406.5L166.9,409.6L163.1,410.4L160.0,408.1L157.3,403.5Z" fill="#ec9a1e" fill-opacity="0.97" filter="url(#bl1)"/>
<path transform="scale(.5)" d="M316 823h2M313 825h2M340 813h2M322 811h2M329 794h2M340 806h2M320 816h2M323 811h2M316 807h2M323 802h2M323 822h2M325 824h2M321 816h2M331 809h2M319 803h2M331 834h2M306 822h2M324 825h2M326 822h2M342 786h2M315 831h2M323 825h2M326 830h2M316 829h2M321 834h2M321 824h2M313 830h2M312 837h2M339 833h2M320 789h2M298 815h2M338 800h2M326 805h2M311 797h2M315 813h2M308 781h2M313 815h2M313 820h2M312 807h2M306 826h2M318 809h2M330 839h2M316 810h2M335 802h2M310 808h2M312 828h2M295 817h2M326 804h2M322 825h2M317 798h2M322 827h2M310 811h2M326 820h2M300 825h2M316 802h2M335 804h2M316 817h2M331 827h2M312 825h2M310 833h2M307 790h2M322 796h2M338 810h2M340 798h2M330 812h2M322 802h2M324 817h2M326 810h2M331 810h2M322 814h2M321 818h2M320 799h2M329 809h2M310 803h2M321 817h2M330 808h2M313 822h2M332 828h2M299 822h2M321 814h2M318 838h2M323 826h2M306 810h2M327 827h2M332 814h2M337 810h2M313 812h2M335 811h2M307 816h2M313 828h2M321 818h2M323 793h2M307 813h2M311 821h2M323 810h2M323 815h2M304 817h2M329 806h2M313 813h2M327 818h2M313 814h2M315 796h2M303 807h2M333 829h2M310 841h2M313 800h2M302 797h2M330 817h2M321 801h2M329 803h2M297 811h2M321 830h2M309 835h2M339 808h2M325 801h2M321 806h2M292 816h2M325 821h2M335 825h2M302 820h2M321 814h2M322 804h2M315 799h2M328 799h2M323 822h2M316 823h2M318 825h2M324 827h2M320 816h2M312 821h2M332 818h2M329 807h2M309 802h2M309 813h2M309 809h2M322 812h2M310 817h2M323 799h2M342 829h2M326 801h2M313 825h2M341 808h2M304 829h2M316 826h2M312 812h2M315 800h2M329 798h2M319 821h2M315 810h2M320 825h2M313 817h2M332 813h2M307 817h2M293 813h2M323 823h2M324 802h2M329 825h2M322 815h2M317 802h2M321 807h2M330 827h2M319 837h2M325 842h2M331 833h2M303 813h2M338 809h2M304 802h2M318 805h2M313 792h2M316 804h2M325 835h2M321 824h2M319 816h2M310 813h2M328 806h2M327 796h2M326 814h2M325 807h2M318 819h2M341 807h2M326 843h2M323 817h2M335 798h2M308 805h2M342 802h2M319 805h2M325 816h2M313 811h2M328 813h2M314 801h2M343 786h2M318 814h2M316 821h2M299 812h2M308 815h2M317 818h2M302 814h2M318 810h2M314 808h2M337 825h2M320 819h2M330 809h2M308 821h2M316 822h2M323 796h2M332 810h2M332 814h2M333 811h2M309 806h2M324 843h2M319 795h2M325 820h2M322 820h2M314 813h2M314 802h2M317 804h2M307 824h2M300 801h2M331 821h2M319 827h2M332 795h2M317 814h2M312 797h2M320 791h2M313 809h2M318 823h2M318 823h2M329 824h2M308 801h2M317 831h2M332 822h2M310 814h2M316 821h2M331 794h2M308 813h2M293 808h2M318 812h2M325 804h2M336 821h2M314 817h2M323 815h2M312 829h2M323 808h2M322 823h2M319 796h2M307 819h2M321 820h2M315 803h2M336 817h2M318 831h2M310 830h2M299 823h2M316 809h2M333 816h2M329 821h2M330 840h2M319 827h2M325 809h2M317 815h2M319 840h2" stroke="#ec9a1e" stroke-width="1.6" stroke-opacity="0.45" fill="none"/>
<path transform="scale(.5)" d="M418 813h2M480 809h2M436 821h2M418 804h2M410 824h2M429 853h2M412 809h2M414 808h2M484 782h2M480 808h2M493 784h2M461 832h2M441 876h2M492 872h2M404 809h2M486 824h2M461 831h2M448 848h2M477 827h2M383 802h2M477 877h2M447 826h2M416 839h2M437 822h2M389 809h2M459 816h2M465 811h2M479 842h2M397 873h2M424 874h2M424 879h2M485 833h2M477 853h2M460 817h2M491 858h2M461 854h2M409 789h2M493 812h2M404 869h2M456 788h2M426 787h2M491 790h2M412 847h2M449 799h2M425 819h2M452 781h2M435 842h2M462 842h2M453 813h2M418 858h2" stroke="#aaa" stroke-width="1.6" stroke-opacity="0.4" fill="none"/>
<ellipse cx="211" cy="403.5" rx="9" ry="3.8" transform="rotate(0 211 403.5)" fill="#8a8a8a" fill-opacity="0.45" filter="url(#bl3)"/>
<path transform="scale(.5)" d="M416 814h2M399 800h2M435 811h2M428 814h2M429 813h2M418 810h2M418 802h2M407 803h2M439 814h2M410 805h2M426 807h2M409 811h2M417 803h2M405 810h2M422 797h2M427 803h2M412 803h2M393 810h2M436 805h2M422 806h2M427 816h2M442 803h2M446 804h2M426 807h2M438 795h2M415 811h2M414 803h2M418 804h2M428 797h2M439 814h2M440 804h2M429 803h2M437 805h2M427 821h2M420 810h2M431 806h2M415 809h2M417 805h2M410 808h2M429 809h2M405 799h2M423 806h2M427 812h2M430 803h2M412 809h2M426 811h2M428 810h2M392 808h2M390 802h2M406 800h2M425 799h2M444 805h2M422 807h2M429 804h2M445 803h2M438 803h2M410 810h2M450 800h2M429 798h2M393 809h2M425 804h2M426 807h2M419 808h2M416 807h2M432 796h2M423 816h2M438 813h2M441 811h2M411 795h2M412 806h2M427 811h2M410 807h2M388 812h2M427 807h2M420 812h2M413 808h2M415 810h2M435 800h2M406 805h2M415 808h2M424 804h2M436 810h2M415 806h2M428 814h2M429 803h2M418 812h2M427 812h2M415 803h2M423 808h2M429 804h2M439 807h2M407 806h2M417 817h2M413 802h2M426 809h2M419 805h2M418 811h2M426 806h2M394 803h2M399 806h2M410 803h2M415 810h2M436 805h2M409 810h2M425 799h2M406 813h2M425 801h2M433 807h2M436 811h2M405 796h2M419 800h2M427 812h2M427 811h2M423 815h2M451 802h2M418 815h2M413 800h2M426 815h2M426 814h2M403 808h2M408 815h2M421 814h2M419 812h2M429 803h2M426 804h2M424 809h2M425 813h2M432 807h2M411 814h2M404 810h2M421 801h2M408 804h2M435 809h2M437 805h2M417 807h2M432 813h2M418 813h2M434 817h2M425 804h2M424 811h2M430 806h2M405 799h2M429 805h2M437 802h2M422 815h2M428 806h2M436 819h2M429 806h2M426 800h2M436 793h2M411 810h2M427 807h2M404 803h2M421 811h2M420 798h2M438 813h2M430 799h2M422 807h2M416 802h2M422 809h2M427 811h2M429 803h2M406 801h2M419 807h2M419 813h2M423 804h2M426 797h2M411 804h2M422 802h2M435 809h2M420 812h2M447 807h2M420 807h2M401 803h2M423 809h2M431 808h2M426 804h2M419 807h2M435 803h2M413 808h2M415 806h2M420 810h2M412 802h2M425 803h2M426 801h2M444 809h2M380 801h2M418 812h2M438 806h2M392 803h2M427 807h2M417 809h2M403 814h2M428 805h2M444 797h2M434 811h2M439 807h2M430 805h2M427 807h2M426 809h2M430 813h2M414 800h2M421 802h2M433 806h2M416 813h2M431 814h2M422 806h2M418 814h2M431 808h2M430 812h2M443 805h2M429 807h2M418 803h2M435 802h2M421 810h2M422 805h2M430 805h2M447 811h2M425 809h2M439 796h2M411 809h2M424 812h2M431 808h2M434 803h2M427 809h2M431 806h2M423 816h2M439 808h2M414 810h2M419 815h2M431 803h2M440 809h2M434 811h2M431 806h2M410 797h2M442 804h2M429 812h2M429 811h2M430 812h2M425 803h2" stroke="#777" stroke-width="1.6" stroke-opacity="0.45" fill="none"/>
<ellipse cx="204.5" cy="428.5" rx="8" ry="4.5" transform="rotate(0 204.5 428.5)" fill="#aaa" fill-opacity="0.45" filter="url(#bl3)"/>
<path transform="scale(.5)" d="M390 850h2M419 852h2M405 852h2M394 862h2M416 853h2M402 863h2M410 857h2M408 861h2M405 851h2M403 858h2M403 851h2M400 856h2M415 861h2M414 866h2M398 856h2M392 858h2M410 844h2M414 850h2M408 854h2M414 869h2M406 869h2M399 851h2M423 852h2M422 848h2M415 861h2M390 859h2M405 856h2M409 862h2M421 859h2M408 860h2M386 862h2M400 858h2M411 862h2M398 863h2M430 863h2M393 859h2M390 861h2M412 851h2M407 859h2M398 857h2M405 849h2M409 858h2M412 863h2M420 857h2M393 854h2M415 870h2M402 863h2M406 849h2M425 861h2M403 852h2M410 874h2M405 859h2M396 851h2M412 861h2M414 861h2M410 857h2M404 861h2M417 856h2M419 860h2M409 850h2M401 852h2M418 852h2M416 858h2M408 856h2M421 860h2M422 852h2M386 854h2M407 849h2M399 855h2M402 861h2M401 851h2M403 848h2M405 859h2M402 863h2M402 856h2M400 861h2M415 856h2M399 868h2M413 864h2M391 854h2M420 853h2M387 858h2M415 862h2M402 853h2M404 856h2M414 857h2M409 855h2M412 854h2M400 855h2M400 856h2M423 853h2M410 857h2M401 852h2M421 854h2M405 858h2M407 852h2M428 854h2M412 854h2M403 856h2M407 852h2M410 855h2M421 868h2M400 854h2M416 858h2M404 863h2M406 854h2M409 856h2M417 853h2M405 848h2M400 865h2M424 849h2M411 852h2M409 850h2M408 855h2M402 854h2M393 855h2M411 862h2M409 851h2M403 853h2M405 849h2M400 857h2M398 865h2M411 852h2M404 862h2M403 842h2M421 865h2M414 867h2M403 851h2M415 854h2M403 856h2M400 861h2M400 850h2M412 859h2M405 861h2M407 865h2M407 848h2M410 850h2M405 857h2M412 851h2M411 859h2M415 861h2M433 851h2M417 855h2M411 860h2M412 865h2M401 857h2M414 851h2M423 848h2M399 855h2M419 855h2M404 861h2M396 857h2M404 852h2M425 862h2M407 857h2M404 847h2M401 857h2M391 866h2M397 856h2M418 856h2M415 866h2M402 856h2M425 855h2M422 861h2M414 859h2M389 859h2M413 858h2M409 854h2M392 861h2M412 864h2M416 859h2M411 862h2M405 860h2M413 849h2M422 862h2M411 860h2M417 850h2M429 868h2M410 859h2M403 856h2M401 859h2M415 853h2M390 858h2M405 848h2M400 860h2M400 849h2M408 866h2M413 858h2M407 858h2M418 861h2M404 854h2M418 858h2M424 864h2M407 854h2M402 859h2M407 867h2M417 847h2M410 850h2M411 847h2M416 855h2" stroke="#888" stroke-width="1.6" stroke-opacity="0.5" fill="none"/>
<path d="M225.0,401.0L230.0,399.5L238.0,399.5L243.5,401.0L244.0,409.0L242.5,414.0L236.0,415.0L229.0,414.0L225.5,410.0Z" fill="#ec9a1e" fill-opacity="0.6" filter="url(#bl2)"/>
<path d="M229.0,414.0L243.0,414.0L243.0,430.0L241.0,437.0L231.0,437.0L229.0,430.0Z" fill="#ec9a1e" fill-opacity="0.4" filter="url(#bl3)"/>
<ellipse cx="236" cy="406.5" rx="4.5" ry="4" transform="rotate(0 236 406.5)" fill="#ee8a10" fill-opacity="0.8" filter="url(#bl2)"/>
<path transform="scale(.5)" d="M478 831h2M458 844h2M474 848h2M473 838h2M470 843h2M474 845h2M456 845h2M487 830h2M478 837h2M470 838h2M460 830h2M466 863h2M488 834h2M448 848h2M473 823h2M481 819h2M472 838h2M477 844h2M476 860h2M471 864h2M468 856h2M468 869h2M456 828h2M463 859h2M476 868h2M474 823h2M458 846h2M473 855h2M469 843h2M473 840h2M464 858h2M468 846h2M453 865h2M465 856h2M469 860h2M466 849h2M472 848h2M461 846h2M466 827h2M462 852h2M459 832h2M484 848h2M487 850h2M476 881h2M479 858h2M461 872h2M462 825h2M477 855h2M488 846h2M468 866h2M479 851h2M482 855h2M460 839h2M478 839h2M467 870h2M476 850h2M462 840h2M457 856h2M480 859h2M479 857h2M484 864h2M463 854h2M459 827h2M463 839h2M475 820h2M470 835h2M460 832h2M487 849h2M460 791h2M469 869h2M488 828h2M479 849h2M482 857h2M456 848h2M474 868h2M467 850h2M459 857h2M462 824h2M474 850h2M463 846h2M473 818h2M465 881h2M483 851h2M464 819h2M464 845h2M456 848h2M468 838h2M468 855h2M465 863h2M493 848h2M458 828h2M464 834h2M464 866h2M485 843h2M479 872h2M475 839h2M466 844h2M464 856h2M482 856h2M463 835h2M469 831h2M454 858h2M458 862h2M466 840h2M465 861h2M462 840h2M460 847h2M452 847h2M480 863h2M443 865h2M468 862h2M479 842h2M465 861h2M486 826h2M469 855h2M474 861h2M458 871h2M452 868h2M474 868h2M464 844h2M457 856h2M473 832h2M467 853h2M462 828h2M488 859h2M468 872h2M460 849h2M456 868h2M479 864h2M472 846h2M469 849h2M460 834h2M472 831h2M462 862h2M458 851h2M482 853h2M469 834h2M474 857h2M479 850h2M476 866h2M475 832h2M459 851h2M469 869h2M481 830h2M467 838h2M462 823h2M470 858h2M473 828h2M476 856h2M469 849h2M479 844h2M466 839h2M461 871h2M464 829h2M454 838h2M488 851h2M479 826h2M482 857h2M475 844h2M467 843h2M474 851h2M492 842h2M476 849h2M464 852h2M471 854h2M460 860h2M465 845h2M458 838h2M456 863h2M476 844h2M466 847h2M470 835h2M466 843h2M471 861h2M478 828h2M484 857h2M479 871h2M473 855h2M466 842h2M469 861h2M457 845h2M470 858h2M477 816h2M465 815h2M465 858h2M474 856h2M470 825h2M487 859h2M487 843h2M469 847h2M473 852h2M478 858h2M476 850h2M481 860h2M458 867h2M469 872h2M471 855h2M465 840h2M469 829h2M487 864h2M478 845h2M467 839h2M460 875h2M463 853h2M475 812h2M470 861h2M482 870h2M458 879h2M475 826h2M460 862h2M476 850h2M480 844h2M481 855h2M467 868h2M480 824h2M489 867h2M470 845h2M465 841h2M466 846h2M478 822h2M465 855h2M474 830h2M476 835h2M477 852h2M464 858h2M479 854h2M472 842h2M476 836h2M460 857h2M474 844h2M477 846h2M475 854h2M479 863h2M472 846h2M478 835h2M469 852h2M464 837h2M467 855h2M469 847h2M471 844h2M481 820h2M484 849h2M466 862h2M468 847h2M476 844h2M474 848h2M467 848h2M484 840h2M479 865h2M453 854h2M472 820h2M469 859h2M467 862h2M475 858h2M472 860h2M476 801h2M466 849h2M477 834h2M467 862h2M468 850h2M465 850h2M460 853h2M474 849h2M478 828h2M454 852h2M458 854h2M483 840h2M461 862h2M472 818h2M479 853h2M472 843h2M484 845h2M488 846h2M461 848h2M479 844h2M469 856h2M457 830h2M481 838h2M464 829h2M478 831h2M461 842h2M465 851h2M469 876h2M483 835h2M480 862h2M474 849h2M484 837h2M485 862h2M480 841h2M463 844h2M461 840h2M478 839h2M480 833h2M460 837h2M483 849h2M473 847h2M469 839h2M469 827h2M481 862h2M456 843h2M468 841h2M473 843h2M461 827h2M471 815h2M461 883h2M464 859h2M469 837h2M473 857h2M481 829h2M478 843h2M466 856h2M475 860h2M476 850h2M476 846h2M451 850h2M473 825h2M469 854h2M463 880h2M480 831h2M472 843h2M468 857h2M487 841h2M473 850h2M478 842h2M474 872h2M466 863h2M456 839h2M473 854h2M469 835h2M459 828h2M466 834h2M448 868h2M475 857h2M470 855h2M465 857h2M490 873h2M468 852h2M478 838h2M465 829h2M465 867h2M486 841h2M479 846h2M473 841h2M478 832h2M464 861h2M487 849h2M457 821h2M462 850h2M473 849h2M485 838h2M469 842h2M469 841h2M473 839h2M454 842h2M473 852h2M467 853h2M466 834h2M449 851h2M454 830h2M475 868h2M474 867h2M459 843h2M465 849h2M476 830h2M470 844h2M477 879h2M467 844h2M485 825h2M465 834h2M468 853h2M464 840h2M459 854h2M483 882h2M459 875h2M462 854h2M459 847h2M484 856h2M481 842h2M473 850h2M471 846h2M453 855h2M463 852h2M458 845h2M467 877h2M474 851h2M461 841h2M472 839h2M465 836h2M469 866h2M477 831h2M480 872h2M461 827h2M466 865h2M484 848h2M462 838h2M459 857h2M472 840h2M478 845h2M461 843h2M473 832h2M469 853h2M452 834h2M475 845h2M460 820h2M473 845h2M467 820h2M477 850h2M468 850h2M474 829h2M460 835h2M464 855h2M481 850h2M476 854h2M474 836h2M476 863h2M453 855h2M474 853h2M461 847h2M474 865h2M482 825h2" stroke="#ec9a1e" stroke-width="1.6" stroke-opacity="0.5" fill="none"/>
<path transform="scale(.5)" d="M486 819h2M483 825h2M465 819h2M450 808h2M472 812h2M472 804h2M454 819h2M469 808h2M480 821h2M466 828h2M470 805h2M490 802h2M464 815h2M459 822h2M468 821h2M466 807h2M463 819h2M476 816h2M488 815h2M463 828h2M475 824h2M462 817h2M483 813h2M466 822h2M460 813h2M463 810h2M453 823h2M448 817h2M460 808h2M444 806h2M467 797h2M469 799h2M472 817h2M484 821h2M455 819h2M461 801h2M479 811h2M469 816h2M457 820h2M474 805h2M457 805h2M469 804h2M494 819h2M465 817h2M467 816h2M448 812h2M464 810h2M461 817h2M449 827h2M454 825h2M464 799h2M451 819h2M480 798h2M457 819h2M461 805h2M481 813h2M447 801h2M472 805h2M486 805h2M470 817h2M473 811h2M455 813h2M424 824h2M477 821h2M478 806h2M462 825h2M474 809h2M483 794h2M469 822h2M470 810h2M485 804h2M469 819h2M451 803h2M476 809h2M467 803h2M440 826h2M478 812h2M449 817h2M485 818h2M463 809h2M462 810h2M469 815h2M458 820h2M454 795h2M461 801h2M466 812h2M471 822h2M478 818h2M478 814h2M455 794h2M482 818h2M465 805h2M448 811h2M469 811h2M472 809h2M452 819h2M458 803h2M465 819h2M467 829h2M450 826h2M473 821h2M471 815h2M474 818h2M478 811h2M468 815h2M458 811h2M463 797h2M460 810h2M456 818h2M469 805h2M469 825h2M450 804h2M472 806h2M464 809h2M464 813h2M467 820h2M468 806h2M477 810h2M469 808h2M462 819h2M482 805h2M456 816h2M448 802h2M471 810h2M459 815h2M441 824h2M459 814h2M470 815h2M476 810h2M498 805h2M460 800h2M461 808h2M475 813h2M473 817h2M481 807h2M465 819h2M464 815h2M461 805h2M461 815h2M469 818h2M477 807h2M460 805h2M446 812h2M467 810h2M473 806h2M446 818h2M471 799h2M470 823h2M479 817h2M459 804h2M459 809h2M460 810h2M482 821h2M460 816h2M468 799h2M473 804h2M461 814h2M451 806h2M463 820h2M472 810h2M466 815h2M485 816h2M467 820h2M473 810h2M458 820h2M453 804h2M469 808h2M468 813h2M463 820h2M478 827h2M452 818h2M461 808h2M456 809h2M454 801h2M459 815h2M469 826h2M466 809h2M442 824h2M468 824h2M464 799h2M481 821h2M485 820h2M449 806h2M463 825h2M457 820h2M473 822h2M463 816h2M465 809h2M450 822h2M460 823h2M482 816h2M455 807h2M463 797h2M459 807h2M486 805h2M479 802h2M465 807h2M477 810h2M470 812h2M468 813h2" stroke="#ec9a1e" stroke-width="1.6" stroke-opacity="0.5" fill="none"/>
<rect x="38.00" y="381.50" width="56.50" height="9.00" fill="#fff"/>
<text x="40.0" y="389.3" font-size="8.8" textLength="51.8" lengthAdjust="spacingAndGlyphs" fill="#111" stroke="#111" stroke-width="0.22">Lymphocytes</text>
<line x1="24.40" y1="384.50" x2="24.40" y2="400.90" stroke="#111" stroke-width="1.2"/>
<line x1="24.40" y1="437.60" x2="24.40" y2="453.80" stroke="#111" stroke-width="1.2"/>
<text x="27.1" y="418.55" font-size="9.0" text-anchor="middle" textLength="29.9" lengthAdjust="spacingAndGlyphs" transform="rotate(-90 27.1 418.55)" fill="#111" stroke="#111" stroke-width="0.38">CD45RA</text>
<line x1="23.80" y1="453.80" x2="124.40" y2="453.80" stroke="#111" stroke-width="1.1"/>
<line x1="151.00" y1="453.80" x2="251.30" y2="453.80" stroke="#111" stroke-width="1.1"/>
<text x="137.7" y="456.6" font-size="8.8" text-anchor="middle" textLength="19.6" lengthAdjust="spacingAndGlyphs" fill="#111" stroke="#111" stroke-width="0.38">CCR7</text>
<line x1="33.50" y1="469.50" x2="33.50" y2="527.00" stroke="#888" stroke-width="0.5"/>
<line x1="33.50" y1="527.00" x2="98.70" y2="527.00" stroke="#888" stroke-width="0.5"/>
<line x1="98.70" y1="469.50" x2="98.70" y2="527.00" stroke="#666" stroke-width="0.6"/>
<line x1="33.50" y1="469.50" x2="98.70" y2="469.50" stroke="#666" stroke-width="0.6"/>
<line x1="31.70" y1="514.50" x2="33.50" y2="514.50" stroke="#333" stroke-width="0.55"/>
<line x1="31.70" y1="502.00" x2="33.50" y2="502.00" stroke="#333" stroke-width="0.55"/>
<line x1="31.70" y1="489.50" x2="33.50" y2="489.50" stroke="#333" stroke-width="0.55"/>
<line x1="31.70" y1="477.00" x2="33.50" y2="477.00" stroke="#333" stroke-width="0.55"/>
<line x1="32.50" y1="525.08" x2="33.50" y2="525.08" stroke="#333" stroke-width="0.45"/>
<line x1="32.50" y1="523.17" x2="33.50" y2="523.17" stroke="#333" stroke-width="0.45"/>
<line x1="32.50" y1="521.25" x2="33.50" y2="521.25" stroke="#333" stroke-width="0.45"/>
<line x1="32.50" y1="519.33" x2="33.50" y2="519.33" stroke="#333" stroke-width="0.45"/>
<line x1="32.50" y1="517.42" x2="33.50" y2="517.42" stroke="#333" stroke-width="0.45"/>
<line x1="32.50" y1="515.50" x2="33.50" y2="515.50" stroke="#333" stroke-width="0.45"/>
<line x1="32.50" y1="513.58" x2="33.50" y2="513.58" stroke="#333" stroke-width="0.45"/>
<line x1="32.50" y1="511.67" x2="33.50" y2="511.67" stroke="#333" stroke-width="0.45"/>
<line x1="32.50" y1="509.75" x2="33.50" y2="509.75" stroke="#333" stroke-width="0.45"/>
<line x1="32.50" y1="507.83" x2="33.50" y2="507.83" stroke="#333" stroke-width="0.45"/>
<line x1="32.50" y1="505.92" x2="33.50" y2="505.92" stroke="#333" stroke-width="0.45"/>
<line x1="32.50" y1="504.00" x2="33.50" y2="504.00" stroke="#333" stroke-width="0.45"/>
<line x1="32.50" y1="502.08" x2="33.50" y2="502.08" stroke="#333" stroke-width="0.45"/>
<line x1="32.50" y1="500.17" x2="33.50" y2="500.17" stroke="#333" stroke-width="0.45"/>
<line x1="32.50" y1="498.25" x2="33.50" y2="498.25" stroke="#333" stroke-width="0.45"/>
<line x1="32.50" y1="496.33" x2="33.50" y2="496.33" stroke="#333" stroke-width="0.45"/>
<line x1="32.50" y1="494.42" x2="33.50" y2="494.42" stroke="#333" stroke-width="0.45"/>
<line x1="32.50" y1="492.50" x2="33.50" y2="492.50" stroke="#333" stroke-width="0.45"/>
<line x1="32.50" y1="490.58" x2="33.50" y2="490.58" stroke="#333" stroke-width="0.45"/>
<line x1="32.50" y1="488.67" x2="33.50" y2="488.67" stroke="#333" stroke-width="0.45"/>
<line x1="32.50" y1="486.75" x2="33.50" y2="486.75" stroke="#333" stroke-width="0.45"/>
<line x1="32.50" y1="484.83" x2="33.50" y2="484.83" stroke="#333" stroke-width="0.45"/>
<line x1="32.50" y1="482.92" x2="33.50" y2="482.92" stroke="#333" stroke-width="0.45"/>
<line x1="32.50" y1="481.00" x2="33.50" y2="481.00" stroke="#333" stroke-width="0.45"/>
<line x1="32.50" y1="479.08" x2="33.50" y2="479.08" stroke="#333" stroke-width="0.45"/>
<line x1="32.50" y1="477.17" x2="33.50" y2="477.17" stroke="#333" stroke-width="0.45"/>
<line x1="32.50" y1="475.25" x2="33.50" y2="475.25" stroke="#333" stroke-width="0.45"/>
<line x1="32.50" y1="473.33" x2="33.50" y2="473.33" stroke="#333" stroke-width="0.45"/>
<line x1="32.50" y1="471.42" x2="33.50" y2="471.42" stroke="#333" stroke-width="0.45"/>
<line x1="35.42" y1="527.00" x2="35.42" y2="528.10" stroke="#333" stroke-width="0.45"/>
<line x1="37.34" y1="527.00" x2="37.34" y2="528.10" stroke="#333" stroke-width="0.45"/>
<line x1="39.25" y1="527.00" x2="39.25" y2="528.10" stroke="#333" stroke-width="0.45"/>
<line x1="41.17" y1="527.00" x2="41.17" y2="528.10" stroke="#333" stroke-width="0.45"/>
<line x1="43.09" y1="527.00" x2="43.09" y2="528.10" stroke="#333" stroke-width="0.45"/>
<line x1="45.01" y1="527.00" x2="45.01" y2="528.10" stroke="#333" stroke-width="0.45"/>
<line x1="46.92" y1="527.00" x2="46.92" y2="528.80" stroke="#333" stroke-width="0.45"/>
<line x1="48.84" y1="527.00" x2="48.84" y2="528.10" stroke="#333" stroke-width="0.45"/>
<line x1="50.76" y1="527.00" x2="50.76" y2="528.10" stroke="#333" stroke-width="0.45"/>
<line x1="52.68" y1="527.00" x2="52.68" y2="528.10" stroke="#333" stroke-width="0.45"/>
<line x1="54.59" y1="527.00" x2="54.59" y2="528.10" stroke="#333" stroke-width="0.45"/>
<line x1="56.51" y1="527.00" x2="56.51" y2="528.10" stroke="#333" stroke-width="0.45"/>
<line x1="58.43" y1="527.00" x2="58.43" y2="528.10" stroke="#333" stroke-width="0.45"/>
<line x1="60.35" y1="527.00" x2="60.35" y2="528.80" stroke="#333" stroke-width="0.45"/>
<line x1="62.26" y1="527.00" x2="62.26" y2="528.10" stroke="#333" stroke-width="0.45"/>
<line x1="64.18" y1="527.00" x2="64.18" y2="528.10" stroke="#333" stroke-width="0.45"/>
<line x1="66.10" y1="527.00" x2="66.10" y2="528.10" stroke="#333" stroke-width="0.45"/>
<line x1="68.02" y1="527.00" x2="68.02" y2="528.10" stroke="#333" stroke-width="0.45"/>
<line x1="69.94" y1="527.00" x2="69.94" y2="528.10" stroke="#333" stroke-width="0.45"/>
<line x1="71.85" y1="527.00" x2="71.85" y2="528.10" stroke="#333" stroke-width="0.45"/>
<line x1="73.77" y1="527.00" x2="73.77" y2="528.80" stroke="#333" stroke-width="0.45"/>
<line x1="75.69" y1="527.00" x2="75.69" y2="528.10" stroke="#333" stroke-width="0.45"/>
<line x1="77.61" y1="527.00" x2="77.61" y2="528.10" stroke="#333" stroke-width="0.45"/>
<line x1="79.52" y1="527.00" x2="79.52" y2="528.10" stroke="#333" stroke-width="0.45"/>
<line x1="81.44" y1="527.00" x2="81.44" y2="528.10" stroke="#333" stroke-width="0.45"/>
<line x1="83.36" y1="527.00" x2="83.36" y2="528.10" stroke="#333" stroke-width="0.45"/>
<line x1="85.28" y1="527.00" x2="85.28" y2="528.10" stroke="#333" stroke-width="0.45"/>
<line x1="87.19" y1="527.00" x2="87.19" y2="528.80" stroke="#333" stroke-width="0.45"/>
<line x1="89.11" y1="527.00" x2="89.11" y2="528.10" stroke="#333" stroke-width="0.45"/>
<line x1="91.03" y1="527.00" x2="91.03" y2="528.10" stroke="#333" stroke-width="0.45"/>
<line x1="92.95" y1="527.00" x2="92.95" y2="528.10" stroke="#333" stroke-width="0.45"/>
<line x1="94.86" y1="527.00" x2="94.86" y2="528.10" stroke="#333" stroke-width="0.45"/>
<line x1="96.78" y1="527.00" x2="96.78" y2="528.10" stroke="#333" stroke-width="0.45"/>
<line x1="53.30" y1="469.50" x2="53.30" y2="527.00" stroke="#444" stroke-width="0.7"/>
<line x1="33.50" y1="507.20" x2="98.70" y2="507.20" stroke="#444" stroke-width="0.7"/>
<line x1="109.70" y1="469.50" x2="109.70" y2="527.00" stroke="#888" stroke-width="0.5"/>
<line x1="109.70" y1="527.00" x2="175.40" y2="527.00" stroke="#888" stroke-width="0.5"/>
<line x1="175.40" y1="469.50" x2="175.40" y2="527.00" stroke="#666" stroke-width="0.6"/>
<line x1="109.70" y1="469.50" x2="175.40" y2="469.50" stroke="#666" stroke-width="0.6"/>
<line x1="107.90" y1="514.50" x2="109.70" y2="514.50" stroke="#333" stroke-width="0.55"/>
<line x1="107.90" y1="502.00" x2="109.70" y2="502.00" stroke="#333" stroke-width="0.55"/>
<line x1="107.90" y1="489.50" x2="109.70" y2="489.50" stroke="#333" stroke-width="0.55"/>
<line x1="107.90" y1="477.00" x2="109.70" y2="477.00" stroke="#333" stroke-width="0.55"/>
<line x1="108.70" y1="525.08" x2="109.70" y2="525.08" stroke="#333" stroke-width="0.45"/>
<line x1="108.70" y1="523.17" x2="109.70" y2="523.17" stroke="#333" stroke-width="0.45"/>
<line x1="108.70" y1="521.25" x2="109.70" y2="521.25" stroke="#333" stroke-width="0.45"/>
<line x1="108.70" y1="519.33" x2="109.70" y2="519.33" stroke="#333" stroke-width="0.45"/>
<line x1="108.70" y1="517.42" x2="109.70" y2="517.42" stroke="#333" stroke-width="0.45"/>
<line x1="108.70" y1="515.50" x2="109.70" y2="515.50" stroke="#333" stroke-width="0.45"/>
<line x1="108.70" y1="513.58" x2="109.70" y2="513.58" stroke="#333" stroke-width="0.45"/>
<line x1="108.70" y1="511.67" x2="109.70" y2="511.67" stroke="#333" stroke-width="0.45"/>
<line x1="108.70" y1="509.75" x2="109.70" y2="509.75" stroke="#333" stroke-width="0.45"/>
<line x1="108.70" y1="507.83" x2="109.70" y2="507.83" stroke="#333" stroke-width="0.45"/>
<line x1="108.70" y1="505.92" x2="109.70" y2="505.92" stroke="#333" stroke-width="0.45"/>
<line x1="108.70" y1="504.00" x2="109.70" y2="504.00" stroke="#333" stroke-width="0.45"/>
<line x1="108.70" y1="502.08" x2="109.70" y2="502.08" stroke="#333" stroke-width="0.45"/>
<line x1="108.70" y1="500.17" x2="109.70" y2="500.17" stroke="#333" stroke-width="0.45"/>
<line x1="108.70" y1="498.25" x2="109.70" y2="498.25" stroke="#333" stroke-width="0.45"/>
<line x1="108.70" y1="496.33" x2="109.70" y2="496.33" stroke="#333" stroke-width="0.45"/>
<line x1="108.70" y1="494.42" x2="109.70" y2="494.42" stroke="#333" stroke-width="0.45"/>
<line x1="108.70" y1="492.50" x2="109.70" y2="492.50" stroke="#333" stroke-width="0.45"/>
<line x1="108.70" y1="490.58" x2="109.70" y2="490.58" stroke="#333" stroke-width="0.45"/>
<line x1="108.70" y1="488.67" x2="109.70" y2="488.67" stroke="#333" stroke-width="0.45"/>
<line x1="108.70" y1="486.75" x2="109.70" y2="486.75" stroke="#333" stroke-width="0.45"/>
<line x1="108.70" y1="484.83" x2="109.70" y2="484.83" stroke="#333" stroke-width="0.45"/>
<line x1="108.70" y1="482.92" x2="109.70" y2="482.92" stroke="#333" stroke-width="0.45"/>
<line x1="108.70" y1="481.00" x2="109.70" y2="481.00" stroke="#333" stroke-width="0.45"/>
<line x1="108.70" y1="479.08" x2="109.70" y2="479.08" stroke="#333" stroke-width="0.45"/>
<line x1="108.70" y1="477.17" x2="109.70" y2="477.17" stroke="#333" stroke-width="0.45"/>
<line x1="108.70" y1="475.25" x2="109.70" y2="475.25" stroke="#333" stroke-width="0.45"/>
<line x1="108.70" y1="473.33" x2="109.70" y2="473.33" stroke="#333" stroke-width="0.45"/>
<line x1="108.70" y1="471.42" x2="109.70" y2="471.42" stroke="#333" stroke-width="0.45"/>
<line x1="111.63" y1="527.00" x2="111.63" y2="528.10" stroke="#333" stroke-width="0.45"/>
<line x1="113.56" y1="527.00" x2="113.56" y2="528.10" stroke="#333" stroke-width="0.45"/>
<line x1="115.50" y1="527.00" x2="115.50" y2="528.10" stroke="#333" stroke-width="0.45"/>
<line x1="117.43" y1="527.00" x2="117.43" y2="528.10" stroke="#333" stroke-width="0.45"/>
<line x1="119.36" y1="527.00" x2="119.36" y2="528.10" stroke="#333" stroke-width="0.45"/>
<line x1="121.29" y1="527.00" x2="121.29" y2="528.10" stroke="#333" stroke-width="0.45"/>
<line x1="123.23" y1="527.00" x2="123.23" y2="528.80" stroke="#333" stroke-width="0.45"/>
<line x1="125.16" y1="527.00" x2="125.16" y2="528.10" stroke="#333" stroke-width="0.45"/>
<line x1="127.09" y1="527.00" x2="127.09" y2="528.10" stroke="#333" stroke-width="0.45"/>
<line x1="129.02" y1="527.00" x2="129.02" y2="528.10" stroke="#333" stroke-width="0.45"/>
<line x1="130.96" y1="527.00" x2="130.96" y2="528.10" stroke="#333" stroke-width="0.45"/>
<line x1="132.89" y1="527.00" x2="132.89" y2="528.10" stroke="#333" stroke-width="0.45"/>
<line x1="134.82" y1="527.00" x2="134.82" y2="528.10" stroke="#333" stroke-width="0.45"/>
<line x1="136.75" y1="527.00" x2="136.75" y2="528.80" stroke="#333" stroke-width="0.45"/>
<line x1="138.69" y1="527.00" x2="138.69" y2="528.10" stroke="#333" stroke-width="0.45"/>
<line x1="140.62" y1="527.00" x2="140.62" y2="528.10" stroke="#333" stroke-width="0.45"/>
<line x1="142.55" y1="527.00" x2="142.55" y2="528.10" stroke="#333" stroke-width="0.45"/>
<line x1="144.48" y1="527.00" x2="144.48" y2="528.10" stroke="#333" stroke-width="0.45"/>
<line x1="146.41" y1="527.00" x2="146.41" y2="528.10" stroke="#333" stroke-width="0.45"/>
<line x1="148.35" y1="527.00" x2="148.35" y2="528.10" stroke="#333" stroke-width="0.45"/>
<line x1="150.28" y1="527.00" x2="150.28" y2="528.80" stroke="#333" stroke-width="0.45"/>
<line x1="152.21" y1="527.00" x2="152.21" y2="528.10" stroke="#333" stroke-width="0.45"/>
<line x1="154.14" y1="527.00" x2="154.14" y2="528.10" stroke="#333" stroke-width="0.45"/>
<line x1="156.08" y1="527.00" x2="156.08" y2="528.10" stroke="#333" stroke-width="0.45"/>
<line x1="158.01" y1="527.00" x2="158.01" y2="528.10" stroke="#333" stroke-width="0.45"/>
<line x1="159.94" y1="527.00" x2="159.94" y2="528.10" stroke="#333" stroke-width="0.45"/>
<line x1="161.87" y1="527.00" x2="161.87" y2="528.10" stroke="#333" stroke-width="0.45"/>
<line x1="163.81" y1="527.00" x2="163.81" y2="528.80" stroke="#333" stroke-width="0.45"/>
<line x1="165.74" y1="527.00" x2="165.74" y2="528.10" stroke="#333" stroke-width="0.45"/>
<line x1="167.67" y1="527.00" x2="167.67" y2="528.10" stroke="#333" stroke-width="0.45"/>
<line x1="169.60" y1="527.00" x2="169.60" y2="528.10" stroke="#333" stroke-width="0.45"/>
<line x1="171.54" y1="527.00" x2="171.54" y2="528.10" stroke="#333" stroke-width="0.45"/>
<line x1="173.47" y1="527.00" x2="173.47" y2="528.10" stroke="#333" stroke-width="0.45"/>
<line x1="129.50" y1="469.50" x2="129.50" y2="527.00" stroke="#444" stroke-width="0.7"/>
<line x1="109.70" y1="506.20" x2="175.40" y2="506.20" stroke="#444" stroke-width="0.7"/>
<line x1="186.00" y1="469.50" x2="186.00" y2="527.00" stroke="#888" stroke-width="0.5"/>
<line x1="186.00" y1="527.00" x2="250.40" y2="527.00" stroke="#888" stroke-width="0.5"/>
<line x1="250.40" y1="469.50" x2="250.40" y2="527.00" stroke="#666" stroke-width="0.6"/>
<line x1="186.00" y1="469.50" x2="250.40" y2="469.50" stroke="#666" stroke-width="0.6"/>
<line x1="184.20" y1="514.50" x2="186.00" y2="514.50" stroke="#333" stroke-width="0.55"/>
<line x1="184.20" y1="502.00" x2="186.00" y2="502.00" stroke="#333" stroke-width="0.55"/>
<line x1="184.20" y1="489.50" x2="186.00" y2="489.50" stroke="#333" stroke-width="0.55"/>
<line x1="184.20" y1="477.00" x2="186.00" y2="477.00" stroke="#333" stroke-width="0.55"/>
<line x1="185.00" y1="525.08" x2="186.00" y2="525.08" stroke="#333" stroke-width="0.45"/>
<line x1="185.00" y1="523.17" x2="186.00" y2="523.17" stroke="#333" stroke-width="0.45"/>
<line x1="185.00" y1="521.25" x2="186.00" y2="521.25" stroke="#333" stroke-width="0.45"/>
<line x1="185.00" y1="519.33" x2="186.00" y2="519.33" stroke="#333" stroke-width="0.45"/>
<line x1="185.00" y1="517.42" x2="186.00" y2="517.42" stroke="#333" stroke-width="0.45"/>
<line x1="185.00" y1="515.50" x2="186.00" y2="515.50" stroke="#333" stroke-width="0.45"/>
<line x1="185.00" y1="513.58" x2="186.00" y2="513.58" stroke="#333" stroke-width="0.45"/>
<line x1="185.00" y1="511.67" x2="186.00" y2="511.67" stroke="#333" stroke-width="0.45"/>
<line x1="185.00" y1="509.75" x2="186.00" y2="509.75" stroke="#333" stroke-width="0.45"/>
<line x1="185.00" y1="507.83" x2="186.00" y2="507.83" stroke="#333" stroke-width="0.45"/>
<line x1="185.00" y1="505.92" x2="186.00" y2="505.92" stroke="#333" stroke-width="0.45"/>
<line x1="185.00" y1="504.00" x2="186.00" y2="504.00" stroke="#333" stroke-width="0.45"/>
<line x1="185.00" y1="502.08" x2="186.00" y2="502.08" stroke="#333" stroke-width="0.45"/>
<line x1="185.00" y1="500.17" x2="186.00" y2="500.17" stroke="#333" stroke-width="0.45"/>
<line x1="185.00" y1="498.25" x2="186.00" y2="498.25" stroke="#333" stroke-width="0.45"/>
<line x1="185.00" y1="496.33" x2="186.00" y2="496.33" stroke="#333" stroke-width="0.45"/>
<line x1="185.00" y1="494.42" x2="186.00" y2="494.42" stroke="#333" stroke-width="0.45"/>
<line x1="185.00" y1="492.50" x2="186.00" y2="492.50" stroke="#333" stroke-width="0.45"/>
<line x1="185.00" y1="490.58" x2="186.00" y2="490.58" stroke="#333" stroke-width="0.45"/>
<line x1="185.00" y1="488.67" x2="186.00" y2="488.67" stroke="#333" stroke-width="0.45"/>
<line x1="185.00" y1="486.75" x2="186.00" y2="486.75" stroke="#333" stroke-width="0.45"/>
<line x1="185.00" y1="484.83" x2="186.00" y2="484.83" stroke="#333" stroke-width="0.45"/>
<line x1="185.00" y1="482.92" x2="186.00" y2="482.92" stroke="#333" stroke-width="0.45"/>
<line x1="185.00" y1="481.00" x2="186.00" y2="481.00" stroke="#333" stroke-width="0.45"/>
<line x1="185.00" y1="479.08" x2="186.00" y2="479.08" stroke="#333" stroke-width="0.45"/>
<line x1="185.00" y1="477.17" x2="186.00" y2="477.17" stroke="#333" stroke-width="0.45"/>
<line x1="185.00" y1="475.25" x2="186.00" y2="475.25" stroke="#333" stroke-width="0.45"/>
<line x1="185.00" y1="473.33" x2="186.00" y2="473.33" stroke="#333" stroke-width="0.45"/>
<line x1="185.00" y1="471.42" x2="186.00" y2="471.42" stroke="#333" stroke-width="0.45"/>
<line x1="187.89" y1="527.00" x2="187.89" y2="528.10" stroke="#333" stroke-width="0.45"/>
<line x1="189.79" y1="527.00" x2="189.79" y2="528.10" stroke="#333" stroke-width="0.45"/>
<line x1="191.68" y1="527.00" x2="191.68" y2="528.10" stroke="#333" stroke-width="0.45"/>
<line x1="193.58" y1="527.00" x2="193.58" y2="528.10" stroke="#333" stroke-width="0.45"/>
<line x1="195.47" y1="527.00" x2="195.47" y2="528.10" stroke="#333" stroke-width="0.45"/>
<line x1="197.36" y1="527.00" x2="197.36" y2="528.10" stroke="#333" stroke-width="0.45"/>
<line x1="199.26" y1="527.00" x2="199.26" y2="528.80" stroke="#333" stroke-width="0.45"/>
<line x1="201.15" y1="527.00" x2="201.15" y2="528.10" stroke="#333" stroke-width="0.45"/>
<line x1="203.05" y1="527.00" x2="203.05" y2="528.10" stroke="#333" stroke-width="0.45"/>
<line x1="204.94" y1="527.00" x2="204.94" y2="528.10" stroke="#333" stroke-width="0.45"/>
<line x1="206.84" y1="527.00" x2="206.84" y2="528.10" stroke="#333" stroke-width="0.45"/>
<line x1="208.73" y1="527.00" x2="208.73" y2="528.10" stroke="#333" stroke-width="0.45"/>
<line x1="210.62" y1="527.00" x2="210.62" y2="528.10" stroke="#333" stroke-width="0.45"/>
<line x1="212.52" y1="527.00" x2="212.52" y2="528.80" stroke="#333" stroke-width="0.45"/>
<line x1="214.41" y1="527.00" x2="214.41" y2="528.10" stroke="#333" stroke-width="0.45"/>
<line x1="216.31" y1="527.00" x2="216.31" y2="528.10" stroke="#333" stroke-width="0.45"/>
<line x1="218.20" y1="527.00" x2="218.20" y2="528.10" stroke="#333" stroke-width="0.45"/>
<line x1="220.09" y1="527.00" x2="220.09" y2="528.10" stroke="#333" stroke-width="0.45"/>
<line x1="221.99" y1="527.00" x2="221.99" y2="528.10" stroke="#333" stroke-width="0.45"/>
<line x1="223.88" y1="527.00" x2="223.88" y2="528.10" stroke="#333" stroke-width="0.45"/>
<line x1="225.78" y1="527.00" x2="225.78" y2="528.80" stroke="#333" stroke-width="0.45"/>
<line x1="227.67" y1="527.00" x2="227.67" y2="528.10" stroke="#333" stroke-width="0.45"/>
<line x1="229.56" y1="527.00" x2="229.56" y2="528.10" stroke="#333" stroke-width="0.45"/>
<line x1="231.46" y1="527.00" x2="231.46" y2="528.10" stroke="#333" stroke-width="0.45"/>
<line x1="233.35" y1="527.00" x2="233.35" y2="528.10" stroke="#333" stroke-width="0.45"/>
<line x1="235.25" y1="527.00" x2="235.25" y2="528.10" stroke="#333" stroke-width="0.45"/>
<line x1="237.14" y1="527.00" x2="237.14" y2="528.10" stroke="#333" stroke-width="0.45"/>
<line x1="239.04" y1="527.00" x2="239.04" y2="528.80" stroke="#333" stroke-width="0.45"/>
<line x1="240.93" y1="527.00" x2="240.93" y2="528.10" stroke="#333" stroke-width="0.45"/>
<line x1="242.82" y1="527.00" x2="242.82" y2="528.10" stroke="#333" stroke-width="0.45"/>
<line x1="244.72" y1="527.00" x2="244.72" y2="528.10" stroke="#333" stroke-width="0.45"/>
<line x1="246.61" y1="527.00" x2="246.61" y2="528.10" stroke="#333" stroke-width="0.45"/>
<line x1="248.51" y1="527.00" x2="248.51" y2="528.10" stroke="#333" stroke-width="0.45"/>
<line x1="206.30" y1="469.50" x2="206.30" y2="527.00" stroke="#444" stroke-width="0.7"/>
<line x1="186.00" y1="506.20" x2="250.40" y2="506.20" stroke="#444" stroke-width="0.7"/>
<path transform="scale(.5)" d="M91 981h2M89 988h2M88 956h2M120 999h2M139 968h2M172 969h2M131 1005h2M164 999h2M168 1015h2M133 1029h2M180 1019h2M95 953h2M184 1043h2M121 1042h2M188 978h2M156 1000h2M75 959h2M161 1005h2M120 959h2M86 964h2M153 1011h2M102 992h2M162 1000h2M108 1005h2M157 1016h2M92 1043h2M113 1032h2M156 992h2M99 1037h2M154 970h2M145 963h2M174 1027h2M155 1028h2M182 990h2M121 1016h2" stroke="#bbb" stroke-width="1.6" stroke-opacity="0.4" fill="none"/>
<path transform="scale(.5)" d="M82 1020h2M89 986h2M109 993h2M96 1005h2M102 1006h2M93 1003h2M80 1012h2M89 1001h2M95 1008h2M99 1021h2M78 1013h2M91 1020h2M111 1006h2M71 1031h2M101 1008h2M86 1016h2M105 1008h2M113 1011h2M106 1006h2M102 990h2M104 1021h2M102 997h2M82 1033h2M89 1020h2M98 1011h2M91 1012h2M98 1015h2M121 984h2M85 1006h2M92 996h2M83 992h2M70 1022h2M81 1008h2M81 1032h2M102 1028h2M92 1009h2M96 1005h2M101 1022h2M98 1000h2M106 995h2M85 1026h2M94 998h2M82 1000h2M103 1016h2M93 1006h2M91 1021h2M99 1027h2M87 1016h2M95 995h2M110 1019h2M98 1011h2M73 1005h2M95 1033h2M105 995h2M92 1018h2M86 996h2M83 991h2M96 1005h2M108 1010h2M92 1005h2M89 1028h2M101 998h2M101 1006h2M87 1012h2M107 1004h2M93 1002h2M82 982h2M110 1009h2M87 1015h2M89 1023h2M108 1011h2M71 983h2M93 1015h2M89 1016h2M92 1011h2M90 1016h2M74 1015h2M82 999h2M99 1018h2M86 992h2M105 1019h2M114 1002h2M84 1033h2M108 1000h2M92 989h2M93 1019h2M83 1017h2M100 1017h2M102 985h2M88 999h2M100 1026h2M100 1038h2M99 989h2M90 1010h2M97 1018h2M78 1009h2M99 1005h2M86 1001h2M81 1018h2M74 1022h2M86 1018h2M106 1012h2M86 1028h2M94 994h2M103 998h2M83 1006h2M95 1010h2M77 997h2M99 1021h2M85 1030h2M91 1005h2M83 1025h2M96 1003h2M80 996h2M93 1004h2M100 1026h2M76 1023h2M103 998h2M85 1005h2M101 996h2M109 1024h2M101 1004h2M110 1012h2M110 1014h2M92 1010h2M104 1020h2M89 1032h2M95 1016h2M103 1027h2M81 990h2M86 1000h2M104 1016h2M93 997h2M96 1010h2M90 1004h2M97 1011h2M102 1013h2M107 1031h2M110 1020h2M83 1009h2M112 1023h2M95 1010h2M76 1007h2M85 1010h2M89 1022h2M95 1006h2M70 1012h2M93 1003h2M103 1019h2M100 1004h2" stroke="#aaa" stroke-width="1.6" stroke-opacity="0.45" fill="none"/>
<path d="M56.0,499.0L60.0,496.8L66.0,496.8L70.0,498.5L70.7,503.0L69.5,508.5L65.0,511.2L59.0,510.5L55.5,507.0L55.0,502.0Z" fill="#f3b75a" fill-opacity="0.55" filter="url(#bl3)"/>
<path d="M56.0,499.0L60.0,496.8L66.0,496.8L70.0,498.5L70.7,503.0L69.5,508.5L65.0,511.2L59.0,510.5L55.5,507.0L55.0,502.0Z" fill="#ec9a1e" fill-opacity="0.78" filter="url(#bl2)"/>
<path transform="scale(.5)" d="M116 1025h2M131 1000h2M127 995h2M102 1013h2M129 1002h2M137 1014h2M120 1008h2M115 1003h2M127 1014h2M127 1004h2M111 999h2M133 1014h2M117 1008h2M118 1002h2M127 1016h2M119 1015h2M125 1003h2M137 1004h2M128 1005h2M132 1007h2M121 1014h2M129 1004h2M130 1019h2M119 991h2M116 1002h2M138 1000h2M117 1009h2M114 1004h2M133 1006h2M121 1012h2M123 997h2M132 996h2M117 996h2M119 1008h2M137 1006h2M140 1007h2M114 1014h2M134 997h2M122 1000h2M133 1003h2M115 1005h2M133 1015h2M126 1000h2M130 1015h2M119 1005h2M129 1015h2M129 1016h2M134 1013h2M128 996h2M124 1000h2M124 1013h2M125 1001h2M135 1019h2M126 1015h2M113 1006h2M137 1020h2M132 993h2M128 998h2M125 1017h2M126 1012h2M124 995h2M117 1005h2M117 1015h2M126 1003h2M135 1023h2M134 1013h2M136 1012h2M118 1012h2M122 1009h2M108 1006h2M140 1008h2M120 1004h2M125 1027h2M127 1019h2M121 1013h2M116 1022h2M123 1006h2M126 1025h2M116 1014h2M117 1011h2M116 1019h2M138 1005h2M109 996h2M115 1014h2M123 1004h2M121 1012h2M132 1013h2M126 1011h2M117 1001h2M121 1007h2M126 1002h2M125 1009h2M130 1013h2M127 1010h2M111 1003h2M125 1009h2M116 1020h2M133 1005h2M135 994h2M133 1010h2M120 1000h2M127 1002h2M124 1004h2M133 992h2M129 1008h2M131 1016h2M102 1008h2M117 1007h2M124 1014h2M131 1001h2M141 1010h2M127 1004h2M121 1022h2M116 1015h2M133 1015h2M126 1009h2M111 1000h2M125 1012h2M131 1015h2M129 1008h2" stroke="#ec9a1e" stroke-width="1.6" stroke-opacity="0.4" fill="none"/>
<path transform="scale(.5)" d="M228 1024h2M249 1036h2M310 976h2M224 975h2M332 1013h2M268 983h2M324 969h2M343 983h2M253 967h2M236 1031h2M301 1019h2M315 1023h2M283 950h2M337 968h2M292 979h2M256 1043h2M342 1047h2M231 980h2M236 959h2M283 985h2M290 952h2M266 994h2M313 1002h2M230 974h2M298 974h2M255 1014h2M329 1021h2M306 1031h2M337 958h2M271 972h2M256 1043h2M230 986h2M345 1037h2M305 1047h2M225 1046h2" stroke="#bbb" stroke-width="1.6" stroke-opacity="0.4" fill="none"/>
<path transform="scale(.5)" d="M276 1000h2M248 998h2M256 986h2M227 995h2M259 1003h2M269 1009h2M249 988h2M261 999h2M283 1001h2M263 996h2M248 1009h2M249 987h2M256 999h2M237 991h2M249 987h2M254 998h2M243 994h2M243 999h2M261 995h2M235 1008h2M240 998h2M229 1004h2M257 1000h2M282 1001h2M284 1002h2M294 1003h2M234 1007h2M260 994h2M259 1002h2M254 1004h2M248 994h2M231 997h2M254 998h2M264 1001h2M246 997h2M264 996h2M243 1005h2M246 992h2M266 1002h2M280 994h2M255 995h2M252 1006h2M265 982h2M261 1004h2M284 1002h2M252 1000h2M264 989h2M230 995h2M292 1008h2M275 994h2M221 996h2M280 1007h2M240 999h2M249 995h2M259 998h2M255 1004h2M254 988h2M259 1003h2M234 1003h2M280 1000h2M247 1004h2M270 1004h2M306 992h2M272 995h2M241 1010h2M279 995h2M252 1001h2M255 1005h2M257 998h2M235 992h2M238 989h2M223 1001h2M281 1002h2M298 991h2M284 1001h2M228 996h2M247 993h2M221 1000h2M271 1006h2M281 996h2M283 996h2M289 1003h2M262 1012h2M223 1002h2M260 1002h2M284 1007h2M250 1005h2M297 1003h2M243 989h2M259 990h2M263 995h2M233 997h2M275 1009h2M248 997h2M234 996h2M252 1012h2M234 982h2M256 1010h2M261 1004h2M258 999h2M246 996h2M233 1010h2M233 1002h2M285 1006h2M243 999h2M241 997h2M256 1005h2M269 997h2M263 1009h2M265 1003h2M261 1001h2M229 1002h2M244 993h2M266 1007h2M262 999h2M252 996h2M254 1003h2M260 1011h2M223 996h2M266 995h2M236 1002h2M279 1004h2M252 1000h2M249 1006h2M258 1004h2M252 1011h2M266 997h2M261 990h2M222 1003h2M263 1006h2M245 1004h2M240 1000h2M235 1004h2M284 996h2M262 1002h2M227 995h2M234 998h2M251 996h2M266 994h2M274 1004h2M238 988h2M244 1005h2M257 996h2M254 987h2M226 992h2M262 998h2M253 994h2M269 994h2M250 999h2M253 989h2M242 1002h2M261 997h2M259 991h2M260 999h2M240 1007h2M271 1002h2M262 1003h2M251 998h2M273 1003h2M241 999h2M247 991h2M231 992h2M231 996h2M276 992h2M239 998h2M265 1001h2M226 1009h2M253 1005h2M244 996h2M276 999h2M264 1005h2M232 1014h2M264 998h2M249 1001h2M270 1002h2M261 993h2M248 1004h2M266 991h2M273 1002h2M233 1001h2M243 997h2M252 1000h2M254 1003h2M255 999h2M263 1003h2M272 1011h2M264 998h2M248 1005h2M258 993h2M258 998h2M261 998h2M240 994h2M237 1001h2M280 995h2M232 999h2M279 1000h2M253 997h2M256 992h2M254 1002h2M244 997h2M280 1006h2M234 989h2M262 1004h2M271 999h2M263 1005h2M266 1006h2M225 1005h2M264 996h2M227 1003h2M254 1001h2M243 1003h2M273 997h2M268 999h2M265 1002h2M289 994h2M291 992h2M247 995h2M263 1006h2M276 994h2M257 1004h2M270 999h2M275 998h2M245 991h2M277 998h2M247 993h2M270 1005h2M266 1006h2M251 998h2M245 1002h2M235 1005h2M263 1000h2M282 997h2M283 999h2M254 1004h2M243 999h2M287 1007h2M239 999h2M276 998h2M236 1004h2M239 1001h2M273 975h2M241 1006h2M270 1005h2M263 998h2M274 998h2M257 1000h2M247 991h2M258 1005h2M247 1010h2M252 989h2M237 987h2M291 1002h2M268 994h2M268 999h2M254 993h2M254 996h2M277 992h2M250 1004h2M263 998h2M286 1003h2" stroke="#999" stroke-width="1.6" stroke-opacity="0.5" fill="none"/>
<path d="M130.5,505.5L146.5,505.5L147.0,510.0L145.5,516.0L142.0,520.5L137.0,521.5L132.5,519.5L130.5,514.0Z" fill="#f3b75a" fill-opacity="0.55" filter="url(#bl3)"/>
<path d="M130.5,505.5L146.5,505.5L147.0,510.0L145.5,516.0L142.0,520.5L137.0,521.5L132.5,519.5L130.5,514.0Z" fill="#ec9a1e" fill-opacity="0.78" filter="url(#bl2)"/>
<path transform="scale(.5)" d="M267 1009h2M265 1027h2M276 1013h2M278 1026h2M266 1019h2M276 1035h2M291 1019h2M270 1021h2M281 1017h2M271 1029h2M275 1022h2M281 1033h2M279 1020h2M270 1036h2M276 1012h2M261 1018h2M279 1017h2M272 1017h2M273 1025h2M262 1008h2M281 1025h2M270 1006h2M292 1027h2M273 1035h2M267 1030h2M273 1022h2M277 1023h2M289 1016h2M260 1018h2M274 1030h2M272 1022h2M273 1023h2M255 1030h2M271 1037h2M270 1035h2M256 1039h2M279 1019h2M274 1030h2M264 1022h2M279 1033h2M276 1025h2M266 1035h2M274 1025h2M282 1044h2M273 1031h2M275 1032h2M276 1025h2M264 1039h2M283 1014h2M264 1026h2M274 1024h2M271 1016h2M268 1015h2M273 1019h2M265 1029h2M279 1028h2M272 1019h2M272 1029h2M269 1018h2M273 1028h2M264 1023h2M266 1009h2M272 1015h2M270 1017h2M279 1028h2M277 1015h2M283 1019h2M281 1021h2M258 1041h2M276 1039h2M281 1020h2M258 1015h2M283 1033h2M284 1020h2M271 1023h2M271 1030h2M274 1024h2M275 1033h2M276 1030h2M284 1020h2M269 1030h2M294 1026h2M287 1037h2M285 1030h2M280 1011h2M279 1035h2M284 1016h2M278 1033h2M274 1019h2M278 1025h2M265 1032h2M259 1027h2M269 1025h2M267 1035h2M272 1017h2M278 1019h2M284 1039h2M261 1023h2M261 1052h2M280 1030h2" stroke="#ec9a1e" stroke-width="1.6" stroke-opacity="0.4" fill="none"/>
<path transform="scale(.5)" d="M446 1040h2M414 1008h2M490 1046h2M435 997h2M441 994h2M439 1009h2M386 992h2M398 962h2M425 1039h2M422 1040h2M475 950h2M487 994h2M453 957h2M399 1008h2M432 956h2M405 966h2M490 951h2M383 981h2M397 1028h2M431 1049h2M379 988h2M434 952h2M407 971h2M409 978h2M416 988h2M400 957h2M448 997h2M430 986h2M394 1038h2M415 1049h2M481 1008h2M430 959h2M446 1009h2M460 956h2M486 1030h2" stroke="#bbb" stroke-width="1.6" stroke-opacity="0.4" fill="none"/>
<ellipse cx="197.5" cy="510.5" rx="6" ry="6.5" transform="rotate(0 197.5 510.5)" fill="#777" fill-opacity="0.65" filter="url(#bl3)"/>
<path transform="scale(.5)" d="M403 1013h2M376 1026h2M388 1022h2M411 1024h2M398 1005h2M400 1022h2M396 1009h2M400 1037h2M409 1029h2M388 1025h2M387 1008h2M392 1025h2M390 1016h2M401 1026h2M396 1026h2M410 1020h2M405 1018h2M389 1024h2M395 1036h2M393 1017h2M397 1031h2M395 1012h2M392 1024h2M395 1035h2M400 1003h2M396 1018h2M397 1031h2M391 1023h2M396 1024h2M397 1012h2M396 1032h2M414 1010h2M404 1008h2M388 1017h2M394 1027h2M402 1030h2M398 1031h2M396 1033h2M404 1022h2M393 1026h2M383 1011h2M395 1009h2M399 1000h2M391 1031h2M384 1031h2M380 1014h2M387 1024h2M379 1016h2M381 1028h2M406 1017h2M388 1021h2M408 1015h2M407 1027h2M402 1021h2M399 1017h2M409 1012h2M401 1019h2M393 1021h2M389 1016h2M401 1016h2M405 1022h2M389 1037h2M393 1006h2M405 1021h2M380 1027h2M390 1025h2M406 1008h2M396 1024h2M387 1013h2M382 990h2M405 1027h2M394 1019h2M386 1003h2M403 1027h2M399 1010h2M401 1016h2M382 1022h2M386 1016h2M400 1023h2M405 1031h2M390 1021h2M401 1029h2M380 1023h2M397 1019h2M392 1030h2M399 1014h2M398 1027h2M398 1023h2M390 1025h2M403 1025h2M398 1038h2M375 1021h2M390 1032h2M405 1021h2M400 1022h2M380 1007h2M396 1016h2M408 1007h2M399 1028h2M398 1011h2M390 1009h2M399 1023h2M404 1021h2M403 1024h2M399 1015h2M401 1016h2M401 1019h2M402 1025h2M390 1028h2M389 1029h2M390 1020h2M401 1027h2M402 1027h2M393 1037h2M395 1016h2M396 1040h2M405 1021h2M395 1017h2M400 1015h2M390 1024h2M390 1005h2M391 1014h2M388 1028h2M408 1019h2M398 1032h2M409 1018h2M387 1024h2M401 1021h2M386 1006h2M385 1026h2M410 1029h2M394 1022h2M399 1028h2M399 1031h2M399 1018h2M399 1027h2M406 1027h2M402 1034h2M406 999h2M398 1022h2M390 1025h2M407 1023h2M400 1028h2M404 1037h2M389 1021h2M387 1009h2M401 1019h2M399 1007h2M396 1008h2M387 1021h2M393 1027h2M395 1008h2M395 1019h2M391 1021h2M383 1017h2M392 1025h2M384 1012h2M393 1025h2M386 1030h2M400 1030h2M392 1024h2M409 1027h2M389 1018h2M386 1017h2M392 1000h2M389 1006h2M401 1021h2M411 1025h2M405 1021h2M389 1012h2M394 1016h2M403 1022h2M400 1008h2M392 1026h2M408 1010h2M389 1033h2M402 1027h2M399 1025h2M400 1034h2M401 1014h2M396 1023h2M392 1026h2M384 1030h2M409 1020h2M401 1017h2M394 1025h2M382 1025h2M383 1004h2M393 1023h2M393 1027h2M393 1015h2M406 1022h2M398 1016h2M396 1009h2M385 1022h2M383 1020h2M396 1018h2M397 1026h2M391 1019h2M389 1027h2M392 1016h2M403 1024h2M386 1031h2M392 1037h2M403 1029h2M382 1024h2M389 1041h2M402 1025h2M415 1036h2M382 1023h2M389 1002h2M417 1027h2M378 1022h2M392 1024h2M391 1012h2M406 1033h2M394 1023h2M415 1027h2M404 1014h2M393 1009h2M418 1028h2M387 1010h2M399 1035h2M411 1014h2M401 1018h2M378 1012h2M386 1018h2M397 1022h2M396 1041h2M406 1041h2M379 1030h2M404 1020h2M388 1015h2M396 1024h2M397 1033h2M398 1007h2M404 1020h2M402 1015h2M387 1021h2M392 1015h2M408 1016h2M390 1022h2M397 1023h2M398 1031h2M383 1022h2M406 1017h2M389 1028h2M405 1027h2M394 1029h2M396 1009h2M400 1032h2M402 1003h2M401 1022h2M395 1027h2M393 1027h2M392 1021h2M385 1013h2M400 1035h2M396 1025h2M391 1019h2M397 1017h2M387 1029h2M399 1016h2M394 1020h2M396 1032h2M396 1027h2M414 1021h2M404 1011h2M405 1006h2M392 1008h2M402 1022h2M389 1013h2M391 1025h2M394 1005h2M399 1007h2M402 1010h2M388 1029h2M401 1015h2M401 1032h2M388 1020h2M388 1002h2M394 1020h2M395 1001h2M394 1022h2M387 1019h2M406 1021h2M389 1013h2M388 1013h2M398 1000h2M400 1011h2M377 1015h2M404 1037h2M391 1030h2M404 1026h2M399 1011h2M386 1012h2M389 1015h2M401 1020h2M390 1030h2M390 1038h2" stroke="#666" stroke-width="1.6" stroke-opacity="0.5" fill="none"/>
<ellipse cx="214.4" cy="512.1" rx="6.4" ry="6.8" fill="#f3b75a" fill-opacity="0.5" filter="url(#bl3)"/>
<ellipse cx="214.4" cy="512.1" rx="5.9" ry="6.4" fill="#ec9a1e" fill-opacity="0.85" filter="url(#bl2)"/>
<line x1="24.40" y1="470.40" x2="24.40" y2="492.20" stroke="#111" stroke-width="1.2"/>
<line x1="24.40" y1="518.30" x2="24.40" y2="539.80" stroke="#111" stroke-width="1.2"/>
<text x="26.7" y="505.3" font-size="8.6" text-anchor="middle" textLength="18.8" lengthAdjust="spacingAndGlyphs" transform="rotate(-90 26.7 505.3)" fill="#111" stroke="#111" stroke-width="0.38">CD95</text>
<line x1="23.80" y1="539.80" x2="124.40" y2="539.80" stroke="#111" stroke-width="1.1"/>
<line x1="151.00" y1="539.80" x2="251.30" y2="539.80" stroke="#111" stroke-width="1.1"/>
<text x="137.7" y="542.4" font-size="8.8" text-anchor="middle" textLength="18.4" lengthAdjust="spacingAndGlyphs" fill="#111" stroke="#111" stroke-width="0.38">CD27</text>
<path d="M140.40,99.20L140.40,82.70L140.40,91.20L140.40,107.70Z" fill="#304f75"/>
<path d="M140.40,99.20L158.69,85.00L158.69,93.50L140.40,107.70Z" fill="#304f75"/>
<path d="M140.40,82.70L142.75,82.74L145.10,82.85L147.43,83.03L149.75,83.29L152.04,83.61L154.30,84.01L156.52,84.47L158.69,85.00L158.69,93.50L156.52,92.97L154.30,92.51L152.04,92.11L149.75,91.79L147.43,91.53L145.10,91.35L142.75,91.24L140.40,91.20Z" fill="#3f6797"/>
<path d="M140.40,99.20L140.40,82.70L142.75,82.74L145.10,82.85L147.43,83.03L149.75,83.29L152.04,83.61L154.30,84.01L156.52,84.47L158.69,85.00Z" fill="#4f81bd" stroke="#436da0" stroke-width="0.3"/>
<path d="M146.50,98.80L167.52,85.36L167.52,93.86L146.50,107.30Z" fill="#77312f"/>
<path d="M146.50,98.80L172.32,86.54L172.32,95.04L146.50,107.30Z" fill="#77312f"/>
<path d="M167.52,85.36L168.75,85.63L169.96,85.92L171.15,86.22L172.32,86.54L172.32,95.04L171.15,94.72L169.96,94.42L168.75,94.13L167.52,93.86Z" fill="#99403d"/>
<path d="M146.50,98.80L167.52,85.36L168.75,85.63L169.96,85.92L171.15,86.22L172.32,86.54Z" fill="#c0504d" stroke="#a34441" stroke-width="0.3"/>
<path d="M133.20,104.00L128.34,85.68L128.34,94.18L133.20,112.50Z" fill="#6e647b"/>
<path d="M133.20,104.00L133.20,85.52L133.20,94.02L133.20,112.50Z" fill="#6e647b"/>
<path d="M128.34,85.68L129.55,85.61L130.77,85.56L131.98,85.53L133.20,85.52L133.20,94.02L131.98,94.03L130.77,94.06L129.55,94.11L128.34,94.18Z" fill="#8f819f"/>
<path d="M133.20,104.00L128.34,85.68L129.55,85.61L130.77,85.56L131.98,85.53L133.20,85.52Z" fill="#b3a2c7" stroke="#62596d" stroke-width="0.55"/>
<path d="M132.60,104.00L122.93,86.39L122.93,94.89L132.60,112.50Z" fill="#788460"/>
<path d="M132.60,104.00L127.74,85.90L127.74,94.40L132.60,112.50Z" fill="#788460"/>
<path d="M122.93,86.39L124.12,86.24L125.32,86.11L126.53,85.99L127.74,85.90L127.74,94.40L126.53,94.49L125.32,94.61L124.12,94.74L122.93,94.89Z" fill="#9cab7c"/>
<path d="M132.60,104.00L122.93,86.39L124.12,86.24L125.32,86.11L126.53,85.99L127.74,85.90Z" fill="#c3d69b" stroke="#6b7555" stroke-width="0.55"/>
<path d="M132.10,104.00L113.18,88.48L113.18,96.98L132.10,112.50Z" fill="#865d5b"/>
<path d="M132.10,104.00L122.43,86.60L122.43,95.10L132.10,112.50Z" fill="#865d5b"/>
<path d="M113.18,88.48L115.43,87.90L117.72,87.39L120.06,86.96L122.43,86.60L122.43,95.10L120.06,95.46L117.72,95.89L115.43,96.40L113.18,96.98Z" fill="#ad7876"/>
<path d="M132.10,104.00L113.18,88.48L115.43,87.90L117.72,87.39L120.06,86.96L122.43,86.60Z" fill="#d99694" stroke="#775251" stroke-width="0.55"/>
<path d="M131.50,104.20L104.22,91.66L104.22,100.16L131.50,112.70Z" fill="#5c6e85"/>
<path d="M131.50,104.20L112.58,88.68L112.58,97.18L131.50,112.70Z" fill="#5c6e85"/>
<path d="M104.22,91.66L106.20,90.82L108.26,90.04L110.39,89.33L112.58,88.68L112.58,97.18L110.39,97.83L108.26,98.54L106.20,99.32L104.22,100.16Z" fill="#778fac"/>
<path d="M131.50,104.20L104.22,91.66L106.20,90.82L108.26,90.04L110.39,89.33L112.58,88.68Z" fill="#95b3d7" stroke="#516276" stroke-width="0.55"/>
<path d="M130.80,104.60L95.83,95.72L95.83,104.22L130.80,113.10Z" fill="#995d2b"/>
<path d="M130.80,104.60L102.92,91.75L102.92,100.25L130.80,113.10Z" fill="#995d2b"/>
<path d="M95.83,95.72L97.43,94.66L99.15,93.64L100.99,92.67L102.92,91.75L102.92,100.25L100.99,101.17L99.15,102.14L97.43,103.16L95.83,104.22Z" fill="#c57838"/>
<path d="M130.80,104.60L95.83,95.72L97.43,94.66L99.15,93.64L100.99,92.67L102.92,91.75Z" fill="#f79646" stroke="#875226" stroke-width="0.55"/>
<path d="M130.00,105.40L86.14,103.42L86.14,111.92L130.00,113.90Z" fill="#2e6a7a"/>
<path d="M130.00,105.40L93.13,95.88L93.13,104.38L130.00,113.90Z" fill="#2e6a7a"/>
<path d="M86.14,103.42L86.88,102.11L87.80,100.81L88.90,99.53L90.16,98.28L91.57,97.07L93.13,95.88L93.13,104.38L91.57,105.57L90.16,106.78L88.90,108.03L87.80,109.31L86.88,110.61L86.14,111.92Z" fill="#3c899e"/>
<path d="M130.00,105.40L86.14,103.42L86.88,102.11L87.80,100.81L88.90,99.53L90.16,98.28L91.57,97.07L93.13,95.88Z" fill="#4bacc6" stroke="#295e6c" stroke-width="0.55"/>
<path d="M129.00,108.00L106.03,129.21L106.03,137.71L129.00,116.50Z" fill="#4f3e64"/>
<path d="M129.00,108.00L83.78,105.62L83.78,114.12L129.00,116.50Z" fill="#4f3e64"/>
<path d="M106.03,129.21L103.42,128.52L100.93,127.77L98.56,126.94L96.34,126.04L94.26,125.08L92.34,124.06L90.58,122.97L88.99,121.84L87.57,120.65L86.33,119.42L85.27,118.15L84.39,116.84L83.70,115.49L83.18,114.12L82.84,112.73L82.69,111.32L82.71,109.90L82.90,108.48L83.26,107.05L83.78,105.62L83.78,114.12L83.26,115.55L82.90,116.98L82.71,118.40L82.69,119.82L82.84,121.23L83.18,122.62L83.70,123.99L84.39,125.34L85.27,126.65L86.33,127.92L87.57,129.15L88.99,130.34L90.58,131.47L92.34,132.56L94.26,133.58L96.34,134.54L98.56,135.44L100.93,136.27L103.42,137.02L106.03,137.71Z" fill="#665081"/>
<path d="M129.00,108.00L106.03,129.21L103.42,128.52L100.93,127.77L98.56,126.94L96.34,126.04L94.26,125.08L92.34,124.06L90.58,122.97L88.99,121.84L87.57,120.65L86.33,119.42L85.27,118.15L84.39,116.84L83.70,115.49L83.18,114.12L82.84,112.73L82.69,111.32L82.71,109.90L82.90,108.48L83.26,107.05L83.78,105.62Z" fill="#8064a2" stroke="#6c5589" stroke-width="0.3"/>
<path d="M147.50,113.00L172.29,96.25L172.29,104.75L147.50,121.50Z" fill="#586d34"/>
<path d="M147.50,113.00L125.45,132.05L125.45,140.55L147.50,121.50Z" fill="#586d34"/>
<path d="M172.29,96.25L174.27,97.08L176.17,97.96L178.00,98.89L179.75,99.88L181.42,100.91L182.98,101.99L184.45,103.10L185.80,104.26L187.04,105.44L188.15,106.65L189.14,107.88L189.99,109.14L190.69,110.40L191.25,111.68L191.65,112.96L191.89,114.24L191.97,115.51L191.89,116.78L191.63,118.03L191.20,119.27L190.60,120.48L189.82,121.66L188.87,122.82L187.75,123.94L186.46,125.02L185.00,126.05L183.38,127.04L181.60,127.98L179.67,128.87L177.59,129.69L175.38,130.46L173.04,131.17L170.59,131.80L168.02,132.38L165.36,132.88L162.62,133.31L159.81,133.66L156.94,133.95L154.02,134.15L151.07,134.28L148.11,134.34L145.14,134.32L142.18,134.22L139.25,134.04L136.36,133.79L133.52,133.46L130.75,133.06L128.05,132.59L125.45,132.05L125.45,140.55L128.05,141.09L130.75,141.56L133.52,141.96L136.36,142.29L139.25,142.54L142.18,142.72L145.14,142.82L148.11,142.84L151.07,142.78L154.02,142.65L156.94,142.45L159.81,142.16L162.62,141.81L165.36,141.38L168.02,140.88L170.59,140.30L173.04,139.67L175.38,138.96L177.59,138.19L179.67,137.37L181.60,136.48L183.38,135.54L185.00,134.55L186.46,133.52L187.75,132.44L188.87,131.32L189.82,130.16L190.60,128.98L191.20,127.77L191.63,126.53L191.89,125.28L191.97,124.01L191.89,122.74L191.65,121.46L191.25,120.18L190.69,118.90L189.99,117.64L189.14,116.38L188.15,115.15L187.04,113.94L185.80,112.76L184.45,111.60L182.98,110.49L181.42,109.41L179.75,108.38L178.00,107.39L176.17,106.46L174.27,105.58L172.29,104.75Z" fill="#728c43"/>
<path d="M147.50,113.00L172.29,96.25L174.27,97.08L176.17,97.96L178.00,98.89L179.75,99.88L181.42,100.91L182.98,101.99L184.45,103.10L185.80,104.26L187.04,105.44L188.15,106.65L189.14,107.88L189.99,109.14L190.69,110.40L191.25,111.68L191.65,112.96L191.89,114.24L191.97,115.51L191.89,116.78L191.63,118.03L191.20,119.27L190.60,120.48L189.82,121.66L188.87,122.82L187.75,123.94L186.46,125.02L185.00,126.05L183.38,127.04L181.60,127.98L179.67,128.87L177.59,129.69L175.38,130.46L173.04,131.17L170.59,131.80L168.02,132.38L165.36,132.88L162.62,133.31L159.81,133.66L156.94,133.95L154.02,134.15L151.07,134.28L148.11,134.34L145.14,134.32L142.18,134.22L139.25,134.04L136.36,133.79L133.52,133.46L130.75,133.06L128.05,132.59L125.45,132.05Z" fill="#8fb054" stroke="#799547" stroke-width="0.3"/>
<text x="109.8" y="42.5" font-size="6.0" text-anchor="middle" textLength="45.0" lengthAdjust="spacingAndGlyphs" fill="#111" stroke="#111" stroke-width="0.22">TN+TCM+TEMRA</text>
<text x="109.3" y="49.2" font-size="6.0" text-anchor="middle" textLength="12.6" lengthAdjust="spacingAndGlyphs" fill="#111" stroke="#111" stroke-width="0.22">n = 1</text>
<line x1="117.50" y1="48.30" x2="126.50" y2="87.00" stroke="#111" stroke-width="0.95"/>
<text x="159.4" y="48.8" font-size="6.0" text-anchor="middle" textLength="41.5" lengthAdjust="spacingAndGlyphs" fill="#111" stroke="#111" stroke-width="0.22">TCM+TTM+TEM</text>
<text x="158.8" y="55.6" font-size="6.0" text-anchor="middle" textLength="12.6" lengthAdjust="spacingAndGlyphs" fill="#111" stroke="#111" stroke-width="0.22">n = 1</text>
<line x1="152.10" y1="54.00" x2="133.20" y2="86.50" stroke="#111" stroke-width="0.95"/>
<text x="79.9" y="57.8" font-size="6.0" text-anchor="middle" textLength="41.8" lengthAdjust="spacingAndGlyphs" fill="#111" stroke="#111" stroke-width="0.22">TN+TSCM+TCM</text>
<text x="79.6" y="64.7" font-size="6.0" text-anchor="middle" textLength="12.6" lengthAdjust="spacingAndGlyphs" fill="#111" stroke="#111" stroke-width="0.22">n = 2</text>
<line x1="102.00" y1="57.30" x2="118.00" y2="87.50" stroke="#111" stroke-width="0.95"/>
<text x="36.55" y="66.6" font-size="6.0" text-anchor="middle" textLength="30.7" lengthAdjust="spacingAndGlyphs" fill="#111" stroke="#111" stroke-width="0.22">TSCM+TCM</text>
<text x="36.6" y="72.9" font-size="6.0" text-anchor="middle" textLength="12.6" lengthAdjust="spacingAndGlyphs" fill="#111" stroke="#111" stroke-width="0.22">n = 2</text>
<line x1="52.30" y1="66.00" x2="107.00" y2="90.00" stroke="#111" stroke-width="0.95"/>
<text x="39.5" y="86.5" font-size="6.0" text-anchor="middle" textLength="26.6" lengthAdjust="spacingAndGlyphs" fill="#111" stroke="#111" stroke-width="0.22">TN+TSCM</text>
<text x="39.4" y="93.4" font-size="6.0" text-anchor="middle" textLength="12.6" lengthAdjust="spacingAndGlyphs" fill="#111" stroke="#111" stroke-width="0.22">n = 2</text>
<line x1="53.40" y1="86.00" x2="95.00" y2="94.50" stroke="#111" stroke-width="0.95"/>
<text x="40.75" y="105.4" font-size="6.0" text-anchor="middle" textLength="27.1" lengthAdjust="spacingAndGlyphs" fill="#111" stroke="#111" stroke-width="0.22">TCM+TTM</text>
<text x="40.6" y="111.8" font-size="6.0" text-anchor="middle" textLength="12.6" lengthAdjust="spacingAndGlyphs" fill="#111" stroke="#111" stroke-width="0.22">n = 3</text>
<line x1="55.40" y1="104.90" x2="87.00" y2="99.50" stroke="#111" stroke-width="0.95"/>
<text x="63.85" y="126.5" font-size="6.0" text-anchor="middle" textLength="23.1" lengthAdjust="spacingAndGlyphs" fill="#111" stroke="#111" stroke-width="0.22">TN+TCM</text>
<text x="63.6" y="133.1" font-size="6.0" text-anchor="middle" textLength="12.6" lengthAdjust="spacingAndGlyphs" fill="#111" stroke="#111" stroke-width="0.22">n = 9</text>
<line x1="76.90" y1="125.70" x2="86.50" y2="129.50" stroke="#111" stroke-width="0.95"/>
<text x="164.15" y="71.5" font-size="6.0" text-anchor="middle" textLength="7.1" lengthAdjust="spacingAndGlyphs" fill="#111" stroke="#111" stroke-width="0.22">TN</text>
<text x="164.3" y="78.1" font-size="6.0" text-anchor="middle" textLength="12.6" lengthAdjust="spacingAndGlyphs" fill="#111" stroke="#111" stroke-width="0.22">n = 4</text>
<line x1="157.90" y1="77.00" x2="150.50" y2="83.00" stroke="#111" stroke-width="0.95"/>
<text x="195.2" y="81.0" font-size="6.0" text-anchor="middle" textLength="15.6" lengthAdjust="spacingAndGlyphs" fill="#111" stroke="#111" stroke-width="0.22">TSCM</text>
<text x="194.6" y="87.2" font-size="6.0" text-anchor="middle" textLength="12.6" lengthAdjust="spacingAndGlyphs" fill="#111" stroke="#111" stroke-width="0.22">n = 1</text>
<line x1="186.70" y1="79.00" x2="167.70" y2="85.50" stroke="#111" stroke-width="0.95"/>
<text x="209.4" y="116.4" font-size="6.0" text-anchor="middle" textLength="12.2" lengthAdjust="spacingAndGlyphs" fill="#111" stroke="#111" stroke-width="0.22">TCM</text>
<text x="209.1" y="123.2" font-size="6.0" text-anchor="middle" textLength="16.3" lengthAdjust="spacingAndGlyphs" fill="#111" stroke="#111" stroke-width="0.22">n = 22</text>
<line x1="201.00" y1="121.80" x2="183.50" y2="134.00" stroke="#111" stroke-width="0.95"/>
<rect x="0.00" y="0.00" width="520.00" height="1.50" fill="#000"/>
<rect x="0.00" y="0.00" width="1.50" height="552.00" fill="#000"/>
<rect x="518.00" y="0.00" width="2.00" height="552.00" fill="#000"/>
<rect x="0.00" y="550.00" width="520.00" height="2.00" fill="#000"/></svg>
</body></html>
